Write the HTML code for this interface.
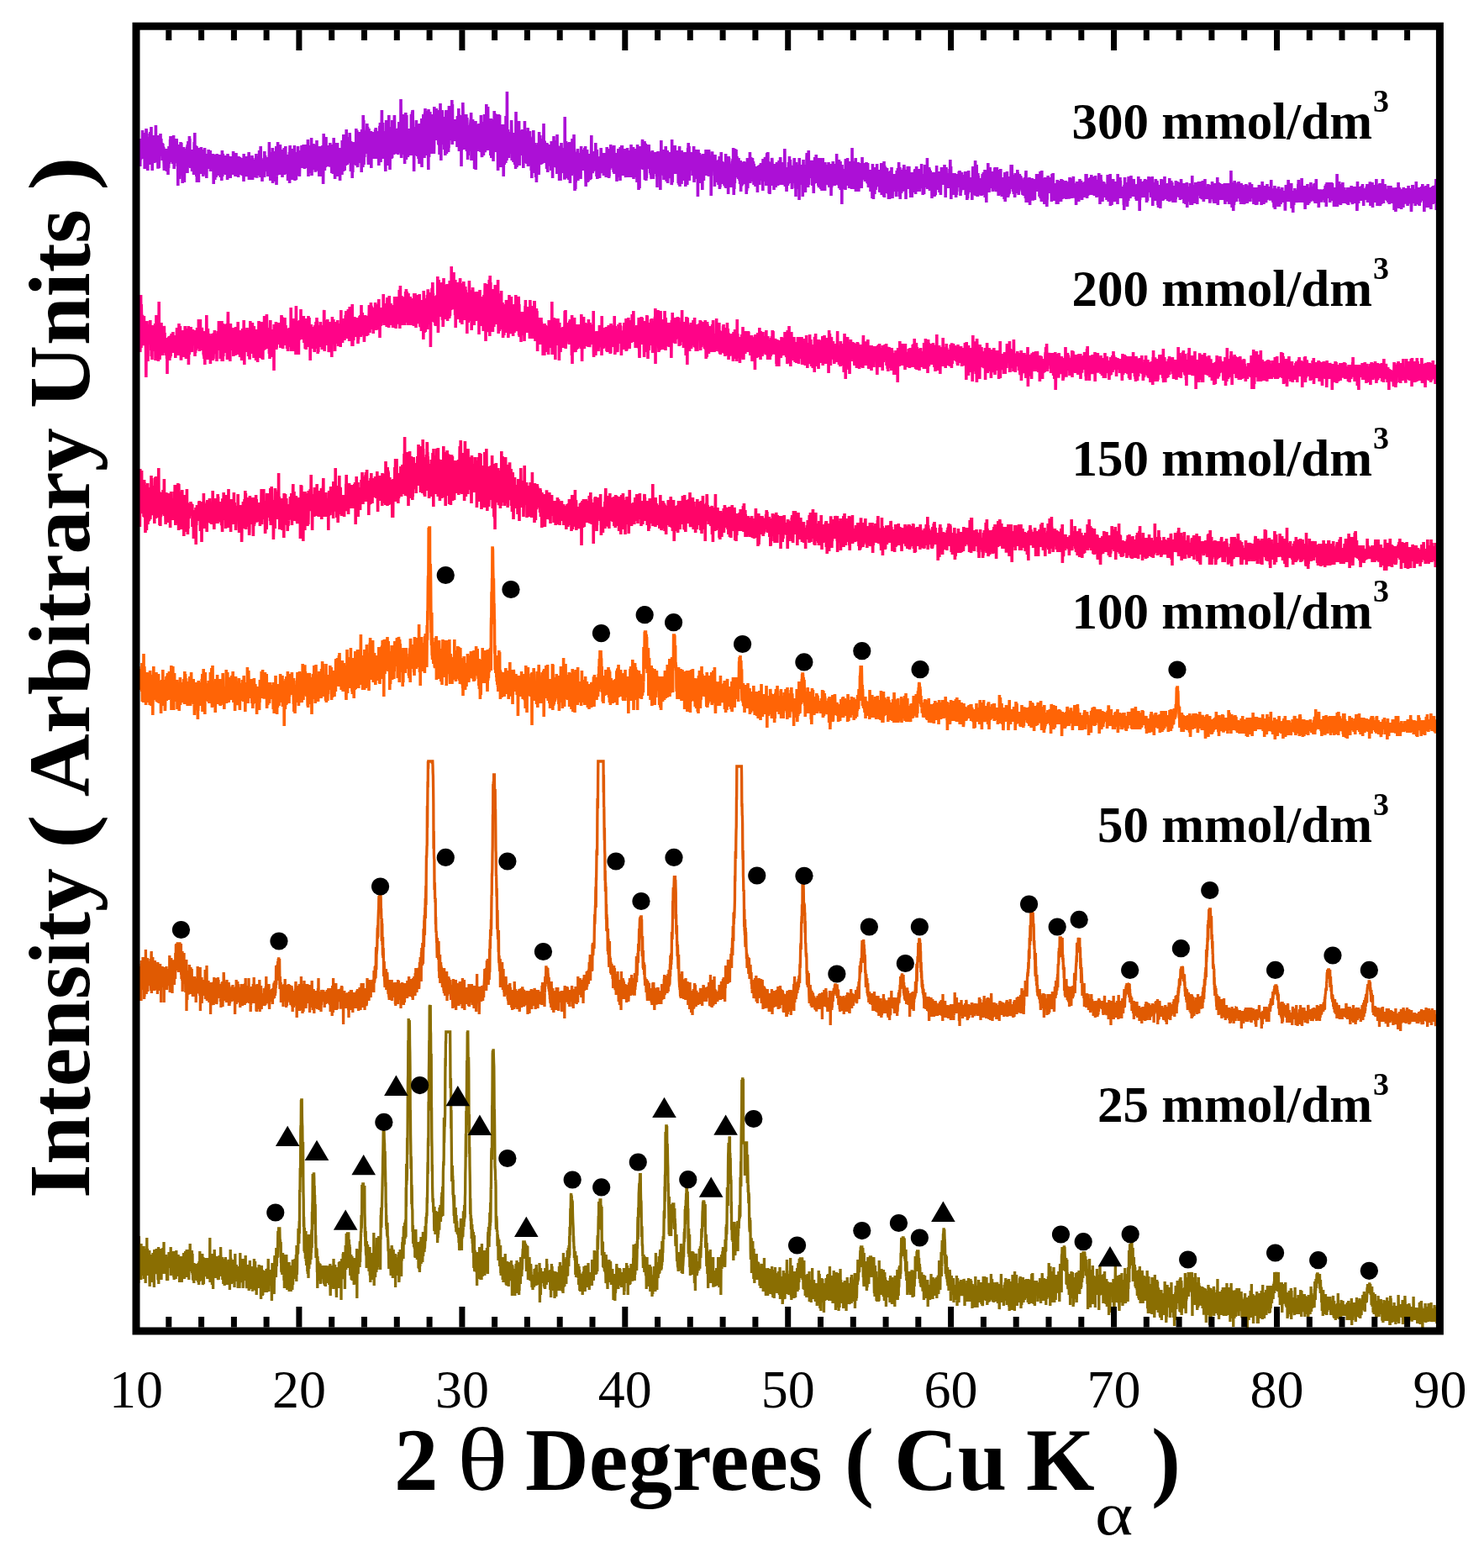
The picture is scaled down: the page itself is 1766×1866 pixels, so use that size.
<!DOCTYPE html>
<html><head><meta charset="utf-8"><title>XRD patterns</title>
<style>html,body{margin:0;padding:0;background:#fff;width:1766px;height:1866px;overflow:hidden}svg{display:block}</style>
</head><body>
<svg width="1766" height="1866" viewBox="0 0 1766 1866">
<rect width="100%" height="100%" fill="#fff"/>
<path fill="none" stroke="#AC10D6" stroke-width="3.6" stroke-linejoin="miter" d="M162.0,170l.2-1 .2 0 .2 16 .2 2 .2-29 .2 23 .2 0 .2-11 .2-14 .2 18 .2-12 .2 19 .2 0 .2 12 .2-23 .2 9 .2-6 .2 9 .2-12 .2 2 .2-7 .2 13 .2 1 .2 19 .2-16 .2-7 .2 15 .2-1 .2-16 .2 7 .2-6 .2 1 .2 3 .2-3 .2-5 .2 12 .2-11 .2-16 .2 14 .2 20 .2-9 .2 3 .2-4 .2-12 .2-9 .2 2 .2 15 .2-3 .2 5 .2-9 .2 33 .2-35 .2 25 .2-20 .2 19 .2 7 .2-1 .2-3 .2-11 .2-29 .2 3 .2 22 .2 8 .2-27 .2 30 .2-13 .2-13 .2 15 .2 25 .2-34 .2 11 .2 1 .2-9 .2 18 .2 4 .2-9 .2 11 .2-16 .2 7 .2-21 .2 30 .2-20 .2-19 .2 20 .2-16 .2 4 .2 22 .2 0 .2-21 .2-15 .2 34 .2-22 .2 23 .2 1 .2-4 .2 20 .2-16 .2-10 .2-4 .2 6 .2 4 .2-20 .2 13 .2 4 .2-19 .2 3 .2 19 .2-20 .2 31 .2-8 .2-2 .2-12 .2-4 .2 15 .2 2 .2 8 .2-44 .2 38 .2 3 .2-16 .2 12 .2-12 .2 1 .2-11 .2 26 .2-7 .2-6 .2 0 .2 9 .2 13 .2 0 .2-15 .2-12 .2 17 .2-28 .2 39 .2-9 .2-16 .2 4 .2-7 .2 14 .2-16 .2 11 .2-8 .2-14 .2 21 .2-5 .2-6 .2-4 .2 9 .2 0 .2-4 .2 3 .2 4 .2-7 .2 21 .2-6 .2 4 .2-18 .2 6 .2 7 .2-2 .2-7 .2 1 .2 15 .2 4 .2 8 .2-21 .2 12 .2 1 .2-6 .2-1 .2-1 .2 10 .2 0 .2-20 .2 6 .2-6 .2 12 .2-8 .2 10 .2 13 .2-23 .2 19 .2-10 .2-5 .2 0 .2 0 .2 9 .2 14 .2-21 .2-5 .2 18 .2-7 .2-19 .2 21 .2-14 .2 6 .2 6 .2-15 .2 4 .2 7 .2-23 .2 13 .2-17 .2 23 .2-5 .2-10 .2 3 .2-11 .2 18 .2-9 .2 10 .2 10 .2-16 .2-7 .2 27 .2-24 .2 22 .2-8 .2 9 .2-19 .2-14 .2 13 .2 8 .2 19 .2-30 .2 15 .2-20 .2 11 .2 17 .2-1 .2-6 .2-4 .2 5 .2 6 .2-12 .2 0 .2 4 .2 2 .2-23 .2 17 .2 0 .2 3 .2-6 .2 19 .2-3 .2-7 .2 33 .2-24 .2 6 .2-10 .2 3 .2 5 .2-19 .2-8 .2 39 .2-41 .2 4 .2 12 .2-4 .2 8 .2 17 .2-9 .2-31 .2 16 .2 9 .2-4 .2-20 .2 15 .2 18 .2-12 .2-6 .2-8 .2 25 .2 16 .2-36 .2 20 .2-11 .2-12 .2-4 .2 19 .2-5 .2-7 .2 10 .2 2 .2 23 .2-29 .2-7 .2-4 .2 17 .2 3 .2-11 .2 12 .2-9 .2-4 .2-3 .2 6 .2 2 .2-7 .2-7 .2-1 .2 24 .2-18 .2 25 .2-34 .2 14 .2-3 .2-10 .2-5 .2 9 .2 22 .2-22 .2 13 .2 1 .2 2 .2-31 .2 18 .2-15 .2 26 .2 3 .2 5 .2-4 .2 5 .2-2 .2-6 .2 6 .2-19 .2 12 .2-13 .2 4 .2 9 .2 13 .2-17 .2 9 .2-6 .2 14 .2-6 .2-13 .2 16 .2-7 .2-4 .2 18 .2-17 .2-6 .2-16 .2 7 .2 25 .2-43 .2 44 .2-26 .2 3 .2 22 .2-28 .2 12 .2-3 .2 7 .2 14 .2 7 .2-36 .2 7 .2 36 .2-18 .2 13 .2-1 .2-18 .2-9 .2 17 .2-4 .2 11 .2-11 .2 20 .2-40 .2-1 .2 12 .2-6 .2 12 .2-8 .2 21 .2-12 .2 3 .2-9 .2 5 .2-3 .2-6 .2 12 .2-22 .2 15 .2-1 .2 18 .2-15 .2-14 .2 16 .2 5 .2 1 .2 4 .2 0 .2-3 .2 9 .2-17 .2 9 .2-3 .2 2 .2 1 .2-7 .2 0 .2 3 .2-22 .2 25 .2 6 .2-11 .2-2 .2 2 .2 12 .2-15 .2 14 .2-23 .2 7 .2 21 .2-20 .2-9 .2 16 .2-7 .2 3 .2 6 .2-10 .2 9 .2-7 .2 2 .2-3 .2-14 .2 8 .2 2 .2 13 .2-15 .2-2 .2 11 .2 5 .2-5 .2-4 .2-12 .2 19 .2 6 .2-13 .2 5 .2-10 .2 2 .2 8 .2-3 .2 6 .2-2 .2-6 .2-1 .2 10 .2-15 .2 15 .2-7 .2-10 .2 4 .2 6 .2 26 .2-24 .2-10 .2 20 .2-18 .2-3 .2 15 .2 6 .2 9 .2-15 .2-10 .2 7 .2 12 .2 2 .2-22 .2 23 .2-18 .2-8 .2 17 .2-5 .2-14 .2 5 .2 9 .2 4 .2-14 .2 20 .2-17 .2-1 .2 15 .2 5 .2-14 .2 2 .2 5 .2 7 .2-14 .2 2 .2-3 .2-10 .2 21 .2-9 .2 15 .2-16 .2 16 .2-10 .2 7 .2-20 .2 5 .2 1 .2 21 .2-13 .2-8 .2-15 .2 11 .2 20 .2-16 .2 9 .2-20 .2 18 .2 6 .2-6 .2-12 .2-1 .2 14 .2-14 .2-3 .2 13 .2-11 .2 0 .2 8 .2 1 .2-11 .2 12 .2 11 .2-5 .2 3 .2-1 .2-7 .2 1 .2-10 .2 0 .2 1 .2-3 .2 27 .2-6 .2-25 .2 19 .2-5 .2 3 .2 0 .2 4 .2-18 .2 2 .2 4 .2 12 .2-8 .2 0 .2-2 .2 9 .2-4 .2 9 .2 4 .2-10 .2-13 .2-3 .2 9 .2 3 .2-1 .2 2 .2-2 .2 11 .2-11 .2 11 .2-9 .2-4 .2 3 .2-5 .2 6 .2-19 .2 19 .2 7 .2 1 .2-15 .2-2 .2 18 .2-21 .2 11 .2-2 .2 5 .2 5 .2 4 .2-27 .2 13 .2-14 .2 11 .2-11 .2 14 .2-2 .2 6 .2 3 .2-4 .2 5 .2 3 .2-10 .2 1 .2-6 .2-1 .2 13 .2 7 .2-12 .2-13 .2 6 .2 8 .2-1 .2-8 .2 8 .2 0 .2-12 .2 3 .2 13 .2-12 .2 5 .2 12 .2-3 .2-1 .2-16 .2 4 .2 6 .2 0 .2 6 .2 0 .2 2 .2 3 .2-12 .2-7 .2 15 .2-6 .2 1 .2-6 .2 3 .2 19 .2-33 .2 20 .2-3 .2 3 .2-9 .2 4 .2-4 .2 1 .2-1 .2 16 .2-2 .2-6 .2-1 .2-8 .2-7 .2 15 .2-10 .2 3 .2-3 .2 4 .2 0 .2 14 .2 1 .2-11 .2 5 .2-5 .2 3 .2-5 .2 6 .2-15 .2-7 .2 33 .2-12 .2-1 .2 4 .2-3 .2 5 .2-15 .2 4 .2 14 .2-7 .2-8 .2-5 .2 24 .2-6 .2-4 .2-15 .2 6 .2-4 .2-6 .2 10 .2 1 .2 18 .2-26 .2 18 .2-5 .2 2 .2-4 .2 6 .2-8 .2 9 .2-3 .2-13 .2 5 .2 16 .2-1 .2-20 .2 9 .2 10 .2-9 .2-9 .2 10 .2-4 .2-14 .2 17 .2-3 .2 4 .2 9 .2 0 .2-2 .2 1 .2-21 .2 0 .2 11 .2-3 .2 3 .2-7 .2 9 .2 8 .2-14 .2 0 .2-3 .2-13 .2 15 .2 0 .2 4 .2-10 .2 19 .2-3 .2 7 .2-37 .2 15 .2 12 .2-2 .2 0 .2-4 .2 9 .2-12 .2 2 .2 22 .2-23 .2 11 .2-7 .2 5 .2-6 .2 8 .2 2 .2-11 .2-3 .2-1 .2-3 .2 20 .2 3 .2-31 .2 9 .2 8 .2 6 .2-18 .2 6 .2 6 .2 5 .2-15 .2 17 .2-17 .2 16 .2-14 .2 2 .2 10 .2-3 .2 3 .2-8 .2-1 .2 13 .2 5 .2-12 .2 0 .2-11 .2 23 .2-20 .2 7 .2 9 .2-37 .2 22 .2-9 .2 8 .2 4 .2-13 .2 23 .2 11 .2-24 .2 3 .2 15 .2-11 .2-14 .2 16 .2-11 .2 17 .2-17 .2 19 .2-24 .2 9 .2-17 .2 42 .2-22 .2-3 .2 6 .2-2 .2 3 .2 16 .2-6 .2-19 .2 7 .2-4 .2 5 .2-14 .2 6 .2-11 .2 19 .2-12 .2 18 .2-10 .2-15 .2 29 .2-35 .2 46 .2-11 .2-1 .2 1 .2-5 .2-12 .2-8 .2 10 .2-25 .2 27 .2-5 .2 3 .2-7 .2-9 .2 15 .2-5 .2 0 .2 4 .2 8 .2 8 .2-28 .2 13 .2-21 .2 8 .2 0 .2 9 .2 1 .2 4 .2-3 .2-1 .2-12 .2 18 .2-15 .2 16 .2-9 .2 23 .2-30 .2 15 .2 6 .2-16 .2 2 .2 20 .2-7 .2-6 .2-9 .2 0 .2-10 .2 32 .2-15 .2 6 .2 7 .2-6 .2-9 .2 16 .2-33 .2 32 .2-8 .2-5 .2 7 .2 5 .2-18 .2 10 .2-7 .2 3 .2 10 .2-13 .2-6 .2 7 .2 24 .2-7 .2-6 .2 8 .2-18 .2-5 .2-2 .2 13 .2 0 .2-17 .2 37 .2-17 .2-25 .2-3 .2 21 .2-1 .2-14 .2 12 .2-1 .2-1 .2 14 .2-26 .2 12 .2-12 .2 14 .2 1 .2 22 .2-33 .2 12 .2-4 .2 3 .2-8 .2-6 .2 6 .2-1 .2 19 .2-12 .2 18 .2-25 .2-10 .2 13 .2 3 .2 26 .2-34 .2 21 .2-13 .2-3 .2 17 .2-16 .2 27 .2-13 .2 1 .2-10 .2 6 .2 7 .2-19 .2 7 .2-9 .2 7 .2 5 .2-22 .2 20 .2-7 .2 15 .2-21 .2 8 .2 2 .2 18 .2-16 .2 17 .2-8 .2-19 .2-4 .2 11 .2 9 .2-9 .2-9 .2 16 .2-9 .2-6 .2 11 .2-5 .2-15 .2 16 .2 5 .2-13 .2-8 .2 23 .2 4 .2-14 .2 4 .2-13 .2 11 .2-16 .2 12 .2 6 .2-10 .2 5 .2 3 .2 13 .2-20 .2-9 .2 7 .2 0 .2 12 .2 9 .2-27 .2 15 .2 4 .2-9 .2 2 .2-7 .2 21 .2-5 .2-19 .2 14 .2-16 .2 18 .2 6 .2-31 .2 17 .2 2 .2 25 .2-16 .2 1 .2-9 .2 4 .2 5 .2-5 .2 5 .2-8 .2-12 .2 16 .2-2 .2-16 .2 5 .2 4 .2 22 .2-9 .2 11 .2-42 .2 28 .2 17 .2-25 .2 9 .2-14 .2 14 .2-5 .2-15 .2 28 .2-12 .2 5 .2-23 .2 27 .2-15 .2 14 .2-20 .2 25 .2-16 .2 4 .2-6 .2-12 .2 16 .2 15 .2 0 .2-17 .2 18 .2-15 .2-11 .2 11 .2 2 .2 10 .2-34 .2 36 .2-3 .2-3 .2-21 .2-2 .2 28 .2-14 .2 14 .2-24 .2 20 .2-1 .2-20 .2 11 .2 22 .2-27 .2 20 .2-12 .2-10 .2 4 .2-6 .2 31 .2-36 .2 3 .2 14 .2 10 .2-25 .2 5 .2 7 .2-2 .2 5 .2-8 .2 7 .2 8 .2-20 .2-5 .2 9 .2 10 .2 27 .2-19 .2-4 .2-37 .2 11 .2 29 .2-15 .2-1 .2 16 .2 4 .2-7 .2-4 .2-22 .2 18 .2 11 .2-12 .2-14 .2-10 .2 23 .2 9 .2-14 .2 6 .2 7 .2-10 .2 4 .2-6 .2-1 .2 13 .2 1 .2-8 .2-14 .2 21 .2 4 .2-1 .2 0 .2-8 .2-2 .2 8 .2 1 .2 0 .2-16 .2-10 .2 24 .2 0 .2-1 .2 3 .2-23 .2 10 .2 14 .2-12 .2 3 .2 18 .2-7 .2-14 .2 9 .2-11 .2 12 .2-19 .2-4 .2 35 .2-6 .2-20 .2 15 .2-32 .2 27 .2 12 .2-4 .2-7 .2-2 .2 3 .2 20 .2-28 .2 8 .2 6 .2-18 .2 26 .2-37 .2 19 .2-3 .2 4 .2-13 .2 10 .2 8 .2-13 .2 19 .2-31 .2 20 .2 20 .2-29 .2 12 .2-5 .2-2 .2 13 .2-22 .2 20 .2-21 .2 12 .2 14 .2-18 .2 7 .2 24 .2-24 .2 1 .2 4 .2-1 .2-7 .2-3 .2 5 .2 1 .2 11 .2-15 .2 11 .2 10 .2-41 .2 16 .2-1 .2 1 .2 18 .2-20 .2 6 .2 17 .2-44 .2 10 .2 1 .2 13 .2 6 .2-16 .2 26 .2 3 .2-28 .2 3 .2-6 .2 20 .2-13 .2 16 .2 2 .2-13 .2-10 .2-20 .2 34 .2 2 .2-6 .2-11 .2 23 .2-14 .2 9 .2 1 .2 2 .2-4 .2-27 .2 23 .2-5 .2-6 .2-4 .2-1 .2 5 .2 3 .2 4 .2-24 .2 9 .2 22 .2 5 .2-16 .2-3 .2 29 .2-36 .2 26 .2-3 .2-5 .2 8 .2-5 .2-10 .2 11 .2 22 .2-28 .2 10 .2 11 .2-35 .2 11 .2-12 .2 14 .2-8 .2 21 .2-18 .2 12 .2-6 .2 3 .2-17 .2 24 .2-13 .2-2 .2-7 .2 16 .2-12 .2-3 .2 9 .2-29 .2 44 .2-21 .2 18 .2-28 .2-11 .2 14 .2 17 .2 11 .2 2 .2-4 .2-24 .2 2 .2 12 .2 4 .2-22 .2 0 .2-6 .2 33 .2-28 .2 16 .2-3 .2 5 .2-27 .2 20 .2 11 .2-4 .2-13 .2 15 .2-7 .2-8 .2 5 .2 29 .2-37 .2-14 .2 29 .2 1 .2-4 .2-8 .2 15 .2 12 .2-7 .2-55 .2 24 .2 15 .2-33 .2 53 .2-13 .2-22 .2-3 .2 29 .2-20 .2 9 .2-19 .2 0 .2 8 .2 7 .2 11 .2-18 .2 17 .2-16 .2-6 .2 6 .2 0 .2-11 .2-8 .2 32 .2-3 .2 7 .2-32 .2 17 .2-14 .2 37 .2 5 .2-15 .2 11 .2-39 .2 18 .2 5 .2 4 .2-6 .2 8 .2-6 .2-8 .2 21 .2-23 .2 16 .2-2 .2-24 .2 9 .2 35 .2-28 .2 9 .2-16 .2 21 .2-14 .2 13 .2-1 .2-24 .2 11 .2 9 .2-22 .2 14 .2-4 .2 13 .2-24 .2 21 .2 11 .2-24 .2 0 .2 17 .2-17 .2 14 .2 10 .2-35 .2 24 .2 11 .2-37 .2 22 .2 4 .2-12 .2 9 .2-19 .2 15 .2-11 .2 20 .2-10 .2 1 .2 17 .2-13 .2-14 .2 5 .2-7 .2 18 .2 11 .2 9 .2-16 .2-22 .2 21 .2-25 .2-5 .2 5 .2 20 .2-29 .2 31 .2-9 .2 25 .2-24 .2-5 .2-15 .2 8 .2 15 .2-23 .2-18 .2 30 .2 5 .2-1 .2-2 .2-7 .2-10 .2 43 .2-10 .2-5 .2-12 .2-5 .2 8 .2 13 .2-7 .2-2 .2 9 .2-18 .2-2 .2 7 .2 3 .2 28 .2 8 .2-48 .2 4 .2 11 .2-28 .2 20 .2 28 .2-30 .2 4 .2 22 .2 10 .2-29 .2 3 .2 5 .2 9 .2-39 .2 30 .2-11 .2 10 .2 5 .2-43 .2 49 .2-14 .2-6 .2 13 .2 0 .2 23 .2-19 .2 1 .2-8 .2 6 .2-23 .2 25 .2-9 .2 9 .2 5 .2-38 .2 28 .2 4 .2 5 .2-45 .2 35 .2-26 .2 9 .2 16 .2 3 .2-7 .2-7 .2-1 .2 18 .2 1 .2-11 .2-28 .2-8 .2 10 .2 16 .2 19 .2-18 .2-2 .2 6 .2-2 .2-3 .2-5 .2 1 .2 8 .2 3 .2-9 .2 22 .2-30 .2 24 .2-18 .2 20 .2-24 .2 15 .2 14 .2-2 .2-25 .2 4 .2-9 .2 12 .2-19 .2 18 .2-7 .2 11 .2-3 .2 2 .2 1 .2 14 .2-18 .2-5 .2 24 .2-64 .2 32 .2-1 .2 39 .2-15 .2-1 .2-9 .2 6 .2 15 .2-48 .2 12 .2 21 .2-20 .2 24 .2 1 .2 5 .2-43 .2 28 .2 13 .2-23 .2 22 .2-19 .2-14 .2 52 .2-56 .2 23 .2-3 .2-7 .2 0 .2-18 .2 31 .2-21 .2 46 .2-35 .2-18 .2 31 .2 8 .2 5 .2-23 .2 5 .2-1 .2 12 .2 13 .2-5 .2-21 .2 4 .2 2 .2-7 .2-7 .2 10 .2 15 .2 0 .2-23 .2 21 .2-8 .2 8 .2 6 .2-3 .2 6 .2-3 .2 1 .2-14 .2-32 .2-1 .2 31 .2-2 .2-21 .2 2 .2-13 .2 52 .2-54 .2 2 .2 41 .2 4 .2-22 .2 16 .2 1 .2-17 .2 48 .2-29 .2-4 .2-6 .2 6 .2-20 .2 12 .2 4 .2 3 .2-11 .2 9 .2-13 .2 30 .2-38 .2-4 .2 21 .2 11 .2-19 .2 9 .2-1 .2 5 .2 17 .2-38 .2 5 .2 11 .2-5 .2 11 .2 19 .2-15 .2-16 .2 18 .2-2 .2 21 .2-48 .2 23 .2 11 .2-3 .2-9 .2-13 .2-4 .2-1 .2 17 .2 4 .2-12 .2-5 .2 11 .2-25 .2 58 .2-47 .2 14 .2-4 .2-1 .2 4 .2-20 .2 43 .2-25 .2-27 .2 44 .2-12 .2-11 .2 4 .2-16 .2 43 .2-28 .2-11 .2-15 .2 8 .2-13 .2 25 .2-5 .2-6 .2 10 .2 8 .2-5 .2-7 .2 17 .2-11 .2 6 .2-6 .2-3 .2 33 .2-39 .2-14 .2 4 .2 6 .2 44 .2 16 .2-72 .2 42 .2-14 .2 29 .2-22 .2-14 .2 21 .2-11 .2-1 .2-27 .2 30 .2-2 .2-2 .2-5 .2 10 .2-9 .2-16 .2 23 .2-26 .2 25 .2-2 .2 24 .2-13 .2 4 .2-3 .2-20 .2 17 .2 2 .2-30 .2 10 .2 28 .2 2 .2 3 .2-8 .2-48 .2 18 .2-14 .2 3 .2 30 .2-18 .2-2 .2-1 .2 1 .2-6 .2-2 .2 31 .2-14 .2-24 .2 16 .2 8 .2-12 .2 19 .2-15 .2 12 .2 4 .2-7 .2-6 .2 13 .2 5 .2 6 .2-13 .2-27 .2 41 .2-42 .2 7 .2 46 .2-26 .2 25 .2-28 .2-2 .2-30 .2 31 .2 10 .2-4 .2 31 .2-23 .2-2 .2 6 .2-8 .2 2 .2-19 .2-16 .2 23 .2-2 .2 9 .2 8 .2-12 .2-18 .2 22 .2 9 .2-27 .2 27 .2-22 .2 3 .2 27 .2-22 .2 15 .2-2 .2-7 .2 23 .2-14 .2 3 .2-9 .2-31 .2-3 .2 23 .2 7 .2 22 .2-10 .2-20 .2 6 .2 2 .2 4 .2-1 .2-17 .2 19 .2-1 .2-12 .2 28 .2-11 .2 6 .2-20 .2-30 .2 41 .2-25 .2-2 .2-2 .2-4 .2 19 .2-21 .2-2 .2 3 .2 11 .2-13 .2 9 .2 20 .2-19 .2 6 .2 7 .2-35 .2 48 .2 5 .2-48 .2 25 .2 10 .2-10 .2 12 .2-11 .2 1 .2 12 .2-8 .2 8 .2-17 .2 4 .2 0 .2 8 .2 10 .2-18 .2-2 .2-6 .2 25 .2-15 .2-8 .2 15 .2-5 .2 13 .2-9 .2 2 .2-14 .2-2 .2 31 .2-22 .2-15 .2 28 .2-5 .2-3 .2-10 .2 10 .2 1 .2-30 .2 30 .2-23 .2 44 .2-13 .2-23 .2 3 .2 3 .2-6 .2 3 .2-10 .2 39 .2-17 .2-8 .2 19 .2-22 .2 50 .2-56 .2 37 .2-41 .2 7 .2 5 .2 27 .2-27 .2 14 .2-42 .2 11 .2 25 .2-8 .2 23 .2-15 .2 14 .2-14 .2-15 .2 35 .2-38 .2-3 .2 27 .2-14 .2 2 .2-2 .2 23 .2-33 .2-4 .2 18 .2-18 .2 24 .2 6 .2 14 .2-29 .2-11 .2 10 .2 28 .2-13 .2 25 .2-37 .2 7 .2 25 .2-34 .2 0 .2 12 .2 2 .2 1 .2-8 .2 9 .2-5 .2-13 .2 21 .2 5 .2 5 .2-32 .2-3 .2-3 .2 5 .2-13 .2 22 .2 35 .2-36 .2 6 .2-14 .2 11 .2-3 .2 9 .2-3 .2-19 .2 33 .2 8 .2-32 .2 5 .2-1 .2 12 .2 16 .2-31 .2-4 .2 53 .2-27 .2 3 .2-27 .2 24 .2 5 .2-19 .2-16 .2 58 .2-32 .2-20 .2 6 .2 11 .2-16 .2 0 .2 4 .2 18 .2 4 .2-6 .2-12 .2 21 .2-8 .2-24 .2 25 .2-3 .2-15 .2 7 .2-15 .2 9 .2 5 .2 8 .2 7 .2 2 .2-11 .2-7 .2-7 .2 15 .2 13 .2-3 .2-41 .2 33 .2-8 .2 10 .2-2 .2 16 .2 1 .2-11 .2-9 .2-22 .2 38 .2-19 .2 12 .2-21 .2 17 .2 13 .2-17 .2-13 .2 18 .2-14 .2-23 .2 36 .2-31 .2 9 .2 31 .2-2 .2-24 .2-8 .2 7 .2 15 .2-25 .2 19 .2-39 .2 44 .2-34 .2 4 .2 26 .2-1 .2-13 .2-7 .2 36 .2-52 .2 28 .2-4 .2 6 .2-12 .2 9 .2-1 .2-11 .2 12 .2 3 .2 0 .2 14 .2-25 .2 23 .2-12 .2-5 .2 33 .2-14 .2-30 .2 24 .2 4 .2 19 .2-29 .2-2 .2 3 .2 20 .2-35 .2 0 .2-3 .2 15 .2 14 .2-18 .2 39 .2-17 .2-20 .2-1 .2 1 .2 10 .2-33 .2 44 .2 5 .2-45 .2-1 .2 20 .2 3 .2-2 .2-17 .2 17 .2-13 .2 5 .2 21 .2-33 .2 34 .2-28 .2-1 .2 4 .2 13 .2 23 .2-12 .2 14 .2 20 .2-49 .2 2 .2 10 .2-30 .2 47 .2-22 .2 11 .2-11 .2 10 .2-34 .2 62 .2-42 .2-1 .2 34 .2-21 .2 9 .2-14 .2 35 .2-36 .2-15 .2 19 .2-17 .2 17 .2-3 .2 11 .2-2 .2-1 .2 11 .2-9 .2-26 .2 13 .2-4 .2 53 .2-26 .2-11 .2-23 .2 19 .2 27 .2-28 .2-12 .2 24 .2-24 .2 16 .2-6 .2-8 .2 36 .2-56 .2 43 .2-10 .2 1 .2-8 .2 27 .2-20 .2-62 .2 63 .2-10 .2 11 .2 2 .2-21 .2 5 .2 2 .2 6 .2 9 .2 12 .2-20 .2-9 .2-2 .2 9 .2 17 .2-21 .2 15 .2-14 .2 0 .2 11 .2 3 .2 6 .2-6 .2-16 .2 1 .2-19 .2 11 .2 7 .2 30 .2-24 .2 24 .2-27 .2 19 .2-5 .2-2 .2-13 .2 12 .2 18 .2-18 .2-16 .2-1 .2 14 .2-8 .2 2 .2 0 .2 30 .2-20 .2-13 .2-4 .2 7 .2 35 .2-35 .2-33 .2 31 .2 12 .2-18 .2 14 .2 27 .2-13 .2-3 .2-33 .2 15 .2 3 .2 1 .2 28 .2-5 .2-25 .2 11 .2-22 .2 28 .2-40 .2 42 .2-31 .2 42 .2-8 .2-22 .2 0 .2-12 .2 2 .2 0 .2 2 .2 20 .2-16 .2 19 .2-17 .2 8 .2 3 .2-4 .2-17 .2 30 .2-31 .2 24 .2-2 .2-9 .2 4 .2 5 .2 24 .2-25 .2-13 .2 25 .2 4 .2-17 .2 14 .2 6 .2-50 .2 41 .2-18 .2-4 .2 4 .2 6 .2-13 .2 7 .2-11 .2 21 .2 1 .2-12 .2 6 .2 23 .2-35 .2 31 .2-1 .2-9 .2 8 .2-37 .2 46 .2-35 .2 32 .2 0 .2-25 .2 18 .2-1 .2-4 .2-3 .2 6 .2-26 .2-4 .2 41 .2-34 .2 2 .2 22 .2-12 .2 1 .2 4 .2 23 .2-13 .2-7 .2 29 .2-23 .2-4 .2 11 .2-17 .2-12 .2 6 .2 6 .2 27 .2-5 .2-46 .2 10 .2 18 .2 3 .2-2 .2-6 .2 21 .2-11 .2-18 .2 14 .2 10 .2 2 .2-15 .2-9 .2 39 .2-31 .2 8 .2-12 .2 41 .2-12 .2-28 .2 17 .2-14 .2 13 .2-4 .2 2 .2 16 .2-37 .2 18 .2-18 .2 23 .2-23 .2 38 .2-18 .2-33 .2 27 .2-22 .2 23 .2-5 .2-19 .2 17 .2 5 .2 11 .2-27 .2 29 .2-13 .2-12 .2 14 .2-12 .2 6 .2 14 .2 2 .2-4 .2-26 .2 10 .2 9 .2-4 .2 1 .2-8 .2-12 .2 7 .2-21 .2 31 .2 11 .2-22 .2 27 .2-11 .2-15 .2 15 .2 4 .2-4 .2-7 .2 8 .2-5 .2 12 .2-18 .2 9 .2-6 .2 15 .2 10 .2-31 .2 7 .2-6 .2 13 .2 10 .2 11 .2-25 .2 14 .2-7 .2 1 .2-13 .2-3 .2 16 .2 4 .2-12 .2 14 .2-16 .2 18 .2-3 .2-8 .2-2 .2 13 .2 0 .2-8 .2-10 .2 25 .2-5 .2-30 .2 12 .2 13 .2 0 .2-22 .2 13 .2 0 .2 28 .2-29 .2 6 .2-9 .2 16 .2-12 .2 8 .2-30 .2 31 .2 2 .2 2 .2-30 .2 17 .2 15 .2-10 .2-3 .2-1 .2-1 .2 2 .2 2 .2 4 .2-13 .2-1 .2 11 .2 11 .2-9 .2 16 .2-47 .2 24 .2 2 .2-13 .2 8 .2 10 .2 11 .2-28 .2 28 .2-9 .2 7 .2-5 .2-12 .2 32 .2-38 .2 16 .2-16 .2 16 .2-11 .2 16 .2 17 .2-17 .2 1 .2-22 .2 0 .2-7 .2 10 .2-1 .2 19 .2 7 .2-21 .2 5 .2-13 .2 12 .2 11 .2 3 .2-18 .2 22 .2-7 .2-2 .2 7 .2-17 .2-5 .2 19 .2 11 .2 0 .2-73 .2 57 .2-8 .2-13 .2 18 .2-1 .2 10 .2-34 .2 10 .2 8 .2 25 .2 1 .2-9 .2 1 .2-17 .2 5 .2 2 .2-5 .2-9 .2 20 .2 5 .2-35 .2 18 .2 26 .2-34 .2 1 .2-1 .2-11 .2 39 .2-5 .2-12 .2 27 .2-47 .2 19 .2 3 .2-10 .2 9 .2 1 .2-9 .2 17 .2 8 .2-27 .2 5 .2-6 .2-16 .2 18 .2 6 .2 18 .2-24 .2 1 .2 22 .2-20 .2 13 .2-14 .2-25 .2 21 .2-2 .2 17 .2-4 .2 35 .2-46 .2 7 .2 6 .2 31 .2-44 .2 36 .2-35 .2 6 .2 25 .2-30 .2-1 .2 11 .2 11 .2-22 .2 17 .2-14 .2-8 .2 19 .2 19 .2-10 .2-21 .2-2 .2 17 .2 3 .2-20 .2 28 .2-17 .2 8 .2 5 .2 2 .2-9 .2-6 .2-8 .2 10 .2 18 .2-28 .2-3 .2-8 .2 25 .2-8 .2-10 .2 21 .2-5 .2-3 .2-11 .2 14 .2-19 .2 11 .2 14 .2-5 .2-12 .2 2 .2 1 .2-5 .2 5 .2-2 .2-3 .2 12 .2-20 .2 5 .2 2 .2 3 .2-12 .2 30 .2 9 .2 9 .2-43 .2 13 .2-5 .2 4 .2 12 .2-11 .2-14 .2 17 .2 22 .2-20 .2 17 .2-18 .2 5 .2 15 .2-33 .2 31 .2-2 .2-20 .2 17 .2-16 .2 8 .2-5 .2-11 .2 29 .2-1 .2-17 .2 9 .2-1 .2-12 .2 21 .2-10 .2-24 .2-18 .2 27 .2 10 .2-4 .2-2 .2-7 .2 5 .2 16 .2-2 .2-13 .2-3 .2 16 .2-17 .2 13 .2-1 .2-13 .2 7 .2 4 .2-10 .2-7 .2 14 .2-2 .2 11 .2-7 .2 4 .2-30 .2 12 .2 17 .2 3 .2-23 .2 14 .2 17 .2-27 .2-5 .2 16 .2 19 .2-14 .2 3 .2 6 .2-16 .2 5 .2-10 .2 12 .2-1 .2 1 .2-6 .2 11 .2-14 .2 13 .2 9 .2-20 .2 8 .2-14 .2 6 .2 12 .2-18 .2 3 .2-13 .2 10 .2 19 .2 1 .2-3 .2-19 .2 9 .2 11 .2-2 .2-4 .2 8 .2-22 .2 15 .2 1 .2-16 .2 5 .2 20 .2-9 .2-18 .2 11 .2 0 .2-1 .2 12 .2-1 .2 6 .2-27 .2 21 .2-20 .2 21 .2-3 .2 10 .2-9 .2-10 .2 5 .2 5 .2-27 .2 6 .2 14 .2 4 .2 0 .2-22 .2 28 .2-13 .2 6 .2-1 .2-12 .2-5 .2 32 .2-20 .2 18 .2-31 .2 5 .2-2 .2 20 .2-12 .2-9 .2 19 .2-20 .2-8 .2 9 .2-1 .2 0 .2 4 .2-10 .2 15 .2-8 .2 13 .2-1 .2-3 .2-7 .2 4 .2-4 .2 5 .2 11 .2 3 .2 3 .2-13 .2 10 .2-29 .2 34 .2-5 .2-20 .2 11 .2 2 .2-7 .2-2 .2 0 .2 6 .2-3 .2-7 .2 16 .2 2 .2-3 .2 3 .2 16 .2-14 .2-9 .2-6 .2 11 .2 8 .2-20 .2 15 .2-15 .2-9 .2 12 .2 22 .2-16 .2-14 .2 17 .2 2 .2-1 .2-18 .2 23 .2-18 .2 29 .2-40 .2 9 .2 5 .2-10 .2 12 .2-10 .2-1 .2 17 .2-24 .2 28 .2-10 .2-18 .2 27 .2 7 .2-19 .2 21 .2-14 .2-1 .2 9 .2-22 .2 17 .2-13 .2 8 .2 0 .2-16 .2 14 .2-8 .2 10 .2-1 .2-14 .2 4 .2 28 .2 1 .2-21 .2 6 .2 1 .2-17 .2 24 .2-10 .2-4 .2 16 .2-11 .2-19 .2 11 .2-1 .2-4 .2 2 .2 0 .2 1 .2 26 .2-17 .2 8 .2 1 .2 7 .2-16 .2-1 .2 3 .2-17 .2 6 .2 21 .2-6 .2-10 .2-5 .2 11 .2-24 .2 8 .2 31 .2-15 .2-3 .2-9 .2 5 .2-8 .2 15 .2-1 .2-5 .2 18 .2-9 .2-24 .2 24 .2 14 .2-21 .2 13 .2-9 .2-12 .2 1 .2 2 .2-10 .2 15 .2-8 .2 27 .2-17 .2-14 .2-2 .2 29 .2-14 .2-14 .2 8 .2 9 .2-1 .2 22 .2-18 .2-11 .2-16 .2 28 .2-1 .2-6 .2 11 .2-9 .2 2 .2 29 .2-46 .2 24 .2 0 .2-18 .2 38 .2-50 .2 23 .2-17 .2-2 .2 14 .2-5 .2 9 .2-6 .2-6 .2 1 .2-5 .2 12 .2 9 .2-15 .2 0 .2 3 .2-21 .2-2 .2 17 .2 15 .2 4 .2-3 .2-11 .2-6 .2 5 .2-7 .2 6 .2 5 .2-7 .2-16 .2 35 .2 11 .2-36 .2-3 .2 25 .2-29 .2 2 .2 21 .2 21 .2-15 .2-26 .2 38 .2-33 .2 17 .2-24 .2 23 .2 0 .2-20 .2 0 .2 26 .2-3 .2-17 .2 9 .2 6 .2-20 .2-4 .2 19 .2 0 .2 6 .2-15 .2 0 .2 1 .2 8 .2 15 .2-13 .2-9 .2 24 .2-19 .2 13 .2 9 .2 2 .2-28 .2-3 .2 0 .2 13 .2 10 .2-26 .2 9 .2 2 .2-4 .2 13 .2 14 .2-25 .2-1 .2-2 .2 5 .2 12 .2-15 .2 20 .2-15 .2-11 .2 9 .2 9 .2-7 .2-11 .2 17 .2-15 .2 5 .2 13 .2 1 .2-4 .2-13 .2 25 .2-21 .2 34 .2-38 .2-2 .2 8 .2 12 .2-23 .2 16 .2-14 .2 10 .2 12 .2 0 .2-20 .2 11 .2 5 .2-13 .2 1 .2 5 .2 3 .2-1 .2 31 .2-39 .2 4 .2 15 .2-8 .2-31 .2 24 .2 13 .2-11 .2-7 .2 9 .2 13 .2-11 .2-12 .2-3 .2-4 .2 19 .2 9 .2-7 .2 10 .2-20 .2 25 .2-35 .2 27 .2-14 .2-1 .2-8 .2 6 .2 13 .2-17 .2 12 .2-11 .2-12 .2 27 .2-14 .2 6 .2 18 .2 5 .2-31 .2 9 .2 15 .2-17 .2-13 .2 29 .2 10 .2-15 .2-13 .2-6 .2 4 .2 3 .2 1 .2-6 .2 3 .2 16 .2-11 .2 3 .2 1 .2 13 .2 1 .2-13 .2-18 .2 31 .2-7 .2-10 .2 16 .2-11 .2-7 .2 27 .2-2 .2-52 .2 46 .2-17 .2 22 .2-35 .2 19 .2-12 .2 5 .2 0 .2 7 .2-18 .2 4 .2 9 .2-13 .2 11 .2-14 .2 13 .2-16 .2-4 .2 15 .2 19 .2-7 .2 6 .2-10 .2-5 .2 7 .2-19 .2 11 .2-8 .2 23 .2-10 .2-10 .2 6 .2 11 .2-11 .2 3 .2 4 .2-7 .2 27 .2-21 .2-12 .2 1 .2 34 .2-25 .2-14 .2-7 .2 27 .2 21 .2-21 .2-10 .2 17 .2-17 .2 0 .2 1 .2-3 .2-10 .2 18 .2 22 .2-40 .2 4 .2 18 .2-9 .2 3 .2 4 .2 4 .2-5 .2 6 .2 1 .2-15 .2 17 .2-9 .2-13 .2 30 .2-25 .2 15 .2-14 .2 19 .2-29 .2 13 .2-1 .2-2 .2 31 .2-41 .2 8 .2 4 .2 20 .2-15 .2-10 .2 12 .2-10 .2 2 .2 28 .2-31 .2 7 .2 3 .2-23 .2 20 .2-15 .2-11 .2 31 .2-6 .2 7 .2-28 .2 41 .2-4 .2-26 .2 16 .2-10 .2 12 .2-5 .2-2 .2 0 .2-10 .2-3 .2 6 .2 11 .2-10 .2 4 .2-13 .2 12 .2 6 .2-7 .2-11 .2 28 .2-11 .2-16 .2 20 .2-13 .2 9 .2-9 .2-15 .2 13 .2 30 .2-11 .2-12 .2-8 .2-6 .2 7 .2 14 .2 5 .2 7 .2-35 .2 7 .2 14 .2-13 .2 17 .2-16 .2 15 .2-14 .2 24 .2-18 .2-7 .2 16 .2-13 .2 44 .2-32 .2-5 .2-19 .2 30 .2 1 .2-22 .2 2 .2 18 .2 8 .2-33 .2 4 .2 19 .2 13 .2-33 .2 15 .2 18 .2-21 .2 14 .2-2 .2-7 .2-15 .2 20 .2-4 .2 9 .2-26 .2 22 .2 18 .2-27 .2-15 .2 19 .2-20 .2 17 .2 6 .2-1 .2 10 .2-20 .2 8 .2 4 .2-10 .2-2 .2 9 .2-3 .2-4 .2-2 .2 3 .2 2 .2 4 .2-26 .2 12 .2 2 .2 17 .2-3 .2-16 .2-2 .2 5 .2 5 .2-13 .2-1 .2 7 .2 9 .2 9 .2-4 .2-20 .2-5 .2 30 .2-32 .2 14 .2-4 .2 17 .2-7 .2 0 .2 2 .2-15 .2 11 .2-3 .2 17 .2-22 .2 2 .2 43 .2-34 .2 10 .2-11 .2-2 .2 0 .2-14 .2 0 .2 7 .2 6 .2 5 .2-10 .2 5 .2-5 .2 14 .2-13 .2 8 .2 1 .2-16 .2 15 .2-15 .2 38 .2-28 .2 5 .2-15 .2 18 .2 12 .2-12 .2-5 .2 10 .2-2 .2 8 .2-22 .2 24 .2-12 .2 13 .2-10 .2-5 .2 16 .2-23 .2 6 .2-8 .2 21 .2 0 .2 7 .2-30 .2 15 .2-12 .2 17 .2-12 .2-12 .2 39 .2-11 .2 9 .2-3 .2-8 .2-7 .2 6 .2-6 .2-1 .2-23 .2 29 .2-1 .2-13 .2 14 .2-5 .2-13 .2 21 .2-18 .2 24 .2-3 .2-7 .2-12 .2 9 .2 3 .2-16 .2 10 .2-4 .2-4 .2 26 .2-15 .2-4 .2-5 .2 22 .2-26 .2 30 .2-4 .2-36 .2 15 .2 26 .2-19 .2-8 .2 14 .2-11 .2 8 .2-12 .2 17 .2 0 .2-2 .2-18 .2 3 .2-1 .2 36 .2-40 .2 12 .2-17 .2 31 .2-29 .2 11 .2 7 .2-9 .2 26 .2-17 .2 10 .2-10 .2 1 .2 10 .2-7 .2-12 .2-3 .2 28 .2-15 .2 1 .2 3 .2 9 .2-12 .2-15 .2-2 .2 13 .2-16 .2 27 .2 5 .2-45 .2 24 .2-6 .2 38 .2-35 .2 23 .2 5 .2-21 .2 3 .2 11 .2-41 .2 22 .2 1 .2-16 .2 5 .2 15 .2-2 .2-24 .2 29 .2 4 .2-2 .2-11 .2-12 .2 10 .2 3 .2 1 .2-7 .2 7 .2-8 .2-3 .2 24 .2-15 .2-10 .2 22 .2-6 .2-8 .2 6 .2 13 .2-21 .2 15 .2 10 .2-8 .2 6 .2-26 .2 13 .2 24 .2-18 .2 12 .2-17 .2 7 .2 3 .2 6 .2-14 .2 13 .2-22 .2-5 .2 3 .2 12 .2-4 .2-9 .2 9 .2 5 .2 7 .2-6 .2-18 .2 9 .2 17 .2 1 .2-23 .2 10 .2-8 .2 0 .2 3 .2 7 .2-2 .2-7 .2-6 .2 3 .2 35 .2-23 .2 19 .2-7 .2-7 .2-7 .2-18 .2 18 .2 18 .2-34 .2 9 .2 18 .2-14 .2 11 .2-12 .2 5 .2-7 .2-1 .2 2 .2 7 .2-6 .2-21 .2 22 .2 15 .2-18 .2-12 .2 11 .2-12 .2 28 .2-11 .2 1 .2-6 .2 9 .2-6 .2 14 .2-6 .2-22 .2 4 .2 9 .2 8 .2-8 .2-9 .2 3 .2 7 .2 18 .2-25 .2 4 .2 10 .2-2 .2 3 .2 0 .2 3 .2 5 .2-15 .2 19 .2-16 .2-4 .2 0 .2 13 .2 3 .2-19 .2 15 .2-2 .2-14 .2 8 .2 8 .2 15 .2-20 .2-7 .2-2 .2-1 .2 17 .2-19 .2 5 .2-4 .2 9 .2 4 .2 5 .2 4 .2-18 .2-6 .2 19 .2-6 .2-4 .2-2 .2 5 .2-14 .2 5 .2 4 .2 5 .2 2 .2-10 .2 6 .2 1 .2 7 .2-3 .2-14 .2 15 .2 15 .2-38 .2 22 .2-10 .2-11 .2 18 .2 8 .2-24 .2 13 .2 11 .2-18 .2 9 .2-3 .2-17 .2 25 .2-14 .2 14 .2-24 .2-1 .2 8 .2 26 .2-15 .2 1 .2-11 .2-11 .2-3 .2 9 .2 13 .2 16 .2-35 .2-4 .2 30 .2 4 .2-10 .2-13 .2 23 .2-21 .2 36 .2-28 .2-6 .2 1 .2 34 .2-20 .2-1 .2-17 .2 15 .2-4 .2 16 .2-23 .2 24 .2-25 .2 0 .2 11 .2 0 .2-19 .2 2 .2 5 .2 18 .2 4 .2-3 .2-4 .2 2 .2-13 .2 9 .2-5 .2-2 .2 25 .2-20 .2 12 .2-23 .2 8 .2-3 .2 2 .2 2 .2 6 .2-3 .2-6 .2 22 .2-24 .2 19 .2-17 .2-5 .2 24 .2-27 .2 4 .2 15 .2-9 .2-9 .2 14 .2 13 .2-8 .2-4 .2 3 .2-11 .2 15 .2-10 .2-15 .2 7 .2 9 .2 0 .2-2 .2-9 .2 14 .2-13 .2-10 .2 13 .2 20 .2-3 .2-11 .2 10 .2-4 .2-13 .2 15 .2-9 .2-1 .2 9 .2-16 .2 13 .2 10 .2-1 .2-13 .2 12 .2-25 .2 20 .2-12 .2 18 .2-12 .2 2 .2 1 .2-17 .2-16 .2 22 .2 8 .2 15 .2-15 .2 7 .2-7 .2 2 .2 6 .2-10 .2 13 .2 10 .2-6 .2-23 .2 19 .2-1 .2 3 .2-13 .2 14 .2-9 .2-7 .2 14 .2-12 .2-14 .2 16 .2-14 .2 6 .2 8 .2-23 .2 15 .2 2 .2-6 .2 0 .2-7 .2 8 .2 0 .2 14 .2-7 .2 13 .2-3 .2-4 .2 3 .2-13 .2 24 .2-7 .2-12 .2 0 .2 0 .2-9 .2 20 .2-19 .2 15 .2-2 .2-5 .2 8 .2 4 .2-23 .2-7 .2 15 .2 12 .2-3 .2 1 .2-1 .2 12 .2-25 .2 8 .2 27 .2-40 .2-1 .2 9 .2 6 .2 4 .2-5 .2 9 .2 9 .2-16 .2-13 .2 9 .2 2 .2 6 .2-14 .2 23 .2-11 .2 12 .2-20 .2 1 .2 34 .2-50 .2 18 .2 1 .2-4 .2-4 .2 21 .2-14 .2-2 .2 9 .2-5 .2-9 .2-3 .2 16 .2 7 .2-7 .2 6 .2 0 .2-16 .2 18 .2-6 .2 20 .2-16 .2-14 .2 8 .2-22 .2 15 .2 10 .2 1 .2 3 .2-13 .2-5 .2 3 .2-5 .2 27 .2-27 .2-3 .2 33 .2-24 .2 12 .2-5 .2-10 .2 6 .2 13 .2-18 .2-16 .2-5 .2 12 .2 9 .2 11 .2 2 .2 2 .2-1 .2 6 .2-20 .2 3 .2-27 .2 24 .2 17 .2-19 .2 9 .2-8 .2 4 .2-10 .2 10 .2-13 .2 12 .2-12 .2 3 .2 16 .2-20 .2 16 .2 3 .2-18 .2-2 .2 2 .2 17 .2-9 .2 5 .2 15 .2-22 .2 16 .2-12 .2-2 .2-10 .2 5 .2 34 .2-22 .2-11 .2 22 .2-6 .2 1 .2 1 .2-28 .2 2 .2 14 .2 6 .2-2 .2 8 .2-21 .2 24 .2-34 .2 25 .2 4 .2 0 .2 1 .2-5 .2-1 .2-14 .2 14 .2-3 .2 6 .2-10 .2-8 .2 28 .2-33 .2 16 .2 18 .2 1 .2-34 .2 27 .2-15 .2 11 .2 3 .2 2 .2-29 .2 10 .2 16 .2 0 .2 11 .2-9 .2 4 .2-1 .2-4 .2-23 .2 35 .2-16 .2-9 .2 2 .2-5 .2 7 .2-18 .2 28 .2-21 .2 21 .2-17 .2 13 .2 8 .2-10 .2-5 .2 2 .2-4 .2 0 .2 24 .2-34 .2 4 .2 4 .2 4 .2 8 .2-8 .2 12 .2-21 .2 15 .2-2 .2-12 .2 9 .2-2 .2-3 .2-1 .2 18 .2-18 .2 19 .2 1 .2-4 .2 0 .2-23 .2 18 .2 6 .2 1 .2 5 .2-6 .2-8 .2-5 .2-2 .2 8 .2-3 .2 16 .2-20 .2-5 .2 3 .2 32 .2-24 .2-14 .2 28 .2-18 .2 4 .2-9 .2 14 .2 1 .2-17 .2 9 .2-15 .2 29 .2-25 .2 1 .2-1 .2-1 .2 13 .2-8 .2 13 .2-1 .2 7 .2 2 .2-22 .2 9 .2-11 .2 8 .2 9 .2-2 .2-11 .2 12 .2-4 .2 6 .2-32 .2 16 .2 21 .2-28 .2 13 .2 2 .2-5 .2 4 .2 6 .2-4 .2-4 .2 12 .2 3 .2 0 .2-29 .2 34 .2-10 .2-6 .2 13 .2-2 .2 0 .2-17 .2-10 .2 34 .2-10 .2-11 .2 0 .2 3 .2 10 .2-21 .2 4 .2 42 .2-47 .2 19 .2-2 .2-1 .2 12 .2-18 .2 17 .2-12 .2-7 .2-1 .2 2 .2 15 .2 2 .2-11 .2-9 .2-1 .2 8 .2 16 .2-7 .2-11 .2 19 .2-33 .2-4 .2 5 .2 25 .2-21 .2 6 .2 6 .2-6 .2 14 .2-5 .2-7 .2 13 .2-31 .2 33 .2-18 .2-4 .2 9 .2 6 .2-6 .2 4 .2-6 .2-5 .2 23 .2-5 .2-27 .2 21 .2-14 .2 0 .2 13 .2 5 .2 7 .2-5 .2-17 .2 0 .2-2 .2 5 .2 20 .2-13 .2-1 .2-35 .2 36 .2-10 .2 4 .2 7 .2 3 .2-14 .2-1 .2 9 .2-7 .2 22 .2-20 .2-13 .2 18 .2-6 .2 4 .2 2 .2 11 .2 2 .2-17 .2-14 .2-4 .2 40 .2-19 .2 7 .2-10 .2 6 .2 5 .2-12 .2 4 .2 7 .2-19 .2 3 .2 15 .2-11 .2 2 .2-13 .2 20 .2-1 .2 16 .2-20 .2-3 .2 14 .2-11 .2 15 .2-15 .2-2 .2 9 .2 5 .2-8 .2 9 .2-27 .2 14 .2 4 .2 12 .2-30 .2 30 .2-17 .2 9 .2-5 .2-24 .2 15 .2 8 .2-8 .2 0 .2 8 .2-4 .2 0 .2 8 .2-11 .2-9 .2 4 .2 13 .2-16 .2 8 .2 10 .2-12 .2 1 .2-8 .2 22 .2-1 .2-10 .2 10 .2-14 .2-5 .2-3 .2 21 .2-14 .2 12 .2-7 .2 13 .2-8 .2-12 .2-4 .2 13 .2 12 .2-10 .2 14 .2-2 .2-14 .2-2 .2 2 .2 3 .2 5 .2-1 .2-12 .2 11 .2-2 .2 10 .2-19 .2 26 .2-13 .2-5 .2 2 .2-5 .2 11 .2 7 .2-7 .2-1 .2 7 .2 12 .2-10 .2-31 .2 22 .2 2 .2-2 .2 2 .2 18 .2-18 .2-3 .2-1 .2-14 .2 2 .2-4 .2 32 .2-15 .2-12 .2 7 .2 4 .2-6 .2 17 .2-8 .2 5 .2-16 .2-5 .2 9 .2 1 .2 9 .2-26 .2 27 .2-9 .2 3 .2 6 .2-15 .2 6 .2 5 .2-7 .2-9 .2 17 .2-7 .2-1 .2 8 .2-11 .2 20 .2-5 .2 6 .2-20 .2 6 .2-2 .2-3 .2-3 .2 6 .2 2 .2-8 .2-13 .2 13 .2 25 .2-20 .2 13 .2-17 .2-10 .2 21 .2 3 .2-2 .2-4 .2 0 .2 9 .2-14 .2 6 .2 17 .2-42 .2 27 .2 16 .2-36 .2 0 .2 10 .2 4 .2 17 .2-22 .2-9 .2 31 .2-17 .2 4 .2-2 .2-11 .2 5 .2 12 .2 1 .2-22 .2 16 .2-11 .2 18 .2-10 .2-2 .2 7 .2 13 .2-14 .2 20 .2-17 .2-3 .2 0 .2 0 .2-1 .2 21 .2-33 .2 12 .2-1 .2 2 .2-3 .2 10 .2-21 .2 23 .2 1 .2-17 .2 9 .2-20 .2 26 .2 0 .2 6 .2-16 .2 21 .2-12 .2 3 .2-3 .2-7 .2-8 .2 10 .2-7 .2 16 .2-20 .2-1 .2 14 .2-11 .2 13 .2-1 .2 4 .2-3 .2-7 .2-3 .2 1 .2 9 .2-8 .2 17 .2 2 .2-25 .2 14 .2-20 .2 8 .2 17 .2-24 .2 8 .2 1 .2-13 .2 5 .2 16 .2-4 .2 8 .2-13 .2-19 .2 22 .2-15 .2 22 .2-15 .2 27 .2-35 .2 12 .2 26 .2-14 .2-5 .2 6 .2 5 .2-21 .2 10 .2 12 .2-5 .2-15 .2 10 .2 3 .2-18 .2 22 .2 1 .2-26 .2 10 .2-4 .2-6 .2 7 .2-9 .2 23 .2-4 .2-23 .2 5 .2 21 .2-12 .2 17 .2-18 .2 2 .2 4 .2-10 .2 5 .2 7 .2 20 .2-26 .2 5 .2-12 .2 7 .2-7 .2 0 .2 1 .2-3 .2 19 .2-2 .2-21 .2 27 .2-8 .2-7 .2-8 .2 12 .2 3 .2-17 .2-2 .2 27 .2-20 .2 12 .2-9 .2 0 .2 17 .2-18 .2 23 .2-8 .2 13 .2-20 .2 0 .2 0 .2 4 .2 12 .2-26 .2 30 .2-16 .2-6 .2-1 .2 14 .2-3 .2 0 .2-4 .2 10 .2-9 .2-8 .2 8 .2-2 .2 0 .2 10 .2-10 .2-13 .2-3 .2 5 .2-6 .2 9 .2 1 .2 20 .2-10 .2 6 .2-12 .2-3 .2-14 .2 12 .2 11 .2-16 .2 20 .2-3 .2-7 .2-1 .2 14 .2-17 .2 0 .2 1 .2-10 .2 9 .2-6 .2 22 .2-11 .2-15 .2 27 .2-16 .2 1 .2 0 .2-7 .2 9 .2 8 .2-18 .2 10 .2-3 .2 11 .2-5 .2-23 .2 27 .2 2 .2-17 .2 5 .2 2 .2-1 .2-4 .2 23 .2-21 .2 2 .2 1 .2 0 .2 17 .2-10 .2 10 .2-24 .2 16 .2-8 .2 2 .2-21 .2 11 .2 4 .2-4 .2 8 .2 1 .2 2 .2-3 .2-14 .2 16 .2-15 .2 19 .2-19 .2 18 .2-32 .2 37 .2-12 .2 3 .2-9 .2 2 .2-3 .2 15 .2-10 .2-1 .2-3 .2-8 .2 5 .2 7 .2-10 .2 26 .2-20 .2 6 .2 4 .2-14 .2 16 .2-8 .2 4 .2-3 .2 3 .2 8 .2-6 .2-3 .2 22 .2-19 .2 1 .2-2 .2 4 .2-15 .2 23 .2 5 .2-25 .2 20 .2-4 .2-8 .2-10 .2-1 .2 14 .2 15 .2-5 .2 4 .2-24 .2 2 .2 2 .2 19 .2-23 .2 0 .2 14 .2-7 .2-11 .2 21 .2-29 .2 16 .2 2 .2-5 .2 4 .2 5 .2-14 .2 14 .2-9 .2 1 .2-4 .2 6 .2-1 .2 1 .2-9 .2 9 .2 1 .2 15 .2-11 .2-7 .2 10 .2 0 .2-9 .2-2 .2 22 .2-17 .2 3 .2-13 .2 8 .2-14 .2 16 .2 5 .2-18 .2 3 .2 9 .2 6 .2-5 .2-11 .2 3 .2 6 .2 3 .2-8 .2-1 .2 9 .2 3 .2-4 .2-5 .2-14 .2 20 .2 0 .2-5 .2-11 .2 13 .2 22 .2-35 .2 6 .2 12 .2-19 .2 11 .2 7 .2-5 .2 0 .2 3 .2-8 .2 17 .2-16 .2 0 .2 5 .2 0 .2 11 .2-5 .2-6 .2-2 .2-5 .2 18 .2-17 .2 17 .2-23 .2 18 .2-9 .2-8 .2-12 .2 26 .2 5 .2-7 .2-16 .2 39 .2-27 .2-4 .2 13 .2-13 .2 22 .2-13 .2-3 .2 3 .2-5 .2 6 .2 16 .2-5 .2 0 .2-3 .2-8 .2 15 .2-12 .2 9 .2-9 .2-7 .2-6 .2 17 .2-16 .2 11 .2 10 .2-6 .2-10 .2 6 .2 17 .2-20 .2 12 .2-4 .2 9 .2-16 .2 12 .2-9 .2 4 .2-16 .2 4 .2 2 .2 4 .2 0 .2-4 .2 9 .2-10 .2 10 .2-18 .2 12 .2-1 .2 7 .2-19 .2 15 .2-14 .2 19 .2-13 .2 23 .2-13 .2 9 .2-7 .2 3 .2-16 .2 6 .2-10 .2 16 .2-8 .2 13 .2-1 .2-3 .2-7 .2 7 .2-4 .2-2 .2 3 .2 7 .2-6 .2-1 .2-4 .2-7 .2 9 .2 2 .2 4 .2-12 .2-1 .2-6 .2 17 .2-14 .2 25 .2-23 .2 2 .2 2 .2 6 .2 12 .2-22 .2 0 .2 29 .2-5 .2 0 .2-22 .2 25 .2-21 .2 16 .2-27 .2 11 .2-12 .2 14 .2 12 .2-7 .2 1 .2 3 .2-2 .2-13 .2 1 .2 2 .2-2 .2 12 .2-4 .2-2 .2 4 .2-4 .2-6 .2 13 .2-5 .2 6 .2-13 .2 25 .2-14 .2-3 .2 7 .2-22 .2-8 .2 12 .2 18 .2-13 .2-17 .2 12 .2 2 .2 19 .2-14 .2 15 .2-18 .2 3 .2 1 .2-4 .2-23 .2 14 .2 28 .2-19 .2 13 .2-25 .2 19 .2-8 .2-17 .2 27 .2-9 .2 0 .2 20 .2-6 .2-14 .2 20 .2-28 .2 10 .2-7 .2 4 .2 15 .2-2 .2 6 .2-2 .2-7 .2-9 .2 6 .2-4 .2 2 .2 0 .2 9 .2-13 .2 16 .2-3 .2-5 .2 4 .2-14 .2 21 .2-9 .2 1 .2-2 .2-1 .2-10 .2-5 .2 9 .2 16 .2-18 .2 1 .2 7 .2-17 .2 17 .2 3 .2 7 .2-10 .2 4 .2-11 .2-2 .2-11 .2 33 .2-20 .2-3 .2 5 .2 6 .2-2 .2 3 .2 3 .2 14 .2-32 .2 19 .2-25 .2 23 .2-1 .2 2 .2-16 .2 5 .2 10 .2-32 .2 20 .2 2 .2-10 .2 18 .2-10 .2 15 .2-7 .2-2 .2 4 .2-5 .2-9 .2-11 .2 25 .2-4 .2-9 .2 5 .2-7 .2 7 .2 0 .2-2 .2-7 .2 10 .2-13 .2 4 .2 14 .2-5 .2 5 .2 6 .2-6 .2 4 .2-4 .2-4 .2-2 .2 8 .2 1 .2-18 .2 13 .2 4 .2-8 .2-16 .2 16 .2-17 .2 20 .2-11 .2 15 .2-15 .2 19 .2 1 .2-20 .2 13 .2 7 .2-19 .2-10 .2 21 .2-6 .2 3 .2 5 .2-20 .2 26 .2-15 .2 4 .2 16 .2-9 .2-4 .2-16 .2 28 .2-19 .2 12 .2-7 .2 12 .2-21 .2 9 .2 2 .2-5 .2-14 .2 28 .2-2 .2-13 .2 8 .2 6 .2-1 .2 7 .2-11 .2-3 .2-7 .2 10 .2-3 .2 13 .2-22 .2 9 .2 12 .2 1 .2-14 .2 11 .2-18 .2 25 .2-22 .2 13 .2-8 .2-15 .2 11 .2 24 .2-16 .2-14 .2 1 .2 14 .2-3 .2 1 .2-3 .2 5 .2-1 .2-4 .2-16 .2 15 .2 4 .2 7 .2 5 .2-12 .2 12 .2-13 .2 11 .2-9 .2 3 .2-17 .2 7 .2 12 .2 0 .2-2 .2-10 .2-4 .2 2 .2 3 .2 4 .2-10 .2 6 .2-3 .2-19 .2 12 .2 12 .2-4 .2 9 .2-29 .2 27 .2-10 .2 4 .2-9 .2 17 .2-8 .2 11 .2-19 .2 13 .2 4 .2 5 .2-2 .2-5 .2-1 .2-12 .2-3 .2 27 .2-3 .2-16 .2-10 .2 24 .2-3 .2-10 .2 4 .2-2 .2 9 .2-9 .2 11 .2-5 .2 4 .2-14 .2 9 .2-22 .2 26 .2-23 .2 17 .2-2 .2 9 .2-11 .2 14 .2-3 .2-12 .2 9 .2 0 .2-2 .2-17 .2 15 .2-2 .2-3 .2-8 .2 15 .2 0 .2-14 .2 1 .2 10 .2 3 .2-4 .2-8 .2 7 .2 3 .2-7 .2-1 .2 15 .2 3 .2-1 .2-3 .2-3 .2 3 .2-2 .2-6 .2 13 .2-5 .2-11 .2 2 .2 4 .2 4 .2-16 .2 8 .2 10 .2-5 .2 12 .2-8 .2-21 .2-4 .2 38 .2-21 .2-8 .2 14 .2-5 .2 6 .2 3 .2-8 .2 19 .2-19 .2-1 .2-8 .2 14 .2-4 .2 4 .2 2 .2-3 .2 7 .2-17 .2-5 .2 3 .2 10 .2 20 .2-19 .2 8 .2-3 .2-9 .2 5 .2 7 .2-18 .2 1 .2 19 .2-12 .2 2 .2-3 .2-10 .2 16 .2-9 .2-1 .2 19 .2 0 .2-18 .2-6 .2 12 .2-11 .2 11 .2-12 .2 13 .2-6 .2 12 .2 0 .2 6 .2-17 .2-8 .2 4 .2-1 .2-3 .2 9 .2 1 .2-7 .2-3 .2 10 .2-16 .2 10 .2-8 .2 7 .2 12 .2-13 .2 5 .2 2 .2 5 .2-14 .2 6 .2-12 .2 16 .2-3 .2-1 .2-2 .2-7 .2 24 .2-24 .2 6 .2 0 .2 6 .2-18 .2 32 .2-21 .2 4 .2 0 .2-1 .2 17 .2 5 .2-8 .2-29 .2 23 .2 4 .2-14 .2 19 .2-6 .2-15 .2 5 .2 1 .2-8 .2 2 .2 18 .2 8 .2-5 .2-3 .2 11 .2-3 .2-11 .2-5 .2 9 .2-22 .2 6 .2 3 .2 3 .2 20 .2-18 .2-9 .2 10 .2-13 .2 18 .2 15 .2-10 .2 0 .2-14 .2-1 .2 8 .2-11 .2-9 .2 20 .2-10 .2-7 .2 7 .2 11 .2-10 .2-1 .2-5 .2-3 .2 17 .2-7 .2 1 .2-2 .2-1 .2-7 .2 4 .2 9 .2-2 .2 0 .2 3 .2 14 .2-24 .2 12 .2-21 .2 17 .2-6 .2-4 .2 7 .2-3 .2-12 .2 15 .2-1 .2 8 .2-2 .2 6 .2-14 .2 21 .2-11 .2-1 .2-3 .2-3 .2 9 .2 2 .2 7 .2-7 .2-6 .2 2 .2-3 .2-1 .2 4 .2 15 .2-25 .2 6 .2 1 .2-11 .2 25 .2-19 .2 15 .2 8 .2-20 .2 6 .2-13 .2 11 .2-11 .2 14 .2-15 .2 8 .2-2 .2 5 .2 8 .2-1 .2-11 .2 14 .2-6 .2 2 .2 1 .2 7 .2-15 .2-12 .2 17 .2-9 .2-3 .2 0 .2 19 .2-6 .2-17 .2 3 .2 0 .2 8 .2 11 .2-13 .2 11 .2-4 .2-1 .2 5 .2-10 .2-4 .2 1 .2 7 .2 2 .2-13 .2 3 .2-3 .2 12 .2 4 .2-18 .2 22 .2-14 .2 3 .2-2 .2 6 .2-5 .2 1 .2 4 .2-1 .2-3 .2-5 .2 4 .2 8 .2-10 .2-6 .2 9 .2 9 .2 0 .2-19 .2 13 .2 7 .2-4 .2-21 .2 8 .2-2 .2 16 .2-9 .2-3 .2 13 .2-8 .2 0 .2 8 .2 2 .2-16 .2-8 .2 2 .2 10 .2 0 .2-1 .2 9 .2-9 .2-7 .2 17 .2-21 .2-2 .2 22 .2 2 .2 0 .2-16 .2 11 .2-3 .2 9 .2-1 .2-11 .2-2 .2-3 .2 6 .2-4 .2 10 .2 3 .2 11 .2-12 .2-6 .2 0 .2 7 .2-17 .2 6 .2 6 .2-2 .2-7 .2 19 .2-8 .2 0 .2 3 .2-3 .2 3 .2 7 .2-17 .2 7 .2-7 .2 11 .2 1 .2-22 .2 16 .2-1 .2 6 .2-9 .2 8 .2-10 .2 1 .2-9 .2 13 .2 0 .2-7 .2 13 .2 4 .2-5 .2-8 .2 5 .2 4 .2-7 .2 2 .2-6 .2 5 .2 7 .2-12 .2 4 .2-7 .2-3 .2 7 .2-2 .2 4 .2 3 .2-13 .2 8 .2 3 .2-3 .2 10 .2-27 .2 26 .2 0 .2-7 .2-19 .2 25 .2-12 .2 16 .2-6 .2-13 .2 0 .2 6 .2 10 .2-6 .2-7 .2-8 .2 6 .2 9 .2-4 .2-11 .2 13 .2 0 .2-2 .2 1 .2-1 .2 5 .2-2 .2-15 .2 6 .2 1 .2 14 .2-19 .2 19 .2-24 .2 24 .2-6 .2-12 .2 17 .2-15 .2 4 .2-6 .2 10 .2 3 .2 3 .2-9 .2-5 .2 6 .2-2 .2 12 .2-6 .2-16 .2 23 .2-14 .2-5 .2 5 .2-8 .2 15 .2-17 .2 7 .2-1 .2 18 .2-6 .2-9 .2 12 .2 5 .2-4 .2-1 .2-5 .2-7 .2 3 .2 0 .2 8 .2-4 .2 4 .2 5 .2-20 .2 10 .2-8 .2-10 .2 23 .2-5 .2-7 .2 10 .2-19 .2 35 .2-14 .2-10 .2 5 .2-4 .2-12 .2 13 .2 1 .2-8 .2 16 .2 3 .2-6 .2 11 .2-10 .2-9 .2 21 .2-12 .2 1 .2-8 .2-5 .2 10 .2-2 .2 6 .2-10 .2-3 .2 2 .2 5 .2-5 .2 15 .2-5 .2-10 .2 10 .2-7 .2 13 .2-5 .2-9 .2 3 .2 6 .2-11 .2 7 .2 12 .2-11 .2-1 .2 2 .2-1 .2 1 .2-20 .2 9 .2-1 .2 1 .2 0 .2 23 .2-13 .2 0 .2-5 .2-3 .2 6 .2 4 .2-5 .2 12 .2-5 .2-24 .2 38 .2-26 .2 9 .2 6 .2-15 .2-1 .2 20 .2-20 .2 26 .2-8 .2-9 .2 10 .2 1 .2-12 .2-12 .2 22 .2-3 .2-20 .2 25 .2-15 .2-5 .2 3 .2 15 .2 4 .2-2 .2-9 .2-4 .2 7 .2-6 .2 1 .2-1 .2 1 .2-11 .2 3 .2 6 .2 7 .2-11 .2 17 .2 0 .2-22 .2 10 .2 3 .2-9 .2 23 .2-36 .2 18 .2 0 .2-5 .2 1 .2-6 .2 10 .2 10 .2-20 .2 11 .2 7 .2 3 .2-14 .2 11 .2-22 .2 22 .2-18 .2 17 .2 2 .2-9 .2-3 .2 5 .2 0 .2-3 .2 0 .2-2 .2 14 .2-8 .2-4 .2 11 .2-11 .2 2 .2 2 .2-3 .2 9 .2-2 .2 12 .2-16 .2 22 .2-30 .2 8 .2 4 .2-21 .2 26 .2-9 .2-10 .2 20 .2-2 .2-14 .2 8 .2-1 .2-6 .2 12 .2-18 .2 17 .2-12 .2 14 .2 10 .2-9 .2-18 .2 13 .2-8 .2 9 .2 6 .2-23 .2-6 .2 13 .2 0 .2-6 .2 9 .2-2 .2 2 .2-1 .2-10 .2 21 .2-8 .2-9 .2 15 .2-17 .2-8 .2 16 .2-8 .2-2 .2 17 .2-10 .2 4 .2 8 .2-18 .2 14 .2-5 .2 9 .2-6 .2-1 .2 3 .2-6 .2-11 .2 6 .2 1 .2 3 .2 1 .2 1 .2 7 .2-11 .2 0 .2 4 .2-2 .2-3 .2 14 .2-8 .2 11 .2-7 .2-7 .2 16 .2-18 .2 8 .2 7 .2-3 .2-14 .2 8 .2 0 .2-3 .2-2 .2 4 .2-16 .2 27 .2-2 .2-1 .2 1 .2-17 .2 10 .2 23 .2-31 .2 18 .2-15 .2-10 .2 11 .2 10 .2-13 .2 10 .2-1 .2 4 .2-10 .2 6 .2-2 .2 1 .2 1 .2-14 .2 5 .2 12 .2 2 .2-3 .2 1 .2-5 .2-5 .2 12 .2-5 .2-2 .2-4 .2 4 .2-13 .2 2 .2 8 .2-12 .2 15 .2-8 .2 3 .2 8 .2-13 .2 12 .2-7 .2 9 .2 2 .2 7 .2-3 .2-11 .2-13 .2 17 .2 8 .2-16 .2-1 .2-3 .2 9 .2-2 .2-6 .2-10 .2 10 .2 2 .2 6 .2-6 .2 3 .2-4 .2 0 .2 5 .2 3 .2-12 .2-6 .2 18 .2-5 .2 11 .2-3 .2-2 .2-5 .2 9 .2-5 .2-7 .2-12 .2 5 .2 15 .2 15 .2-10 .2-10 .2 3 .2 1 .2-8 .2 10 .2-10 .2 3 .2 11 .2 4 .2-9 .2-11 .2 9 .2-10 .2 21 .2-22 .2 6 .2-10 .2 18 .2-9 .2-5 .2 0 .2-1 .2 2 .2 7 .2-10 .2 3 .2 8 .2 7 .2-6 .2 17 .2-8 .2-2 .2 13 .2-23 .2 16 .2-18 .2-1 .2 13 .2-11 .2-3 .2 11 .2-9 .2 17 .2 9 .2-6 .2-11 .2-6 .2 0 .2 8 .2-20 .2 24 .2-23 .2 9 .2 2 .2 6 .2 0 .2 5 .2-11 .2 14 .2-20 .2 14 .2-14 .2 19 .2-15 .2 4 .2 10 .2-9 .2 0 .2 4 .2-22 .2 17 .2-4 .2-1 .2 4 .2-7 .2 7 .2 10 .2-7 .2 8 .2-7 .2-7 .2 0 .2-4 .2 3 .2 14 .2-9 .2 7 .2 5 .2-21 .2 7 .2-7 .2 18 .2-3 .2 1 .2-6 .2 1 .2 0 .2 11 .2-28 .2 20 .2 7 .2-16 .2 7 .2 3 .2 0 .2-17 .2 14 .2 3 .2-18 .2 14 .2-5 .2 5 .2 3 .2-15 .2 20 .2-13 .2 6 .2-6 .2 13 .2 4 .2-15 .2-3 .2 13 .2 1 .2-5 .2-11 .2 6 .2-4 .2 14 .2-7 .2 9 .2-9 .2 6 .2 5 .2-11 .2 7 .2-22 .2 11 .2-4 .2-5 .2 4 .2 9 .2-3 .2 6 .2-17 .2 10 .2-1 .2 9 .2-11 .2 4 .2 3 .2-13 .2 11 .2-7 .2 6 .2 8 .2-1 .2-8 .2 2 .2-2 .2-5 .2 17 .2-12 .2-3 .2 9 .2-10 .2 14 .2-23 .2 6 .2 2 .2 5 .2-2 .2 2 .2 10 .2-11 .2 12 .2-6 .2-1 .2-7 .2 5 .2 2 .2-4 .2 1 .2 7 .2 8 .2-15 .2-9 .2 21 .2-18 .2 16 .2-2 .2-4 .2-1 .2-10 .2 23 .2-15 .2 12 .2-11 .2 3 .2-11 .2 12 .2-16 .2 11 .2 19 .2-14 .2-8 .2 11 .2-7 .2 3 .2-7 .2 9 .2-7 .2 9 .2-4 .2-7 .2 1 .2 6 .2-10 .2 10 .2 6 .2 2 .2-22 .2 14 .2 7 .2 5 .2-23 .2 3 .2 7 .2 12 .2-14 .2 0 .2 2 .2 13 .2-35 .2 23 .2-12 .2 8 .2 6 .2 3 .2-13 .2-4 .2 12 .2-7 .2 0 .2 7 .2 1 .2 9 .2-15 .2-4 .2 1 .2 8 .2 8 .2-16 .2-7 .2 14 .2-5 .2 1 .2-3 .2 12 .2-4 .2 2 .2-17 .2 16 .2 10 .2-15 .2-2 .2-2 .2 2 .2-3 .2 3 .2 3 .2-13 .2 11 .2 0 .2 2 .2-3 .2-4 .2 11 .2-9 .2-8 .2 3 .2 9 .2-11 .2 19 .2-3 .2-13 .2 0 .2 7 .2 2 .2 5 .2 2 .2 1 .2-16 .2 1 .2 3 .2 1 .2-11 .2 3 .2 11 .2 0 .2 1 .2 10 .2-5 .2-11 .2 3 .2-1 .2 6 .2-9 .2 6 .2-16 .2 20 .2 4 .2-12 .2 11 .2-8 .2-6 .2 2 .2 1 .2 6 .2-5 .2 8 .2-1 .2-8 .2 3 .2-6 .2 5 .2 1 .2 9 .2-18 .2 11 .2 5 .2-2 .2-2 .2 1 .2-12 .2 10 .2 7 .2-3 .2 6 .2 0 .2-15 .2 7 .2-9 .2 12 .2-13 .2 9 .2 0 .2 6 .2-13 .2 3 .2 0 .2-3 .2-8 .2 3 .2 16 .2-7 .2 5 .2-8 .2 1 .2 1 .2 10 .2 3 .2-16 .2 18 .2-10 .2 7 .2-9 .2-7 .2 0 .2-1 .2 20 .2-24 .2 16 .2-9 .2 13 .2-3 .2 0 .2-4 .2 2 .2 5 .2-14 .2 2 .2-2 .2-13 .2 19 .2-3 .2 17 .2-17 .2 0 .2-10 .2 15 .2-1 .2 3 .2-11 .2 0 .2 7 .2-1 .2-11 .2 5 .2 15 .2-10 .2-5 .2 4 .2 8 .2-16 .2 6 .2 10 .2-16 .2 17 .2-13 .2 7 .2-7 .2 15 .2-19 .2 3 .2-2 .2 9 .2-6 .2 15 .2-17 .2 16 .2-12 .2 10 .2-10 .2-4 .2 8 .2-11 .2 8 .2 12 .2 5 .2-20 .2 2 .2 2 .2-6 .2 18 .2-3 .2-10 .2 8 .2-16 .2 22 .2-8 .2 7 .2-2 .2-16 .2 10 .2 0 .2 5 .2-16 .2 6 .2-5 .2 13 .2-7 .2 16 .2-15 .2-10 .2 18 .2-8 .2-1 .2 2 .2 7 .2-8 .2-7 .2 12 .2 5 .2-35 .2 30 .2-9 .2 4 .2 15 .2-3 .2 7 .2-5 .2-25 .2 5 .2 11 .2 4 .2-4 .2 4 .2 14 .2-12 .2-2 .2-13 .2 20 .2-21 .2 18 .2-26 .2 3 .2 14 .2 6 .2-14 .2 1 .2 8 .2-10 .2 7 .2-11 .2 20 .2-10 .2 11 .2-13 .2 6 .2 1 .2 1 .2-3 .2 0 .2 2 .2-17 .2 18 .2-6 .2 6 .2-8 .2-11 .2 20 .2-1 .2 1 .2-13 .2 10 .2 2 .2-2 .2-7 .2 14 .2-2 .2-13 .2 10 .2 8 .2-19 .2-6 .2 15 .2-3 .2-5 .2 9 .2-4 .2 3 .2 4 .2-15 .2-2 .2 16 .2-1 .2-6 .2 0 .2 14 .2-1 .2-6 .2-7 .2 14 .2-18 .2 5 .2-6 .2 13 .2-2 .2 7 .2-13 .2 5 .2-8 .2-7 .2 5 .2 15 .2-17 .2 0 .2 12 .2 1 .2-2 .2 9 .2-14 .2 6 .2 4 .2-10 .2 4 .2-10 .2 4 .2 5 .2-10 .2 3 .2-2 .2-1 .2 12 .2-3 .2-13 .2 6 .2 12 .2 5 .2-20 .2 10 .2-1 .2-5 .2 5 .2-6 .2 11 .2-15 .2 9 .2 6 .2 2 .2-13 .2 9 .2-9 .2 3 .2 4 .2 3 .2 2 .2-8 .2 16 .2-15 .2 6 .2 2 .2 2 .2-4 .2 2 .2-5 .2 0 .2 5 .2-1 .2 3 .2-15 .2 21 .2-5 .2-1 .2 2 .2-8 .2 10 .2 0 .2 0 .2-10 .2-4 .2-5 .2 16 .2-13 .2 1 .2 12 .2-6 .2-1 .2-6 .2 8 .2-14 .2 7 .2 10 .2 3 .2-12 .2 4 .2 0 .2-9 .2 15 .2-3 .2 2 .2-2 .2-8 .2 7 .2 10 .2-12 .2-5 .2-5 .2 21 .2-27 .2 14 .2 6 .2-12 .2 19 .2-6 .2 4 .2-7 .2-9 .2 18 .2-11 .2-5 .2 3 .2-3 .2 5 .2-11 .2 12 .2-6 .2 4 .2-2 .2 5 .2-9 .2 16 .2-2 .2-10 .2-4 .2-4 .2 6 .2 11 .2-19 .2 16 .2-6 .2 2 .2-2 .2-4 .2 2 .2 3 .2 2 .2 3 .2 2 .2-11 .2 7 .2-5 .2-6 .2 9 .2 0 .2-9 .2 15 .2 0 .2-7 .2-3 .2 6 .2-8 .2-11 .2 16 .2-1 .2-4 .2 4 .2-3 .2 3 .2 8 .2-3 .2-8 .2 0 .2 15 .2-12 .2 2 .2 1 .2-2 .2 13 .2 4 .2-18 .2 12 .2-1 .2-19 .2 7 .2 21 .2-11 .2-8 .2-3 .2 2 .2 2 .2 10 .2-1 .2-2 .2-2 .2-10 .2 0 .2 18 .2-16 .2-2 .2 12 .2-2 .2-5 .2 10 .2 5 .2-9 .2-15 .2 8 .2-1 .2 11 .2-14 .2 20 .2-12 .2-9 .2 10 .2 8 .2-8 .2 1 .2-6 .2 13 .2-14 .2 12 .2-9 .2 7 .2 1 .2-1 .2-13 .2-3 .2 7 .2 0 .2 9 .2-4 .2 3 .2-7 .2-3 .2 8 .2 5 .2-6 .2-8 .2 12 .2-6 .2-6 .2 9 .2-3 .2 3 .2 13 .2 0 .2-15 .2 6 .2-12 .2-8 .2 15 .2 3 .2-12 .2 10 .2-4 .2-8 .2 5 .2 1 .2-1 .2 10 .2-3 .2 0 .2-8 .2-14 .2 10 .2 16 .2-2 .2-7 .2-12 .2 13 .2-1 .2-7 .2 5 .2 9 .2-6 .2-2 .2 1 .2 7 .2-17 .2 7 .2-2 .2-8 .2 21 .2 9 .2-16 .2 1 .2 9 .2-13 .2 3 .2-5 .2 6 .2 20 .2-17 .2-2 .2-1 .2-2 .2 13 .2-9 .2 2 .2-1 .2 2 .2-2 .2-12 .2 14 .2-5 .2 5 .2-7 .2-5 .2 9 .2-4 .2-1 .2 11 .2-4 .2-11 .2 13 .2-7 .2 8 .2-1 .2 2 .2-11 .2 3 .2 1 .2-15 .2 8 .2-13 .2 21 .2-4 .2 6 .2-7 .2-8 .2 19 .2-17 .2 17 .2-16 .2 8 .2 7 .2-3 .2-7 .2 7 .2-6 .2-5 .2 8 .2-4 .2-18 .2 24 .2-2 .2-7 .2 9 .2-2 .2 7 .2-16 .2 1 .2 8 .2 4 .2-9 .2 7 .2-3 .2 0 .2 3 .2-15 .2 4 .2 11 .2 1 .2 12 .2-16 .2 7 .2-5 .2 7 .2-7 .2-11 .2 5 .2 4 .2 2 .2-12 .2 16 .2-4 .2-3 .2-13 .2 10 .2-6 .2 21 .2-13 .2 5 .2 3 .2-15 .2 3 .2-4 .2 19 .2-15 .2-3 .2 9 .2 1 .2-1 .2-3 .2 4 .2 1 .2 5 .2-23 .2 5 .2 11 .2-8 .2 7 .2-10 .2 12 .2 2 .2-12 .2 11 .2 3 .2-1 .2-5 .2 3 .2-1 .2-6 .2 3 .2 4 .2 4 .2-14 .2-6 .2 16 .2 5 .2-22 .2 11 .2 8 .2 5 .2-14 .2 14 .2-6 .2 3 .2-16 .2-10 .2 17 .2-5 .2 13 .2-9 .2 6 .2-10 .2 15 .2-7 .2-7 .2 16 .2-3 .2-10 .2 2 .2 6 .2 10 .2-14 .2 1 .2-7 .2 3 .2 6 .2-7 .2 6 .2-3 .2 1 .2-6 .2 0 .2 13 .2-7 .2-4 .2 10 .2 0 .2-8 .2 4 .2-1 .2-8 .2 4 .2 6 .2-10 .2 1 .2 2 .2 7 .2-8 .2 5 .2 4 .2 1 .2-13 .2 8 .2-2 .2 2 .2 4 .2 4 .2-7 .2-6 .2-7 .2 4 .2 10 .2-2 .2-1 .2-13 .2 27 .2-20 .2-6 .2 13 .2-16 .2 19 .2-7 .2-8 .2-2 .2 10 .2-3 .2-1 .2 6 .2-10 .2 8 .2 5 .2-4 .2 0 .2-6 .2 8 .2-8 .2-7 .2 24 .2-21 .2 6 .2 3 .2-9 .2 10 .2-1 .2 2 .2 8 .2-22 .2 17 .2 0 .2-6 .2 1 .2-11 .2 15 .2-6 .2 3 .2-2 .2 2 .2-4 .2 10 .2-3 .2-4 .2 17 .2-4 .2-8 .2-11 .2 6 .2 0 .2-1 .2 7 .2-1 .2-1 .2-6 .2 19 .2-16 .2 8 .2 1 .2-8 .2-2 .2 2 .2-24 .2 26 .2 13 .2-16 .2 0 .2-7 .2 7 .2-6 .2 3 .2 3 .2-4 .2 8 .2-4 .2-14 .2 13 .2 12 .2-14 .2 8 .2 8 .2-18 .2-1 .2 12 .2 8 .2-25 .2 15 .2-7 .2 3 .2-8 .2-3 .2 12 .2 6 .2-3 .2-1 .2-10 .2-6 .2 18 .2-10 .2 8 .2 9 .2-8 .2-8 .2 2 .2 6 .2 1 .2-12 .2 6 .2 0 .2 5 .2 8 .2-6 .2 4 .2-7 .2-1 .2-1 .2-3 .2 12 .2-7 .2 5 .2-4 .2 8 .2-13 .2 14 .2-17 .2 3 .2-6 .2 4 .2 3 .2 14 .2-16 .2-1 .2 5 .2 3 .2-6 .2 5 .2-2 .2-9 .2 8 .2-5 .2 10 .2 0 .2-6 .2 10 .2-7 .2 1 .2-1 .2-12 .2 11 .2 9 .2-17 .2 10 .2-2 .2 9 .2 2 .2-14 .2-3 .2 16 .2-7 .2-8 .2 4 .2-8 .2 19 .2-16 .2 9 .2-13 .2 15 .2-6 .2-7 .2 10 .2-2 .2-3 .2 6 .2-5 .2 0 .2 5 .2-3 .2-4 .2 0 .2 0 .2 13 .2 10 .2-6 .2-21 .2-8 .2 14 .2 1 .2 5 .2-4 .2 5 .2 5 .2-10 .2 1 .2-4 .2-7 .2 4 .2 8 .2 5 .2-8 .2 4 .2-13 .2 15 .2 1 .2-15 .2 5 .2 7 .2-1 .2 3 .2-13 .2 14 .2-17 .2 18 .2-14 .2 9 .2-15 .2 16 .2-1 .2-2 .2-3 .2 3 .2 13 .2-20 .2 10 .2-1 .2-8 .2 6 .2-1 .2-2 .2 2 .2 5 .2-12 .2 4 .2-3 .2 2 .2 4 .2 2 .2 5 .2-13 .2-3 .2 6 .2 10 .2-19 .2 9 .2-6 .2 19 .2-5 .2-14 .2 13 .2-9 .2 8 .2-10 .2 4 .2 2 .2 11 .2-7 .2-8 .2-2 .2 3 .2-9 .2 0 .2 12 .2 15 .2-12 .2 12 .2-14 .2-5 .2 8 .2 4 .2 2 .2-8 .2 1 .2-8 .2-8 .2 19 .2 11 .2-9 .2-2 .2-5 .2 1 .2-12 .2 9 .2-2 .2 2 .2 8 .2-1 .2-4 .2 9 .2-19 .2 18 .2-6 .2 1 .2-4 .2 5 .2-10 .2 11 .2-6 .2-18 .2 23 .2 1 .2-11 .2-6 .2 12 .2 13 .2-12 .2 4 .2-12 .2 17 .2-14 .2 5 .2 6 .2 6 .2-12 .2 3 .2-14 .2 16 .2-19 .2 12 .2-13 .2 25 .2 2 .2-11 .2-3 .2-11 .2 11 .2-5 .2 17 .2-15 .2 4 .2 9 .2-4 .2-10 .2-5 .2 12 .2-6 .2-15 .2 22 .2-2 .2-6 .2 0 .2 15 .2-13 .2-1 .2 5 .2 5 .2-11 .2 7 .2 3 .2-18 .2 11 .2-3 .2 8 .2-10 .2 10 .2-10 .2 1 .2 5 .2 3 .2-5 .2 0 .2-2 .2 4 .2 8 .2-10 .2 8 .2-4 .2-8 .2 16 .2-20 .2 15 .2 2 .2-1 .2-7 .2 8 .2 5 .2-19 .2-2 .2 7 .2 2 .2 4 .2-4 .2-7 .2-3 .2 3 .2 1 .2 4 .2-3 .2 12 .2 4 .2-16 .2 0 .2 9 .2 1 .2 4 .2-8 .2-2 .2 6 .2-1 .2-6 .2-4 .2 0 .2 17 .2-11 .2 19 .2-24 .2 3 .2 9 .2 1 .2 3 .2-15 .2 9 .2-11 .2 27 .2-3 .2-15 .2 2 .2-6 .2 7 .2-14 .2 6 .2-5 .2 11 .2 12 .2-13 .2-8 .2 9 .2-1 .2 2 .2-19 .2 15 .2-1 .2 1 .2 16 .2-20 .2-5 .2 15 .2 0 .2-13 .2 2 .2 0 .2 21 .2-13 .2 1 .2-10 .2 5 .2 8 .2 10 .2-11 .2-3 .2 5 .2-9 .2-3 .2 5 .2 8 .2 3 .2-13 .2-6 .2 22 .2-10 .2-14 .2 2 .2 13 .2-3 .2-9 .2 1 .2 14 .2 0 .2-1 .2 1 .2-9 .2 0 .2-8 .2 15 .2 0 .2-11 .2 0 .2 14 .2-9 .2 5 .2 0 .2-5 .2-2 .2 7 .2 7 .2-18 .2 16 .2-19 .2 7 .2-10 .2 13 .2 7 .2-8 .2 5 .2-10 .2 9 .2 0 .2-4 .2 1 .2-10 .2 4 .2 1 .2 13 .2-8 .2 0 .2 6 .2 12 .2-7 .2-2 .2-14 .2 12 .2-14 .2 15 .2-22 .2 17 .2-17 .2 17 .2-6 .2 9 .2-3 .2-11 .2 0 .2-1 .2 16 .2-8 .2 3 .2-7 .2 2 .2 10 .2-13 .2 17 .2-4 .2-10 .2-3 .2 10 .2-22 .2 9 .2 13 .2 5 .2-16 .2-1 .2 9 .2-5 .2 8 .2-14 .2 10 .2-6 .2 7 .2 6 .2 1 .2-6 .2 0 .2 8 .2-21 .2 9 .2 13 .2-15 .2 3 .2-8 .2 13 .2-7 .2 10 .2-8 .2-3 .2-5 .2-1 .2 10 .2-12 .2 10 .2-3 .2 4 .2 6 .2-16 .2-4 .2 14 .2-6 .2 7 .2-4 .2 4 .2-7 .2 1 .2 3 .2 0 .2 21 .2-19 .2-11 .2 15 .2-6 .2 5 .2 4 .2-14 .2 13 .2-14 .2 15 .2-19 .2 14 .2-2 .2-3 .2-1 .2 5 .2-3 .2 16 .2-12 .2-5 .2-3 .2-8 .2 24 .2 0 .2-6 .2-3 .2 4 .2 9 .2-1 .2-15 .2 4 .2-12 .2 10 .2 13 .2-4 .2-6 .2 1 .2-7 .2-2 .2 21 .2-23 .2 7 .2 5 .2-1 .2-11 .2 9 .2-2 .2 8 .2-19 .2 1 .2 20 .2-19 .2 5 .2 2 .2-10 .2 14 .2-1 .2-9 .2 5 .2 3 .2-6 .2 15 .2-20 .2 13 .2-2 .2-11 .2 0 .2 11 .2 2 .2-22 .2 16 .2 21 .2-18 .2 0 .2-1 .2 4 .2 2 .2-2 .2 1 .2-11 .2 14 .2 1 .2 1 .2 0 .2-10 .2 11 .2-15 .2 3 .2 2 .2-12 .2 22 .2-3"/>
<path fill="none" stroke="#FF0388" stroke-width="3.6" stroke-linejoin="miter" d="M162.0,404l.2-4 .2 11 .2-2 .2-37 .2 10 .2 9 .2 13 .2 17 .2-36 .2 15 .2 11 .2-6 .2-24 .2 12 .2 12 .2-14 .2 1 .2-8 .2-11 .2 11 .2-9 .2 10 .2 2 .2 32 .2-11 .2-19 .2 11 .2-49 .2 42 .2 21 .2-52 .2 10 .2 8 .2 2 .2 17 .2 6 .2-30 .2 1 .2 28 .2 6 .2 1 .2-11 .2-13 .2 6 .2-16 .2 1 .2-2 .2 21 .2 3 .2-8 .2 8 .2 6 .2-2 .2-12 .2 5 .2 10 .2 1 .2 9 .2 32 .2-36 .2-22 .2 23 .2-15 .2-10 .2-7 .2 14 .2-7 .2 39 .2-30 .2 32 .2-41 .2 9 .2-4 .2-5 .2 18 .2 2 .2-14 .2 2 .2 1 .2 2 .2-11 .2-3 .2 20 .2-25 .2 28 .2-16 .2 7 .2-7 .2 24 .2-17 .2 24 .2-32 .2 0 .2 23 .2 13 .2-41 .2 1 .2 23 .2-12 .2 15 .2 1 .2-16 .2-1 .2 11 .2 9 .2-5 .2-22 .2 16 .2 7 .2 2 .2-12 .2 1 .2-20 .2 12 .2 32 .2-26 .2 1 .2 6 .2-9 .2-26 .2 5 .2 25 .2 9 .2-11 .2 13 .2-17 .2 22 .2-6 .2-22 .2 14 .2 9 .2 14 .2-38 .2 10 .2 9 .2-52 .2 45 .2 4 .2 2 .2 18 .2-5 .2-8 .2 6 .2-18 .2 9 .2 2 .2-19 .2 26 .2-16 .2-21 .2 36 .2-23 .2-7 .2 18 .2-2 .2 14 .2-25 .2 28 .2-6 .2-7 .2 1 .2 5 .2-20 .2 18 .2-2 .2-24 .2 1 .2 17 .2 2 .2-12 .2 24 .2-10 .2 7 .2-11 .2-2 .2 14 .2-10 .2 15 .2-12 .2 1 .2-10 .2 17 .2 8 .2-21 .2 39 .2-35 .2-2 .2 7 .2-10 .2 8 .2 6 .2-6 .2-3 .2-9 .2 14 .2-8 .2-7 .2 24 .2 5 .2-18 .2 8 .2 7 .2-8 .2-5 .2-2 .2 13 .2-25 .2 1 .2 16 .2-14 .2-5 .2 14 .2-2 .2-7 .2 15 .2-9 .2-6 .2 3 .2-10 .2 15 .2-3 .2 9 .2-12 .2 16 .2-7 .2-1 .2-10 .2 7 .2-10 .2 4 .2 14 .2-3 .2-13 .2 25 .2-8 .2-4 .2 0 .2 4 .2-13 .2 7 .2 2 .2-19 .2-5 .2 19 .2-9 .2 9 .2-16 .2 20 .2 10 .2-15 .2 14 .2-16 .2-4 .2 0 .2-17 .2 22 .2 2 .2 2 .2-5 .2 1 .2-3 .2-16 .2 11 .2 12 .2-16 .2 21 .2 11 .2 0 .2-21 .2-3 .2 18 .2-20 .2-1 .2 21 .2-28 .2 4 .2 18 .2-12 .2 0 .2 11 .2 1 .2-13 .2 5 .2 7 .2 11 .2-19 .2-8 .2 6 .2 7 .2-1 .2-22 .2 14 .2-6 .2 20 .2-8 .2-8 .2 27 .2-36 .2 10 .2 12 .2-2 .2-12 .2 10 .2 4 .2 1 .2-19 .2 0 .2 4 .2 2 .2 7 .2-20 .2 46 .2-15 .2-8 .2-6 .2 17 .2-16 .2 4 .2-16 .2 13 .2-16 .2 10 .2 12 .2-18 .2 8 .2-14 .2 8 .2 3 .2 9 .2 8 .2 2 .2-18 .2-5 .2 6 .2-3 .2 1 .2-8 .2 11 .2 3 .2-1 .2-7 .2 3 .2 7 .2-2 .2 1 .2-2 .2-4 .2 10 .2-18 .2 31 .2-29 .2 13 .2 12 .2-9 .2-2 .2-11 .2 19 .2-17 .2 7 .2-8 .2 2 .2-5 .2-6 .2 25 .2-21 .2 10 .2-3 .2-2 .2-1 .2 8 .2 0 .2-26 .2 15 .2 8 .2 11 .2-9 .2 13 .2-13 .2 2 .2-3 .2 7 .2-31 .2 29 .2 2 .2-7 .2-3 .2 15 .2-19 .2 15 .2 2 .2-24 .2 1 .2 14 .2 12 .2-12 .2-3 .2 11 .2-2 .2-8 .2 8 .2 11 .2-15 .2 17 .2-9 .2 12 .2-11 .2 1 .2-13 .2 30 .2-40 .2 23 .2-7 .2-15 .2 6 .2 2 .2 13 .2-8 .2-1 .2-32 .2 20 .2 6 .2 3 .2-12 .2 36 .2-23 .2 13 .2-27 .2 8 .2 15 .2-9 .2-2 .2 21 .2-15 .2-9 .2-3 .2 16 .2 2 .2 8 .2-11 .2-1 .2 3 .2 19 .2-21 .2 12 .2-19 .2-3 .2-3 .2 11 .2-5 .2 13 .2-1 .2-7 .2-3 .2-10 .2 12 .2 5 .2 15 .2-12 .2-19 .2 29 .2-10 .2-8 .2-13 .2 16 .2-13 .2 10 .2-16 .2 10 .2 8 .2 5 .2 3 .2 2 .2-15 .2 6 .2 9 .2-21 .2 10 .2 0 .2-3 .2 23 .2-33 .2 14 .2-6 .2-3 .2 12 .2-20 .2 5 .2 10 .2 6 .2-8 .2-2 .2-23 .2 12 .2 3 .2-12 .2 32 .2-20 .2 9 .2-10 .2 12 .2 19 .2-38 .2 16 .2 4 .2-18 .2-2 .2 24 .2 5 .2-1 .2-35 .2 48 .2-34 .2 5 .2 29 .2-36 .2 36 .2-26 .2-19 .2 39 .2-27 .2-8 .2 14 .2 14 .2-9 .2 2 .2-20 .2 7 .2 2 .2 21 .2-14 .2-6 .2-14 .2 1 .2 18 .2 10 .2-3 .2-2 .2-15 .2 16 .2 6 .2-32 .2 43 .2-22 .2-11 .2 28 .2-40 .2-12 .2 23 .2 13 .2-5 .2 7 .2-14 .2 18 .2 3 .2-10 .2-6 .2 0 .2-9 .2 39 .2-31 .2 13 .2-27 .2 13 .2 2 .2-1 .2 5 .2-7 .2 4 .2 0 .2-7 .2 23 .2-8 .2-13 .2 12 .2 3 .2-12 .2-7 .2-2 .2 34 .2-34 .2 8 .2 4 .2-8 .2 10 .2-1 .2 6 .2-10 .2 15 .2-6 .2 15 .2-6 .2-12 .2-16 .2 14 .2-11 .2 30 .2-18 .2-4 .2-7 .2 3 .2 23 .2-19 .2 22 .2-17 .2 0 .2-22 .2 24 .2-12 .2 20 .2-6 .2-13 .2 25 .2-23 .2 15 .2-9 .2 2 .2-10 .2 29 .2-11 .2-21 .2 5 .2 18 .2-10 .2 5 .2 3 .2-6 .2-10 .2 31 .2-7 .2-5 .2-12 .2 9 .2-23 .2 22 .2-15 .2 21 .2-21 .2-3 .2 3 .2 7 .2-24 .2 40 .2-10 .2 23 .2-30 .2-12 .2 27 .2-17 .2 4 .2 1 .2 6 .2-6 .2 5 .2-15 .2 10 .2-8 .2 11 .2 0 .2 9 .2-29 .2 19 .2-10 .2 9 .2-16 .2 20 .2-8 .2-1 .2 21 .2-12 .2-11 .2 12 .2-17 .2 8 .2 3 .2 19 .2 0 .2-20 .2 2 .2-26 .2 14 .2-9 .2 34 .2-20 .2-12 .2 15 .2 13 .2-15 .2-5 .2 17 .2-9 .2-7 .2-14 .2 15 .2 0 .2 12 .2-12 .2 0 .2 7 .2 6 .2 14 .2-38 .2 5 .2 31 .2-22 .2-9 .2 14 .2 15 .2-15 .2-2 .2 3 .2-9 .2-7 .2 37 .2-31 .2 7 .2 16 .2-29 .2 4 .2 20 .2-11 .2 4 .2-1 .2 23 .2-33 .2-2 .2 19 .2 4 .2-17 .2 0 .2-20 .2 13 .2 9 .2 2 .2-2 .2 3 .2 3 .2 16 .2-24 .2 19 .2-28 .2 10 .2-4 .2-2 .2 6 .2 11 .2-15 .2-16 .2 33 .2 11 .2-16 .2-7 .2-2 .2 8 .2 18 .2-17 .2-16 .2 17 .2-19 .2 24 .2-15 .2 9 .2-11 .2-24 .2 29 .2-10 .2 8 .2 13 .2-30 .2 6 .2-5 .2 13 .2 4 .2-3 .2 4 .2 5 .2 4 .2-40 .2 10 .2 17 .2-11 .2 19 .2 6 .2-24 .2 10 .2-2 .2 14 .2-17 .2 4 .2 11 .2-9 .2-7 .2 26 .2-28 .2 3 .2 31 .2-23 .2 12 .2-22 .2-13 .2 35 .2-11 .2-12 .2 16 .2-5 .2 2 .2 10 .2-18 .2 18 .2-14 .2 12 .2 5 .2 6 .2-5 .2-27 .2-1 .2 27 .2-21 .2 1 .2-1 .2 43 .2-55 .2 18 .2 0 .2 5 .2-11 .2 1 .2 6 .2-1 .2-6 .2 4 .2 4 .2-23 .2 6 .2 27 .2-15 .2 13 .2-24 .2 17 .2-20 .2 20 .2-7 .2 10 .2-23 .2 20 .2-16 .2-3 .2 15 .2-19 .2 18 .2-7 .2 7 .2-5 .2 0 .2-4 .2-4 .2-4 .2 18 .2-11 .2 22 .2-7 .2-17 .2 11 .2 7 .2-22 .2-11 .2 31 .2-19 .2-10 .2 20 .2-6 .2 12 .2 9 .2 3 .2-11 .2 0 .2-20 .2 27 .2-6 .2-16 .2 5 .2-8 .2 10 .2-3 .2 5 .2-20 .2 33 .2-14 .2-5 .2 5 .2-10 .2 17 .2-7 .2-7 .2 11 .2-9 .2 6 .2-5 .2 22 .2-10 .2-2 .2 2 .2 3 .2 10 .2-18 .2 6 .2-1 .2 3 .2-2 .2-14 .2 9 .2-10 .2 1 .2 4 .2-6 .2 23 .2-19 .2 15 .2-6 .2-9 .2 14 .2-42 .2 22 .2 30 .2-18 .2-6 .2 13 .2-21 .2-5 .2 11 .2-8 .2 10 .2 2 .2 1 .2-2 .2-12 .2 15 .2-19 .2 14 .2 25 .2-13 .2-16 .2 14 .2-3 .2-5 .2-9 .2 17 .2 1 .2 5 .2-3 .2 16 .2-20 .2-38 .2 24 .2 16 .2-15 .2 25 .2-32 .2 12 .2-2 .2 0 .2 23 .2-22 .2 12 .2-13 .2 22 .2-5 .2 13 .2-33 .2 10 .2 6 .2-8 .2-7 .2-9 .2 21 .2-1 .2-3 .2 0 .2-5 .2 0 .2-25 .2 36 .2-7 .2 3 .2-14 .2 2 .2 3 .2 5 .2-5 .2 12 .2-3 .2 1 .2 0 .2-4 .2-8 .2-1 .2-8 .2-4 .2 13 .2 19 .2-15 .2 1 .2 3 .2-4 .2-10 .2 3 .2 29 .2-20 .2 16 .2-4 .2-13 .2 22 .2-11 .2-26 .2 14 .2 11 .2-22 .2 19 .2 9 .2-12 .2 5 .2-4 .2 7 .2 0 .2-9 .2-21 .2 16 .2 3 .2 18 .2-13 .2-22 .2 26 .2-13 .2 5 .2 10 .2 1 .2 22 .2-17 .2-13 .2 9 .2-6 .2-16 .2 10 .2 13 .2-2 .2-3 .2 10 .2-11 .2 6 .2-16 .2-4 .2 12 .2 9 .2-6 .2 0 .2 11 .2-16 .2 7 .2-10 .2 1 .2 10 .2 12 .2-24 .2-8 .2 23 .2 5 .2-13 .2-6 .2 5 .2-4 .2-14 .2 18 .2 9 .2-17 .2 21 .2-36 .2 31 .2-27 .2 11 .2-5 .2-1 .2 34 .2-23 .2 17 .2 4 .2-16 .2-9 .2-1 .2-6 .2 13 .2 9 .2-21 .2-1 .2 8 .2 18 .2-20 .2 20 .2-30 .2 18 .2 11 .2-25 .2 3 .2 16 .2-12 .2 8 .2 1 .2 6 .2 7 .2-29 .2 11 .2 11 .2-3 .2 0 .2-15 .2 14 .2-16 .2 26 .2-19 .2-26 .2-1 .2 38 .2 11 .2-14 .2 2 .2-5 .2-2 .2-3 .2-14 .2 17 .2 6 .2-10 .2 9 .2 3 .2-26 .2 20 .2-5 .2 15 .2-6 .2-2 .2-23 .2 27 .2-18 .2 0 .2 4 .2 10 .2-10 .2 26 .2-2 .2-25 .2 7 .2-11 .2-5 .2 4 .2 19 .2-11 .2-6 .2 1 .2-6 .2 10 .2 7 .2 12 .2-12 .2-9 .2-4 .2 37 .2-33 .2 4 .2-19 .2 16 .2-2 .2 7 .2 12 .2-6 .2-17 .2-7 .2 15 .2 7 .2-12 .2 3 .2 8 .2-14 .2 17 .2-14 .2 28 .2-20 .2-6 .2 3 .2-8 .2 14 .2-16 .2 22 .2-10 .2-14 .2 21 .2-2 .2-18 .2 18 .2-7 .2 5 .2-19 .2 28 .2-19 .2 10 .2 12 .2-17 .2 8 .2 6 .2-24 .2 3 .2 10 .2 6 .2-15 .2 20 .2-4 .2-11 .2-6 .2 25 .2-26 .2 14 .2-32 .2 25 .2 1 .2-4 .2 12 .2-4 .2-20 .2 25 .2-12 .2 16 .2-19 .2 1 .2 9 .2-17 .2 14 .2-7 .2-8 .2 20 .2-3 .2-19 .2 21 .2 5 .2-7 .2-15 .2 5 .2-2 .2 13 .2-24 .2 19 .2 2 .2-26 .2 33 .2-8 .2-23 .2 14 .2 13 .2-18 .2-11 .2 11 .2 3 .2 9 .2 3 .2-15 .2-13 .2 16 .2-2 .2 7 .2 13 .2-25 .2 29 .2-13 .2 7 .2-35 .2 22 .2 8 .2-12 .2 4 .2-4 .2 1 .2-2 .2 15 .2-17 .2 2 .2 18 .2-14 .2-4 .2 30 .2-50 .2 31 .2-5 .2 24 .2-22 .2-12 .2 7 .2-8 .2 28 .2-17 .2 1 .2-5 .2 9 .2-16 .2 11 .2-5 .2 8 .2-5 .2 5 .2 10 .2-13 .2 6 .2-10 .2-3 .2 5 .2-2 .2 6 .2-5 .2-1 .2-6 .2 17 .2-13 .2 2 .2 16 .2 9 .2-6 .2-4 .2 5 .2-22 .2 19 .2-5 .2-7 .2 1 .2 3 .2-17 .2 21 .2-5 .2-4 .2-13 .2 18 .2-14 .2 22 .2-18 .2 5 .2-25 .2 30 .2-8 .2 11 .2 3 .2-23 .2-4 .2 7 .2 14 .2-7 .2 4 .2-9 .2 0 .2-4 .2 21 .2-2 .2-5 .2 16 .2-6 .2-23 .2 18 .2-5 .2 2 .2-18 .2 15 .2-6 .2 15 .2-13 .2 1 .2 8 .2-18 .2 19 .2 4 .2-15 .2-6 .2 0 .2-1 .2 7 .2-9 .2 23 .2-16 .2 4 .2-9 .2 5 .2 1 .2-8 .2-2 .2-11 .2 4 .2 11 .2 18 .2-18 .2-5 .2 11 .2-1 .2-4 .2 0 .2-19 .2 32 .2-28 .2 1 .2 2 .2 0 .2 4 .2 3 .2 15 .2-23 .2 10 .2-1 .2 1 .2 3 .2 18 .2-22 .2 5 .2 1 .2 11 .2-1 .2-10 .2 3 .2-1 .2-8 .2 4 .2 10 .2-29 .2 15 .2 15 .2-10 .2 1 .2 0 .2 12 .2-5 .2-17 .2 20 .2-15 .2-2 .2 2 .2-10 .2 14 .2-4 .2-14 .2 20 .2 10 .2-25 .2-1 .2-10 .2 33 .2-12 .2-8 .2 18 .2-8 .2 23 .2-28 .2 9 .2-9 .2 12 .2-20 .2 22 .2-16 .2 3 .2 1 .2-2 .2-4 .2-2 .2 2 .2 9 .2-7 .2 9 .2-8 .2 11 .2-16 .2 16 .2-34 .2 8 .2 15 .2 8 .2 6 .2-16 .2 14 .2-13 .2-11 .2 23 .2-6 .2-7 .2 6 .2 0 .2-4 .2 0 .2-6 .2 12 .2-17 .2 5 .2 22 .2-18 .2 14 .2-24 .2-7 .2 26 .2-7 .2-1 .2-10 .2 18 .2-25 .2 20 .2 15 .2-19 .2 10 .2-29 .2 12 .2 7 .2 10 .2-13 .2 9 .2-2 .2-8 .2 11 .2-17 .2 18 .2 8 .2-20 .2-1 .2 3 .2 5 .2 0 .2-1 .2-10 .2 13 .2 9 .2-15 .2 20 .2-7 .2 1 .2-6 .2-7 .2 15 .2-15 .2-3 .2 19 .2-7 .2-27 .2 31 .2-8 .2-6 .2 3 .2 0 .2-11 .2 20 .2 9 .2-4 .2-10 .2-18 .2 6 .2-12 .2 15 .2 3 .2 2 .2-18 .2 12 .2-14 .2 2 .2 13 .2-5 .2 21 .2 0 .2-8 .2 6 .2-11 .2-26 .2 15 .2 10 .2 21 .2-29 .2-6 .2-16 .2 26 .2 1 .2-5 .2 9 .2 13 .2-23 .2-9 .2 30 .2-26 .2 15 .2 16 .2-18 .2 14 .2-18 .2 11 .2 0 .2 3 .2-22 .2 20 .2-19 .2 6 .2-6 .2-3 .2 0 .2 9 .2 23 .2-30 .2 27 .2-25 .2 20 .2-32 .2 28 .2-5 .2 13 .2-39 .2 22 .2-17 .2 28 .2-30 .2 6 .2 21 .2 1 .2-4 .2 3 .2-12 .2 25 .2-17 .2-21 .2 14 .2 1 .2 20 .2-3 .2-1 .2-23 .2 23 .2-18 .2 7 .2 7 .2-23 .2 24 .2-9 .2-11 .2 30 .2-11 .2 1 .2-22 .2 27 .2-11 .2-15 .2 25 .2-5 .2 1 .2 4 .2-17 .2 9 .2 3 .2 6 .2-24 .2-2 .2 32 .2-20 .2-19 .2 32 .2-19 .2 5 .2 6 .2-11 .2-13 .2 12 .2 9 .2-15 .2 1 .2 34 .2-16 .2-6 .2-6 .2 14 .2-1 .2-24 .2 7 .2 12 .2 7 .2 6 .2 2 .2-18 .2-2 .2 11 .2-24 .2 5 .2 25 .2-30 .2 21 .2 2 .2-25 .2 20 .2 7 .2 10 .2 2 .2-19 .2-3 .2 2 .2-11 .2 0 .2-1 .2 37 .2-25 .2 0 .2 20 .2-31 .2 19 .2 3 .2-10 .2-2 .2 11 .2 11 .2-27 .2 41 .2-16 .2-42 .2 21 .2-7 .2 24 .2 12 .2-20 .2-11 .2-7 .2 22 .2-25 .2 40 .2-15 .2 12 .2-24 .2 22 .2-28 .2 8 .2 5 .2-14 .2 1 .2 25 .2-36 .2 41 .2-32 .2-3 .2-11 .2 0 .2 5 .2 15 .2 5 .2 2 .2-6 .2-1 .2 20 .2-18 .2 0 .2-3 .2-8 .2 5 .2-1 .2 4 .2 48 .2-28 .2-32 .2-5 .2 12 .2 8 .2 4 .2-4 .2-24 .2-1 .2 16 .2-6 .2-17 .2 11 .2 21 .2-19 .2 10 .2 11 .2 13 .2-30 .2 13 .2-2 .2-9 .2 0 .2 29 .2-28 .2 8 .2 2 .2 21 .2-22 .2 23 .2-9 .2-24 .2 19 .2-22 .2 10 .2-4 .2 25 .2-32 .2 25 .2-11 .2 8 .2-44 .2 30 .2 0 .2 37 .2-9 .2-28 .2 2 .2-28 .2 30 .2-16 .2 30 .2-35 .2 20 .2-4 .2-4 .2-1 .2 2 .2-17 .2 30 .2 9 .2-32 .2 4 .2-12 .2 27 .2-2 .2-20 .2-6 .2 23 .2 18 .2 4 .2-25 .2 1 .2 32 .2-6 .2-33 .2-1 .2-18 .2 39 .2-12 .2-8 .2 8 .2-14 .2 36 .2-18 .2 11 .2-34 .2 11 .2 22 .2-2 .2-10 .2-13 .2 4 .2 18 .2-8 .2-5 .2 14 .2-32 .2 10 .2 12 .2 22 .2-32 .2 27 .2-24 .2 19 .2-1 .2 8 .2-10 .2-1 .2-12 .2 21 .2 0 .2-23 .2-20 .2 42 .2-9 .2-15 .2-3 .2 13 .2-11 .2 18 .2-13 .2 9 .2-48 .2 31 .2-13 .2 11 .2 21 .2-9 .2 7 .2-17 .2-12 .2 26 .2-16 .2 20 .2 2 .2-4 .2-40 .2 36 .2-23 .2 31 .2-20 .2 9 .2 10 .2-14 .2 22 .2-42 .2 6 .2 51 .2-25 .2 14 .2-20 .2-15 .2 31 .2-2 .2-16 .2-14 .2 18 .2 12 .2-37 .2 9 .2-1 .2 18 .2 14 .2-35 .2 19 .2 20 .2-38 .2 29 .2-33 .2-2 .2 13 .2 19 .2-15 .2-14 .2-8 .2 33 .2 20 .2-5 .2-25 .2-11 .2 18 .2-24 .2 4 .2 2 .2 21 .2 22 .2-42 .2-3 .2 34 .2-31 .2 33 .2-28 .2-9 .2 19 .2-13 .2-11 .2 5 .2 11 .2 17 .2 12 .2-32 .2 9 .2 9 .2 15 .2-21 .2-19 .2 36 .2-32 .2 18 .2 7 .2 9 .2-25 .2-4 .2 2 .2-4 .2 49 .2-34 .2 3 .2-18 .2 18 .2 3 .2-6 .2 21 .2-25 .2 23 .2-25 .2-8 .2 18 .2-33 .2 9 .2 18 .2-11 .2 10 .2 14 .2 4 .2-3 .2-1 .2-24 .2 9 .2-8 .2-4 .2 0 .2 46 .2-41 .2 16 .2 8 .2-5 .2-16 .2 13 .2-26 .2 5 .2 15 .2 15 .2 4 .2-4 .2-8 .2 3 .2 15 .2-35 .2 6 .2-9 .2 0 .2 6 .2 15 .2-19 .2 22 .2-19 .2 28 .2-3 .2-24 .2 1 .2 6 .2 9 .2-10 .2 14 .2-28 .2 1 .2 28 .2-2 .2-7 .2-13 .2 2 .2 9 .2-13 .2 11 .2 1 .2 34 .2-38 .2-4 .2 3 .2 26 .2-40 .2 33 .2-3 .2 1 .2 11 .2-30 .2 24 .2-25 .2 27 .2-10 .2 15 .2-22 .2-13 .2 21 .2-5 .2-2 .2 17 .2-4 .2-14 .2 14 .2 2 .2 12 .2-14 .2-12 .2-17 .2 38 .2-34 .2 2 .2 13 .2-4 .2-17 .2-12 .2 39 .2-7 .2 2 .2 35 .2-42 .2 8 .2 10 .2 1 .2-13 .2-25 .2 23 .2-1 .2 2 .2-31 .2 49 .2-30 .2 1 .2 36 .2 1 .2-35 .2 11 .2-31 .2 19 .2-2 .2-24 .2 48 .2-46 .2 65 .2-58 .2-14 .2 36 .2 17 .2-45 .2 30 .2 0 .2-13 .2 13 .2-2 .2 0 .2-3 .2-4 .2 15 .2 5 .2-25 .2-2 .2 45 .2-33 .2-6 .2-12 .2 40 .2-10 .2-18 .2 33 .2-5 .2-38 .2 15 .2 12 .2 3 .2 6 .2-43 .2 15 .2 22 .2 1 .2 3 .2-16 .2 22 .2-16 .2 8 .2 7 .2-14 .2 11 .2-31 .2 33 .2-12 .2 4 .2-10 .2-33 .2 53 .2-3 .2 14 .2-46 .2 0 .2 26 .2-10 .2 3 .2 24 .2-9 .2-2 .2 7 .2-33 .2 13 .2 13 .2-19 .2 25 .2-25 .2 28 .2-46 .2 38 .2-13 .2-3 .2 19 .2 0 .2-21 .2-6 .2 29 .2-10 .2 23 .2-19 .2-1 .2-5 .2-15 .2 11 .2 26 .2-21 .2-15 .2 13 .2 10 .2-14 .2-4 .2 0 .2 16 .2-1 .2 13 .2-3 .2 2 .2-38 .2 22 .2 6 .2-3 .2 5 .2-15 .2 4 .2 8 .2 11 .2-2 .2-2 .2-18 .2 29 .2-9 .2-8 .2 5 .2-17 .2-8 .2-14 .2 39 .2-6 .2-9 .2 6 .2-21 .2 36 .2 1 .2-28 .2 0 .2-7 .2 16 .2-25 .2 13 .2 5 .2 14 .2-13 .2 24 .2-3 .2-10 .2-10 .2 12 .2 1 .2 14 .2-37 .2 20 .2-8 .2 8 .2-11 .2-3 .2 27 .2-34 .2 19 .2-13 .2 24 .2-19 .2 5 .2-11 .2 0 .2-16 .2 42 .2-7 .2-25 .2 21 .2-16 .2 9 .2 15 .2 2 .2 2 .2-6 .2-17 .2-4 .2 21 .2-13 .2 3 .2-25 .2 1 .2 16 .2 29 .2-37 .2 23 .2 16 .2-28 .2-2 .2 6 .2 18 .2-18 .2-4 .2 1 .2 9 .2 24 .2-34 .2-1 .2 24 .2-23 .2 1 .2 6 .2-1 .2-8 .2 4 .2-4 .2 28 .2-23 .2 12 .2-16 .2 1 .2 1 .2 16 .2-8 .2 13 .2 11 .2-12 .2-15 .2 3 .2-2 .2-16 .2 21 .2-28 .2 35 .2-2 .2-7 .2 7 .2-20 .2 5 .2 9 .2-3 .2-16 .2 31 .2-19 .2 1 .2-1 .2 5 .2-13 .2 21 .2 2 .2-3 .2-5 .2 4 .2 1 .2 1 .2 4 .2 1 .2 8 .2-16 .2-30 .2 6 .2 25 .2-17 .2 18 .2 1 .2 0 .2-26 .2 13 .2 11 .2-12 .2 4 .2-8 .2 12 .2 4 .2-17 .2 32 .2-25 .2 3 .2-3 .2 16 .2-8 .2-9 .2-12 .2 15 .2-22 .2 26 .2-26 .2 35 .2-9 .2-5 .2 27 .2-10 .2-21 .2 6 .2 17 .2-9 .2-5 .2-17 .2 28 .2 9 .2-34 .2 21 .2 0 .2 27 .2-31 .2 19 .2 0 .2-8 .2-13 .2 14 .2 8 .2 0 .2-26 .2-3 .2 32 .2-12 .2-19 .2 11 .2 1 .2-1 .2-11 .2 8 .2 8 .2 5 .2 10 .2-32 .2 14 .2-9 .2 26 .2-11 .2-3 .2 0 .2 14 .2-6 .2-9 .2 7 .2 22 .2-37 .2 13 .2-9 .2 5 .2-3 .2 16 .2-10 .2 25 .2-26 .2-12 .2 13 .2 16 .2-23 .2 20 .2-24 .2 9 .2 14 .2-19 .2 11 .2 5 .2-4 .2 16 .2-29 .2 21 .2-17 .2 8 .2-1 .2-1 .2 12 .2-17 .2-7 .2 34 .2-22 .2 6 .2-25 .2 21 .2 2 .2-10 .2 0 .2-3 .2-3 .2 22 .2-24 .2 24 .2-22 .2 26 .2-31 .2 5 .2 4 .2 7 .2 1 .2 1 .2-42 .2 41 .2 22 .2-42 .2 17 .2-9 .2-1 .2 14 .2 2 .2-23 .2 7 .2 5 .2-14 .2 19 .2 19 .2-23 .2 9 .2-9 .2 4 .2 3 .2 28 .2-37 .2-12 .2 24 .2 6 .2-21 .2-9 .2 10 .2 3 .2-3 .2 22 .2-31 .2 17 .2-4 .2 5 .2-5 .2-14 .2 22 .2-5 .2 7 .2-9 .2 15 .2-20 .2 40 .2-44 .2-1 .2 28 .2-5 .2-10 .2 6 .2-10 .2 26 .2-17 .2-7 .2 16 .2-12 .2 8 .2-10 .2 10 .2-3 .2-2 .2-12 .2 6 .2 0 .2-1 .2 19 .2-25 .2 14 .2-4 .2 9 .2-9 .2 6 .2-16 .2 20 .2-3 .2-16 .2-3 .2-17 .2 19 .2 7 .2-5 .2-22 .2 46 .2-19 .2 13 .2-8 .2-3 .2-7 .2-4 .2 5 .2-1 .2 0 .2 14 .2-8 .2 7 .2-19 .2 4 .2-3 .2-2 .2 22 .2-10 .2-9 .2 12 .2 11 .2-23 .2-5 .2 13 .2 2 .2-17 .2 13 .2 13 .2-6 .2 3 .2-10 .2 8 .2-1 .2-6 .2 8 .2 21 .2-48 .2 15 .2 43 .2-48 .2 2 .2 12 .2-12 .2 18 .2-27 .2 9 .2 19 .2-12 .2 17 .2-14 .2 3 .2-22 .2 39 .2 2 .2-15 .2 4 .2-12 .2 21 .2 2 .2-23 .2 4 .2 15 .2-29 .2 6 .2 24 .2-3 .2-2 .2 4 .2-18 .2 18 .2-5 .2 1 .2-22 .2 9 .2-4 .2 2 .2 17 .2-3 .2-6 .2-18 .2 21 .2-5 .2-6 .2 1 .2-4 .2 13 .2-11 .2 4 .2-2 .2 18 .2-8 .2-2 .2-31 .2 22 .2-2 .2 9 .2 27 .2-29 .2 6 .2-6 .2 11 .2-6 .2 9 .2-1 .2-13 .2 13 .2-37 .2 32 .2-22 .2 22 .2 6 .2-21 .2 1 .2 1 .2 13 .2-25 .2 14 .2 14 .2-26 .2 18 .2-15 .2 17 .2-20 .2 2 .2 13 .2 4 .2-1 .2-2 .2-2 .2-1 .2 11 .2-7 .2 5 .2-23 .2 28 .2-33 .2 15 .2 15 .2-18 .2-2 .2 10 .2 13 .2-2 .2-27 .2 19 .2-9 .2-8 .2 5 .2-4 .2 3 .2-4 .2 24 .2-12 .2 10 .2-1 .2-21 .2 22 .2-20 .2 3 .2 13 .2-7 .2 0 .2 12 .2-6 .2-33 .2 49 .2 6 .2-16 .2 3 .2-4 .2-13 .2 9 .2 2 .2 3 .2-1 .2-8 .2 11 .2 12 .2-5 .2-8 .2-12 .2-1 .2 8 .2-11 .2 11 .2 0 .2 7 .2 4 .2-7 .2-2 .2 1 .2-10 .2 10 .2 10 .2-7 .2-9 .2 4 .2 6 .2-1 .2 2 .2-26 .2 23 .2-2 .2-5 .2 1 .2-9 .2 3 .2 2 .2-7 .2 4 .2 8 .2-4 .2-12 .2 34 .2-47 .2 31 .2-11 .2 8 .2 3 .2-2 .2-2 .2-3 .2 15 .2-22 .2 21 .2-17 .2 7 .2 3 .2-6 .2-9 .2 6 .2 4 .2-12 .2 12 .2-12 .2 4 .2 10 .2-13 .2 19 .2-7 .2-14 .2 4 .2 17 .2 8 .2-5 .2-23 .2 22 .2 7 .2-3 .2-9 .2 6 .2-5 .2-8 .2-3 .2-10 .2 23 .2-18 .2 18 .2 9 .2-11 .2-7 .2 1 .2 14 .2-23 .2 28 .2-23 .2 2 .2 20 .2-35 .2 14 .2 13 .2-1 .2-2 .2-4 .2-8 .2 7 .2-11 .2 11 .2-4 .2 4 .2 7 .2-24 .2 20 .2-4 .2-9 .2 19 .2-16 .2 5 .2-7 .2-19 .2 30 .2-7 .2 23 .2-23 .2-11 .2 26 .2-18 .2-2 .2 2 .2 23 .2-1 .2-23 .2 5 .2 13 .2-18 .2 8 .2-3 .2 19 .2-4 .2-17 .2-7 .2 10 .2-2 .2-13 .2 13 .2 10 .2-13 .2 4 .2-8 .2 8 .2 2 .2 1 .2-19 .2 10 .2-7 .2 10 .2-9 .2 21 .2-16 .2 8 .2 22 .2-28 .2 7 .2 2 .2 2 .2-5 .2 7 .2-10 .2 10 .2-5 .2 11 .2-3 .2-9 .2 0 .2-8 .2 14 .2-5 .2-19 .2 32 .2-29 .2 2 .2 16 .2-19 .2 18 .2-2 .2-2 .2-15 .2 16 .2-22 .2 39 .2-28 .2 4 .2 23 .2-6 .2-17 .2-9 .2 28 .2-15 .2-5 .2 21 .2-18 .2 16 .2-34 .2 15 .2 22 .2-6 .2-10 .2-5 .2 16 .2 5 .2-28 .2-6 .2 16 .2 4 .2-5 .2-15 .2 9 .2 12 .2-18 .2 24 .2-12 .2 5 .2-4 .2 2 .2-25 .2 14 .2 6 .2 2 .2 1 .2 10 .2-21 .2-5 .2-11 .2 13 .2 12 .2 5 .2-3 .2-8 .2 17 .2-10 .2 5 .2-11 .2 17 .2-11 .2 18 .2-10 .2-3 .2-3 .2 1 .2-5 .2 20 .2-17 .2-10 .2 8 .2 17 .2-8 .2-2 .2-14 .2 21 .2-10 .2-1 .2 6 .2-9 .2-4 .2-13 .2 37 .2-7 .2 14 .2 4 .2-21 .2-12 .2 3 .2-11 .2 6 .2 6 .2-8 .2 8 .2-4 .2 3 .2-19 .2 27 .2-15 .2 5 .2 16 .2-32 .2 26 .2-4 .2-4 .2-4 .2 2 .2-3 .2 13 .2-12 .2 1 .2-1 .2 23 .2 10 .2-17 .2-3 .2-17 .2 17 .2-1 .2-22 .2 20 .2-7 .2-5 .2 8 .2 21 .2-7 .2-22 .2-2 .2 17 .2-30 .2 32 .2-31 .2 24 .2 9 .2-14 .2 32 .2-22 .2-11 .2-6 .2-1 .2 12 .2 18 .2-30 .2 2 .2 16 .2-11 .2-8 .2-2 .2 5 .2 4 .2 14 .2 4 .2-18 .2-13 .2 17 .2 7 .2-11 .2-6 .2-8 .2 26 .2-6 .2 6 .2 4 .2 6 .2 5 .2-23 .2-11 .2 21 .2-5 .2 4 .2-17 .2 8 .2-1 .2-1 .2 6 .2-8 .2-9 .2-7 .2 24 .2-34 .2 66 .2-30 .2-15 .2 0 .2 20 .2-24 .2 5 .2-9 .2 23 .2 2 .2-6 .2-8 .2-3 .2-9 .2 6 .2-16 .2 12 .2 9 .2 17 .2 7 .2 5 .2-26 .2-5 .2 1 .2 24 .2 4 .2-24 .2 0 .2 13 .2-22 .2-14 .2 11 .2 14 .2-9 .2-2 .2 13 .2-16 .2 32 .2-28 .2 8 .2-13 .2 29 .2 7 .2-27 .2 4 .2 18 .2 2 .2-6 .2-21 .2 2 .2-2 .2 18 .2-7 .2-12 .2 27 .2-42 .2 33 .2-18 .2 7 .2-2 .2 27 .2-39 .2 9 .2 25 .2-19 .2 12 .2 6 .2-17 .2 5 .2 11 .2-15 .2 3 .2-8 .2 14 .2 6 .2-13 .2 10 .2-22 .2 3 .2-4 .2 21 .2 8 .2-11 .2-4 .2-4 .2 3 .2-12 .2 7 .2-2 .2 0 .2-6 .2 17 .2 7 .2-10 .2 28 .2-18 .2-23 .2-4 .2 14 .2 6 .2 0 .2-29 .2 32 .2-4 .2-2 .2 10 .2-7 .2-17 .2 14 .2-20 .2 22 .2-6 .2 5 .2 4 .2-25 .2 26 .2-14 .2 19 .2-25 .2 25 .2-21 .2 16 .2-8 .2-3 .2-12 .2 7 .2 0 .2 0 .2 0 .2 15 .2-17 .2 8 .2-17 .2 14 .2 12 .2-2 .2-22 .2 9 .2-10 .2 7 .2 17 .2 10 .2-28 .2 23 .2-18 .2 21 .2-27 .2 28 .2-10 .2-3 .2 1 .2-3 .2-13 .2 22 .2-17 .2 1 .2 1 .2-7 .2-14 .2 38 .2-10 .2 1 .2 8 .2-3 .2-12 .2-6 .2 4 .2 25 .2-3 .2-15 .2-1 .2 4 .2 0 .2-5 .2 1 .2-12 .2 15 .2 2 .2-11 .2-6 .2 11 .2 29 .2-37 .2 8 .2-17 .2 22 .2 1 .2-7 .2 4 .2 37 .2-22 .2-34 .2 25 .2-12 .2 20 .2-20 .2 6 .2 12 .2-23 .2 10 .2 0 .2 15 .2-15 .2 22 .2-30 .2 14 .2-12 .2 12 .2-15 .2 23 .2-5 .2-21 .2 27 .2 4 .2-21 .2 11 .2-6 .2-10 .2 17 .2-18 .2 3 .2-7 .2 27 .2-6 .2-19 .2-5 .2 28 .2-19 .2 19 .2-4 .2 5 .2-9 .2 12 .2-35 .2 24 .2-3 .2 5 .2 8 .2 0 .2 0 .2-2 .2 8 .2-12 .2 8 .2-4 .2-3 .2-12 .2 6 .2-5 .2 22 .2-32 .2 18 .2-6 .2 6 .2-8 .2-4 .2 7 .2 1 .2-6 .2-6 .2-3 .2 6 .2 4 .2 8 .2-12 .2-1 .2-9 .2 11 .2 25 .2-7 .2-28 .2 14 .2 4 .2 13 .2-12 .2 1 .2-7 .2 16 .2-26 .2 9 .2 9 .2-18 .2 7 .2-9 .2 21 .2-5 .2 9 .2-11 .2-11 .2 23 .2-1 .2-5 .2 12 .2-31 .2 3 .2 15 .2-21 .2 16 .2 19 .2-33 .2 26 .2 18 .2-27 .2-9 .2 27 .2-21 .2 28 .2-14 .2-28 .2 26 .2-23 .2 27 .2-15 .2 6 .2-1 .2 7 .2-7 .2 18 .2-19 .2 3 .2-17 .2 21 .2-17 .2 13 .2-2 .2 16 .2-17 .2-5 .2 20 .2-29 .2 18 .2 1 .2 12 .2-30 .2 14 .2 4 .2-10 .2 6 .2-17 .2 19 .2 14 .2-21 .2-8 .2-9 .2 17 .2 4 .2 6 .2-11 .2 10 .2-8 .2 20 .2-9 .2-5 .2 5 .2 6 .2 1 .2-14 .2-1 .2-2 .2 17 .2-13 .2 10 .2-4 .2-31 .2 20 .2-11 .2 4 .2 26 .2-9 .2-2 .2-4 .2 6 .2-1 .2-12 .2-2 .2 12 .2-3 .2 0 .2 9 .2-28 .2 25 .2 10 .2-26 .2 28 .2-12 .2-3 .2-5 .2 21 .2-17 .2-5 .2 12 .2 7 .2-25 .2 18 .2-15 .2-2 .2 15 .2 2 .2-10 .2 18 .2-16 .2 4 .2-6 .2-14 .2 30 .2-32 .2 13 .2 4 .2-3 .2 13 .2-8 .2 16 .2-16 .2-6 .2 25 .2-18 .2-16 .2 20 .2 10 .2-23 .2 9 .2 15 .2-7 .2 9 .2-7 .2-20 .2 15 .2-27 .2 17 .2 6 .2 14 .2-30 .2 13 .2 1 .2-9 .2 32 .2-27 .2-4 .2 4 .2 12 .2 4 .2-19 .2 24 .2 0 .2-4 .2-7 .2-5 .2 5 .2 2 .2-5 .2 7 .2-3 .2-12 .2 7 .2 14 .2-13 .2-11 .2 21 .2-12 .2-8 .2 8 .2 16 .2 8 .2-21 .2 0 .2-14 .2 21 .2-9 .2 7 .2-8 .2 5 .2-2 .2 18 .2-35 .2 4 .2 6 .2 8 .2-4 .2-2 .2 13 .2-10 .2-1 .2 13 .2 11 .2-36 .2 21 .2-35 .2 42 .2 4 .2-29 .2 10 .2 8 .2-4 .2 0 .2 6 .2-16 .2 16 .2 0 .2-4 .2-2 .2-6 .2 16 .2 11 .2-20 .2 4 .2 12 .2-20 .2-3 .2 9 .2-7 .2 4 .2 12 .2-9 .2-16 .2 19 .2 3 .2-2 .2-18 .2 7 .2 2 .2-20 .2 9 .2 28 .2-13 .2 15 .2-8 .2-17 .2 17 .2-10 .2 5 .2 4 .2-17 .2-3 .2 1 .2 21 .2-16 .2 5 .2-16 .2 22 .2-15 .2 14 .2-11 .2 14 .2 1 .2-13 .2 12 .2-8 .2-14 .2 2 .2 19 .2-21 .2 8 .2-10 .2 17 .2-16 .2 18 .2-4 .2 5 .2 3 .2-14 .2 16 .2-15 .2 13 .2-9 .2 15 .2-13 .2-3 .2 4 .2 5 .2 0 .2-7 .2 3 .2-13 .2 15 .2-13 .2 29 .2-15 .2-3 .2-5 .2 7 .2 11 .2-9 .2-2 .2 3 .2 0 .2 6 .2-20 .2 0 .2 18 .2-2 .2-11 .2 13 .2 19 .2-41 .2 2 .2-3 .2 27 .2-7 .2 5 .2-20 .2 4 .2 5 .2 14 .2-10 .2-15 .2 19 .2 0 .2-7 .2-5 .2-12 .2 3 .2 9 .2-3 .2 9 .2 11 .2-15 .2 2 .2 3 .2-5 .2-20 .2 14 .2 9 .2-2 .2 13 .2-17 .2 21 .2-34 .2 11 .2 10 .2-5 .2 7 .2-8 .2-3 .2-3 .2 3 .2 18 .2-4 .2-8 .2-8 .2 4 .2-13 .2 25 .2-10 .2 7 .2-16 .2 3 .2-2 .2 13 .2-4 .2-4 .2-2 .2 4 .2 7 .2-16 .2 12 .2 10 .2-9 .2-10 .2 19 .2-29 .2 22 .2-7 .2 2 .2 9 .2-19 .2 13 .2 10 .2-11 .2 16 .2-28 .2 14 .2-10 .2 17 .2-5 .2-5 .2 6 .2 7 .2-12 .2 5 .2-10 .2 6 .2 15 .2-16 .2 3 .2 3 .2-3 .2 9 .2-10 .2-12 .2 1 .2 13 .2-10 .2-6 .2 11 .2 11 .2-6 .2-23 .2 16 .2 7 .2-2 .2-20 .2 23 .2 1 .2 2 .2 1 .2-15 .2 2 .2-3 .2 6 .2 0 .2 3 .2 1 .2-12 .2 1 .2 13 .2 5 .2-7 .2 2 .2-4 .2-5 .2 25 .2-9 .2 12 .2-16 .2-16 .2 18 .2-13 .2 11 .2 1 .2-11 .2 12 .2-4 .2 2 .2-3 .2 19 .2-21 .2-8 .2 7 .2 5 .2 4 .2-8 .2-10 .2 13 .2-2 .2 3 .2-1 .2 8 .2-4 .2 0 .2-6 .2-15 .2 14 .2 2 .2-15 .2 4 .2 4 .2-3 .2 10 .2-1 .2 0 .2-12 .2 19 .2-14 .2 1 .2-2 .2 5 .2-4 .2 5 .2-5 .2 14 .2-28 .2 23 .2 5 .2-9 .2-5 .2-9 .2 18 .2-8 .2 15 .2-6 .2-12 .2 14 .2-1 .2-9 .2 22 .2-2 .2-38 .2 24 .2-9 .2 9 .2 7 .2 3 .2-21 .2 25 .2-8 .2-35 .2 36 .2 0 .2 8 .2-7 .2-20 .2 16 .2 11 .2-23 .2 27 .2-17 .2 5 .2 2 .2-12 .2-19 .2 18 .2 2 .2 0 .2 6 .2-8 .2 0 .2 15 .2-14 .2-2 .2 11 .2-4 .2-4 .2 6 .2 8 .2-28 .2 12 .2 4 .2 4 .2-2 .2 7 .2 5 .2-7 .2-12 .2 5 .2 12 .2-10 .2-12 .2 6 .2 16 .2 3 .2-9 .2-3 .2-2 .2 6 .2-11 .2 4 .2 8 .2-24 .2 17 .2-1 .2 3 .2-2 .2 15 .2-30 .2 20 .2-3 .2-5 .2-4 .2-10 .2 12 .2 8 .2-10 .2-1 .2 17 .2-6 .2-2 .2 2 .2-10 .2 11 .2-8 .2-13 .2 13 .2 13 .2 7 .2-23 .2 0 .2 21 .2-17 .2 14 .2-11 .2-2 .2 2 .2-6 .2-9 .2 20 .2 0 .2-8 .2 6 .2 11 .2-15 .2 3 .2 15 .2-17 .2 16 .2-9 .2-14 .2 1 .2 15 .2-28 .2 34 .2-21 .2 2 .2 14 .2-3 .2 13 .2-23 .2 5 .2 5 .2-4 .2-13 .2 6 .2 13 .2-15 .2 8 .2-2 .2-10 .2 13 .2 2 .2-25 .2 17 .2 15 .2-18 .2 21 .2-2 .2-27 .2 12 .2 3 .2-9 .2 26 .2-14 .2-8 .2-4 .2 6 .2 0 .2-4 .2 1 .2 25 .2-17 .2-8 .2 14 .2 1 .2-9 .2-3 .2-2 .2-3 .2 16 .2 16 .2-42 .2 14 .2 10 .2-15 .2-1 .2-8 .2-4 .2 31 .2-2 .2-10 .2 15 .2-13 .2 18 .2-10 .2-17 .2 5 .2 4 .2 16 .2-30 .2 10 .2-8 .2 3 .2 23 .2 7 .2-22 .2-10 .2-3 .2 27 .2-3 .2-15 .2 4 .2-3 .2 18 .2-15 .2 3 .2-5 .2-8 .2 5 .2 3 .2-2 .2 4 .2-12 .2 21 .2-21 .2 13 .2 4 .2 8 .2-30 .2 12 .2 23 .2-12 .2-6 .2-6 .2 13 .2 8 .2-15 .2-7 .2 6 .2-17 .2 10 .2 6 .2 0 .2 9 .2 0 .2-12 .2 21 .2-15 .2-6 .2 8 .2-8 .2-7 .2 4 .2 10 .2 11 .2-28 .2 13 .2 12 .2-12 .2 6 .2 2 .2 8 .2-7 .2-3 .2 23 .2-27 .2 9 .2-33 .2 31 .2-22 .2 18 .2-23 .2 26 .2 10 .2-13 .2 2 .2 13 .2-16 .2 8 .2-17 .2 5 .2-14 .2 26 .2-14 .2 10 .2 3 .2 0 .2-11 .2 9 .2-5 .2-7 .2-6 .2 14 .2-2 .2 2 .2-1 .2 1 .2 7 .2 6 .2-18 .2-3 .2 12 .2-5 .2-4 .2 3 .2-7 .2 14 .2-12 .2 17 .2-21 .2 7 .2 10 .2 0 .2-7 .2-1 .2 13 .2-22 .2-15 .2 37 .2-18 .2-2 .2 7 .2 8 .2-7 .2-1 .2 2 .2 14 .2-15 .2 8 .2 0 .2 1 .2-12 .2-5 .2 24 .2 1 .2-13 .2-17 .2 19 .2 1 .2-5 .2-12 .2 13 .2-10 .2 3 .2 9 .2-6 .2 7 .2-9 .2 7 .2-1 .2 0 .2 13 .2-5 .2-6 .2 6 .2 13 .2-29 .2 21 .2-23 .2-15 .2 18 .2 26 .2-10 .2 0 .2-24 .2 44 .2-33 .2 1 .2 19 .2-14 .2-17 .2 17 .2-6 .2 10 .2-4 .2 3 .2-11 .2-15 .2 15 .2-7 .2 12 .2 3 .2-17 .2 12 .2 21 .2-8 .2 0 .2-3 .2-12 .2 28 .2-30 .2 9 .2-2 .2 6 .2-16 .2-1 .2-7 .2 14 .2-9 .2 7 .2 14 .2-14 .2 7 .2 2 .2 3 .2-12 .2 5 .2 2 .2-16 .2 5 .2 17 .2-13 .2 3 .2 1 .2-12 .2 12 .2-7 .2 17 .2 5 .2-2 .2-2 .2-3 .2-7 .2 0 .2 10 .2-13 .2 16 .2-14 .2-9 .2 3 .2-5 .2 29 .2-12 .2 1 .2-8 .2-12 .2 5 .2 14 .2-18 .2 2 .2 21 .2-17 .2 18 .2-21 .2 4 .2 1 .2 19 .2 4 .2-15 .2 5 .2-19 .2 6 .2 3 .2-9 .2 9 .2 12 .2-3 .2-9 .2-9 .2 13 .2 4 .2 10 .2-16 .2-3 .2 6 .2 12 .2-26 .2 12 .2 16 .2-9 .2-23 .2-7 .2 32 .2-11 .2 5 .2 5 .2 3 .2-7 .2-11 .2 7 .2 11 .2-25 .2 0 .2 16 .2 2 .2-10 .2 19 .2-10 .2 6 .2-10 .2 6 .2-10 .2-1 .2-5 .2 10 .2 6 .2 2 .2-9 .2-16 .2 26 .2 3 .2-7 .2 11 .2 0 .2-26 .2 28 .2-19 .2-1 .2-2 .2 4 .2 7 .2-4 .2 15 .2-14 .2 12 .2-26 .2 6 .2 9 .2-5 .2 20 .2-30 .2 7 .2 13 .2-3 .2-10 .2-5 .2 12 .2-3 .2 11 .2-20 .2 1 .2 20 .2-17 .2 20 .2-24 .2 12 .2 3 .2-16 .2 13 .2-1 .2 1 .2-9 .2 1 .2 7 .2-12 .2 7 .2-6 .2 12 .2 1 .2 2 .2-3 .2-1 .2 16 .2 6 .2-15 .2-6 .2 5 .2-9 .2-10 .2 4 .2 11 .2-15 .2 18 .2-19 .2 3 .2 0 .2 7 .2-11 .2 28 .2-23 .2 17 .2-7 .2-3 .2 4 .2 5 .2-14 .2 0 .2 14 .2-12 .2-2 .2-1 .2 17 .2 4 .2-5 .2-13 .2 23 .2-30 .2 20 .2-15 .2 0 .2 15 .2-19 .2 12 .2 4 .2-1 .2 2 .2-1 .2-8 .2 2 .2-12 .2 8 .2 6 .2-13 .2 14 .2-5 .2 6 .2 1 .2-18 .2 13 .2 13 .2-15 .2 0 .2 3 .2 0 .2 12 .2 4 .2-26 .2 2 .2 27 .2-20 .2 8 .2-4 .2 1 .2 5 .2-19 .2 12 .2 12 .2-13 .2 2 .2 4 .2-8 .2 16 .2-9 .2 6 .2-18 .2 8 .2-9 .2-1 .2 26 .2-15 .2-12 .2 7 .2 0 .2-4 .2 11 .2 7 .2 4 .2-19 .2 12 .2 8 .2-5 .2-7 .2-8 .2 26 .2-20 .2 5 .2-10 .2 11 .2-8 .2-4 .2 7 .2 1 .2 18 .2-19 .2-10 .2 20 .2-6 .2-4 .2-6 .2 12 .2-9 .2 9 .2-2 .2 2 .2-8 .2 30 .2-28 .2-13 .2 16 .2 1 .2-7 .2 8 .2-8 .2 6 .2 6 .2-11 .2 10 .2-1 .2-28 .2 12 .2 3 .2 4 .2-1 .2-1 .2-9 .2 21 .2-15 .2 3 .2 9 .2-18 .2-3 .2 19 .2-9 .2-12 .2 17 .2-7 .2 1 .2 15 .2-10 .2-2 .2 5 .2-13 .2 11 .2-4 .2-1 .2 1 .2-7 .2 1 .2 18 .2 6 .2-26 .2-5 .2 22 .2-12 .2 6 .2 4 .2 0 .2-2 .2 9 .2-4 .2 3 .2-13 .2 6 .2-1 .2 10 .2-9 .2 5 .2-8 .2 5 .2 2 .2-7 .2-10 .2 18 .2-16 .2 8 .2-10 .2 23 .2-7 .2-2 .2-15 .2 5 .2 8 .2 1 .2 5 .2-5 .2-3 .2-10 .2 7 .2-6 .2 18 .2-14 .2 15 .2-13 .2 2 .2 13 .2-27 .2 22 .2-6 .2-14 .2 17 .2-6 .2-14 .2 18 .2 9 .2-5 .2-28 .2 15 .2 8 .2-2 .2-2 .2 5 .2-10 .2 22 .2-17 .2-5 .2-1 .2-8 .2 14 .2 7 .2 11 .2-21 .2-6 .2 20 .2 0 .2-14 .2 2 .2 19 .2-10 .2 5 .2-8 .2 5 .2-5 .2-12 .2 22 .2 4 .2-19 .2 12 .2-5 .2-1 .2-5 .2 11 .2-5 .2-15 .2 18 .2-4 .2 9 .2-6 .2-3 .2-4 .2 8 .2-8 .2 10 .2-11 .2 3 .2 7 .2 2 .2-13 .2 9 .2 0 .2-13 .2 11 .2 10 .2-31 .2 16 .2 5 .2 10 .2-19 .2 6 .2-10 .2 3 .2 16 .2-32 .2 18 .2 10 .2-13 .2 3 .2 2 .2-2 .2 10 .2 8 .2-24 .2 15 .2-14 .2 2 .2 26 .2-12 .2 2 .2-30 .2 13 .2 16 .2-25 .2 28 .2-20 .2 2 .2-1 .2 0 .2-1 .2 13 .2-9 .2-11 .2 25 .2-9 .2-11 .2 15 .2-1 .2-13 .2 7 .2 6 .2 6 .2-21 .2 19 .2-11 .2 10 .2-17 .2 6 .2 4 .2-16 .2 9 .2-7 .2 5 .2 13 .2-12 .2 0 .2 21 .2-5 .2 4 .2-13 .2-1 .2-4 .2 24 .2-31 .2 22 .2 2 .2-17 .2-3 .2 6 .2 0 .2 14 .2-37 .2 35 .2-14 .2 10 .2-10 .2 21 .2-6 .2-14 .2 21 .2-18 .2 7 .2-9 .2-8 .2 16 .2-18 .2 6 .2 5 .2-8 .2 10 .2-1 .2 22 .2-14 .2-3 .2-4 .2-4 .2 14 .2-21 .2 15 .2-14 .2 12 .2 5 .2 2 .2-20 .2 14 .2-3 .2 12 .2-9 .2-25 .2 33 .2-5 .2-4 .2-2 .2 2 .2-6 .2-7 .2 15 .2-5 .2-3 .2 11 .2-13 .2 6 .2 0 .2 14 .2-10 .2-2 .2 7 .2-11 .2-13 .2 14 .2 2 .2-11 .2 18 .2 1 .2-10 .2-5 .2 14 .2 1 .2-16 .2 14 .2 0 .2 4 .2-3 .2-11 .2-2 .2 5 .2 3 .2 0 .2-11 .2 20 .2-18 .2 12 .2-6 .2-14 .2 7 .2 8 .2 0 .2-4 .2-5 .2 22 .2-28 .2 0 .2 15 .2 8 .2-5 .2-14 .2 3 .2 11 .2-13 .2 5 .2-11 .2 9 .2-1 .2-3 .2 7 .2-3 .2 3 .2-10 .2 8 .2-7 .2 12 .2-1 .2 6 .2-12 .2 9 .2 0 .2-13 .2 17 .2-1 .2-7 .2 0 .2 9 .2-2 .2 4 .2-17 .2 19 .2-1 .2-24 .2 13 .2 9 .2-7 .2 4 .2-15 .2 10 .2 4 .2-12 .2 3 .2 9 .2-11 .2-3 .2 13 .2-5 .2 10 .2-11 .2 6 .2-15 .2 18 .2-7 .2 2 .2-11 .2 22 .2-16 .2-1 .2 16 .2-21 .2 3 .2 7 .2 8 .2-1 .2-17 .2 12 .2 8 .2 1 .2-20 .2 9 .2-1 .2-3 .2 2 .2 1 .2-15 .2 26 .2-3 .2-11 .2-6 .2 21 .2-7 .2 24 .2-22 .2-23 .2 19 .2-12 .2-1 .2 15 .2-4 .2 4 .2 3 .2 4 .2-10 .2 1 .2 21 .2-36 .2 31 .2-13 .2-1 .2 9 .2 1 .2-11 .2-7 .2 15 .2-10 .2-6 .2 2 .2-7 .2 3 .2 16 .2-15 .2 25 .2-15 .2-5 .2 4 .2-9 .2 24 .2-11 .2 23 .2-21 .2-6 .2-28 .2 38 .2-8 .2-7 .2 2 .2-4 .2 17 .2-5 .2-7 .2 17 .2-22 .2 5 .2-7 .2 1 .2 6 .2-17 .2 0 .2 37 .2-31 .2 21 .2-22 .2 22 .2 5 .2 15 .2-52 .2 10 .2 23 .2-3 .2-22 .2 21 .2-13 .2-1 .2 2 .2-1 .2 21 .2-13 .2-12 .2 10 .2-4 .2 10 .2 20 .2-26 .2-15 .2 16 .2-1 .2 6 .2-17 .2 6 .2 6 .2-12 .2 2 .2-3 .2 20 .2 1 .2 0 .2-13 .2 1 .2 15 .2-11 .2 4 .2-1 .2-5 .2-3 .2 15 .2 2 .2-7 .2-3 .2-6 .2 2 .2-6 .2 13 .2-3 .2 4 .2-18 .2 38 .2-25 .2-4 .2-9 .2 4 .2 14 .2 2 .2 9 .2-27 .2 4 .2-12 .2 17 .2 7 .2 12 .2-4 .2-8 .2-7 .2 7 .2 2 .2-16 .2 24 .2-22 .2 16 .2-22 .2 15 .2-3 .2 5 .2 6 .2-16 .2 8 .2 8 .2-12 .2 9 .2-4 .2 20 .2-13 .2 3 .2-24 .2 17 .2 6 .2 2 .2 2 .2-22 .2 7 .2-11 .2 10 .2 9 .2-10 .2 3 .2 4 .2-10 .2-9 .2 11 .2 11 .2 2 .2-21 .2 9 .2 20 .2-9 .2-14 .2 17 .2-9 .2-5 .2 1 .2 0 .2 12 .2-13 .2-5 .2 9 .2 0 .2 11 .2-5 .2-10 .2-9 .2 24 .2-9 .2 2 .2-3 .2-3 .2 1 .2 22 .2-6 .2-15 .2 2 .2-12 .2 21 .2 1 .2-13 .2-23 .2 44 .2-21 .2-4 .2-2 .2 11 .2-13 .2 12 .2 5 .2 2 .2-18 .2 10 .2 3 .2-3 .2-4 .2-6 .2 3 .2 13 .2 0 .2-16 .2 7 .2-4 .2 20 .2-24 .2 22 .2-9 .2-15 .2 4 .2 4 .2 1 .2 17 .2-14 .2-5 .2 2 .2-9 .2 8 .2 9 .2-9 .2 11 .2-11 .2-2 .2-16 .2 6 .2 11 .2-10 .2 9 .2 5 .2-12 .2 11 .2-2 .2 2 .2-14 .2 3 .2 5 .2-1 .2-1 .2-15 .2 37 .2-12 .2 12 .2-9 .2-19 .2 12 .2-9 .2 13 .2-14 .2 5 .2 11 .2-8 .2 5 .2 8 .2-20 .2 13 .2-2 .2 5 .2-18 .2 12 .2-1 .2 5 .2 10 .2-18 .2-20 .2 17 .2 1 .2 14 .2 0 .2-13 .2 8 .2-2 .2-2 .2 16 .2-21 .2 14 .2-2 .2 2 .2-15 .2 1 .2 11 .2 0 .2-6 .2-5 .2 0 .2 1 .2-5 .2 17 .2-2 .2 2 .2-8 .2 7 .2-11 .2-3 .2 21 .2-19 .2 13 .2 3 .2-3 .2-6 .2 8 .2 7 .2 2 .2-13 .2 0 .2 9 .2-17 .2 5 .2-13 .2 36 .2-6 .2-2 .2-16 .2 4 .2-10 .2-2 .2 7 .2 14 .2 2 .2-20 .2 9 .2 3 .2-3 .2-3 .2 3 .2-13 .2 8 .2-8 .2 23 .2-20 .2 12 .2-4 .2 5 .2-7 .2 11 .2-18 .2 28 .2-23 .2-2 .2 23 .2-13 .2-11 .2-2 .2 19 .2-7 .2 4 .2-5 .2-20 .2 16 .2 31 .2-18 .2-8 .2 11 .2-17 .2 15 .2-9 .2-12 .2 24 .2 0 .2-4 .2-5 .2-2 .2-10 .2 8 .2-1 .2-4 .2 2 .2 0 .2 15 .2-18 .2 24 .2-23 .2-6 .2 0 .2 3 .2 17 .2-6 .2-15 .2 14 .2-9 .2 16 .2-21 .2-2 .2 18 .2-8 .2-2 .2 15 .2-17 .2 9 .2 5 .2-14 .2 13 .2-6 .2 5 .2-12 .2-7 .2 4 .2 6 .2-2 .2 12 .2-5 .2-15 .2 24 .2-11 .2-13 .2 2 .2 16 .2-3 .2 1 .2 1 .2-3 .2 11 .2-13 .2 0 .2 6 .2-3 .2-2 .2 9 .2-8 .2 22 .2-21 .2-10 .2 11 .2 12 .2-11 .2 1 .2 2 .2 3 .2-17 .2 10 .2-4 .2 1 .2 2 .2-4 .2 4 .2 18 .2-16 .2-6 .2 1 .2 4 .2 10 .2-6 .2 5 .2-16 .2 10 .2 3 .2-5 .2 8 .2-5 .2 0 .2 0 .2-5 .2-11 .2-3 .2 10 .2-16 .2 23 .2-3 .2-3 .2 3 .2-24 .2 18 .2 8 .2 7 .2-13 .2 10 .2-12 .2 6 .2-2 .2-9 .2-2 .2 2 .2-2 .2 1 .2 8 .2-1 .2-1 .2 0 .2-4 .2 6 .2 6 .2-6 .2-6 .2-3 .2 18 .2 6 .2-10 .2 3 .2-7 .2-8 .2 13 .2 6 .2-17 .2 3 .2 4 .2 2 .2-13 .2 12 .2 3 .2-2 .2 14 .2-17 .2-2 .2 8 .2-9 .2 0 .2 24 .2-19 .2-5 .2 23 .2-17 .2-14 .2 11 .2 34 .2-13 .2-30 .2 7 .2 16 .2-20 .2 15 .2 2 .2 0 .2-6 .2 2 .2-8 .2 6 .2-4 .2-3 .2 21 .2-8 .2 7 .2 0 .2-12 .2-16 .2 4 .2 20 .2-9 .2 2 .2 6 .2-19 .2 9 .2 3 .2-4 .2 2 .2 10 .2 1 .2-12 .2 9 .2 3 .2-21 .2 6 .2 11 .2 4 .2-5 .2-1 .2 6 .2-6 .2 14 .2-27 .2 25 .2-16 .2 10 .2-8 .2 6 .2-7 .2 1 .2-11 .2 8 .2 10 .2-4 .2-10 .2 6 .2-23 .2 20 .2-12 .2 25 .2 1 .2 0 .2-14 .2 0 .2-2 .2-1 .2 11 .2-5 .2-15 .2-1 .2 21 .2-14 .2-3 .2 0 .2 1 .2 4 .2 5 .2-8 .2 4 .2 7 .2 0 .2 10 .2-20 .2 5 .2-6 .2 4 .2-3 .2 17 .2-17 .2 1 .2-1 .2 1 .2 3 .2 3 .2-5 .2-12 .2 32 .2-17 .2-6 .2 1 .2-1 .2-8 .2 4 .2 17 .2 0 .2-8 .2 2 .2 6 .2-9 .2 8 .2-4 .2-9 .2 6 .2 12 .2-10 .2 11 .2-8 .2-3 .2-11 .2 9 .2 8 .2-9 .2 9 .2-12 .2 11 .2 3 .2-8 .2 3 .2-8 .2 4 .2 14 .2-16 .2-4 .2 5 .2 10 .2-11 .2-9 .2 11 .2-4 .2 5 .2-4 .2-1 .2 4 .2-9 .2 11 .2-13 .2 30 .2-14 .2-10 .2 3 .2-6 .2 11 .2 2 .2 5 .2 0 .2-11 .2 2 .2-2 .2 3 .2 6 .2-7 .2-4 .2 5 .2-4 .2-7 .2 6 .2-3 .2 7 .2 0 .2-14 .2 15 .2 5 .2-3 .2-15 .2 7 .2-4 .2 14 .2 10 .2-11 .2 16 .2-19 .2 2 .2-7 .2 4 .2-18 .2 23 .2 5 .2-31 .2 24 .2-3 .2 0 .2-5 .2 7 .2-4 .2-1 .2 5 .2-8 .2 10 .2 16 .2-29 .2 7 .2-8 .2 1 .2 11 .2 1 .2 0 .2-1 .2-4 .2 11 .2-4 .2 0 .2-8 .2 2 .2-1 .2 9 .2 3 .2 2 .2-23 .2 4 .2 12 .2-3 .2 9 .2-4 .2-9 .2 7 .2-10 .2 8 .2-9 .2-1 .2 16 .2 0 .2-23 .2 35 .2-19 .2 6 .2-8 .2-3 .2 13 .2-8 .2-1 .2 9 .2-17 .2 6 .2 4 .2-6 .2-3 .2 15 .2 0 .2-22 .2 14 .2-4 .2 9 .2-1 .2-10 .2-1 .2 1 .2 2 .2 8 .2-7 .2-6 .2 13 .2 3 .2 1 .2-9 .2 6 .2-9 .2 15 .2-22 .2 18 .2-11 .2 1 .2 0 .2 8 .2-2 .2 10 .2-18 .2 12 .2-10 .2 11 .2-5 .2 9 .2-13 .2-7 .2 24 .2-9 .2-1 .2-7 .2-1 .2-2 .2 8 .2-8 .2-10 .2 21 .2 9 .2-11 .2-15 .2 5 .2 7 .2 8 .2-11 .2-8 .2 10 .2-11 .2 9 .2 7 .2-2 .2-7 .2 2 .2-1 .2 2 .2-1 .2 7 .2-5 .2 6 .2 2 .2 4 .2 5 .2-16 .2 11 .2-18 .2 18 .2-3 .2-10 .2 2 .2-11 .2 10 .2-9 .2 20 .2-7 .2-6 .2 5 .2-5 .2 0 .2 5 .2-9 .2-6 .2 20 .2-9 .2 7 .2-13 .2 12 .2-22 .2 6 .2 5 .2-6 .2 7 .2 6 .2 0 .2-10 .2 11 .2 3 .2-6 .2-7 .2-2 .2 13 .2-8 .2-4 .2 2 .2-1 .2 21 .2-19 .2 8 .2 2 .2-4 .2-5 .2 6 .2-10 .2 5 .2 4 .2 5 .2-3 .2-5 .2 3 .2 1 .2-5 .2 5 .2-9 .2 4 .2 3 .2 10 .2-17 .2 15 .2-9 .2 0 .2 8 .2-5 .2 7 .2-15 .2 1 .2 4 .2 1 .2 9 .2 2 .2 8 .2-18 .2-3 .2-11 .2 12 .2 1 .2 12 .2-8 .2 2 .2-3 .2-11 .2-3 .2 12 .2-6 .2-7 .2 10 .2 5 .2 1 .2-15 .2 21 .2-14 .2 14 .2-16 .2 7 .2-7 .2 9 .2-13 .2 9 .2 7 .2-8 .2 8 .2-5 .2 8 .2 2 .2-18 .2 7 .2-10 .2 9 .2-2 .2 1 .2-6 .2 24 .2-15 .2-11 .2 12 .2-2 .2 6 .2 12 .2-3 .2-21 .2 10 .2-2 .2 3 .2-10 .2-3 .2 15 .2 2 .2-9 .2 10 .2-20 .2 8 .2 10 .2-6 .2-4 .2 1 .2 8 .2-22 .2 24 .2-16 .2 8 .2 4 .2-3 .2 2 .2-10 .2-4 .2 24 .2-12 .2 5 .2 1 .2 9 .2-26 .2 29 .2-15 .2-15 .2 2 .2 4 .2-2 .2 9 .2 0 .2-8 .2 8 .2 16 .2-24 .2 10 .2-9 .2 12 .2-6 .2 12 .2-20 .2-1 .2 7 .2 3 .2 4 .2-2 .2-13 .2 3 .2 0 .2 14 .2-13 .2 6 .2 8 .2-5 .2-5 .2 7 .2 2 .2-9 .2-1 .2-10 .2 19 .2 3 .2-5 .2 2 .2-3 .2-8 .2 6 .2 16 .2-10 .2-11 .2 4 .2 3 .2 2 .2 8 .2-17 .2 10 .2-6 .2-1 .2-7 .2 5 .2-2 .2 7 .2 6 .2-21 .2 20 .2 1 .2-3 .2 3 .2 1 .2-12 .2 4 .2-7 .2 17 .2-7 .2-9 .2-3 .2 13 .2 8 .2-8 .2-6 .2 6 .2 9 .2-8 .2 1 .2-8 .2 1 .2 4 .2-8 .2 9 .2-10 .2 24 .2-10 .2-7 .2 6 .2-3 .2 6 .2-13 .2 2 .2-6 .2 13 .2-9 .2 4 .2 6 .2-13 .2 27 .2-19 .2-14 .2 23 .2-31 .2 14 .2-5 .2 24 .2-18 .2 0 .2 9 .2-2 .2-5 .2-7 .2 0 .2 27 .2-11 .2 7 .2-16 .2 10 .2-2 .2 8 .2-9 .2-1 .2 2 .2-15 .2 11 .2-2 .2 18 .2-19 .2 13 .2 4 .2-17 .2-5 .2 0 .2 12 .2-10 .2 5 .2 3 .2-2 .2-13 .2-3 .2 13 .2 1 .2-5 .2 15 .2-2 .2-8 .2-2 .2 7 .2-5 .2-9 .2 17 .2-12 .2-5 .2 3 .2-6 .2 15 .2 0 .2-17 .2 28 .2-10 .2 0 .2-25 .2 38 .2 2 .2-12 .2-6 .2-7 .2 0 .2-5 .2 5 .2 13 .2-1 .2 1 .2 12 .2-15 .2-10 .2 16 .2-3 .2-2 .2-5 .2 11 .2-6 .2 9 .2-9 .2-11 .2 5 .2 14 .2-14 .2 0 .2 14 .2-11 .2-9 .2 0 .2 9 .2 4 .2-1 .2-6 .2-11 .2 22 .2-7 .2-3 .2 4 .2-14 .2 2 .2 8 .2-4 .2 10 .2-7 .2 1 .2 3 .2 0 .2-2 .2-2 .2 0 .2 6 .2-9 .2-7 .2 5 .2 15 .2-11 .2 5 .2-1 .2 13 .2-20 .2 15 .2-16 .2 12 .2 8 .2-4 .2-8 .2 13 .2-23 .2 9 .2-4 .2 14 .2-10 .2-1 .2 6 .2-14 .2 24 .2-23 .2 6 .2 0 .2 6 .2 2 .2-10 .2-4 .2 15 .2 1 .2-9 .2-23 .2 32 .2 4 .2-27 .2 8 .2 12 .2-2 .2-6 .2-14 .2 17 .2 2 .2-12 .2 8 .2-1 .2 3 .2-8 .2 21 .2-26 .2 9 .2 9 .2-4 .2-7 .2-4 .2 1 .2 12 .2-3 .2-9 .2-9 .2 21 .2-4 .2 7 .2-26 .2 24 .2-10 .2 8 .2-8 .2 6 .2-15 .2 22 .2 0 .2-10 .2-13 .2 26 .2-2 .2-7 .2 6 .2-15 .2 23 .2-16 .2 23 .2-26 .2 8 .2-7 .2 4 .2-8 .2 6 .2 5 .2-1 .2 4 .2-16 .2 18 .2-26 .2 14 .2 5 .2-11 .2-14 .2 22 .2-2 .2 9 .2 0 .2-18 .2 15 .2-5 .2-4 .2 15 .2-12 .2 11 .2-8 .2-12 .2 12 .2-8 .2 2 .2-8 .2 11 .2 13 .2-4 .2-3 .2-6 .2-7 .2 10 .2 4 .2-5 .2-5 .2 15 .2 1 .2-1 .2-3 .2-2 .2 4 .2-27 .2 23 .2 5 .2-6 .2-11 .2 9 .2 25 .2-14 .2-17 .2 14 .2 7 .2-21 .2 9 .2-13 .2 10 .2 4 .2 4 .2-17 .2 4 .2 10 .2 7 .2-5 .2 4 .2-13 .2 19 .2-25 .2 7 .2 4 .2-19 .2 0 .2 30 .2-12 .2 5 .2-17 .2-3 .2-2 .2 12 .2-6 .2 10 .2 8 .2-7 .2 1 .2-19 .2 4 .2 29 .2-16 .2-6 .2-10 .2 32 .2-29 .2 6 .2 1 .2-5 .2 12 .2 4 .2 1 .2-8 .2 0 .2-17 .2 7 .2 0 .2 12 .2-12 .2 15 .2-9 .2-9 .2 13 .2 9 .2-3 .2-17 .2 20 .2-14 .2 9 .2-7 .2 8 .2-16 .2 9 .2-2 .2 14 .2-18 .2 5 .2-7 .2 10 .2 3 .2-17 .2 5 .2 15 .2-1 .2 3 .2 4 .2-11 .2-9 .2 18 .2-3 .2-15 .2 0 .2 12 .2-3 .2 9 .2-7 .2-1 .2-7 .2 21 .2-16 .2-1 .2 3 .2-3 .2 0 .2 3 .2 1 .2-4 .2 2 .2-6 .2 5 .2 21 .2-13 .2-5 .2 6 .2-2 .2-12 .2 12 .2-13 .2 26 .2-18 .2 3 .2-8 .2-1 .2 9 .2 2 .2-14 .2 10 .2-17 .2 18 .2-7 .2 4 .2 11 .2 0 .2-3 .2-7 .2-4 .2 13 .2-8 .2 8 .2-1 .2-5 .2-12 .2-1 .2 15 .2-16 .2 15 .2-19 .2 13 .2-9 .2 12 .2-10 .2 9 .2-6 .2-1 .2 4 .2 4 .2-7 .2 1 .2 6 .2-10 .2 2 .2 11 .2-6 .2 7 .2-7 .2 11 .2 5 .2-8 .2-4 .2-5 .2 13 .2-11 .2 10 .2-9 .2 7 .2-10 .2-11 .2 20 .2-8 .2 22 .2-27 .2 14 .2 7 .2-10 .2-6 .2 17 .2-17 .2 13 .2-36 .2 27 .2-4 .2-4 .2-4 .2 1 .2 21 .2-13 .2 1 .2 5 .2-1 .2-16 .2 21 .2-13 .2 12 .2-16 .2 1 .2 5 .2 12 .2-13 .2 8 .2-3 .2-18 .2 11 .2-16 .2 19 .2 1 .2 1 .2-7 .2 26 .2-12 .2-5 .2-9 .2-8 .2 12 .2 2 .2 1 .2-8 .2 0 .2 2 .2 7 .2-5 .2 4 .2-3 .2-14 .2 23 .2-21 .2 4 .2 10 .2-14 .2 9 .2-4 .2 15 .2-1 .2 7 .2-11 .2 0 .2-5 .2-7 .2 18 .2-5 .2-5 .2 5 .2-8 .2 15 .2-22 .2 4 .2 1 .2 8 .2-9 .2 23 .2-18 .2 4 .2-9 .2 6 .2-2 .2 5 .2-14 .2 3 .2 25 .2-21 .2 7 .2 12 .2-14 .2 10 .2-3 .2-8 .2 8 .2 8 .2-8 .2-1 .2-8 .2 8 .2-4 .2-8 .2 0 .2 1 .2 11 .2-7 .2 2 .2-10 .2 21 .2-20 .2 22 .2-9 .2-8 .2 14 .2-3 .2-8 .2 7 .2 11 .2-15 .2 3 .2-1 .2-4 .2 2 .2 8 .2-5 .2 0 .2 6 .2-10 .2 13 .2-4 .2-3 .2-1 .2-5 .2-6 .2 7 .2 4 .2-7 .2-2 .2 11 .2-7 .2 9 .2-2 .2-8 .2 3 .2 8 .2-14 .2 12 .2-4 .2 1 .2 6 .2-12 .2-14 .2 16 .2 5 .2-11 .2 30 .2-23 .2-3 .2 3 .2 16 .2-20 .2 14 .2-6 .2-20 .2-8 .2 47 .2-30 .2 19 .2-7 .2 12 .2-23 .2-8 .2 2 .2 1 .2 6 .2 14 .2-29 .2 9 .2 19 .2-11 .2 5 .2-9 .2-15 .2 22 .2-3 .2 2 .2 0 .2 2 .2-2 .2 2 .2-11 .2 24 .2-7 .2-12 .2-5 .2 17 .2 0 .2-14 .2-2 .2 11 .2-20 .2 15 .2-2 .2 18 .2-22 .2 11 .2-9 .2-16 .2 37 .2-26 .2 2 .2 17 .2-5 .2-9 .2 2 .2 3 .2-10 .2 9 .2 0 .2 9 .2 1 .2 6 .2-5 .2-2 .2-5 .2-6 .2-2 .2 8 .2-1 .2-3 .2-7 .2 14 .2-9 .2 12 .2-9 .2 15 .2-12 .2 3 .2-12 .2 12 .2 1 .2-5 .2-4 .2-1 .2 19 .2-25 .2 9 .2-3 .2 15 .2-8 .2-7 .2-7 .2 19 .2 4 .2-13 .2 7 .2-1 .2 3 .2-5 .2-13 .2 13 .2-1 .2-2 .2 7 .2 3 .2 0 .2 0 .2-7 .2 3 .2-8 .2-1 .2 11 .2 4 .2-11 .2-7 .2 14 .2-10 .2 5 .2-13 .2 13 .2-6 .2 1 .2 12 .2-8 .2 0 .2 4 .2-1 .2-10 .2 3 .2 2 .2 2 .2 0 .2-16 .2 21 .2 5 .2-26 .2 10 .2 2 .2-3 .2 6 .2-13 .2 14 .2-1 .2-11 .2-5 .2 19 .2-10 .2 18 .2-10 .2-7 .2 16 .2-10 .2-5 .2 1 .2-2 .2 4 .2-4 .2 7 .2 4 .2-6 .2 7 .2-14 .2 1 .2 2 .2 2 .2 12 .2-12 .2-4 .2 11 .2-25 .2 27 .2-21 .2 10 .2 1 .2-3 .2-2 .2 19 .2-30 .2 17 .2-4 .2 11 .2-20 .2 21 .2 12 .2-9 .2 0 .2-4 .2 1 .2 0 .2 1 .2 0 .2-8 .2-9 .2 26 .2-2 .2-11 .2 14 .2-29 .2 16 .2 10 .2-13 .2 11 .2-12 .2 21 .2-7 .2-6 .2-12 .2 5 .2-3 .2 0 .2 5 .2 9 .2-21 .2 20 .2-17 .2-9 .2 24 .2-2 .2-8 .2 1 .2-3 .2 4 .2-5 .2 2 .2-1 .2 18 .2-11 .2-13 .2 10 .2-8 .2 11 .2 0 .2 3 .2-16 .2 20 .2-3 .2-6 .2 14 .2-20 .2 14 .2-2 .2-8 .2 2 .2-3 .2 2 .2 4 .2 0 .2 8 .2-15 .2 9 .2-5 .2 7 .2-12 .2 5 .2 4 .2-13 .2 15 .2-5 .2-9 .2 6 .2-9 .2 15 .2-5 .2-10 .2 25 .2-9 .2-1 .2-13 .2-2 .2 17 .2-4 .2-1 .2-14 .2 15 .2 2 .2 3 .2-23 .2 8 .2 11 .2-14 .2 1 .2 17 .2-12 .2 3 .2-6 .2 9 .2-11 .2-2 .2 12 .2-1 .2 0 .2 4 .2-7 .2 3 .2 21 .2-18 .2-7 .2 0 .2 3 .2 3 .2-6 .2 9 .2-5 .2-2 .2 7 .2-15 .2 2 .2 11 .2-18 .2 8 .2 0 .2 5 .2-14 .2 31 .2-24 .2 7 .2 10 .2 0 .2-8 .2 4 .2-13 .2-1 .2 0 .2 3 .2 4 .2 9 .2-2 .2-3 .2 7 .2-9 .2-2 .2 1 .2 5 .2-7 .2 3 .2 0 .2-7 .2 3 .2 5 .2-1 .2-6 .2 12 .2 8 .2-14 .2-4 .2 0 .2 8 .2 9 .2-13 .2 1 .2-2 .2 3 .2 4 .2-7 .2 6 .2-10 .2-5 .2 16 .2-5 .2 3 .2 4 .2-2 .2-19 .2 31 .2-16 .2 3 .2-8 .2 6 .2-2 .2 9 .2-16 .2 7 .2 6 .2-2 .2-9 .2 7 .2-11 .2 7 .2 8 .2 0 .2-9 .2 13 .2-7 .2 2 .2-6 .2 0 .2 3 .2-1 .2-5 .2 7 .2-10 .2-4 .2 19 .2-17 .2 5 .2-6 .2 24 .2-20 .2 5 .2 4 .2-2 .2-4 .2 6 .2-3 .2-9 .2 13 .2-2 .2 6 .2-4 .2-10 .2 9 .2-5 .2 16 .2 5 .2-26 .2 6 .2-7 .2 18 .2-3 .2-14 .2 12 .2 0 .2-15 .2 11 .2-6 .2 2 .2 5 .2-6 .2 1 .2 11 .2-2 .2-6 .2 11 .2-20 .2 20 .2-11 .2 5 .2-4 .2-1 .2 21 .2-9 .2-23 .2 18 .2-3 .2-1 .2-8 .2 4 .2-7 .2 17 .2-16 .2 14 .2-1 .2-13 .2 13 .2 5 .2-9 .2-8 .2 6 .2 4 .2-12 .2 2 .2 14 .2-10 .2 2 .2-7 .2 4 .2-1 .2 8 .2-4 .2-4 .2 11 .2-1 .2 18 .2-21 .2-3 .2-7 .2 20 .2-20 .2 7 .2 7 .2-8 .2 9 .2-5 .2 8 .2-8 .2 12 .2-12 .2 1 .2 8 .2-1 .2-14 .2-7 .2 15 .2 6 .2-6 .2-4 .2-10 .2 12 .2-4 .2 3 .2 14 .2-19 .2 7 .2-6 .2 4 .2-7 .2 5 .2 1 .2 13 .2-18 .2-2 .2 5 .2-4 .2 1 .2 0 .2 5 .2-5 .2 6 .2 2 .2-3 .2-9 .2 21 .2-12 .2 4 .2-4 .2 8 .2-12 .2 4 .2-9 .2 10 .2 6 .2-8 .2 3 .2 5 .2 0 .2-5 .2-7 .2 2 .2 8 .2-2 .2 4 .2-1 .2-2 .2-10 .2-4 .2 16 .2-15 .2 12 .2-2 .2 9 .2-19 .2 7 .2 5 .2-5 .2 0 .2 6 .2-1 .2-6 .2 10 .2 0 .2-3 .2-8 .2 13 .2-14 .2 7 .2 6 .2-8 .2 7 .2 6 .2-2 .2-12 .2-6 .2 18 .2-8 .2 0 .2-8 .2 19 .2-10 .2-2 .2 6 .2-11 .2 1 .2-4 .2 14 .2 2 .2-6 .2-4 .2-1 .2 1 .2-7 .2 8 .2-1 .2 1 .2 5 .2-16 .2 17 .2-23 .2 16 .2 2 .2 1 .2 3 .2 0 .2-7 .2 1 .2 6 .2-12 .2 19 .2-14 .2 0 .2 10 .2-4 .2-7 .2-4 .2 7 .2-8 .2 14 .2-14 .2 20 .2-8 .2 0 .2-8 .2 4 .2 17 .2-20 .2 0 .2-1 .2 8 .2 7 .2-9 .2 8 .2 12 .2-19 .2-11 .2 11 .2 3 .2-5 .2 6 .2-6 .2 6 .2-14 .2 7 .2 4 .2 1 .2 1 .2-3 .2 1 .2-7 .2 8 .2 0 .2 0 .2-7 .2-8 .2 13 .2 2 .2 5 .2-11 .2 1 .2-1 .2 7 .2-16 .2 7 .2-7 .2 20 .2-5 .2-12 .2 0 .2 5 .2-9 .2 7 .2 11 .2-4 .2 4 .2-6 .2 3 .2-11 .2 21 .2-15 .2-4 .2-4 .2 1 .2 21 .2-6 .2-1 .2-2 .2-3 .2 6 .2-7 .2 1 .2-2 .2 8 .2-8 .2-5 .2 19 .2-7 .2-3 .2-5 .2 11 .2 2 .2-20 .2 19 .2 6 .2-16 .2-3 .2 3 .2 4 .2 6 .2-21 .2 8 .2 4 .2-2 .2-2 .2 8 .2-8 .2 0 .2-5 .2 18 .2-20 .2 16 .2-7 .2 2 .2 1 .2-7 .2 2 .2 9 .2-4 .2 0 .2 2 .2 0 .2-16 .2 9 .2 10 .2 1 .2-12 .2 5 .2-10 .2 23 .2-8 .2-9 .2 14 .2-21 .2 16 .2-4 .2-3 .2-9 .2 20 .2-8 .2 3 .2-9 .2-5 .2 7 .2 3 .2 4 .2-14 .2 9 .2-9 .2 1 .2 2 .2-2 .2 9 .2-1 .2 6 .2-4 .2 6 .2-12 .2 8 .2-2 .2-9 .2-3 .2 8 .2 14 .2-16 .2-4 .2 17 .2-8 .2-4 .2-4 .2 2 .2 10 .2 8 .2-19 .2-9 .2 24 .2-6 .2-10 .2 1 .2 5 .2-8 .2 8 .2 10 .2-4 .2-8 .2 5 .2-11 .2 1 .2 17 .2-1 .2-2 .2-9 .2 8 .2-7 .2 1 .2 14 .2-9 .2 5 .2-14 .2 8 .2 3 .2 1 .2-6 .2 4 .2 17 .2-25 .2 5 .2 6 .2 4 .2-14 .2 9 .2-9 .2 13 .2-5 .2-8 .2 10 .2-4 .2 6 .2 0 .2-6 .2-3 .2 5 .2-5 .2 4 .2 0 .2 7 .2-2 .2 3 .2-8 .2 0 .2-6 .2 16 .2 3 .2-18 .2 2 .2-13 .2 6 .2 17 .2-1 .2 7 .2-19 .2 17 .2-20 .2 5 .2 18 .2-6 .2-7 .2-6 .2 14 .2-22 .2 13 .2-7 .2 3 .2 3 .2-10 .2-4 .2 7 .2 3 .2 2 .2 5 .2-19 .2 12 .2 1 .2-5 .2 8 .2-8 .2 7 .2 10 .2-23 .2 9 .2 7 .2-5 .2 0 .2 13 .2-24 .2 3 .2 1 .2 5 .2 11 .2-17 .2 6 .2 2 .2 5 .2-3 .2 8 .2-18 .2-3 .2 11 .2-7 .2-9 .2 22 .2-8 .2 3 .2 3 .2-3 .2-3 .2 8 .2 1 .2-2 .2-8 .2 1 .2-1 .2 10 .2 4 .2 0 .2-15 .2 10 .2 0 .2-22 .2 17 .2-4 .2 7 .2-1 .2-8 .2-3 .2 14 .2-1 .2-18 .2 4 .2 13 .2-1 .2-11 .2 1 .2 16 .2-5 .2-10 .2 4 .2 0 .2 12 .2-10 .2 0 .2-2 .2 5 .2-4 .2-8 .2-4 .2-3 .2 24 .2-9 .2-12 .2 30 .2-31 .2-3 .2 18 .2 5 .2-8 .2-11 .2 20 .2-9 .2 5 .2 4 .2 2 .2-9 .2-6 .2 12 .2-13 .2 1 .2 18 .2-25 .2 12 .2 13 .2-13 .2-3 .2 6 .2 7 .2 2 .2-6 .2-14 .2 14 .2-2 .2 8 .2-28 .2 17 .2 7 .2 0 .2-20 .2 16 .2 0 .2-13 .2 15 .2-10 .2 5 .2 8 .2-8 .2 10 .2-15 .2 8 .2-3 .2-5 .2-1 .2 9 .2 6 .2-6 .2-1 .2 8 .2-15 .2-5 .2 13 .2-3 .2-17 .2 6 .2 17 .2 7 .2-8 .2 3 .2-12 .2 5 .2-3 .2-4 .2 4 .2 6 .2 4 .2-9 .2 7 .2-6 .2-10 .2 13 .2 0 .2-10 .2 18 .2 7 .2-13 .2-15 .2-1 .2 6 .2 10 .2-2 .2-12 .2 7 .2 7 .2-13 .2 9 .2-6 .2 4 .2 10 .2-10 .2 9 .2-20 .2 18 .2-9 .2 8 .2-4 .2 9 .2-16 .2-6 .2 9 .2 6 .2-2 .2-3 .2-3 .2 1 .2 5 .2-6 .2 17 .2-15 .2 9 .2-3 .2 7 .2-5 .2-3 .2 5 .2-18 .2 4 .2 14 .2-2 .2-12 .2-7 .2 17 .2 5 .2-1 .2-3 .2-10 .2 8 .2-4 .2 3 .2-2 .2 3 .2-5 .2-6 .2 14 .2 9 .2-12 .2-5 .2 1 .2 11 .2-14 .2 5 .2 6 .2 1 .2-10 .2-5 .2 12 .2-14 .2 10 .2 2 .2-1 .2-8 .2 13 .2-1 .2-15 .2 16 .2-12 .2 7 .2 4 .2-4 .2-1 .2 1"/>
<path fill="none" stroke="#FF0468" stroke-width="3.6" stroke-linejoin="miter" d="M162.0,600l.2-15 .2 13 .2-4 .2 15 .2-26 .2 22 .2-4 .2-20 .2 26 .2-2 .2-29 .2 42 .2-40 .2 2 .2 8 .2 13 .2-2 .2-9 .2 19 .2-13 .2 18 .2 13 .2-34 .2-35 .2 27 .2-7 .2 15 .2 0 .2-17 .2 2 .2 11 .2 2 .2-31 .2 46 .2-11 .2 0 .2 4 .2-17 .2 13 .2 15 .2 1 .2-8 .2-9 .2-7 .2 28 .2-10 .2-12 .2-22 .2 17 .2-14 .2 42 .2-14 .2-12 .2 6 .2 38 .2-18 .2-34 .2 16 .2-14 .2-7 .2 25 .2 29 .2-11 .2-20 .2-6 .2 8 .2 11 .2-33 .2-5 .2 49 .2-21 .2 18 .2-19 .2 17 .2-28 .2 17 .2 12 .2-3 .2-24 .2 18 .2-20 .2-11 .2 26 .2 12 .2-7 .2-28 .2 28 .2-2 .2-16 .2-27 .2 47 .2-2 .2-5 .2-37 .2 10 .2 34 .2-3 .2-5 .2-10 .2 9 .2-13 .2 3 .2-7 .2 15 .2-9 .2 18 .2-3 .2-21 .2 36 .2-45 .2 26 .2 8 .2 3 .2-47 .2 43 .2 3 .2 3 .2-50 .2 21 .2 8 .2-5 .2 25 .2-28 .2 26 .2-9 .2-27 .2 6 .2 7 .2 8 .2 17 .2-21 .2 19 .2-37 .2-20 .2 37 .2 11 .2-11 .2-9 .2 19 .2 21 .2-28 .2-8 .2-2 .2 39 .2-28 .2 9 .2 8 .2-2 .2-27 .2 26 .2-2 .2-5 .2 7 .2-21 .2 6 .2-6 .2 18 .2-20 .2 15 .2-21 .2 14 .2-4 .2 4 .2 3 .2-4 .2 0 .2-26 .2 44 .2-23 .2 5 .2-8 .2 26 .2-26 .2 19 .2 10 .2 7 .2-6 .2-8 .2-24 .2 34 .2-1 .2-4 .2 0 .2-10 .2-8 .2 22 .2 3 .2-31 .2 27 .2-9 .2 9 .2-8 .2 11 .2-1 .2-2 .2-31 .2 30 .2-10 .2-17 .2 25 .2-28 .2 30 .2 11 .2-30 .2 18 .2-6 .2 2 .2-27 .2 26 .2-7 .2 8 .2-10 .2 14 .2-12 .2 6 .2 9 .2-16 .2 10 .2-10 .2 4 .2-14 .2 17 .2 6 .2-17 .2 11 .2-5 .2-20 .2 20 .2 12 .2-23 .2-17 .2 26 .2-11 .2 33 .2-25 .2 1 .2-8 .2 11 .2-10 .2-5 .2 11 .2-9 .2 27 .2-32 .2 14 .2-7 .2-9 .2 39 .2-48 .2 45 .2-36 .2 19 .2 28 .2-55 .2 10 .2 34 .2-15 .2-8 .2 6 .2-11 .2 14 .2 17 .2-23 .2 7 .2 13 .2 10 .2-32 .2 12 .2-11 .2-1 .2 4 .2-3 .2-13 .2-3 .2 15 .2 11 .2 13 .2-21 .2 5 .2 10 .2 1 .2-10 .2 1 .2 30 .2-33 .2-2 .2-14 .2 26 .2-9 .2 27 .2-27 .2 14 .2 1 .2 9 .2-36 .2 35 .2-19 .2-1 .2-3 .2-1 .2 1 .2-24 .2 34 .2-6 .2-12 .2 11 .2 27 .2-22 .2-10 .2 25 .2-30 .2 8 .2-5 .2 4 .2 11 .2-2 .2-15 .2 7 .2 3 .2-6 .2 4 .2-7 .2 0 .2 9 .2-13 .2 17 .2-7 .2-8 .2 4 .2 1 .2 4 .2 3 .2-3 .2-8 .2 27 .2-6 .2-9 .2 9 .2-7 .2-6 .2 4 .2 29 .2-19 .2 1 .2-16 .2 11 .2 18 .2-20 .2 7 .2 2 .2-7 .2 10 .2-15 .2 3 .2-12 .2 44 .2-34 .2-3 .2 14 .2-20 .2 5 .2-9 .2 9 .2-4 .2 10 .2-8 .2-5 .2 3 .2 2 .2-4 .2 16 .2-3 .2-6 .2-14 .2 18 .2-19 .2 16 .2-2 .2-6 .2-3 .2 1 .2 30 .2-25 .2 1 .2 12 .2-6 .2 7 .2-24 .2 2 .2 46 .2-35 .2-3 .2 5 .2 9 .2-23 .2 16 .2-3 .2 7 .2-5 .2-7 .2-3 .2-16 .2 35 .2-25 .2 11 .2 21 .2-21 .2 10 .2-8 .2 9 .2-6 .2-6 .2 19 .2-16 .2-11 .2 10 .2 8 .2-16 .2 19 .2-1 .2 14 .2-28 .2 13 .2-23 .2 12 .2 5 .2 3 .2-5 .2 0 .2-5 .2 1 .2 8 .2 2 .2 1 .2 3 .2 2 .2-29 .2 13 .2 3 .2-4 .2 16 .2-3 .2-8 .2 2 .2 11 .2-16 .2 1 .2 11 .2-4 .2 9 .2-10 .2 3 .2-12 .2-4 .2 9 .2-26 .2 30 .2 5 .2-9 .2-3 .2 13 .2-11 .2 10 .2 11 .2-14 .2 2 .2-4 .2-3 .2 0 .2-2 .2 10 .2-26 .2 13 .2 9 .2-14 .2 7 .2-6 .2 11 .2 5 .2 5 .2-9 .2-12 .2 10 .2 3 .2 8 .2-35 .2 25 .2-22 .2 25 .2-3 .2 1 .2 4 .2-5 .2-11 .2 10 .2 9 .2-13 .2 1 .2-12 .2 24 .2-17 .2-2 .2 3 .2-4 .2 6 .2 15 .2-4 .2 6 .2 1 .2-24 .2 14 .2 10 .2 8 .2-38 .2 0 .2 20 .2-9 .2-6 .2 14 .2-13 .2-15 .2 23 .2 2 .2 5 .2 3 .2-8 .2-5 .2-4 .2-11 .2 13 .2 15 .2-4 .2 14 .2-23 .2-17 .2 27 .2 3 .2-23 .2-5 .2 18 .2 6 .2-19 .2 9 .2-5 .2-4 .2-1 .2 15 .2-5 .2-3 .2-20 .2 46 .2-28 .2 8 .2-10 .2 16 .2-20 .2 17 .2-3 .2 12 .2-21 .2 5 .2 4 .2 25 .2-38 .2 19 .2-10 .2 11 .2 3 .2-5 .2 1 .2 0 .2-9 .2 4 .2-15 .2 14 .2-5 .2 6 .2 11 .2-4 .2 1 .2 7 .2-38 .2 31 .2-5 .2-1 .2-13 .2 20 .2 6 .2-1 .2-12 .2 7 .2 3 .2 10 .2-6 .2-12 .2-1 .2 1 .2 0 .2-8 .2 14 .2-16 .2-1 .2 12 .2-10 .2 4 .2-20 .2 31 .2-8 .2-2 .2 7 .2-3 .2-9 .2 30 .2-27 .2 16 .2 10 .2-27 .2 8 .2-13 .2 24 .2-15 .2-8 .2 27 .2-5 .2-20 .2 24 .2-11 .2 28 .2-11 .2-26 .2 3 .2-7 .2 12 .2-2 .2 8 .2-7 .2-18 .2 7 .2 25 .2-3 .2-15 .2 0 .2 0 .2 2 .2-19 .2 29 .2-18 .2 9 .2-30 .2 31 .2 13 .2-41 .2 43 .2-12 .2-14 .2-9 .2 31 .2-10 .2 4 .2-10 .2-6 .2 19 .2-21 .2 21 .2-30 .2 9 .2-7 .2 32 .2-35 .2 7 .2 20 .2-5 .2 23 .2-4 .2-15 .2 1 .2-29 .2 11 .2 6 .2 2 .2-14 .2 5 .2 1 .2 23 .2-8 .2-9 .2 1 .2 7 .2-14 .2 8 .2-17 .2 29 .2 3 .2-7 .2 2 .2-1 .2 20 .2-22 .2-18 .2 4 .2 20 .2 4 .2-3 .2 1 .2-8 .2-20 .2 9 .2-13 .2 16 .2-12 .2 17 .2-3 .2-21 .2 31 .2 0 .2-26 .2 18 .2 6 .2-12 .2 13 .2-8 .2 10 .2-11 .2-4 .2 8 .2 3 .2-6 .2-9 .2-4 .2 5 .2-2 .2 9 .2 0 .2-3 .2 1 .2 2 .2 16 .2-4 .2-20 .2 12 .2-9 .2 3 .2-1 .2-4 .2-9 .2-12 .2 31 .2 11 .2-24 .2 17 .2-11 .2 8 .2-12 .2 6 .2 2 .2-26 .2 30 .2-5 .2-27 .2 36 .2-8 .2 3 .2 2 .2-9 .2-8 .2 7 .2 0 .2 30 .2-5 .2-27 .2 1 .2 8 .2 3 .2-15 .2-4 .2 34 .2-11 .2-30 .2-2 .2 10 .2 12 .2 3 .2-10 .2-15 .2 21 .2 4 .2-7 .2-5 .2 12 .2-7 .2-13 .2 14 .2-16 .2 26 .2-5 .2-17 .2 14 .2 12 .2-39 .2 23 .2 21 .2-37 .2 16 .2-14 .2 15 .2-26 .2 9 .2 12 .2 8 .2 3 .2 0 .2 8 .2-5 .2 0 .2-19 .2 9 .2 38 .2-10 .2-17 .2-1 .2 3 .2-16 .2 26 .2-26 .2 3 .2 25 .2-48 .2 27 .2-23 .2 12 .2 6 .2-3 .2 6 .2-11 .2 7 .2-12 .2 9 .2-11 .2 23 .2-22 .2 23 .2-13 .2 2 .2 17 .2-12 .2-23 .2 28 .2-48 .2 46 .2-7 .2-11 .2 17 .2-4 .2 26 .2-27 .2 27 .2-6 .2-22 .2-2 .2 24 .2-16 .2 3 .2-4 .2-11 .2 10 .2-7 .2-6 .2 14 .2 24 .2-2 .2-19 .2 2 .2 5 .2 9 .2-12 .2-9 .2 1 .2 17 .2 17 .2-37 .2-16 .2 33 .2-11 .2 3 .2 12 .2-13 .2-16 .2-7 .2 21 .2-12 .2 16 .2-17 .2 10 .2-13 .2 13 .2-1 .2 12 .2 8 .2-17 .2-8 .2 32 .2-18 .2 3 .2 0 .2 9 .2-5 .2-3 .2 1 .2-19 .2 3 .2 5 .2 3 .2-1 .2 3 .2-4 .2-5 .2-13 .2 27 .2-3 .2-16 .2 15 .2-2 .2-3 .2-22 .2 7 .2 7 .2 24 .2-27 .2 5 .2-8 .2 7 .2 9 .2-27 .2-8 .2 39 .2-7 .2-7 .2 17 .2 0 .2-33 .2 21 .2 14 .2-19 .2 4 .2 14 .2-14 .2-10 .2 6 .2-7 .2 21 .2-25 .2 30 .2-29 .2 18 .2-16 .2 12 .2 15 .2 1 .2 2 .2-15 .2 2 .2 1 .2 4 .2-12 .2 17 .2-9 .2 9 .2-8 .2 2 .2-15 .2 3 .2-10 .2 10 .2 2 .2 11 .2-23 .2 49 .2-37 .2 15 .2-2 .2-40 .2 25 .2 19 .2-43 .2 36 .2-19 .2 5 .2 8 .2-23 .2 22 .2-9 .2-1 .2 16 .2 31 .2-35 .2 2 .2-7 .2-7 .2 11 .2 13 .2-15 .2 8 .2-13 .2 30 .2-46 .2 24 .2 0 .2-4 .2-15 .2-1 .2 10 .2 3 .2-15 .2 2 .2 19 .2 3 .2-18 .2-4 .2 2 .2 35 .2-21 .2-7 .2 12 .2 14 .2-12 .2-28 .2 15 .2-4 .2 1 .2-9 .2 9 .2-8 .2 16 .2-3 .2-16 .2-3 .2 14 .2 12 .2-1 .2-6 .2-36 .2 31 .2-3 .2 5 .2-10 .2 9 .2-3 .2 37 .2-22 .2-10 .2 1 .2 0 .2 3 .2-7 .2 4 .2 12 .2-3 .2-5 .2 11 .2-13 .2-13 .2-9 .2 12 .2 7 .2 5 .2 7 .2-18 .2-3 .2 18 .2 4 .2-18 .2 9 .2 11 .2-12 .2-4 .2-22 .2 37 .2-7 .2-6 .2-6 .2-9 .2 13 .2 0 .2 13 .2-25 .2 29 .2-15 .2 13 .2-24 .2 15 .2 10 .2-12 .2-18 .2 13 .2 10 .2-21 .2-1 .2 19 .2-13 .2 18 .2-21 .2-7 .2 12 .2 25 .2-27 .2 10 .2 3 .2-14 .2 23 .2-11 .2 3 .2-24 .2 0 .2-12 .2 28 .2 0 .2 10 .2 8 .2-19 .2 0 .2 8 .2 11 .2-26 .2 16 .2-10 .2-1 .2 13 .2-18 .2-3 .2 19 .2-7 .2-3 .2 2 .2 7 .2-10 .2 13 .2-4 .2 12 .2-2 .2-4 .2-12 .2 4 .2-8 .2 38 .2-34 .2 9 .2 8 .2-30 .2 6 .2 3 .2-5 .2-3 .2 8 .2 20 .2-7 .2-8 .2 0 .2-19 .2 26 .2-4 .2-16 .2 13 .2-4 .2-4 .2-6 .2 4 .2-4 .2 16 .2-1 .2-1 .2-6 .2-2 .2 27 .2-44 .2 34 .2-9 .2-3 .2-7 .2 4 .2-11 .2-2 .2 14 .2-17 .2 31 .2 0 .2-50 .2 21 .2 21 .2-1 .2-1 .2 4 .2 3 .2 2 .2 10 .2-19 .2 9 .2-28 .2 17 .2-12 .2 29 .2 10 .2-20 .2-20 .2 13 .2 1 .2 2 .2 10 .2-2 .2-40 .2 44 .2-20 .2-1 .2 22 .2-19 .2-12 .2 1 .2 15 .2 9 .2 7 .2-18 .2-4 .2 24 .2-23 .2 21 .2-13 .2 0 .2-6 .2 6 .2-8 .2-2 .2 6 .2-6 .2 11 .2-3 .2-4 .2 1 .2 0 .2 21 .2-19 .2-7 .2 3 .2 11 .2-10 .2 0 .2-1 .2 4 .2 3 .2 0 .2-23 .2 6 .2-17 .2 38 .2 3 .2 2 .2-13 .2 11 .2-13 .2-1 .2-16 .2 9 .2 2 .2 17 .2 8 .2-23 .2 9 .2-1 .2-11 .2-11 .2 11 .2-7 .2 12 .2 2 .2 0 .2 0 .2 8 .2-16 .2 20 .2-28 .2 19 .2 4 .2-14 .2-9 .2 25 .2-15 .2 17 .2-1 .2-9 .2 0 .2 11 .2-7 .2-15 .2 12 .2 6 .2-6 .2 0 .2-4 .2 0 .2-9 .2-6 .2 28 .2-20 .2 10 .2-20 .2 19 .2-11 .2 42 .2-45 .2 1 .2 21 .2 2 .2-36 .2 26 .2 7 .2-24 .2 22 .2-14 .2-5 .2 7 .2-1 .2-11 .2 41 .2-30 .2-3 .2 17 .2-10 .2 16 .2-18 .2 7 .2-4 .2 1 .2-5 .2 1 .2 20 .2-27 .2 1 .2 2 .2 10 .2-2 .2 6 .2-26 .2 17 .2-5 .2-2 .2 5 .2-24 .2 25 .2-2 .2-18 .2 15 .2 18 .2-22 .2 11 .2-9 .2-7 .2-1 .2 5 .2 20 .2-6 .2-17 .2 19 .2-12 .2-7 .2 13 .2-15 .2-7 .2 32 .2-35 .2 27 .2-23 .2 17 .2-2 .2-3 .2-19 .2 23 .2 1 .2-9 .2 9 .2 12 .2-19 .2 11 .2-15 .2 17 .2 3 .2 21 .2-18 .2-5 .2 11 .2-27 .2 23 .2-18 .2-1 .2 20 .2-10 .2 12 .2-31 .2 19 .2-9 .2 3 .2-19 .2 32 .2-8 .2-14 .2-4 .2 5 .2 25 .2-17 .2-3 .2 9 .2-5 .2 2 .2 6 .2-5 .2 6 .2-23 .2 14 .2-5 .2 5 .2-2 .2-7 .2 4 .2 14 .2-17 .2-8 .2 21 .2 4 .2-14 .2 4 .2-11 .2 7 .2 15 .2-4 .2-7 .2-5 .2-16 .2 22 .2 2 .2 6 .2 18 .2-26 .2 7 .2-24 .2 27 .2-4 .2 6 .2-8 .2-3 .2 12 .2-24 .2 17 .2 3 .2-22 .2-4 .2 18 .2-3 .2 5 .2 1 .2-16 .2 12 .2 9 .2-17 .2 1 .2-10 .2 23 .2 13 .2-39 .2 25 .2 1 .2-17 .2 2 .2-8 .2 3 .2 11 .2 6 .2-6 .2 8 .2-7 .2-17 .2 31 .2-3 .2-22 .2 29 .2-15 .2-4 .2 21 .2-52 .2 11 .2 27 .2-11 .2-8 .2 29 .2-12 .2-21 .2 8 .2 18 .2 12 .2-46 .2 28 .2-8 .2-16 .2 19 .2-17 .2 13 .2 26 .2-13 .2 3 .2-2 .2-3 .2 8 .2-26 .2 10 .2 14 .2-19 .2 3 .2 20 .2 4 .2-26 .2-3 .2 17 .2-4 .2-12 .2 16 .2-1 .2-6 .2 35 .2-20 .2-6 .2 2 .2 24 .2-23 .2-23 .2 12 .2-3 .2-8 .2 10 .2 1 .2-5 .2-6 .2 16 .2-31 .2 31 .2-11 .2 3 .2-33 .2 51 .2-44 .2 11 .2 19 .2-16 .2 2 .2-23 .2 23 .2 8 .2 6 .2-13 .2 7 .2 3 .2-15 .2-1 .2 35 .2-36 .2 27 .2-15 .2 18 .2-27 .2 15 .2-3 .2-7 .2 7 .2-14 .2 9 .2-4 .2 15 .2-12 .2-17 .2 14 .2 3 .2-11 .2 30 .2-13 .2 6 .2-22 .2 5 .2 19 .2-33 .2 24 .2-4 .2-8 .2 7 .2-16 .2 18 .2-20 .2-1 .2 35 .2-28 .2-20 .2 42 .2-24 .2-38 .2 47 .2 13 .2-8 .2 18 .2-25 .2 10 .2-23 .2 16 .2 19 .2-14 .2-5 .2-30 .2 22 .2-12 .2 28 .2-21 .2 17 .2-21 .2 40 .2-42 .2 18 .2 35 .2-34 .2-15 .2 21 .2 6 .2-2 .2-39 .2 30 .2-32 .2 56 .2-25 .2-8 .2 17 .2-1 .2-25 .2 40 .2-27 .2-21 .2 45 .2 2 .2-4 .2-10 .2-21 .2 27 .2 13 .2-15 .2 11 .2-34 .2 25 .2-1 .2-35 .2-2 .2 13 .2 11 .2 5 .2-10 .2 2 .2-1 .2 3 .2 7 .2-2 .2-8 .2 4 .2-11 .2 18 .2-19 .2 31 .2-25 .2 5 .2-16 .2 6 .2 7 .2-2 .2-10 .2-9 .2 18 .2 1 .2 6 .2 10 .2-23 .2-26 .2 28 .2-26 .2 8 .2 34 .2-7 .2-18 .2 0 .2 8 .2-25 .2 34 .2-12 .2 33 .2-43 .2 31 .2-25 .2 26 .2-30 .2 26 .2-17 .2-5 .2 10 .2 10 .2-1 .2 19 .2-11 .2-53 .2 35 .2-24 .2 24 .2 16 .2-30 .2 3 .2 20 .2-7 .2 29 .2-20 .2 4 .2 18 .2-35 .2 8 .2-16 .2 20 .2 11 .2 5 .2-22 .2-10 .2-1 .2-10 .2 23 .2 20 .2-58 .2 3 .2 55 .2-46 .2 30 .2-25 .2 32 .2 0 .2-9 .2 10 .2-12 .2 9 .2 20 .2-12 .2-27 .2-2 .2 9 .2 0 .2 5 .2-10 .2 20 .2-10 .2 5 .2-5 .2 9 .2-28 .2 44 .2-20 .2 2 .2 2 .2 8 .2-6 .2-8 .2-7 .2-23 .2 29 .2-8 .2 0 .2 43 .2-69 .2 31 .2 18 .2-4 .2 4 .2-41 .2 5 .2 25 .2-15 .2 31 .2-24 .2-1 .2 4 .2-12 .2 6 .2-13 .2 10 .2-7 .2 11 .2-27 .2-1 .2 31 .2-3 .2-20 .2 12 .2-13 .2 50 .2-58 .2 54 .2-41 .2 20 .2-10 .2-2 .2 22 .2-2 .2-17 .2-10 .2 49 .2-10 .2-21 .2-7 .2 10 .2-3 .2 18 .2-35 .2 16 .2-13 .2 34 .2 8 .2-31 .2 10 .2 14 .2-29 .2-10 .2 32 .2-9 .2-12 .2 27 .2-20 .2-34 .2 35 .2-6 .2 32 .2-32 .2-3 .2 11 .2-3 .2-27 .2 25 .2-8 .2 30 .2 17 .2-58 .2 3 .2 3 .2 3 .2 0 .2 13 .2 24 .2-46 .2-3 .2-5 .2 50 .2 4 .2-48 .2-2 .2 30 .2 16 .2-1 .2-12 .2 7 .2-6 .2-15 .2 41 .2-32 .2-19 .2 10 .2-18 .2 26 .2 18 .2-40 .2 40 .2 16 .2-29 .2-26 .2 5 .2 8 .2-16 .2 0 .2 17 .2 1 .2 13 .2-31 .2 53 .2-14 .2-4 .2-26 .2 41 .2-36 .2 37 .2-13 .2-33 .2 7 .2 40 .2-15 .2-20 .2 7 .2 0 .2-17 .2 10 .2-8 .2 4 .2 16 .2-24 .2 29 .2-11 .2 12 .2 2 .2 7 .2-11 .2 2 .2-16 .2 13 .2-25 .2 11 .2 18 .2-14 .2 8 .2-26 .2 42 .2-34 .2 17 .2-7 .2 16 .2-23 .2-11 .2-16 .2 28 .2-16 .2 29 .2 15 .2-63 .2 16 .2 27 .2 15 .2-16 .2 0 .2 3 .2 1 .2 18 .2-17 .2-32 .2 13 .2 11 .2-17 .2 10 .2-5 .2-3 .2 24 .2-18 .2-12 .2 6 .2 13 .2 35 .2-31 .2 21 .2-17 .2-44 .2 42 .2-20 .2-8 .2 5 .2 47 .2-55 .2 16 .2 29 .2-8 .2-39 .2 27 .2-7 .2 6 .2 16 .2-22 .2 5 .2 29 .2-54 .2 25 .2 14 .2-28 .2 10 .2-11 .2 24 .2-12 .2 23 .2 4 .2-16 .2-7 .2 10 .2-3 .2-20 .2 36 .2-14 .2 9 .2-34 .2 35 .2 20 .2-24 .2-33 .2 23 .2-1 .2 4 .2-7 .2 11 .2-15 .2 11 .2-14 .2 12 .2 14 .2-23 .2 19 .2-24 .2 8 .2 2 .2 24 .2-32 .2 32 .2-42 .2 21 .2 17 .2-4 .2-26 .2-3 .2 33 .2-33 .2 28 .2-16 .2 8 .2 35 .2-11 .2-11 .2-34 .2 26 .2-4 .2-2 .2 22 .2-46 .2 31 .2-3 .2-13 .2 38 .2-45 .2 20 .2 1 .2-34 .2 11 .2 7 .2 27 .2 2 .2-5 .2-5 .2-36 .2 36 .2-11 .2 25 .2 3 .2 13 .2-23 .2 2 .2-28 .2 17 .2-20 .2 31 .2-30 .2 14 .2-9 .2 5 .2 14 .2-15 .2 11 .2-17 .2 35 .2-30 .2 24 .2 17 .2-66 .2 21 .2 12 .2 20 .2-24 .2 13 .2-16 .2 19 .2-25 .2 30 .2-54 .2 16 .2 52 .2-23 .2-14 .2 43 .2-16 .2 2 .2-22 .2 15 .2-2 .2-30 .2 32 .2-11 .2 27 .2-6 .2-27 .2 0 .2 12 .2 6 .2-15 .2 4 .2 11 .2-3 .2 10 .2-13 .2-15 .2-13 .2 36 .2-16 .2 0 .2 1 .2-18 .2 16 .2-31 .2 31 .2-7 .2 39 .2-20 .2-9 .2 6 .2 8 .2-21 .2 7 .2-1 .2 40 .2-34 .2-29 .2 40 .2 25 .2-50 .2 63 .2-50 .2 15 .2-22 .2 4 .2-18 .2 8 .2-16 .2 47 .2-33 .2 22 .2-1 .2-13 .2 9 .2-2 .2-5 .2 7 .2 0 .2-15 .2-10 .2 12 .2 13 .2 18 .2 1 .2-17 .2 9 .2-12 .2 14 .2-14 .2 3 .2-11 .2 5 .2 27 .2-45 .2 17 .2-8 .2 21 .2 12 .2-30 .2-35 .2 48 .2 0 .2-33 .2 21 .2 2 .2-32 .2 43 .2-4 .2-2 .2-19 .2 5 .2 2 .2 16 .2-21 .2 35 .2-15 .2-36 .2 55 .2-22 .2-10 .2 10 .2-27 .2 29 .2-38 .2 17 .2 38 .2-1 .2-23 .2-8 .2 27 .2-13 .2 4 .2 6 .2-24 .2 27 .2-41 .2 51 .2-43 .2 14 .2-1 .2 20 .2 1 .2-6 .2 3 .2-1 .2-8 .2-26 .2-5 .2 0 .2 32 .2-2 .2 1 .2 5 .2-6 .2-11 .2-7 .2-6 .2 44 .2-4 .2-32 .2 16 .2 10 .2 17 .2-32 .2 12 .2 14 .2-41 .2 14 .2 11 .2-10 .2 41 .2-18 .2-9 .2-17 .2 27 .2-4 .2-16 .2 1 .2-14 .2 19 .2 14 .2 2 .2-6 .2 3 .2-20 .2 2 .2 23 .2-10 .2-18 .2 18 .2 5 .2-2 .2-9 .2-9 .2 13 .2 19 .2-22 .2-12 .2 14 .2-22 .2 21 .2-8 .2 18 .2-12 .2 13 .2 18 .2-36 .2-8 .2 18 .2-8 .2 4 .2-11 .2 17 .2-7 .2-32 .2 27 .2 8 .2 12 .2-24 .2-3 .2 27 .2-25 .2 10 .2 5 .2 4 .2-10 .2-16 .2 30 .2-20 .2-2 .2 35 .2-15 .2-27 .2 8 .2 4 .2-7 .2-24 .2 45 .2 0 .2-7 .2-8 .2 8 .2 6 .2-22 .2 10 .2-3 .2 17 .2-5 .2-21 .2 10 .2 32 .2-36 .2 15 .2-10 .2 25 .2-17 .2-4 .2-10 .2 13 .2 14 .2-2 .2-26 .2 37 .2-23 .2-10 .2 15 .2-10 .2 1 .2-1 .2 7 .2-5 .2-15 .2 28 .2-13 .2 21 .2-8 .2 1 .2-6 .2 19 .2-25 .2-8 .2 17 .2-38 .2 29 .2 7 .2-7 .2 21 .2-7 .2-7 .2-6 .2 18 .2-21 .2 3 .2 14 .2-2 .2 18 .2-27 .2-20 .2 31 .2 7 .2-17 .2 20 .2 3 .2-29 .2 2 .2-9 .2 21 .2 2 .2-1 .2-22 .2 6 .2-13 .2 3 .2 3 .2-3 .2 16 .2 7 .2 2 .2-7 .2-8 .2 8 .2 7 .2-10 .2 4 .2-4 .2-2 .2 6 .2-13 .2 25 .2-29 .2 22 .2-20 .2 32 .2-6 .2-19 .2 4 .2-7 .2 12 .2 6 .2 23 .2-42 .2 28 .2-19 .2 9 .2 7 .2-3 .2-1 .2-7 .2 2 .2 2 .2 12 .2-28 .2 10 .2-7 .2 3 .2 2 .2 20 .2 11 .2-8 .2-27 .2 14 .2-13 .2 17 .2 8 .2-7 .2 3 .2-10 .2-19 .2 0 .2 19 .2 7 .2 7 .2-16 .2 4 .2 2 .2 8 .2-11 .2-11 .2 22 .2-7 .2 0 .2-16 .2 12 .2-17 .2-2 .2 17 .2-2 .2 10 .2 8 .2-14 .2 18 .2-23 .2 13 .2-19 .2 13 .2-4 .2 1 .2 8 .2-23 .2 19 .2-9 .2 9 .2 3 .2-7 .2 1 .2-7 .2 16 .2-11 .2 10 .2-17 .2 26 .2-22 .2 20 .2-14 .2 9 .2-6 .2 7 .2-6 .2 12 .2-6 .2 0 .2 9 .2-21 .2 18 .2-12 .2-14 .2 18 .2-6 .2 16 .2-19 .2 5 .2 1 .2-19 .2 21 .2-13 .2 22 .2 2 .2-15 .2-15 .2 16 .2 0 .2 5 .2-9 .2-8 .2 9 .2-7 .2 25 .2-23 .2 1 .2 5 .2-11 .2 6 .2 4 .2-3 .2 2 .2 14 .2-8 .2-16 .2 8 .2 11 .2-13 .2 7 .2-1 .2 5 .2-6 .2 0 .2-6 .2 11 .2-12 .2 25 .2-16 .2-2 .2 10 .2-8 .2 1 .2-1 .2-6 .2-1 .2 2 .2 17 .2-16 .2 2 .2 0 .2 11 .2 12 .2-27 .2 14 .2-4 .2-4 .2 8 .2-17 .2 20 .2-6 .2-11 .2 24 .2-7 .2 3 .2-24 .2 11 .2-3 .2 11 .2 7 .2-31 .2 18 .2-2 .2 11 .2-10 .2-12 .2 10 .2-8 .2 2 .2 8 .2-5 .2 7 .2-17 .2 36 .2-11 .2-5 .2-19 .2-8 .2 12 .2 6 .2 23 .2-9 .2-17 .2 16 .2 0 .2-11 .2 11 .2-8 .2-9 .2-5 .2 10 .2 10 .2-26 .2 1 .2 21 .2-31 .2 43 .2-21 .2 11 .2 11 .2-32 .2 4 .2 32 .2-24 .2 1 .2 4 .2 8 .2 3 .2-12 .2-5 .2 4 .2 4 .2 10 .2-11 .2 16 .2-26 .2 14 .2 12 .2-1 .2-12 .2-12 .2 2 .2 6 .2 4 .2-5 .2-12 .2 8 .2 12 .2 3 .2-22 .2 11 .2-13 .2 11 .2 40 .2-34 .2-4 .2-3 .2-6 .2-6 .2 17 .2-2 .2 17 .2-31 .2 21 .2 8 .2-32 .2 25 .2-22 .2 21 .2 9 .2-15 .2 3 .2-10 .2 9 .2 8 .2-13 .2 0 .2 5 .2 4 .2-24 .2 16 .2-7 .2 11 .2 5 .2-7 .2 10 .2-23 .2 6 .2-6 .2 10 .2 1 .2-3 .2-11 .2 12 .2-4 .2 11 .2-9 .2 14 .2-8 .2-22 .2 17 .2-13 .2 24 .2 5 .2-15 .2 5 .2-19 .2-8 .2 17 .2 2 .2-11 .2 16 .2 2 .2 3 .2 9 .2-7 .2-12 .2 5 .2 5 .2-17 .2 24 .2-5 .2-11 .2-4 .2 45 .2-30 .2 1 .2 8 .2-8 .2-8 .2 5 .2-17 .2 17 .2-23 .2 20 .2 1 .2-22 .2 36 .2-32 .2 23 .2-17 .2 9 .2-10 .2 32 .2-15 .2 8 .2-11 .2 0 .2-6 .2-4 .2 9 .2-5 .2-3 .2-13 .2 11 .2 10 .2-11 .2 8 .2-5 .2-9 .2 2 .2 2 .2 5 .2 0 .2 15 .2-23 .2-9 .2 28 .2-11 .2 4 .2 28 .2-11 .2-9 .2 4 .2-8 .2 9 .2-17 .2 0 .2 2 .2 22 .2 5 .2-28 .2 19 .2-14 .2 13 .2-15 .2 13 .2-11 .2-2 .2 3 .2 2 .2-8 .2-9 .2 32 .2-22 .2-15 .2-5 .2-6 .2 23 .2 21 .2-32 .2 13 .2-15 .2 30 .2-8 .2 0 .2 10 .2 3 .2-6 .2-18 .2-8 .2 3 .2-7 .2 37 .2-21 .2 3 .2 1 .2 19 .2-28 .2 19 .2-10 .2-5 .2-18 .2 30 .2-18 .2 3 .2 7 .2-1 .2 11 .2-19 .2 9 .2 1 .2-3 .2 7 .2-9 .2 15 .2-20 .2-8 .2 16 .2 13 .2-18 .2-1 .2 3 .2 6 .2-4 .2 6 .2-22 .2 35 .2-10 .2-15 .2 24 .2-10 .2 11 .2-28 .2 30 .2-17 .2-22 .2 30 .2-11 .2-8 .2 8 .2-18 .2 27 .2-9 .2 0 .2 18 .2-15 .2-8 .2-3 .2 10 .2 12 .2-18 .2-5 .2 21 .2-9 .2-1 .2 22 .2-35 .2 16 .2-22 .2 15 .2 10 .2 6 .2-26 .2 22 .2 0 .2-10 .2 28 .2-27 .2-9 .2 14 .2-25 .2 37 .2-6 .2-15 .2 11 .2-1 .2 15 .2-28 .2-7 .2-8 .2 19 .2-14 .2 15 .2 6 .2-9 .2-5 .2 23 .2-15 .2 4 .2 8 .2-24 .2 4 .2 37 .2-29 .2-9 .2 8 .2-3 .2-7 .2 9 .2 4 .2 1 .2 6 .2-25 .2 3 .2 25 .2-13 .2 18 .2-10 .2-18 .2 21 .2-17 .2 14 .2 11 .2 10 .2-24 .2 8 .2-4 .2 5 .2-37 .2 24 .2 7 .2 2 .2-13 .2 17 .2 3 .2-12 .2-3 .2-2 .2 5 .2 12 .2 3 .2-22 .2-5 .2 2 .2 19 .2-8 .2 1 .2 2 .2-1 .2-6 .2-10 .2 5 .2 8 .2 4 .2-10 .2 0 .2 19 .2-20 .2 8 .2-6 .2-7 .2-7 .2 11 .2-4 .2 18 .2-22 .2 8 .2 11 .2-8 .2 6 .2 3 .2-27 .2 13 .2-6 .2 25 .2-16 .2 6 .2 13 .2-22 .2 4 .2 4 .2-7 .2 16 .2-4 .2 2 .2-11 .2-4 .2 0 .2 0 .2-14 .2 22 .2 5 .2-8 .2-6 .2 6 .2 4 .2 0 .2 16 .2-29 .2 14 .2 4 .2-7 .2-3 .2-9 .2 5 .2 15 .2 8 .2-23 .2 12 .2 1 .2 6 .2-9 .2 3 .2 5 .2-23 .2 14 .2-20 .2-2 .2 12 .2-8 .2 23 .2 5 .2-15 .2 3 .2-1 .2 0 .2 4 .2 2 .2-9 .2-3 .2 3 .2 14 .2-13 .2 20 .2-18 .2 18 .2-29 .2 6 .2 13 .2 0 .2-7 .2 24 .2-21 .2 2 .2-9 .2 25 .2-9 .2-5 .2-22 .2 22 .2-9 .2 10 .2 5 .2-18 .2 11 .2 7 .2-7 .2-6 .2-8 .2 5 .2-7 .2 25 .2-10 .2-14 .2 13 .2-14 .2-22 .2 50 .2-1 .2-29 .2 8 .2 11 .2-7 .2-5 .2 3 .2 3 .2-3 .2 8 .2-5 .2-6 .2 9 .2-19 .2 34 .2-35 .2 18 .2 5 .2 1 .2-2 .2 11 .2-26 .2 11 .2 2 .2-7 .2-1 .2 21 .2-22 .2 2 .2 3 .2 0 .2 4 .2-4 .2 7 .2-3 .2 4 .2 9 .2-24 .2 28 .2-23 .2 12 .2-6 .2-5 .2-18 .2 39 .2-26 .2 0 .2 20 .2-11 .2 20 .2-2 .2-11 .2-4 .2 5 .2-22 .2 16 .2 0 .2-7 .2 8 .2-18 .2 25 .2 4 .2-27 .2 15 .2 16 .2-13 .2-15 .2 0 .2 20 .2 11 .2-31 .2 12 .2-9 .2 6 .2 6 .2-4 .2-6 .2 30 .2-25 .2 0 .2 14 .2-12 .2-2 .2 13 .2-22 .2 19 .2 4 .2-4 .2-9 .2 2 .2-19 .2 17 .2 5 .2 6 .2-8 .2-5 .2-5 .2 9 .2 1 .2 12 .2-13 .2-5 .2 4 .2-4 .2 3 .2-21 .2 7 .2 4 .2 18 .2-5 .2 2 .2 11 .2-23 .2 23 .2-8 .2-11 .2 23 .2-31 .2 4 .2 10 .2 6 .2-6 .2-20 .2 19 .2 2 .2 28 .2-12 .2-13 .2-17 .2 19 .2-16 .2 14 .2 2 .2-8 .2 6 .2-6 .2-3 .2 22 .2-10 .2-10 .2-5 .2 10 .2 3 .2 3 .2 6 .2-11 .2-17 .2 33 .2-9 .2-4 .2 5 .2-30 .2 11 .2-1 .2 17 .2-25 .2 9 .2 19 .2-9 .2-11 .2 24 .2-34 .2 19 .2-7 .2 8 .2-8 .2-6 .2 11 .2-16 .2 19 .2-8 .2 13 .2-14 .2-3 .2 12 .2 8 .2-34 .2 23 .2 5 .2-21 .2 6 .2 16 .2-15 .2 2 .2 24 .2-27 .2 1 .2-15 .2 9 .2 2 .2 31 .2-6 .2-25 .2 33 .2-12 .2-10 .2 10 .2-4 .2-14 .2-8 .2 8 .2 10 .2-4 .2-4 .2 18 .2-21 .2 20 .2-15 .2 6 .2-12 .2 11 .2-8 .2-10 .2 18 .2-1 .2 9 .2-5 .2-14 .2 4 .2-19 .2 14 .2 25 .2 2 .2-8 .2-5 .2 3 .2-1 .2-22 .2 9 .2 20 .2 0 .2-9 .2-6 .2 0 .2-2 .2-4 .2-10 .2 21 .2-6 .2 3 .2 20 .2-12 .2-13 .2 13 .2-21 .2 26 .2-8 .2-4 .2 8 .2 9 .2-20 .2-5 .2 31 .2-21 .2 15 .2-21 .2 10 .2-10 .2 13 .2-9 .2-4 .2 23 .2-12 .2-24 .2 18 .2-6 .2-3 .2 6 .2 2 .2 5 .2-8 .2-11 .2 14 .2 14 .2-22 .2 20 .2-2 .2-9 .2 8 .2-11 .2 4 .2-6 .2 15 .2 9 .2-22 .2 20 .2-33 .2 13 .2-2 .2 28 .2-23 .2 13 .2-28 .2 22 .2 4 .2-6 .2-27 .2 29 .2 6 .2 5 .2-9 .2-21 .2 15 .2 11 .2-18 .2 14 .2-10 .2 5 .2 6 .2-14 .2 35 .2-27 .2 2 .2-11 .2 7 .2-3 .2-12 .2-1 .2 18 .2-4 .2-25 .2 5 .2 18 .2 2 .2 7 .2-19 .2 19 .2-9 .2-2 .2 4 .2 11 .2-4 .2 3 .2-15 .2 4 .2-9 .2 6 .2 2 .2 0 .2 11 .2-2 .2 3 .2-6 .2 9 .2-9 .2 8 .2-4 .2 2 .2-8 .2-11 .2-2 .2 34 .2-16 .2 1 .2-6 .2-3 .2 33 .2-39 .2 10 .2 0 .2-10 .2-2 .2 6 .2 4 .2-2 .2 13 .2-19 .2 15 .2 11 .2-6 .2-20 .2-18 .2 38 .2-3 .2-11 .2 19 .2-17 .2 5 .2-11 .2 14 .2-8 .2 0 .2 15 .2-8 .2-17 .2 22 .2 1 .2-16 .2 5 .2 4 .2-4 .2 5 .2 5 .2-11 .2 25 .2-28 .2 2 .2 24 .2 4 .2-23 .2-2 .2-9 .2 21 .2-9 .2-10 .2 12 .2 9 .2-7 .2 15 .2-10 .2-7 .2-5 .2 6 .2 6 .2-4 .2 2 .2-8 .2 6 .2 4 .2-13 .2-11 .2 29 .2-11 .2-10 .2 6 .2-4 .2-14 .2 14 .2-12 .2 16 .2-3 .2 12 .2-12 .2 5 .2-6 .2-1 .2-10 .2 23 .2-8 .2-7 .2 8 .2-6 .2-3 .2 9 .2 10 .2-15 .2-11 .2 8 .2 24 .2-26 .2 20 .2-14 .2 9 .2-8 .2-14 .2 11 .2 25 .2-22 .2 7 .2-9 .2 2 .2 4 .2 2 .2 17 .2-22 .2-2 .2-4 .2-6 .2-3 .2 22 .2-24 .2 31 .2-5 .2-11 .2-8 .2 11 .2 0 .2 11 .2-18 .2 4 .2 3 .2-2 .2-3 .2-10 .2 1 .2 9 .2 5 .2 12 .2 12 .2-5 .2-12 .2 14 .2-19 .2-4 .2 27 .2-32 .2 7 .2 1 .2 17 .2-20 .2 13 .2-11 .2-8 .2 14 .2 0 .2-13 .2 3 .2 1 .2 16 .2-4 .2-2 .2 2 .2-9 .2 9 .2-11 .2-7 .2 6 .2 9 .2-2 .2 9 .2-26 .2 14 .2 6 .2-13 .2 11 .2-7 .2-7 .2 21 .2-23 .2 22 .2-13 .2-6 .2 1 .2 1 .2-1 .2 11 .2-21 .2 30 .2-4 .2 5 .2-22 .2-12 .2 16 .2 4 .2 5 .2-8 .2 5 .2 2 .2-16 .2 32 .2-27 .2 13 .2 8 .2-17 .2 7 .2 16 .2-18 .2 13 .2-7 .2-1 .2 5 .2-9 .2 1 .2 11 .2-7 .2 3 .2-16 .2 11 .2 12 .2-3 .2-5 .2-8 .2-1 .2 10 .2 9 .2-12 .2 12 .2-15 .2 14 .2-21 .2 12 .2-12 .2 16 .2 0 .2-17 .2 4 .2 3 .2-9 .2 5 .2 1 .2 15 .2 5 .2-17 .2 2 .2 4 .2-6 .2 2 .2 10 .2-6 .2-3 .2-4 .2 19 .2-20 .2 7 .2-11 .2 4 .2 6 .2-4 .2 8 .2-4 .2-13 .2-9 .2 31 .2-15 .2 19 .2-13 .2-7 .2 12 .2-7 .2 3 .2-9 .2 15 .2 4 .2-15 .2 27 .2-27 .2 8 .2-17 .2-3 .2 37 .2-6 .2-2 .2-26 .2 18 .2 1 .2-3 .2 2 .2-11 .2 7 .2-9 .2 7 .2 6 .2-11 .2 5 .2-2 .2 4 .2 8 .2-6 .2 1 .2-17 .2 9 .2 11 .2-18 .2 6 .2-5 .2 21 .2-17 .2-3 .2 13 .2 4 .2-6 .2 4 .2-7 .2-3 .2-3 .2 0 .2-1 .2 9 .2-5 .2 2 .2 5 .2-6 .2-12 .2 5 .2-3 .2-7 .2 18 .2-11 .2-5 .2 6 .2 18 .2-11 .2 12 .2-10 .2-3 .2 9 .2 0 .2-4 .2-10 .2 5 .2-6 .2 8 .2 3 .2 13 .2-1 .2-6 .2 2 .2-6 .2 22 .2-11 .2 10 .2-20 .2 1 .2 5 .2-7 .2 1 .2-12 .2 18 .2-7 .2 6 .2-9 .2-14 .2 20 .2 7 .2-22 .2 3 .2 6 .2 0 .2-12 .2 31 .2-7 .2-14 .2-11 .2 20 .2 14 .2-10 .2 3 .2-19 .2 11 .2-16 .2 31 .2-12 .2-24 .2 2 .2 21 .2-3 .2-4 .2 8 .2 12 .2-14 .2-19 .2 14 .2-10 .2 5 .2 10 .2-5 .2-8 .2 10 .2-7 .2 12 .2-7 .2 6 .2-6 .2 9 .2-8 .2 1 .2-5 .2 7 .2-17 .2 39 .2-29 .2 6 .2-5 .2 0 .2 8 .2-8 .2 1 .2-9 .2 4 .2-2 .2 26 .2-28 .2 3 .2 11 .2 10 .2-27 .2 1 .2 15 .2 2 .2-15 .2-4 .2 8 .2 15 .2-7 .2 7 .2-7 .2 1 .2 5 .2-6 .2 3 .2-10 .2 3 .2 11 .2-7 .2-5 .2 13 .2-1 .2-5 .2-7 .2 15 .2 14 .2-29 .2-6 .2 6 .2-1 .2-3 .2 1 .2 17 .2 0 .2 6 .2-7 .2-10 .2 13 .2-15 .2 2 .2-7 .2 21 .2-2 .2-13 .2 1 .2 3 .2 1 .2 6 .2-7 .2 3 .2-17 .2 10 .2-13 .2 31 .2-3 .2-6 .2 3 .2 8 .2-9 .2-22 .2 12 .2-19 .2 13 .2-3 .2 10 .2 4 .2-11 .2 5 .2 5 .2-4 .2 0 .2-19 .2 17 .2 11 .2-5 .2-15 .2 11 .2 5 .2-11 .2 14 .2-13 .2 5 .2 2 .2 20 .2-22 .2-2 .2 11 .2-10 .2 6 .2-22 .2 23 .2-3 .2-11 .2 23 .2-14 .2 0 .2-9 .2-3 .2 9 .2-8 .2 17 .2 4 .2-14 .2-8 .2 10 .2-5 .2 10 .2 0 .2-5 .2 5 .2 8 .2 6 .2-20 .2 11 .2-8 .2-7 .2 20 .2-7 .2-2 .2 2 .2-5 .2-8 .2 25 .2-7 .2-6 .2 6 .2 3 .2-13 .2 9 .2-10 .2 9 .2-8 .2 24 .2-25 .2 8 .2-1 .2-7 .2 12 .2-9 .2-3 .2 3 .2-6 .2 17 .2-5 .2 3 .2-21 .2 14 .2-9 .2 7 .2 11 .2-9 .2-4 .2 11 .2-1 .2 7 .2-33 .2 19 .2-6 .2-4 .2 8 .2-11 .2-9 .2 11 .2 6 .2 18 .2-22 .2-4 .2-7 .2 14 .2 1 .2 4 .2-14 .2 6 .2-13 .2 21 .2-15 .2-10 .2 34 .2-4 .2-2 .2 0 .2-12 .2 19 .2-19 .2 26 .2-14 .2-18 .2 24 .2 9 .2-19 .2 12 .2-11 .2-4 .2-17 .2 34 .2-15 .2 8 .2-13 .2 2 .2 17 .2-13 .2 0 .2-7 .2 13 .2 5 .2-11 .2 3 .2-9 .2 22 .2-17 .2 4 .2 16 .2-17 .2-12 .2 6 .2 5 .2 18 .2-13 .2-4 .2 9 .2 4 .2-18 .2 19 .2-5 .2-3 .2-25 .2 22 .2 11 .2-15 .2 23 .2-19 .2-10 .2 14 .2-2 .2 5 .2-9 .2 13 .2-16 .2 6 .2-12 .2 4 .2 9 .2-7 .2 1 .2 3 .2 4 .2 4 .2 0 .2 3 .2-7 .2-7 .2-9 .2 11 .2-4 .2-9 .2 31 .2-31 .2 19 .2 2 .2-7 .2 25 .2-23 .2-7 .2 23 .2-23 .2-5 .2 3 .2 4 .2 6 .2 2 .2-16 .2 16 .2 17 .2-26 .2 5 .2 7 .2 5 .2-17 .2-3 .2 0 .2 18 .2-2 .2-27 .2 0 .2 8 .2-2 .2 16 .2-1 .2 15 .2-11 .2-6 .2 9 .2-18 .2-5 .2 12 .2 8 .2-23 .2 23 .2-1 .2-13 .2 7 .2-4 .2 3 .2 6 .2-14 .2 16 .2-2 .2 1 .2-26 .2 1 .2 23 .2-11 .2-1 .2 0 .2-5 .2 9 .2-3 .2 0 .2 11 .2-15 .2 21 .2-30 .2 43 .2-34 .2 17 .2 3 .2-8 .2 7 .2-8 .2-14 .2 19 .2 7 .2-15 .2-10 .2 9 .2 8 .2 0 .2 7 .2-5 .2 0 .2-23 .2 38 .2-20 .2 7 .2-11 .2 2 .2 1 .2 14 .2-1 .2-8 .2 12 .2-21 .2 8 .2-9 .2 15 .2-11 .2 8 .2 7 .2-34 .2 37 .2-16 .2-6 .2-14 .2 14 .2-18 .2 21 .2-2 .2 17 .2-19 .2 13 .2 0 .2 8 .2-20 .2 8 .2-20 .2 4 .2 7 .2 2 .2-11 .2 7 .2 10 .2-10 .2 2 .2-6 .2 20 .2 3 .2-14 .2-3 .2 16 .2-10 .2-10 .2-10 .2 10 .2 25 .2-24 .2 30 .2-25 .2-2 .2 14 .2-14 .2 6 .2-12 .2-2 .2 5 .2 9 .2-8 .2-11 .2 21 .2-5 .2-1 .2-3 .2-14 .2 34 .2-18 .2 9 .2 7 .2-2 .2-8 .2-2 .2 3 .2 5 .2-3 .2-9 .2 8 .2 0 .2 2 .2-4 .2 10 .2-10 .2 6 .2-8 .2-5 .2-3 .2 6 .2 7 .2 6 .2-12 .2-4 .2 1 .2 15 .2-10 .2-5 .2 11 .2-18 .2 13 .2-1 .2-1 .2-9 .2 19 .2 7 .2-26 .2 12 .2 5 .2 14 .2-23 .2-4 .2 8 .2 18 .2-17 .2 2 .2 13 .2-34 .2 0 .2 27 .2-2 .2-18 .2 16 .2-4 .2 2 .2-9 .2 3 .2-4 .2 8 .2-3 .2 17 .2-10 .2-19 .2 17 .2 9 .2-10 .2 7 .2-10 .2 6 .2-14 .2 15 .2-19 .2 23 .2-24 .2-5 .2 22 .2-6 .2 3 .2 3 .2-4 .2-8 .2 10 .2 1 .2 1 .2 13 .2-23 .2 7 .2 4 .2-8 .2-6 .2 5 .2 14 .2-11 .2 7 .2-11 .2 10 .2-10 .2-1 .2 8 .2 0 .2 12 .2-27 .2 19 .2 9 .2-2 .2-15 .2-2 .2 1 .2 7 .2-1 .2 2 .2 2 .2-14 .2-1 .2-1 .2-4 .2 14 .2 4 .2 18 .2-17 .2-4 .2 12 .2-18 .2 9 .2 5 .2-1 .2-4 .2-6 .2-8 .2 9 .2-4 .2 11 .2-7 .2 6 .2-18 .2 21 .2-15 .2-6 .2 1 .2 7 .2 15 .2-4 .2-16 .2 11 .2-2 .2-12 .2 5 .2-9 .2 10 .2-15 .2 16 .2-1 .2 1 .2 0 .2 17 .2-13 .2 6 .2 4 .2 2 .2-2 .2-10 .2-5 .2 3 .2 3 .2 4 .2 0 .2 10 .2-10 .2 16 .2-6 .2-13 .2 11 .2-31 .2 36 .2-8 .2-1 .2-17 .2 35 .2-23 .2 1 .2 10 .2-11 .2-6 .2 13 .2-15 .2 15 .2-5 .2 8 .2-20 .2 20 .2-8 .2 14 .2-22 .2 21 .2-10 .2 0 .2-12 .2 10 .2 1 .2-15 .2 0 .2 3 .2 18 .2-11 .2 7 .2-6 .2-1 .2 1 .2-5 .2 13 .2-9 .2 1 .2-13 .2 14 .2-8 .2 1 .2 13 .2-18 .2 8 .2 7 .2 4 .2-14 .2 7 .2 0 .2-11 .2-8 .2 1 .2 21 .2-4 .2-11 .2 6 .2 2 .2 0 .2 3 .2 18 .2-24 .2 8 .2-8 .2 2 .2-2 .2 5 .2-3 .2 8 .2-1 .2-9 .2 23 .2-25 .2 12 .2 15 .2-24 .2 17 .2 1 .2-9 .2-18 .2 27 .2-11 .2-5 .2 15 .2-17 .2 15 .2-14 .2 9 .2-13 .2 6 .2-5 .2 2 .2 7 .2-3 .2 3 .2 9 .2-12 .2-14 .2 13 .2 3 .2 8 .2 0 .2-1 .2-10 .2 8 .2-17 .2 22 .2-7 .2 1 .2-7 .2 3 .2-6 .2 10 .2-15 .2 19 .2-3 .2 12 .2-17 .2 0 .2 2 .2-1 .2-1 .2-8 .2 0 .2 4 .2 2 .2-7 .2 0 .2 7 .2 9 .2-8 .2 7 .2 2 .2-2 .2-9 .2 0 .2-12 .2 9 .2 9 .2-12 .2 19 .2 1 .2-15 .2 10 .2-19 .2 3 .2 5 .2 3 .2-1 .2-6 .2 23 .2-13 .2-1 .2 4 .2-4 .2-4 .2-2 .2-9 .2 26 .2-20 .2-6 .2 7 .2-6 .2 29 .2-13 .2 9 .2 0 .2-7 .2 1 .2-11 .2 5 .2-4 .2 6 .2-6 .2 16 .2-4 .2-8 .2-12 .2 19 .2 2 .2-8 .2-10 .2 14 .2 5 .2-25 .2 20 .2-19 .2 15 .2 14 .2-14 .2 3 .2-6 .2 2 .2 20 .2-9 .2-13 .2-1 .2 3 .2 19 .2-17 .2 8 .2-12 .2-8 .2 22 .2-11 .2-6 .2 1 .2 0 .2 1 .2-8 .2 23 .2-7 .2 5 .2-11 .2 6 .2-1 .2 8 .2-3 .2-3 .2-9 .2-4 .2 3 .2 1 .2 1 .2-6 .2 24 .2-11 .2-19 .2 7 .2-2 .2 13 .2 7 .2-17 .2 13 .2-7 .2 12 .2 2 .2-9 .2 3 .2-6 .2-3 .2-6 .2 12 .2-3 .2-3 .2 3 .2-1 .2-7 .2 4 .2 17 .2-15 .2 14 .2-22 .2-1 .2 12 .2 5 .2-12 .2 10 .2 3 .2 1 .2-10 .2 0 .2-14 .2 14 .2 2 .2 9 .2-22 .2 3 .2-2 .2 16 .2-29 .2 12 .2 27 .2-12 .2-17 .2 10 .2 8 .2-3 .2-6 .2-5 .2 14 .2-7 .2 6 .2-3 .2-7 .2 16 .2-16 .2 7 .2-8 .2 3 .2 0 .2-3 .2 7 .2 9 .2 5 .2-3 .2-14 .2 18 .2-12 .2 11 .2-25 .2 23 .2-17 .2 15 .2-14 .2 12 .2-10 .2-13 .2 8 .2 6 .2 3 .2-19 .2 9 .2 4 .2 4 .2 4 .2-9 .2-5 .2 15 .2-5 .2 10 .2-13 .2 11 .2-12 .2 10 .2-2 .2 3 .2-11 .2 7 .2-6 .2 5 .2 7 .2 20 .2-25 .2 6 .2-5 .2 9 .2-6 .2 5 .2-5 .2 17 .2-9 .2-26 .2 18 .2-2 .2-20 .2 12 .2 3 .2-4 .2 9 .2-16 .2 22 .2 0 .2-4 .2-6 .2 3 .2-4 .2 14 .2-6 .2 13 .2-20 .2 15 .2-17 .2 3 .2-8 .2 13 .2-5 .2 6 .2 7 .2-13 .2 3 .2 5 .2-9 .2-4 .2 8 .2 1 .2 2 .2 0 .2-13 .2 10 .2 10 .2-18 .2 7 .2-9 .2 7 .2 14 .2-14 .2-10 .2 12 .2-1 .2 7 .2-21 .2 4 .2 7 .2-12 .2 23 .2-27 .2 10 .2-5 .2 7 .2 13 .2-2 .2 3 .2-3 .2-22 .2 20 .2-18 .2 11 .2 1 .2-1 .2 9 .2-11 .2 22 .2-9 .2 5 .2-4 .2 1 .2-7 .2 17 .2-26 .2 13 .2-4 .2-2 .2 6 .2-10 .2 14 .2-1 .2-5 .2 5 .2-15 .2-7 .2 11 .2 3 .2 24 .2-24 .2 11 .2-1 .2 10 .2-17 .2 5 .2-8 .2-5 .2-2 .2 2 .2 19 .2-10 .2-4 .2 2 .2-5 .2 4 .2 0 .2 6 .2 2 .2-22 .2 16 .2 13 .2-24 .2 6 .2 4 .2 8 .2-4 .2-8 .2 7 .2 4 .2-5 .2 12 .2-12 .2-13 .2 2 .2 6 .2-1 .2 7 .2-2 .2 12 .2-8 .2 6 .2-20 .2 3 .2 9 .2-5 .2 5 .2-4 .2-7 .2 20 .2-5 .2-24 .2 8 .2 6 .2 5 .2-7 .2-11 .2 19 .2-9 .2 12 .2-8 .2 6 .2-2 .2 1 .2-12 .2 13 .2-7 .2-13 .2 7 .2 1 .2 7 .2 2 .2-16 .2 16 .2-7 .2-9 .2 17 .2-14 .2-4 .2 17 .2 2 .2-15 .2 16 .2 0 .2-13 .2 22 .2-18 .2 3 .2-23 .2 27 .2-11 .2 10 .2-19 .2 25 .2 3 .2 4 .2-42 .2 31 .2-2 .2-29 .2 20 .2 6 .2 13 .2-20 .2 10 .2-3 .2 4 .2-7 .2 12 .2 0 .2-20 .2 22 .2-17 .2 4 .2 16 .2-12 .2 4 .2 2 .2-2 .2-10 .2-4 .2 14 .2 1 .2-4 .2-4 .2 9 .2-8 .2-12 .2 14 .2 2 .2 2 .2-14 .2 1 .2 9 .2-7 .2 4 .2 8 .2-4 .2 12 .2-13 .2 12 .2-5 .2 13 .2-23 .2 0 .2 12 .2-16 .2 1 .2 6 .2 2 .2-16 .2 15 .2-5 .2 3 .2 2 .2-3 .2 12 .2-5 .2-6 .2 2 .2 9 .2-2 .2 5 .2-13 .2 3 .2 17 .2-18 .2 15 .2-8 .2-11 .2-8 .2 18 .2-12 .2 0 .2-9 .2 25 .2-10 .2 0 .2 3 .2-2 .2-1 .2 3 .2-7 .2-20 .2 29 .2-3 .2-4 .2 14 .2-26 .2-14 .2 39 .2-10 .2-18 .2 11 .2 11 .2-18 .2 15 .2 14 .2-2 .2-17 .2 3 .2-11 .2 9 .2-4 .2-6 .2-3 .2 29 .2-16 .2-10 .2 5 .2 17 .2 1 .2-20 .2 7 .2 6 .2-11 .2-7 .2 1 .2 9 .2-7 .2-4 .2 9 .2 10 .2-2 .2-8 .2 19 .2-24 .2 7 .2-12 .2 19 .2-8 .2-14 .2 8 .2 23 .2-9 .2-6 .2 7 .2-26 .2 11 .2-5 .2 5 .2 3 .2 8 .2 5 .2-1 .2 15 .2-28 .2 4 .2 4 .2-12 .2 5 .2 6 .2-11 .2 12 .2 6 .2-21 .2-10 .2 21 .2-10 .2 11 .2-6 .2 7 .2 7 .2-3 .2-10 .2-8 .2-11 .2 3 .2 12 .2 8 .2-7 .2 1 .2-9 .2 0 .2-1 .2 21 .2-23 .2 24 .2-14 .2 13 .2-2 .2 5 .2 4 .2-18 .2-1 .2 5 .2-3 .2 13 .2-7 .2 1 .2 4 .2-8 .2 14 .2-26 .2 19 .2 2 .2-11 .2 1 .2 14 .2-11 .2-14 .2 5 .2 21 .2-17 .2 20 .2 0 .2-14 .2 7 .2-13 .2 4 .2-3 .2 12 .2-17 .2 10 .2 2 .2 4 .2-24 .2 3 .2 8 .2 6 .2 4 .2 0 .2 17 .2-13 .2 0 .2-10 .2 12 .2-1 .2 0 .2-7 .2 6 .2 9 .2-21 .2-13 .2 27 .2 0 .2-9 .2-2 .2 29 .2-29 .2-7 .2 5 .2 11 .2-11 .2 2 .2 7 .2-7 .2 5 .2-2 .2-10 .2 11 .2-12 .2 19 .2-17 .2 6 .2-15 .2 11 .2-6 .2 25 .2-15 .2 5 .2-20 .2 4 .2 10 .2-11 .2 22 .2-14 .2 5 .2 1 .2-4 .2 8 .2-13 .2 10 .2 7 .2-9 .2-1 .2-4 .2 4 .2 6 .2-9 .2-13 .2 17 .2-2 .2 5 .2-3 .2 14 .2-25 .2 2 .2 15 .2-18 .2 16 .2-3 .2-18 .2 25 .2 6 .2-10 .2-14 .2 20 .2-17 .2 8 .2 6 .2-11 .2-8 .2 14 .2 1 .2-7 .2 1 .2 14 .2-8 .2-3 .2-1 .2 7 .2-1 .2-2 .2-11 .2 9 .2-2 .2 6 .2 10 .2-2 .2-3 .2-5 .2-4 .2 6 .2-8 .2 1 .2-7 .2 10 .2-1 .2 17 .2-12 .2-8 .2 10 .2-12 .2 13 .2-2 .2 18 .2-35 .2 8 .2 0 .2 3 .2 3 .2-15 .2 2 .2 9 .2 6 .2-19 .2-4 .2 24 .2-3 .2 2 .2-18 .2 6 .2 4 .2 2 .2-5 .2 1 .2 9 .2-13 .2-1 .2 2 .2-1 .2 6 .2-3 .2-2 .2 17 .2-10 .2-6 .2 15 .2-16 .2 5 .2-1 .2-4 .2 2 .2 4 .2-13 .2 9 .2 6 .2 0 .2 1 .2 18 .2-15 .2-7 .2 0 .2 1 .2 4 .2-6 .2 15 .2-22 .2 15 .2-1 .2-14 .2 15 .2-1 .2-10 .2 26 .2-14 .2-9 .2-1 .2-3 .2 9 .2-1 .2-13 .2 3 .2 3 .2 3 .2 0 .2-2 .2 11 .2 3 .2-8 .2-19 .2 17 .2 7 .2-6 .2 3 .2-1 .2-14 .2-8 .2 26 .2-9 .2 8 .2-6 .2 1 .2 13 .2-22 .2 10 .2-9 .2 10 .2 4 .2 1 .2-4 .2-17 .2 18 .2 5 .2 1 .2 10 .2-14 .2-13 .2 4 .2 5 .2 8 .2-18 .2 17 .2-3 .2-12 .2 12 .2-12 .2 6 .2-2 .2 4 .2-12 .2 14 .2-23 .2 15 .2-2 .2 18 .2-9 .2-8 .2-4 .2 8 .2-6 .2 24 .2-42 .2 24 .2-22 .2 30 .2-16 .2 20 .2-18 .2 14 .2-7 .2 8 .2-10 .2-25 .2 19 .2-7 .2 21 .2-3 .2-5 .2 4 .2-2 .2-6 .2 21 .2-14 .2-4 .2-10 .2 7 .2 5 .2-1 .2-3 .2 4 .2-9 .2 10 .2-13 .2 6 .2 1 .2 14 .2-3 .2-4 .2-10 .2 7 .2 10 .2 4 .2-23 .2 9 .2 5 .2 2 .2-3 .2 6 .2-18 .2 25 .2-22 .2 10 .2 4 .2 5 .2-2 .2 0 .2 3 .2-12 .2 8 .2 6 .2-19 .2-5 .2 3 .2 20 .2-1 .2-13 .2 5 .2 2 .2 4 .2-24 .2 11 .2 3 .2 5 .2-2 .2-4 .2 6 .2-24 .2 46 .2-18 .2 1 .2-13 .2 9 .2 13 .2-1 .2-15 .2-10 .2 11 .2-4 .2 10 .2-17 .2 8 .2 4 .2-6 .2 13 .2-18 .2-1 .2 7 .2 10 .2-9 .2-3 .2 12 .2-5 .2-6 .2 5 .2-3 .2 7 .2-4 .2-8 .2 3 .2 0 .2 7 .2 0 .2-10 .2 5 .2 4 .2 6 .2-6 .2 13 .2-15 .2 5 .2-8 .2-6 .2 9 .2 3 .2-1 .2-2 .2-4 .2-4 .2 4 .2 7 .2 3 .2-34 .2 31 .2 4 .2 2 .2-8 .2 3 .2-11 .2 4 .2 5 .2-13 .2 2 .2 8 .2-12 .2 11 .2-12 .2 13 .2-1 .2-5 .2-3 .2 4 .2-14 .2 14 .2 4 .2 9 .2-15 .2 4 .2 12 .2 3 .2-18 .2 13 .2 0 .2-5 .2-12 .2 0 .2 12 .2 14 .2-20 .2 14 .2 3 .2-26 .2 6 .2 17 .2-5 .2-3 .2-4 .2 5 .2-10 .2 25 .2-29 .2-5 .2 16 .2 10 .2-15 .2 4 .2-8 .2 8 .2-7 .2 0 .2-3 .2 7 .2 20 .2-15 .2 2 .2 16 .2-23 .2-3 .2 12 .2-13 .2 12 .2 6 .2-17 .2 4 .2 17 .2-22 .2 3 .2 7 .2-4 .2-5 .2 20 .2-18 .2 7 .2-6 .2 2 .2-9 .2 18 .2-11 .2 13 .2-19 .2 6 .2 7 .2-3 .2-6 .2 4 .2-9 .2 11 .2-21 .2 22 .2 9 .2-3 .2-1 .2-10 .2 7 .2-7 .2 3 .2 0 .2-26 .2 34 .2-4 .2 3 .2-14 .2 12 .2-1 .2-22 .2 4 .2 14 .2-6 .2 5 .2-5 .2 17 .2-27 .2 4 .2 3 .2-3 .2 7 .2 4 .2-10 .2 13 .2 8 .2-2 .2 7 .2-6 .2-9 .2 14 .2-8 .2 10 .2-16 .2-15 .2 8 .2 10 .2 4 .2-6 .2 10 .2-17 .2 4 .2 13 .2-7 .2 1 .2 10 .2-2 .2-16 .2 10 .2-15 .2 14 .2 3 .2-16 .2 26 .2 3 .2-11 .2 3 .2 5 .2-13 .2 9 .2-5 .2-14 .2 5 .2 2 .2 13 .2-8 .2 7 .2-11 .2-6 .2 25 .2 5 .2-18 .2-4 .2 10 .2-18 .2 7 .2-9 .2 14 .2-2 .2-5 .2-2 .2-7 .2 5 .2 16 .2-12 .2 12 .2-17 .2 6 .2-3 .2 1 .2 8 .2-22 .2 22 .2-1 .2-5 .2 0 .2-2 .2 7 .2-5 .2-7 .2 7 .2 9 .2-7 .2-2 .2 1 .2-5 .2 0 .2-11 .2 13 .2 9 .2-10 .2-4 .2 14 .2-6 .2 0 .2 2 .2 2 .2-6 .2-8 .2 22 .2-13 .2-6 .2 7 .2 10 .2-22 .2 21 .2-12 .2 17 .2-10 .2-6 .2 10 .2 0 .2-12 .2 4 .2-6 .2 11 .2-17 .2 9 .2-20 .2 26 .2-22 .2 9 .2 10 .2-5 .2 0 .2-4 .2 3 .2-10 .2 16 .2 4 .2-1 .2-6 .2 10 .2-6 .2 4 .2-4 .2-3 .2-6 .2-14 .2 25 .2-6 .2 20 .2-34 .2 21 .2-13 .2 7 .2-7 .2 10 .2-3 .2 7 .2-6 .2 3 .2 6 .2-6 .2-5 .2 10 .2-10 .2 4 .2-6 .2-3 .2-18 .2 28 .2-14 .2 14 .2 8 .2-23 .2 16 .2-7 .2 4 .2-12 .2 9 .2 1 .2 10 .2 5 .2-14 .2-5 .2 20 .2-17 .2 0 .2 1 .2 3 .2 2 .2-9 .2 3 .2 16 .2-2 .2-9 .2-1 .2-4 .2 10 .2-12 .2 5 .2-4 .2-1 .2 5 .2 0 .2-4 .2 3 .2 2 .2-4 .2-2 .2 4 .2 7 .2 3 .2-7 .2-4 .2 2 .2 15 .2-7 .2-15 .2 7 .2-3 .2 1 .2-10 .2 13 .2-10 .2 5 .2 16 .2-4 .2-14 .2-1 .2 1 .2-7 .2 6 .2 6 .2-6 .2 14 .2-6 .2-4 .2 17 .2-8 .2-4 .2 13 .2-4 .2-15 .2 8 .2-6 .2-8 .2 26 .2-3 .2-21 .2 13 .2-16 .2 21 .2-9 .2-2 .2 12 .2-9 .2-2 .2 8 .2-9 .2 9 .2-7 .2 7 .2-2 .2 1 .2-14 .2 22 .2-15 .2 14 .2-18 .2 2 .2 0 .2 11 .2-12 .2 6 .2-15 .2 8 .2 5 .2-3 .2-13 .2 18 .2-12 .2 22 .2-16 .2 19 .2-13 .2-1 .2-8 .2 3 .2 5 .2-19 .2 23 .2-17 .2 7 .2-19 .2 25 .2 2 .2-3 .2 0 .2-5 .2 4 .2 11 .2-15 .2 7 .2 2 .2-8 .2 4 .2 0 .2-5 .2 22 .2-21 .2 16 .2-5 .2-23 .2 17 .2 7 .2-2 .2-13 .2 9 .2-11 .2 2 .2 6 .2 3 .2 11 .2-9 .2 6 .2-18 .2 1 .2 5 .2 17 .2-23 .2-2 .2 12 .2 10 .2-22 .2 11 .2-9 .2 22 .2-6 .2-3 .2-3 .2-1 .2 3 .2-6 .2-2 .2-2 .2 9 .2-7 .2 13 .2-23 .2 21 .2-1 .2 6 .2-12 .2-9 .2 4 .2 16 .2-11 .2-1 .2-1 .2 4 .2-2 .2-10 .2 7 .2 13 .2 3 .2-12 .2-3 .2 14 .2-11 .2-8 .2 8 .2 6 .2 7 .2-16 .2 8 .2-7 .2 11 .2-7 .2 0 .2-9 .2 5 .2 0 .2-26 .2 35 .2-7 .2-2 .2-1 .2 3 .2 2 .2-12 .2 11 .2 0 .2-1 .2-12 .2 11 .2-9 .2 12 .2 8 .2-4 .2-9 .2-2 .2 0 .2 7 .2-7 .2 1 .2-16 .2 13 .2 1 .2 2 .2 13 .2-19 .2 0 .2 15 .2-12 .2 6 .2 3 .2-2 .2-8 .2 15 .2 5 .2-20 .2 6 .2 12 .2-11 .2-7 .2 5 .2 10 .2-15 .2 10 .2 1 .2-8 .2 9 .2 1 .2 2 .2 0 .2-19 .2 19 .2-3 .2 3 .2-14 .2 14 .2-5 .2-11 .2 18 .2-15 .2-2 .2 11 .2-8 .2 7 .2-4 .2 4 .2 4 .2-7 .2 7 .2 0 .2-13 .2 13 .2-1 .2-4 .2 8 .2 4 .2-7 .2-17 .2 15 .2-5 .2-1 .2 5 .2-5 .2 15 .2-10 .2-2 .2 6 .2 0 .2 6 .2-6 .2-6 .2 1 .2-18 .2 2 .2 25 .2-13 .2 17 .2-1 .2-23 .2 12 .2 19 .2-28 .2 9 .2-5 .2 0 .2-1 .2 2 .2 6 .2-13 .2 10 .2-9 .2 9 .2-2 .2-8 .2 7 .2-7 .2-1 .2 15 .2-23 .2 18 .2 2 .2-10 .2 13 .2-2 .2-17 .2 14 .2 0 .2-9 .2 10 .2 2 .2-11 .2-10 .2 19 .2-9 .2-8 .2 11 .2-15 .2 15 .2 15 .2-34 .2 26 .2-11 .2 4 .2-4 .2 12 .2-5 .2-6 .2-4 .2 7 .2 12 .2-19 .2 13 .2-1 .2-18 .2 24 .2-9 .2 18 .2-4 .2-16 .2 1 .2-7 .2-3 .2 17 .2-8 .2-1 .2 1 .2 7 .2 2 .2-7 .2-2 .2 2 .2 16 .2-32 .2 7 .2 13 .2-3 .2 9 .2 0 .2 6 .2-22 .2 11 .2-6 .2 10 .2-6 .2 5 .2-12 .2 7 .2-5 .2 1 .2 0 .2-5 .2 17 .2-5 .2 5 .2-16 .2-7 .2 10 .2 4 .2 7 .2 2 .2 2 .2 2 .2-6 .2-5 .2-7 .2 11 .2-9 .2-2 .2 11 .2-3 .2 5 .2-13 .2 15 .2-6 .2-5 .2-4 .2-3 .2-2 .2 21 .2-22 .2 16 .2-7 .2-2 .2 0 .2 3 .2 8 .2-3 .2-4 .2-11 .2-3 .2 29 .2-23 .2-4 .2 21 .2-21 .2 18 .2 1 .2-5 .2 6 .2-18 .2 1 .2 8 .2 2 .2-1 .2 4 .2-9 .2-11 .2 20 .2-5 .2 9 .2 9 .2-15 .2 4 .2-12 .2 14 .2-4 .2-1 .2 6 .2-16 .2 13 .2-1 .2 9 .2-27 .2 14 .2 18 .2-21 .2 0 .2 18 .2 5 .2-18 .2-7 .2 0 .2 3 .2-4 .2 1 .2 7 .2-1 .2 4 .2-4 .2-9 .2 15 .2-4 .2-7 .2 3 .2 4 .2-1 .2-2 .2 7 .2 2 .2-11 .2 2 .2-8 .2 7 .2 5 .2 3 .2-6 .2-2 .2-5 .2 7 .2-10 .2 9 .2-1 .2-7 .2 10 .2-5 .2 7 .2-9 .2 7 .2 9 .2-11 .2 5 .2-11 .2 2 .2-12 .2 14 .2-8 .2 10 .2-17 .2 9 .2 8 .2 2 .2-16 .2 10 .2 24 .2-14 .2-5 .2-22 .2 14 .2 11 .2-2 .2 2 .2 4 .2-7 .2 6 .2-20 .2 33 .2-21 .2-3 .2 17 .2-7 .2 3 .2-13 .2 7 .2 4 .2-15 .2 8 .2-1 .2 0 .2-3 .2-4 .2 13 .2-1 .2 7 .2-10 .2-4 .2-6 .2 12 .2-3 .2 18 .2 2 .2-5 .2-19 .2-4 .2 9 .2-5 .2 18 .2-10 .2-4 .2 3 .2 10 .2-17 .2 11 .2-14 .2 8 .2-3 .2 8 .2-2 .2 8 .2-4 .2-10 .2-6 .2 4 .2 3 .2 2 .2-5 .2 15 .2-2 .2-9 .2-2 .2 2 .2 1 .2 1 .2-13 .2 9 .2-11 .2 15 .2 5 .2-13 .2 9 .2-7 .2 1 .2 20 .2-8 .2-3 .2-7 .2 7 .2-5 .2 6 .2-11 .2 7 .2-3 .2-7 .2 24 .2-7 .2-12 .2-6 .2 6 .2-1 .2 2 .2-7 .2 6 .2 7 .2 2 .2-18 .2 15 .2-8 .2 0 .2 5 .2-2 .2 10 .2 0 .2-8 .2-2 .2 19 .2 0 .2-12 .2-4 .2 9 .2 3 .2-15 .2 18 .2-15 .2 9 .2-12 .2 4 .2-4 .2 4 .2 7 .2-15 .2 5 .2 6 .2-8 .2 20 .2-31 .2 35 .2-25 .2 12 .2 5 .2-8 .2-19 .2 12 .2 3 .2 5 .2 2 .2 1 .2 3 .2-19 .2 15 .2-21 .2 15 .2-10 .2-6 .2 21 .2-7 .2 8 .2-20 .2 3 .2 8 .2-4 .2 6 .2-6 .2 2 .2-6 .2 19 .2-13 .2-6 .2 14 .2-1 .2-2 .2 0 .2-5 .2 2 .2-17 .2 6 .2 2 .2 12 .2 8 .2-11 .2-1 .2 11 .2-11 .2 8 .2-1 .2-15 .2 13 .2 0 .2-11 .2 1 .2-1 .2 21 .2 6 .2-11 .2 7 .2-23 .2 22 .2 5 .2-3 .2-20 .2 16 .2-9 .2 9 .2-13 .2 5 .2-4 .2 8 .2-4 .2 9 .2-2 .2-3 .2-3 .2-3 .2 3 .2 6 .2-5 .2 1 .2-3 .2 0 .2-5 .2-9 .2 19 .2 0 .2-13 .2 23 .2-24 .2 17 .2-7 .2 1 .2 6 .2-2 .2-7 .2-9 .2-1 .2 11 .2 11 .2-6 .2-8 .2 3 .2 3 .2 8 .2-20 .2 12 .2-4 .2-8 .2-2 .2 18 .2-8 .2-4 .2 3 .2 6 .2-7 .2 12 .2-14 .2-4 .2 5 .2-6 .2 4 .2 13 .2 4 .2-8 .2-4 .2-8 .2-1 .2 11 .2-1 .2-6 .2 1 .2 16 .2-5 .2-7 .2 2 .2 8 .2-7 .2-1 .2-15 .2-1 .2-2 .2-2 .2 17 .2 3 .2-9 .2 10 .2 0 .2-4 .2-11 .2 23 .2-1 .2-15 .2 20 .2-15 .2-7 .2 4 .2-12 .2 12 .2-10 .2 22 .2-6 .2-14 .2 16 .2-18 .2 15 .2 3 .2-3 .2-10 .2 9 .2-1 .2 2 .2 12 .2 1 .2-1 .2-17 .2-1 .2 6 .2 3 .2-20 .2 12 .2 19 .2-24 .2 3 .2 0 .2 10 .2-5 .2-2 .2-10 .2 17 .2-5 .2-6 .2 6 .2 6 .2-19 .2 0 .2 4 .2 1 .2-18 .2 20 .2 13 .2-11 .2 10 .2-31 .2 22 .2 12 .2 2 .2-17 .2-2 .2 9 .2-12 .2 6 .2-10 .2 14 .2 0 .2 13 .2-10 .2-8 .2 4 .2-9 .2 11 .2-2 .2 5 .2 4 .2-23 .2 19 .2 3 .2-15 .2 25 .2-21 .2 25 .2-13 .2 2 .2-6 .2 6 .2-16 .2 2 .2-9 .2 20 .2-10 .2 11 .2-1 .2-15 .2 16 .2-3 .2-1 .2 2 .2-4 .2 0 .2 9 .2-17 .2-1 .2 3 .2 14 .2-11 .2 18 .2-40 .2 19 .2 2 .2 6 .2 8 .2-13 .2-6 .2 15 .2 6 .2-33 .2 25 .2-2 .2-9 .2 2 .2 7 .2-2 .2-3 .2-7 .2 12 .2-8 .2 6 .2-5 .2 6 .2 5 .2-4 .2 3 .2-16 .2 15 .2-2 .2-7 .2 4 .2-21 .2 22 .2-3 .2-15 .2 22 .2-9 .2 7 .2-4 .2 5 .2-3 .2-3 .2 6 .2 3 .2-25 .2 19 .2-5 .2-4 .2 19 .2-3 .2-16 .2 0 .2 15 .2-11 .2 2 .2-13 .2 15 .2 10 .2-13 .2 3 .2 15 .2-7 .2 4 .2-6 .2 5 .2-23 .2 7 .2-7 .2 31 .2-16 .2-3 .2-5 .2-2 .2-21 .2 47 .2-19 .2 1 .2-11 .2 10 .2 4 .2-4 .2 6 .2-12 .2 9 .2 5 .2-3 .2-1 .2-4 .2-7 .2 12 .2-7 .2-5 .2 14 .2-19 .2 8 .2 11 .2 1 .2-11 .2 4 .2 4 .2-5 .2-5 .2 9 .2-2 .2 0 .2 8 .2-7 .2-6 .2 5 .2 14 .2-21 .2 4 .2-5 .2 10 .2-13 .2 13 .2 3 .2-13 .2 0 .2-6 .2 12 .2-12 .2 7 .2 2 .2-3 .2 12 .2 7 .2-30 .2 10 .2 9 .2-10 .2 4 .2 6 .2 9 .2-1 .2-12 .2 3 .2-3 .2 1 .2-8 .2-4 .2 11 .2 11 .2-2 .2-21 .2 14 .2-4 .2 7 .2-11 .2 16 .2-9 .2 7 .2 2 .2-23 .2 14 .2 14 .2-12 .2 8 .2-5 .2-7 .2 6 .2 6 .2 2 .2 1 .2-20 .2 15 .2-21 .2 13 .2 0 .2 6 .2-2 .2 7 .2-14 .2 11 .2-3 .2-3 .2-10 .2 14 .2-1 .2 3 .2-6 .2-2 .2 5 .2 1 .2 2 .2 10 .2-20 .2 21 .2-40 .2 31 .2-14 .2 23 .2-23 .2 15 .2-16 .2-1 .2 16 .2 0 .2-12 .2 24 .2-21 .2 15 .2-21 .2 1 .2 8 .2-9 .2 12 .2-21 .2 18 .2-5 .2-4 .2 10 .2-4 .2-2 .2 10 .2-4 .2 0 .2 8 .2-12 .2 7 .2-10 .2 8 .2-1 .2-8 .2-8 .2 2 .2 2 .2 12 .2-5 .2-2 .2 7 .2 2 .2 5 .2-16 .2 9 .2 2 .2-13 .2 8 .2-8 .2 6 .2 5 .2-16 .2 6 .2 1 .2 7 .2-6 .2 9 .2-10 .2 3 .2 9 .2-2 .2-1 .2-2 .2 9 .2 3 .2-14 .2-3 .2-2 .2 22 .2-21 .2-4 .2 13 .2 6 .2-18 .2 9 .2-11 .2 6 .2 18 .2-11 .2-4 .2 3 .2 1 .2-3 .2-8 .2 0 .2 25 .2-22 .2 15 .2-15 .2 16 .2-5 .2-7 .2 17 .2-23 .2 5 .2-5 .2 1 .2 3 .2-7 .2 7 .2 15 .2-26 .2 4 .2 2 .2 4 .2 11 .2-2 .2-2 .2-2 .2 17 .2-27 .2-1 .2 9 .2 2 .2-3 .2-5 .2-3 .2 8 .2-3 .2 2 .2-5 .2 20 .2-7 .2 11 .2-19 .2 5 .2-2 .2 2 .2-2 .2 0 .2-14 .2 14 .2 7 .2-21 .2 13 .2 7 .2 6 .2-11 .2 4 .2 11 .2-4 .2-14 .2-1 .2 13 .2-7 .2-6 .2 3 .2 4 .2-4 .2-1 .2 0 .2-9 .2 25 .2-4 .2 2 .2-13 .2 2 .2 4 .2 2 .2-21 .2 17 .2-11 .2 8 .2-5 .2 19 .2-9 .2-5 .2 11 .2-11 .2-5 .2 4 .2-2 .2 4 .2 6 .2-8 .2 1 .2 8 .2-6 .2 6 .2-7 .2-11 .2 1 .2-4 .2 24 .2-8 .2-7 .2-4 .2 10 .2-4 .2 4 .2-10 .2-2 .2 21 .2-22 .2 10 .2 10 .2-25 .2 20 .2-5 .2-2 .2 4 .2-12 .2-8 .2 32 .2-17 .2 9 .2 2 .2-7 .2 2 .2 2 .2 6 .2-8 .2 6 .2-12 .2-2 .2 4 .2 3 .2 1 .2 11 .2-9 .2-6 .2 15 .2-13 .2 0 .2 1 .2-6 .2-6 .2 9 .2-3 .2-5 .2 8 .2-3 .2-3 .2-9 .2 13 .2 15 .2-7 .2 2 .2-9 .2 8 .2-15 .2 4 .2 7 .2-15 .2 12 .2 2 .2 11 .2-19 .2 9 .2-8 .2 1 .2-17 .2 14 .2 16 .2-5 .2-2 .2 18 .2-15 .2-14 .2 8 .2 1 .2 13 .2-19 .2 10 .2 4 .2-14 .2 7 .2-16 .2 16 .2-18 .2 14 .2 16 .2-10 .2-3 .2 1 .2 16 .2-13 .2 4 .2-11 .2-1 .2-4 .2 6 .2-4 .2 13 .2-2 .2-6 .2-3 .2-18 .2 17 .2 7 .2 5 .2-31 .2 6 .2 20 .2-10 .2 7 .2-2 .2 8 .2-18 .2 10 .2 11 .2-5 .2-8 .2 10 .2-1 .2-11 .2 14 .2 0 .2-6 .2 8 .2-16 .2 15 .2-7 .2-6 .2 3 .2 13 .2-13 .2 2 .2-3 .2-1 .2 16 .2 7 .2-7 .2-6 .2 2 .2-8 .2-2 .2-5 .2 20 .2-13 .2-3 .2 0 .2 7 .2-6 .2 4 .2 1 .2 9 .2-19 .2 11 .2-7 .2 2 .2 15 .2-7 .2-8 .2 7 .2-4 .2 9 .2-12 .2 7 .2-5 .2 1 .2-1 .2-3 .2 5 .2 7 .2-12 .2 1 .2 6 .2-8 .2 12 .2-1 .2-23 .2 12 .2-3 .2 14 .2 1 .2-16 .2 3 .2 5 .2-3 .2 9 .2 1 .2-3 .2 4 .2-1 .2-8 .2-3 .2-2 .2 11 .2 1 .2 1 .2-10 .2-1 .2 5 .2 7 .2-6 .2-1 .2-8 .2 9 .2 1 .2-11 .2 20 .2-20 .2 14 .2-9 .2 3 .2-7 .2 2 .2 9 .2-6 .2-2 .2 10 .2-2 .2-4 .2 1 .2 11 .2-14 .2 4 .2 1 .2-14 .2-4 .2 16 .2 5 .2-5 .2-5 .2-1 .2 11 .2-8 .2-10 .2 17 .2-3 .2 1 .2 5 .2 2 .2-6 .2-5 .2-14 .2 17 .2-3 .2 11 .2 0 .2-6 .2 6 .2-10 .2 0 .2-6 .2 4 .2 4 .2 6 .2-13 .2 12 .2 11 .2-27 .2 8 .2 2 .2 8 .2 7 .2-5 .2-9 .2-6 .2 6 .2 0 .2 2 .2-8 .2 18 .2-17 .2 11 .2-4 .2-9 .2 8 .2 0 .2-1 .2 7 .2-9 .2 22 .2-11 .2-15 .2-11 .2 27 .2-7 .2-1 .2-8 .2-3 .2-4 .2 33 .2-7 .2-16 .2 18 .2-28 .2 19 .2 0 .2-12 .2 2 .2-3 .2 8 .2 9 .2-3 .2-4 .2 5 .2-21 .2 28 .2-16 .2-9 .2 7 .2-2 .2 5 .2 2 .2-20 .2 26 .2 4 .2-20 .2 18 .2-2 .2-2 .2 5 .2-22 .2 15 .2-12 .2 24 .2-24 .2-2 .2 18 .2-4 .2-4 .2 1 .2 3 .2 8 .2-17 .2 1 .2 0 .2 4 .2 1 .2-10 .2 12 .2-11 .2 7 .2 0 .2 0 .2 13 .2 1 .2-4 .2 4 .2-14 .2 12 .2-10 .2 2 .2 0 .2-12 .2 5 .2 4 .2 3 .2-3 .2-6 .2-2 .2 8 .2-9 .2 0 .2 8 .2 2 .2-8 .2-7 .2 15 .2 4 .2-9 .2 0 .2-14 .2 25 .2-16 .2 13 .2-10 .2 4 .2-1 .2-11 .2 32 .2-30 .2 12 .2-7 .2 4 .2 12 .2-23 .2 12 .2 5 .2-3 .2 2 .2-8 .2-6 .2 2 .2 7 .2 8 .2-5 .2 11 .2-11 .2 1 .2 0 .2-14 .2 18 .2-13 .2 5 .2 20 .2-26 .2 10 .2 1 .2-1 .2-1 .2-4 .2 18 .2-28 .2 7 .2 17 .2-6 .2-10 .2-1 .2 5 .2 20 .2-15 .2-11 .2 9 .2-6 .2 15 .2-9 .2 7 .2-8 .2 14 .2-12 .2-1 .2-9 .2 4 .2 6 .2-6 .2 21 .2-18 .2-5 .2 12 .2-10 .2 6 .2-3 .2-5 .2 15 .2-9 .2 7 .2-11 .2-7 .2 2 .2 5 .2 2 .2 2 .2 3 .2-13 .2 11 .2-10 .2 3 .2 23 .2-9 .2-12 .2 15 .2-2 .2-4 .2 4 .2-12 .2 1 .2-5 .2 10 .2-13 .2 6 .2 7 .2-7 .2 6 .2 10 .2-19 .2 17 .2-15 .2-2 .2 9 .2 5 .2-12 .2 0 .2 2 .2-2 .2 7 .2-6 .2 3 .2 4 .2-5 .2 11 .2-13 .2-1 .2 20 .2-4 .2-10 .2 6 .2-4 .2-5 .2 8 .2-3 .2 7 .2-21 .2 18 .2-4 .2-6 .2 2 .2 0 .2-6 .2 5 .2 9 .2-15 .2 7 .2-13 .2 12 .2 7 .2-3 .2 0 .2-8 .2 12 .2-10 .2 12 .2-5 .2-4 .2 13 .2-13 .2 10 .2-7 .2-1 .2 7 .2-4 .2-3 .2-1 .2 3 .2-1 .2-3 .2-5 .2-11 .2 17 .2-1 .2 10 .2-5 .2 4 .2 4 .2-12 .2-6 .2 12 .2-10 .2 2 .2 12 .2-7 .2 4 .2-17 .2 10 .2 7 .2-17 .2 10 .2 2 .2-19 .2 27 .2-16 .2 4 .2 12 .2-23 .2 15 .2-6 .2 3 .2-6 .2 15 .2-17 .2 11 .2 1 .2-4 .2-2 .2 0 .2 9 .2-4 .2-3 .2-7 .2 9 .2 2 .2-4 .2 10 .2-22 .2 29 .2-18 .2-6 .2-4 .2 17 .2-2 .2-5 .2 1 .2 1 .2-4 .2 11 .2-4 .2-5 .2-10 .2 20 .2-12 .2-4 .2 15 .2-5 .2-17 .2 3 .2 8 .2-6 .2 8 .2 24 .2-3"/>
<path fill="none" stroke="#FF6406" stroke-width="3.6" stroke-linejoin="miter" d="M162.0,804l.2-4 .2 12 .2 0 .2 8 .2-17 .2-6 .2 14 .2 12 .2-2 .2-22 .2 6 .2 10 .2-11 .2-11 .2 20 .2-7 .2 8 .2 7 .2-17 .2-8 .2 4 .2 20 .2-9 .2 8 .2-14 .2 14 .2-15 .2-2 .2 8 .2-1 .2-2 .2 4 .2 12 .2-21 .2-13 .2 27 .2 19 .2-10 .2-28 .2 21 .2 8 .2-2 .2 12 .2-12 .2-46 .2 43 .2-17 .2-2 .2-9 .2 5 .2 12 .2 18 .2 1 .2-6 .2 8 .2-21 .2-5 .2 34 .2-17 .2-10 .2 14 .2-19 .2 29 .2-36 .2 10 .2 5 .2 0 .2-13 .2 26 .2-3 .2-7 .2 7 .2-13 .2 18 .2-19 .2-6 .2 11 .2-1 .2 7 .2 4 .2 13 .2-37 .2-4 .2 23 .2 13 .2-3 .2-14 .2-2 .2-1 .2 26 .2-24 .2 6 .2-19 .2 26 .2-12 .2-2 .2 0 .2 2 .2 34 .2-25 .2 1 .2-18 .2-8 .2-8 .2 19 .2 9 .2 1 .2-21 .2 26 .2-15 .2 21 .2-17 .2 4 .2-9 .2 0 .2 9 .2 6 .2 2 .2-17 .2-11 .2 25 .2 10 .2-21 .2 0 .2 0 .2 9 .2 8 .2-23 .2 16 .2 12 .2-10 .2-16 .2-8 .2 18 .2 15 .2-6 .2 8 .2-22 .2 5 .2-10 .2 16 .2-8 .2-7 .2 5 .2 11 .2 4 .2-1 .2 19 .2-19 .2-19 .2 24 .2-23 .2-3 .2 22 .2-15 .2 7 .2-6 .2 4 .2-24 .2 37 .2 4 .2-18 .2 18 .2-5 .2 4 .2 3 .2-31 .2 23 .2-11 .2 10 .2-12 .2 27 .2-5 .2-19 .2 5 .2-3 .2 0 .2 8 .2-22 .2-5 .2 29 .2-9 .2-9 .2-3 .2-9 .2 14 .2-17 .2 21 .2 2 .2-11 .2 20 .2-3 .2-6 .2-12 .2 2 .2-4 .2-11 .2 22 .2 9 .2-26 .2 22 .2-7 .2 4 .2 7 .2 2 .2-18 .2 16 .2-13 .2-25 .2 53 .2-23 .2-4 .2 19 .2-11 .2-11 .2 8 .2 2 .2-7 .2-25 .2 29 .2-13 .2-1 .2 13 .2 24 .2-39 .2 17 .2-20 .2-2 .2 15 .2 15 .2-8 .2 1 .2 11 .2-9 .2-12 .2-4 .2 8 .2 8 .2-8 .2 2 .2-4 .2-2 .2-5 .2 5 .2 30 .2-8 .2 4 .2-14 .2-3 .2 11 .2-13 .2 17 .2-11 .2 8 .2-18 .2 29 .2-18 .2 5 .2-16 .2 0 .2 16 .2-27 .2 33 .2-21 .2 17 .2-18 .2 6 .2 2 .2 9 .2-20 .2 16 .2-4 .2 6 .2-19 .2 10 .2-9 .2 4 .2 17 .2 1 .2-24 .2 8 .2 1 .2-13 .2 10 .2-8 .2 18 .2-17 .2 27 .2-39 .2 29 .2 0 .2-14 .2-12 .2 21 .2-16 .2 27 .2-11 .2-2 .2 2 .2 7 .2-9 .2 7 .2-2 .2-10 .2 19 .2 5 .2-5 .2-11 .2 6 .2-19 .2 3 .2-1 .2 4 .2 16 .2-19 .2 2 .2-9 .2 9 .2-11 .2 29 .2-12 .2 13 .2 5 .2-10 .2-2 .2-2 .2-6 .2-20 .2 27 .2-10 .2-3 .2 4 .2 6 .2 8 .2-19 .2-3 .2 26 .2-6 .2 3 .2-12 .2-13 .2 30 .2-1 .2-20 .2 11 .2 7 .2 16 .2-14 .2-8 .2-8 .2-3 .2 4 .2-6 .2 14 .2-5 .2-4 .2-9 .2 12 .2-4 .2 8 .2-15 .2 18 .2-9 .2 23 .2-30 .2 30 .2 11 .2-33 .2 23 .2-10 .2-26 .2 8 .2 17 .2-8 .2 7 .2-5 .2 11 .2-19 .2-9 .2 5 .2 7 .2-10 .2 10 .2-2 .2-2 .2 3 .2-3 .2 15 .2-10 .2 7 .2-24 .2 16 .2-5 .2-17 .2 45 .2-37 .2 23 .2-1 .2 5 .2-18 .2-23 .2 35 .2-8 .2 8 .2-9 .2 16 .2-8 .2-10 .2 30 .2-34 .2-16 .2 25 .2 4 .2 1 .2-13 .2 6 .2-9 .2 4 .2 12 .2-13 .2 13 .2-11 .2 4 .2-5 .2 16 .2-11 .2-10 .2 10 .2 12 .2-11 .2-14 .2 3 .2-3 .2 27 .2-13 .2 7 .2 0 .2-13 .2 16 .2-13 .2 5 .2-26 .2 21 .2-3 .2-4 .2 11 .2-16 .2 11 .2-25 .2 26 .2-5 .2 26 .2-17 .2 5 .2-38 .2 27 .2-8 .2 27 .2-4 .2-9 .2 1 .2-1 .2-2 .2 8 .2-1 .2-8 .2-6 .2 25 .2-22 .2-4 .2 33 .2-24 .2-3 .2-13 .2 4 .2 26 .2-19 .2 16 .2-24 .2 20 .2-7 .2-6 .2-15 .2 34 .2-13 .2-2 .2 10 .2-20 .2 26 .2-7 .2-2 .2 0 .2-13 .2 5 .2 7 .2-10 .2 20 .2-6 .2 7 .2-31 .2 32 .2-21 .2-3 .2 5 .2 18 .2-10 .2 0 .2 7 .2 0 .2 1 .2-2 .2-7 .2 2 .2-20 .2 13 .2-22 .2 23 .2 2 .2-9 .2 2 .2 17 .2-15 .2 3 .2 20 .2-16 .2 6 .2-5 .2 1 .2 6 .2-14 .2 10 .2-13 .2 1 .2 10 .2-12 .2-21 .2 25 .2 15 .2-24 .2 17 .2-10 .2-12 .2 13 .2-21 .2 36 .2-16 .2 8 .2-4 .2-16 .2 12 .2 16 .2-4 .2-13 .2-3 .2 6 .2-12 .2 15 .2-19 .2 9 .2 16 .2-9 .2-7 .2 9 .2-5 .2 5 .2 9 .2-12 .2-17 .2 22 .2-13 .2 20 .2-1 .2-10 .2 4 .2-19 .2-8 .2 19 .2 8 .2 10 .2-21 .2-2 .2 1 .2 1 .2 9 .2-16 .2 23 .2-21 .2 36 .2-24 .2 3 .2-18 .2 20 .2-22 .2 28 .2-15 .2 9 .2 3 .2 5 .2 4 .2-2 .2-4 .2-13 .2-5 .2 19 .2-4 .2-9 .2 5 .2 10 .2 0 .2-15 .2-8 .2-6 .2 15 .2 1 .2-10 .2 24 .2 8 .2-27 .2 15 .2-9 .2 7 .2-4 .2-3 .2 10 .2-2 .2-11 .2 8 .2-10 .2 5 .2 6 .2-1 .2-20 .2 21 .2-18 .2 14 .2 5 .2-22 .2 5 .2 21 .2-8 .2-23 .2 29 .2-15 .2-6 .2 14 .2-8 .2 6 .2 2 .2 21 .2-14 .2-7 .2-2 .2 3 .2 1 .2-11 .2 11 .2-12 .2 2 .2 4 .2 11 .2-2 .2-37 .2 41 .2-11 .2 0 .2 13 .2-21 .2-3 .2-15 .2 14 .2 19 .2-15 .2-2 .2 14 .2-14 .2 3 .2 0 .2 11 .2-10 .2 2 .2 3 .2-15 .2 15 .2-15 .2 6 .2 7 .2 6 .2-3 .2 13 .2-9 .2 4 .2-10 .2-1 .2 22 .2-32 .2 27 .2-18 .2 14 .2-19 .2 17 .2-2 .2-23 .2 14 .2 12 .2 4 .2-7 .2-9 .2 5 .2-12 .2 3 .2 12 .2-2 .2 7 .2-6 .2 4 .2-6 .2 7 .2 17 .2-33 .2 11 .2-6 .2 9 .2 0 .2-12 .2 9 .2 0 .2-3 .2 4 .2 10 .2-7 .2-9 .2 5 .2 17 .2-26 .2 17 .2-18 .2-9 .2 8 .2 10 .2-6 .2-4 .2-1 .2-2 .2-1 .2 4 .2-18 .2 28 .2-2 .2-2 .2 8 .2-14 .2 5 .2-25 .2 27 .2-6 .2 10 .2 2 .2-10 .2-11 .2 16 .2 5 .2 0 .2-14 .2-4 .2 6 .2-7 .2-11 .2 24 .2 1 .2 2 .2-15 .2 8 .2-12 .2-3 .2 19 .2-22 .2 14 .2 27 .2-8 .2-9 .2-1 .2-8 .2-3 .2 25 .2-21 .2-4 .2 12 .2-7 .2 14 .2-19 .2-2 .2 5 .2 20 .2-7 .2-6 .2-2 .2 4 .2-14 .2 15 .2-10 .2 7 .2-2 .2 3 .2-8 .2 15 .2-6 .2-11 .2 12 .2-8 .2 7 .2 5 .2-13 .2 5 .2 1 .2 0 .2 20 .2-17 .2-15 .2 13 .2-6 .2 30 .2-31 .2-4 .2 18 .2-12 .2 2 .2 1 .2-4 .2 3 .2-18 .2 22 .2 7 .2 13 .2-18 .2 7 .2-15 .2 22 .2 8 .2-20 .2-6 .2 3 .2 15 .2-28 .2 25 .2-23 .2 2 .2 11 .2 3 .2 3 .2 5 .2-26 .2 12 .2 7 .2-5 .2 8 .2-11 .2-3 .2-20 .2 4 .2 27 .2-20 .2 15 .2 3 .2-8 .2 12 .2-17 .2 13 .2-8 .2-13 .2-6 .2 19 .2 18 .2-5 .2-7 .2 4 .2 1 .2-12 .2 16 .2-11 .2-8 .2 45 .2-33 .2-8 .2 9 .2-20 .2 0 .2 32 .2-13 .2-17 .2-6 .2 16 .2-10 .2 25 .2-34 .2 33 .2-24 .2-2 .2 13 .2-13 .2 6 .2 1 .2-20 .2 13 .2 15 .2-25 .2 7 .2 4 .2 19 .2-1 .2 6 .2-26 .2 18 .2-6 .2-16 .2 18 .2-6 .2-7 .2-4 .2-6 .2 22 .2-1 .2-7 .2-1 .2-3 .2 15 .2-6 .2-21 .2 20 .2 4 .2-11 .2 2 .2-1 .2 13 .2-10 .2 4 .2 2 .2 15 .2-31 .2 40 .2-37 .2 11 .2-6 .2 10 .2 5 .2 19 .2-12 .2-20 .2 10 .2-1 .2-9 .2 13 .2-3 .2-8 .2-2 .2 14 .2-9 .2 14 .2-4 .2-22 .2-10 .2 23 .2-8 .2-5 .2 3 .2 23 .2-18 .2 22 .2-12 .2-27 .2 23 .2 10 .2-35 .2 5 .2 12 .2-5 .2 24 .2-28 .2 28 .2-34 .2 6 .2 12 .2 2 .2-4 .2 16 .2 2 .2 1 .2-22 .2 11 .2-13 .2 19 .2-41 .2 18 .2 5 .2-3 .2 23 .2-32 .2 6 .2-4 .2 12 .2-9 .2 20 .2 0 .2-33 .2 0 .2 32 .2-4 .2-22 .2 17 .2-13 .2 22 .2-23 .2 8 .2 12 .2-4 .2 11 .2-7 .2-21 .2 19 .2-15 .2 28 .2 7 .2-10 .2 12 .2-15 .2 7 .2-2 .2-4 .2 0 .2-7 .2 17 .2-35 .2-2 .2 9 .2 25 .2-20 .2-6 .2-1 .2 15 .2-6 .2 13 .2-16 .2 13 .2-20 .2 16 .2 27 .2-35 .2 0 .2 12 .2-21 .2 6 .2-1 .2 8 .2-17 .2 30 .2-14 .2 1 .2-4 .2 2 .2-25 .2 39 .2-23 .2 19 .2-11 .2 0 .2 8 .2 13 .2-20 .2-5 .2 12 .2-33 .2 18 .2-1 .2 7 .2-11 .2 24 .2-13 .2 5 .2-1 .2-4 .2-4 .2 22 .2-6 .2 8 .2-19 .2 5 .2 0 .2-8 .2 3 .2-17 .2 4 .2 3 .2-3 .2 17 .2 0 .2 0 .2-8 .2 14 .2-1 .2-4 .2-10 .2 20 .2-30 .2-5 .2 3 .2 28 .2-12 .2-8 .2-20 .2 24 .2-9 .2-12 .2 36 .2-12 .2 15 .2-15 .2 6 .2-14 .2 15 .2-11 .2 11 .2-4 .2-14 .2 12 .2 2 .2-10 .2 7 .2 15 .2 5 .2-18 .2-26 .2 34 .2 12 .2-23 .2-7 .2 13 .2-1 .2 7 .2-17 .2 26 .2-9 .2-22 .2 23 .2-14 .2 9 .2-4 .2-4 .2 3 .2-9 .2-4 .2 6 .2-1 .2 8 .2-3 .2-21 .2 28 .2-10 .2 10 .2-2 .2-4 .2 3 .2-23 .2 34 .2 5 .2-15 .2-13 .2 14 .2-12 .2 23 .2-24 .2-8 .2 4 .2 1 .2 17 .2-9 .2 4 .2-7 .2 19 .2-15 .2 2 .2 15 .2-15 .2-9 .2 3 .2 15 .2-9 .2-13 .2 22 .2-36 .2-3 .2 13 .2-11 .2 19 .2 2 .2-3 .2-4 .2-6 .2 22 .2-33 .2 31 .2-6 .2-4 .2 6 .2-24 .2 30 .2-4 .2 5 .2-37 .2 27 .2-5 .2-25 .2 23 .2 5 .2-10 .2 14 .2 2 .2-12 .2 1 .2 14 .2-21 .2 18 .2 10 .2-16 .2 5 .2-4 .2 10 .2-28 .2-2 .2 10 .2 3 .2 19 .2 5 .2-9 .2 8 .2-20 .2-1 .2-12 .2 33 .2-8 .2-7 .2-15 .2 4 .2 18 .2-6 .2 14 .2-11 .2-11 .2-6 .2 14 .2 20 .2 5 .2-34 .2 15 .2-15 .2 12 .2-38 .2 26 .2-14 .2 40 .2-23 .2 10 .2-6 .2-17 .2 24 .2 5 .2-11 .2 4 .2 7 .2-5 .2-11 .2-20 .2 10 .2 1 .2 19 .2 7 .2-17 .2 12 .2-43 .2 34 .2-19 .2 27 .2 4 .2-2 .2-4 .2 4 .2 8 .2-29 .2 32 .2-30 .2-13 .2 25 .2 2 .2-6 .2-12 .2 16 .2-11 .2 34 .2-27 .2 1 .2-12 .2 14 .2 14 .2-31 .2 5 .2-20 .2 23 .2 22 .2-37 .2 11 .2-5 .2 6 .2-7 .2 5 .2-10 .2 17 .2 10 .2-3 .2-34 .2 41 .2-5 .2 2 .2-26 .2 3 .2 17 .2 14 .2-36 .2 16 .2 2 .2-10 .2 9 .2-12 .2 24 .2-39 .2 26 .2-11 .2 6 .2-11 .2-28 .2 60 .2-11 .2-4 .2-6 .2 5 .2-8 .2 6 .2 17 .2-27 .2-3 .2 37 .2-32 .2 10 .2-5 .2 10 .2 1 .2-7 .2-18 .2 4 .2 14 .2 23 .2-48 .2 22 .2 8 .2-14 .2 11 .2-5 .2 13 .2 11 .2-26 .2 8 .2 2 .2-4 .2-2 .2-30 .2 30 .2-16 .2 9 .2 11 .2 2 .2-14 .2-1 .2 2 .2-10 .2 35 .2 2 .2-26 .2 31 .2-19 .2-26 .2 28 .2-4 .2-7 .2-29 .2 18 .2-24 .2 31 .2-4 .2-11 .2-2 .2 36 .2-40 .2 31 .2-9 .2 16 .2-40 .2 24 .2 16 .2-20 .2-17 .2-8 .2 18 .2 24 .2 8 .2-21 .2 12 .2 2 .2-6 .2-20 .2 23 .2-25 .2 16 .2 14 .2 1 .2-17 .2 18 .2 6 .2-8 .2-14 .2 5 .2-4 .2 1 .2 10 .2 5 .2-15 .2 10 .2-7 .2-1 .2-17 .2 20 .2-8 .2 6 .2 11 .2-4 .2-1 .2-18 .2-16 .2 18 .2 5 .2 3 .2 17 .2-16 .2 17 .2-27 .2-10 .2 28 .2-29 .2-6 .2 14 .2 13 .2 11 .2-16 .2 13 .2-13 .2-23 .2 7 .2-8 .2 21 .2-27 .2 9 .2 8 .2 25 .2-5 .2-14 .2 8 .2-6 .2 42 .2-63 .2-5 .2 1 .2 7 .2 15 .2 18 .2-17 .2 0 .2 1 .2 5 .2-16 .2 22 .2-10 .2 4 .2 4 .2 0 .2 3 .2-23 .2 19 .2-29 .2-7 .2 24 .2 11 .2 1 .2-2 .2 7 .2-36 .2 17 .2 4 .2-8 .2 17 .2 3 .2-3 .2-3 .2 31 .2-31 .2-1 .2 17 .2 8 .2-38 .2-1 .2 33 .2-4 .2-4 .2-15 .2 12 .2-29 .2 4 .2 37 .2-39 .2 14 .2 11 .2-5 .2-20 .2 7 .2 16 .2-15 .2 28 .2-25 .2 27 .2-26 .2 17 .2-11 .2-5 .2-20 .2 26 .2-7 .2 4 .2-13 .2-5 .2 0 .2 11 .2 14 .2-17 .2-10 .2 4 .2-5 .2-6 .2 17 .2-4 .2 4 .2 31 .2-13 .2 7 .2-19 .2 3 .2-14 .2-13 .2 2 .2 17 .2 11 .2 24 .2-32 .2-19 .2 15 .2 12 .2-22 .2 9 .2 13 .2-5 .2 4 .2-5 .2-1 .2 19 .2-6 .2-9 .2 4 .2-8 .2 0 .2 7 .2-3 .2 32 .2-31 .2 2 .2 24 .2-41 .2 14 .2 15 .2-14 .2-3 .2-10 .2 11 .2-9 .2 24 .2-7 .2-11 .2 20 .2-29 .2 2 .2 22 .2-6 .2-19 .2 6 .2 7 .2-6 .2 12 .2-4 .2 8 .2-8 .2 6 .2-10 .2 10 .2 0 .2 4 .2-4 .2-10 .2 4 .2 18 .2-21 .2 4 .2 20 .2-13 .2 0 .2-21 .2 0 .2 15 .2 24 .2-52 .2 1 .2 30 .2-5 .2-16 .2 24 .2-9 .2-9 .2 5 .2-6 .2 12 .2-15 .2-5 .2 5 .2 14 .2 10 .2-23 .2-5 .2 17 .2 10 .2-19 .2 24 .2-30 .2 34 .2-15 .2-31 .2 28 .2-10 .2 1 .2-11 .2 13 .2-9 .2 10 .2 12 .2 4 .2-4 .2-3 .2-6 .2-9 .2-12 .2 28 .2-19 .2 8 .2-20 .2 23 .2 12 .2-19 .2 13 .2-13 .2 4 .2-8 .2-28 .2 39 .2 2 .2 1 .2 15 .2-10 .2-6 .2-14 .2 46 .2-55 .2 13 .2-1 .2 21 .2-10 .2 3 .2-29 .2 16 .2 20 .2-20 .2-9 .2 19 .2-10 .2 7 .2 5 .2-17 .2 12 .2 18 .2-21 .2 0 .2-4 .2 11 .2 2 .2-18 .2 12 .2 20 .2-44 .2 35 .2-2 .2-33 .2-3 .2 14 .2 25 .2-28 .2 8 .2-1 .2-4 .2 26 .2-26 .2-24 .2 16 .2 0 .2-33 .2 11 .2-23 .2-23 .2-7 .2 16 .2-32 .2-41 .2 31 .2-30 .2-1 .2 0 .2 0 .2 0 .2 70 .2-2 .2-19 .2-6 .2 9 .2 20 .2 28 .2 25 .2-10 .2 25 .2-15 .2-24 .2 38 .2 13 .2-4 .2 9 .2-26 .2 10 .2 5 .2 6 .2 4 .2 6 .2-18 .2-8 .2 9 .2 4 .2-3 .2-6 .2 25 .2 1 .2 1 .2-2 .2-3 .2-13 .2 1 .2 9 .2-28 .2 28 .2-30 .2 52 .2-16 .2-17 .2 8 .2-7 .2 28 .2-6 .2-13 .2-8 .2 14 .2-4 .2-4 .2-7 .2-14 .2 3 .2 8 .2-12 .2 9 .2 37 .2-24 .2 9 .2-17 .2 26 .2-16 .2 9 .2 4 .2-9 .2 21 .2-39 .2 9 .2 11 .2-8 .2 8 .2 23 .2-33 .2 8 .2-11 .2-4 .2-14 .2 32 .2 12 .2-18 .2 16 .2-35 .2 16 .2 0 .2 12 .2-9 .2 6 .2 13 .2-35 .2 13 .2 7 .2-14 .2 14 .2-29 .2 10 .2 11 .2-21 .2 54 .2-4 .2-8 .2-5 .2 1 .2-15 .2 1 .2-24 .2 40 .2-15 .2-23 .2 16 .2 18 .2-28 .2 15 .2-22 .2 21 .2 8 .2-31 .2 22 .2 16 .2-10 .2 25 .2-8 .2 4 .2-32 .2 4 .2 17 .2 3 .2-15 .2 5 .2-10 .2 6 .2 12 .2 14 .2-11 .2 4 .2-11 .2 6 .2 6 .2-25 .2 26 .2-6 .2 6 .2-8 .2-15 .2 3 .2 7 .2-35 .2 23 .2 2 .2 1 .2-6 .2-6 .2 15 .2-5 .2 26 .2-18 .2-1 .2 12 .2-12 .2 0 .2 16 .2-3 .2-16 .2-15 .2 9 .2 16 .2-30 .2 18 .2 3 .2-19 .2 36 .2-19 .2-18 .2 8 .2 19 .2 13 .2-15 .2-1 .2-5 .2 25 .2-4 .2-39 .2 22 .2 8 .2-10 .2 9 .2 3 .2-20 .2 30 .2-15 .2 13 .2-11 .2-4 .2 19 .2-12 .2 16 .2-12 .2 21 .2-39 .2 12 .2-11 .2-4 .2 17 .2-22 .2 18 .2 19 .2-10 .2-14 .2 3 .2 13 .2 11 .2-24 .2 5 .2 5 .2-10 .2 7 .2-1 .2 14 .2-26 .2 9 .2 3 .2-14 .2 4 .2 4 .2-19 .2 13 .2-9 .2 8 .2-2 .2 2 .2 15 .2 7 .2-5 .2-21 .2 14 .2-20 .2 23 .2 3 .2-14 .2 5 .2 10 .2-1 .2-17 .2-2 .2-12 .2 16 .2-2 .2 8 .2 7 .2-25 .2 8 .2 6 .2-16 .2 18 .2-4 .2 11 .2 4 .2 0 .2-12 .2 6 .2 0 .2 11 .2-37 .2 20 .2-7 .2 11 .2 12 .2-10 .2-1 .2-11 .2 13 .2-1 .2-16 .2 20 .2-14 .2-21 .2 25 .2 8 .2-1 .2-4 .2-2 .2 9 .2-2 .2-30 .2 14 .2 10 .2-2 .2 11 .2 3 .2-11 .2-7 .2 26 .2-32 .2 10 .2 26 .2-15 .2-2 .2-8 .2 15 .2 22 .2-33 .2-7 .2 18 .2 17 .2-27 .2-15 .2 15 .2-14 .2 22 .2-15 .2 9 .2-5 .2 9 .2-35 .2 29 .2-1 .2 1 .2-22 .2 35 .2-25 .2 14 .2-12 .2 4 .2-3 .2-15 .2 12 .2 25 .2-31 .2 16 .2-24 .2 35 .2-31 .2 3 .2 13 .2 8 .2-23 .2 15 .2 8 .2-7 .2-10 .2 15 .2 13 .2 10 .2-13 .2-37 .2 37 .2-3 .2-10 .2 5 .2 5 .2-17 .2-13 .2 12 .2 11 .2-16 .2-2 .2-9 .2 22 .2-23 .2 9 .2-10 .2 24 .2-9 .2 12 .2-49 .2-14 .2 8 .2-37 .2 0 .2 6 .2-24 .2 2 .2-38 .2 0 .2 2 .2 20 .2 11 .2 12 .2-7 .2 0 .2 19 .2 20 .2-11 .2 20 .2-1 .2 36 .2 5 .2-10 .2 29 .2-8 .2 0 .2 12 .2-3 .2-15 .2 5 .2-8 .2 26 .2-8 .2 13 .2-18 .2-5 .2 27 .2-2 .2-27 .2 31 .2-21 .2 27 .2-11 .2-13 .2 5 .2 1 .2-31 .2 42 .2-11 .2 12 .2-41 .2 41 .2-7 .2-13 .2 35 .2-13 .2-20 .2 2 .2 16 .2 13 .2-12 .2-13 .2 25 .2-26 .2 21 .2-7 .2-9 .2-6 .2 1 .2 6 .2 15 .2-16 .2-9 .2 24 .2-3 .2-11 .2 13 .2-12 .2 18 .2-21 .2-7 .2 3 .2 6 .2 0 .2-7 .2 0 .2-8 .2 8 .2 23 .2-19 .2-9 .2 3 .2-1 .2 7 .2-7 .2 21 .2-21 .2 6 .2 18 .2-16 .2 14 .2-15 .2 10 .2 15 .2-32 .2 15 .2-17 .2 11 .2-6 .2 8 .2-13 .2-10 .2 29 .2-5 .2 12 .2-11 .2-1 .2-10 .2-5 .2 16 .2-13 .2 27 .2 0 .2-9 .2 7 .2-13 .2-4 .2 30 .2-27 .2 16 .2-21 .2 12 .2 5 .2-26 .2 2 .2 9 .2 4 .2 4 .2-8 .2 1 .2-3 .2 0 .2 15 .2-9 .2-6 .2 0 .2 4 .2-8 .2 18 .2 3 .2-18 .2 9 .2 1 .2 12 .2-15 .2 4 .2-7 .2 1 .2 3 .2 39 .2-22 .2-7 .2-1 .2-18 .2 5 .2 17 .2-7 .2 10 .2-10 .2 5 .2-5 .2 4 .2-1 .2 7 .2-16 .2 3 .2-4 .2 6 .2 5 .2-4 .2-20 .2 12 .2 2 .2 2 .2-3 .2 3 .2 12 .2-1 .2 6 .2-30 .2 6 .2-2 .2 22 .2-3 .2-13 .2 1 .2 8 .2 10 .2 2 .2-22 .2 15 .2-10 .2 17 .2 10 .2-20 .2 0 .2-31 .2 31 .2-23 .2 11 .2 15 .2-25 .2 47 .2-36 .2 13 .2-13 .2 12 .2-13 .2 5 .2-22 .2 33 .2-3 .2-11 .2 1 .2-8 .2 3 .2 10 .2 1 .2 4 .2 4 .2-2 .2-6 .2 0 .2-6 .2 15 .2-20 .2-1 .2 12 .2-18 .2 11 .2-12 .2 7 .2 55 .2-63 .2 27 .2-16 .2-6 .2-4 .2 22 .2-10 .2 4 .2 17 .2-31 .2-8 .2 24 .2 13 .2-12 .2 13 .2-3 .2-8 .2-11 .2 10 .2 10 .2-6 .2-5 .2 4 .2-4 .2 9 .2-11 .2 20 .2-13 .2-2 .2-20 .2-4 .2 21 .2-3 .2 25 .2-28 .2-3 .2 19 .2-30 .2 22 .2-15 .2-16 .2 11 .2 17 .2 1 .2-3 .2-7 .2 10 .2 3 .2-3 .2 17 .2-8 .2-20 .2 2 .2-6 .2 15 .2 9 .2 6 .2-15 .2-9 .2-5 .2-6 .2 36 .2-23 .2-1 .2 25 .2-26 .2 6 .2 5 .2-24 .2 5 .2 50 .2-31 .2-26 .2 16 .2 5 .2 7 .2-7 .2-12 .2 13 .2 12 .2-19 .2-6 .2 0 .2-13 .2 39 .2-10 .2-5 .2 3 .2 12 .2-18 .2-11 .2 27 .2-38 .2 22 .2 17 .2 4 .2-18 .2 0 .2 0 .2-2 .2 2 .2 17 .2-10 .2 14 .2-13 .2-10 .2 1 .2 28 .2-31 .2 18 .2-22 .2 17 .2-10 .2-1 .2-5 .2 2 .2 10 .2 14 .2-11 .2-15 .2 15 .2-34 .2 28 .2 27 .2-54 .2 24 .2 15 .2 10 .2-7 .2-19 .2 24 .2-1 .2-22 .2 5 .2-11 .2 6 .2 20 .2-29 .2 27 .2-9 .2 0 .2-11 .2 16 .2-10 .2-1 .2-16 .2 19 .2-5 .2 15 .2-9 .2-2 .2-5 .2-1 .2-1 .2 16 .2-24 .2-1 .2 20 .2 14 .2-13 .2-6 .2 27 .2-21 .2-10 .2 8 .2 10 .2-16 .2 14 .2-14 .2 6 .2 2 .2-32 .2 42 .2-7 .2-2 .2-3 .2-5 .2 18 .2-15 .2 10 .2-30 .2 42 .2-20 .2 1 .2-15 .2 1 .2 15 .2-42 .2 51 .2-22 .2-1 .2 9 .2 21 .2-19 .2 10 .2-27 .2 8 .2 16 .2-23 .2-16 .2 22 .2 3 .2 2 .2 12 .2-3 .2-12 .2 11 .2-7 .2 2 .2-12 .2 18 .2-11 .2 18 .2-30 .2 28 .2-25 .2 17 .2-17 .2 2 .2 18 .2-26 .2 28 .2 13 .2-15 .2-25 .2 24 .2-9 .2 3 .2-2 .2 12 .2 7 .2-15 .2 12 .2-21 .2 32 .2-37 .2-1 .2 8 .2 13 .2 2 .2-33 .2 25 .2 2 .2 24 .2-31 .2-17 .2 2 .2 16 .2 8 .2-3 .2-3 .2-8 .2 9 .2 0 .2 28 .2-29 .2-11 .2 7 .2 3 .2-21 .2 23 .2 2 .2 0 .2-12 .2 8 .2 6 .2 6 .2-5 .2-18 .2 22 .2 10 .2-19 .2-26 .2 41 .2-1 .2-10 .2-5 .2 17 .2-3 .2-9 .2-2 .2 4 .2 9 .2-10 .2-14 .2 6 .2 8 .2 2 .2-12 .2 16 .2-16 .2 17 .2 8 .2-10 .2-8 .2 5 .2-29 .2 38 .2-25 .2-2 .2 6 .2-6 .2 10 .2-3 .2 3 .2 13 .2-8 .2-10 .2 4 .2-7 .2 20 .2-22 .2 8 .2 22 .2-20 .2 5 .2 4 .2-23 .2 20 .2 9 .2-8 .2 4 .2-15 .2 10 .2-4 .2 4 .2-14 .2 8 .2 11 .2-11 .2 12 .2 11 .2-14 .2-1 .2 5 .2-16 .2 4 .2-6 .2 3 .2 27 .2-26 .2 8 .2-4 .2-1 .2 1 .2 1 .2 6 .2-7 .2 7 .2-6 .2-1 .2 1 .2 19 .2-30 .2 11 .2 8 .2-2 .2-16 .2-1 .2 10 .2 13 .2-5 .2-8 .2-3 .2 1 .2 0 .2-13 .2 0 .2 14 .2 20 .2-18 .2-20 .2 6 .2 11 .2-10 .2 13 .2-10 .2-1 .2-6 .2 19 .2-1 .2 0 .2 3 .2-8 .2 14 .2-24 .2 19 .2-13 .2-1 .2-2 .2 12 .2-4 .2 9 .2-23 .2 10 .2-14 .2 13 .2 8 .2-30 .2 19 .2-28 .2 25 .2-20 .2 1 .2-16 .2 24 .2-22 .2-2 .2 18 .2-18 .2 9 .2 2 .2 0 .2 25 .2 10 .2-27 .2 31 .2-3 .2-14 .2 12 .2 16 .2-28 .2 1 .2-4 .2 33 .2-11 .2-20 .2 7 .2 11 .2-12 .2 15 .2-12 .2 13 .2-10 .2-2 .2-8 .2 9 .2 5 .2-25 .2 22 .2 8 .2-4 .2-6 .2-6 .2-10 .2 2 .2 5 .2-7 .2 12 .2-6 .2 2 .2 16 .2-11 .2 6 .2-26 .2 25 .2-15 .2 26 .2-33 .2 8 .2 18 .2 13 .2-37 .2 14 .2-6 .2 26 .2 6 .2-19 .2 7 .2-15 .2-5 .2 18 .2-10 .2 13 .2-10 .2 17 .2-15 .2 2 .2 10 .2-8 .2 13 .2-21 .2-4 .2 20 .2-4 .2-12 .2-6 .2 5 .2 6 .2-2 .2-10 .2 3 .2 14 .2 6 .2 4 .2-25 .2-3 .2 17 .2-10 .2 11 .2 2 .2-15 .2 3 .2-16 .2 0 .2 24 .2 15 .2-41 .2-2 .2 14 .2 13 .2-28 .2 21 .2 14 .2-39 .2 12 .2 20 .2 5 .2-21 .2 18 .2 1 .2-25 .2 14 .2-5 .2 4 .2 6 .2-15 .2-8 .2 6 .2 1 .2 12 .2 13 .2-16 .2-2 .2 3 .2 14 .2-10 .2 2 .2-7 .2 7 .2-4 .2 17 .2-12 .2 13 .2-9 .2-2 .2-22 .2 17 .2-8 .2 21 .2-8 .2 1 .2-7 .2 17 .2-37 .2 30 .2-13 .2-7 .2 3 .2 7 .2 4 .2 9 .2-20 .2-1 .2 19 .2 1 .2-24 .2 3 .2 11 .2-7 .2 11 .2-16 .2 1 .2 41 .2-22 .2 6 .2-14 .2-12 .2 21 .2 3 .2-19 .2-1 .2 9 .2-8 .2-16 .2 25 .2 1 .2-29 .2 41 .2-34 .2-1 .2 3 .2 10 .2 0 .2-19 .2 21 .2 3 .2-13 .2-19 .2 14 .2 5 .2 17 .2-15 .2 11 .2 28 .2-33 .2-4 .2 14 .2 4 .2 1 .2-15 .2-15 .2-8 .2 12 .2 6 .2-10 .2-3 .2 14 .2-2 .2-1 .2 28 .2-10 .2-26 .2 26 .2-13 .2-7 .2 3 .2 39 .2-33 .2-9 .2 9 .2 11 .2-7 .2-4 .2-13 .2 4 .2-5 .2 17 .2 5 .2 0 .2-6 .2 17 .2-11 .2 2 .2-20 .2 8 .2-1 .2 18 .2-14 .2-1 .2-1 .2 21 .2-25 .2-3 .2 11 .2-4 .2 17 .2-3 .2-11 .2-6 .2 1 .2 15 .2-14 .2 1 .2-41 .2 12 .2 9 .2 5 .2-4 .2-13 .2-27 .2 15 .2-15 .2 0 .2 0 .2 0 .2 0 .2 8 .2-5 .2 2 .2-2 .2 13 .2-10 .2 30 .2-4 .2 17 .2-2 .2-9 .2 6 .2 3 .2 2 .2-30 .2 21 .2 36 .2-22 .2 17 .2-23 .2-17 .2 21 .2-1 .2-4 .2 28 .2-1 .2-25 .2 32 .2-12 .2-25 .2 27 .2-8 .2-4 .2-19 .2 25 .2-14 .2 37 .2-40 .2-5 .2 23 .2-19 .2 32 .2-28 .2 22 .2-23 .2 6 .2 8 .2-12 .2 19 .2-16 .2 25 .2-6 .2-30 .2 43 .2-20 .2-13 .2 13 .2-2 .2 9 .2 0 .2 4 .2-28 .2 18 .2-11 .2-11 .2 9 .2-3 .2 17 .2-8 .2 8 .2-6 .2 3 .2 4 .2-15 .2 8 .2-1 .2-4 .2-5 .2 15 .2 4 .2 15 .2-19 .2 0 .2-15 .2 12 .2 16 .2 9 .2-17 .2 14 .2 0 .2 6 .2-16 .2-15 .2 9 .2 12 .2-20 .2 6 .2-9 .2 3 .2-10 .2 30 .2-21 .2 9 .2 4 .2-9 .2-10 .2 6 .2-6 .2 14 .2-9 .2 20 .2-18 .2 10 .2-17 .2-10 .2 16 .2 15 .2 0 .2 2 .2-19 .2 0 .2 5 .2-6 .2 10 .2 3 .2 1 .2-21 .2 26 .2-39 .2 18 .2-3 .2 5 .2-3 .2 16 .2-22 .2 17 .2-22 .2 13 .2 4 .2 7 .2-25 .2-12 .2 45 .2-31 .2 7 .2 2 .2 18 .2-8 .2 5 .2 2 .2-10 .2-9 .2 18 .2-5 .2-9 .2-27 .2 13 .2 11 .2-14 .2 14 .2 18 .2-37 .2-1 .2 1 .2 7 .2-38 .2 0 .2 21 .2-21 .2 0 .2 9 .2-9 .2 23 .2 6 .2-13 .2-4 .2 27 .2-7 .2 5 .2 0 .2 5 .2-4 .2 24 .2 5 .2-23 .2-4 .2 25 .2 11 .2-12 .2 7 .2-4 .2-8 .2-4 .2-6 .2 8 .2-19 .2 38 .2-30 .2 16 .2 1 .2-5 .2 1 .2-9 .2 5 .2 13 .2 0 .2-23 .2 14 .2-19 .2 20 .2 2 .2-16 .2 32 .2-32 .2 30 .2-33 .2 28 .2-30 .2 16 .2-8 .2 18 .2-12 .2 7 .2 5 .2-14 .2 5 .2 10 .2-14 .2 16 .2-25 .2 43 .2-10 .2-35 .2 13 .2 5 .2 10 .2 2 .2 3 .2 1 .2-26 .2 14 .2-4 .2 9 .2-9 .2-19 .2 15 .2 34 .2-29 .2 14 .2-15 .2-2 .2 3 .2-2 .2 12 .2-15 .2-15 .2 31 .2-4 .2-11 .2 3 .2 11 .2-4 .2-16 .2 27 .2 13 .2-28 .2-12 .2 24 .2 3 .2-25 .2-13 .2 7 .2 10 .2-7 .2 7 .2 0 .2-14 .2 22 .2 12 .2-38 .2 20 .2-3 .2-3 .2 9 .2-12 .2 21 .2-13 .2-8 .2 16 .2-3 .2 15 .2-14 .2-6 .2 26 .2-19 .2 2 .2 13 .2-23 .2 6 .2-8 .2 31 .2-31 .2-3 .2 0 .2 33 .2-9 .2-19 .2-1 .2 34 .2-33 .2 8 .2-9 .2 36 .2-36 .2-9 .2 18 .2 1 .2-7 .2-5 .2-13 .2 10 .2 31 .2-40 .2 33 .2 11 .2-11 .2-11 .2 10 .2 0 .2-29 .2 21 .2-17 .2-13 .2 34 .2-19 .2 11 .2-17 .2 26 .2-5 .2-10 .2-6 .2 2 .2 10 .2-9 .2-4 .2 18 .2-2 .2 7 .2-1 .2-23 .2 15 .2-11 .2-5 .2 17 .2-4 .2 8 .2-10 .2 13 .2-9 .2 5 .2 9 .2 8 .2-23 .2-18 .2 5 .2 31 .2 6 .2-10 .2 7 .2-20 .2-2 .2 20 .2-6 .2-2 .2 0 .2-7 .2-18 .2 31 .2-10 .2-11 .2 3 .2 14 .2-17 .2-5 .2 17 .2 4 .2 1 .2-1 .2-6 .2-5 .2-19 .2 19 .2-5 .2 25 .2-23 .2 9 .2 5 .2-21 .2-4 .2 30 .2 0 .2-37 .2 25 .2 13 .2-23 .2 9 .2 1 .2-5 .2-1 .2-23 .2 16 .2 9 .2 6 .2 16 .2 8 .2-11 .2-13 .2-14 .2 10 .2 14 .2-13 .2 4 .2 11 .2-23 .2 3 .2 23 .2-10 .2 4 .2-7 .2-13 .2 25 .2-19 .2 10 .2 1 .2-2 .2-17 .2 18 .2-19 .2 17 .2-8 .2 20 .2-22 .2 4 .2 0 .2-18 .2 17 .2 2 .2-7 .2 6 .2 5 .2 1 .2 2 .2 5 .2 1 .2-15 .2 7 .2-4 .2-4 .2 0 .2-6 .2 13 .2 8 .2-14 .2 0 .2-4 .2-4 .2 2 .2 14 .2-19 .2 34 .2-9 .2-7 .2-9 .2 18 .2-13 .2 24 .2-22 .2 6 .2-13 .2 20 .2-6 .2 0 .2 12 .2-26 .2-10 .2-1 .2 13 .2 3 .2 0 .2 9 .2 6 .2-19 .2 20 .2-18 .2-4 .2 17 .2 1 .2-2 .2-17 .2 24 .2-9 .2-12 .2 8 .2 1 .2-2 .2-5 .2 22 .2-22 .2 9 .2-4 .2 3 .2-19 .2 36 .2-1 .2-20 .2 12 .2-11 .2 8 .2-10 .2-19 .2 14 .2 0 .2-1 .2-13 .2 17 .2 8 .2-2 .2-12 .2 25 .2-19 .2 5 .2-5 .2-6 .2 9 .2-11 .2-1 .2-8 .2 20 .2 4 .2-6 .2-4 .2 2 .2 10 .2-14 .2 4 .2 4 .2-6 .2 4 .2 2 .2-12 .2 21 .2-29 .2 4 .2 0 .2-7 .2-16 .2 9 .2-14 .2 5 .2 7 .2-1 .2-10 .2-3 .2 29 .2-23 .2 25 .2-25 .2 15 .2 19 .2-22 .2 0 .2 26 .2 10 .2-5 .2-2 .2-8 .2 12 .2 5 .2-11 .2-12 .2 27 .2-21 .2-2 .2 9 .2 15 .2-23 .2 13 .2 17 .2-14 .2-6 .2-6 .2-7 .2 28 .2-26 .2 14 .2 7 .2-14 .2 3 .2 11 .2-8 .2 10 .2-1 .2 4 .2-28 .2 17 .2-2 .2-3 .2-14 .2 15 .2 13 .2-2 .2-16 .2 6 .2 0 .2 9 .2-13 .2 0 .2-6 .2 20 .2 11 .2-14 .2 3 .2 2 .2-18 .2 17 .2 8 .2-4 .2-11 .2-5 .2 1 .2 17 .2-16 .2 7 .2 1 .2-5 .2-6 .2 13 .2-11 .2 3 .2 14 .2-4 .2-26 .2 10 .2 17 .2-16 .2 16 .2 2 .2 0 .2 6 .2-27 .2 3 .2 4 .2 0 .2 13 .2-5 .2-12 .2 4 .2-7 .2 7 .2-8 .2 29 .2-10 .2-11 .2 2 .2 9 .2-8 .2 12 .2-10 .2 19 .2-14 .2-16 .2 1 .2 4 .2 21 .2-19 .2 12 .2-22 .2 18 .2-14 .2 5 .2 5 .2-13 .2 34 .2-31 .2 6 .2 20 .2-7 .2-31 .2 26 .2 6 .2-19 .2 10 .2-7 .2 0 .2 23 .2-7 .2-16 .2-4 .2 19 .2-5 .2-5 .2 5 .2-14 .2 5 .2 1 .2 18 .2-12 .2-9 .2 3 .2 16 .2-6 .2-8 .2 1 .2 10 .2-9 .2 0 .2-4 .2-16 .2 27 .2-7 .2 9 .2 21 .2-32 .2 9 .2-9 .2-4 .2-1 .2 4 .2 4 .2 15 .2-12 .2-9 .2 14 .2-17 .2 15 .2-4 .2-7 .2 9 .2 6 .2-4 .2-23 .2 1 .2 16 .2-2 .2-10 .2 20 .2-2 .2 7 .2-8 .2 13 .2-22 .2 3 .2 10 .2-3 .2-17 .2 7 .2 12 .2-4 .2-8 .2 4 .2 1 .2 0 .2 6 .2 1 .2-13 .2 28 .2-19 .2-4 .2 18 .2-17 .2-11 .2-2 .2 6 .2 0 .2-11 .2 12 .2-5 .2 20 .2-8 .2-12 .2 17 .2-12 .2-16 .2 18 .2 13 .2-13 .2-6 .2 6 .2-6 .2 11 .2-3 .2-5 .2 10 .2 9 .2-13 .2 9 .2-4 .2-9 .2 3 .2 13 .2-10 .2 6 .2-23 .2 21 .2-23 .2 35 .2-15 .2 5 .2-14 .2 6 .2-9 .2 1 .2 11 .2-5 .2 0 .2 1 .2 15 .2-4 .2 8 .2-19 .2-4 .2 8 .2 4 .2-20 .2 19 .2-9 .2 7 .2-2 .2-5 .2-5 .2 4 .2 13 .2-26 .2 17 .2-3 .2 0 .2 3 .2 2 .2-4 .2 13 .2-15 .2 23 .2-38 .2 33 .2-18 .2-8 .2 3 .2 4 .2 7 .2-2 .2 13 .2-13 .2-1 .2 0 .2 8 .2-4 .2 14 .2-19 .2 2 .2 0 .2-3 .2 3 .2-4 .2-12 .2 5 .2 5 .2-13 .2 16 .2 13 .2-3 .2-17 .2 0 .2 9 .2-2 .2 12 .2-4 .2 1 .2-5 .2 11 .2-7 .2 22 .2-17 .2-5 .2-3 .2-4 .2-4 .2 11 .2 3 .2 9 .2-11 .2 5 .2-5 .2-5 .2 6 .2 1 .2-8 .2 0 .2 1 .2-18 .2 21 .2-15 .2 33 .2-22 .2 4 .2 0 .2-19 .2 30 .2-20 .2 16 .2 2 .2-4 .2-35 .2 16 .2 5 .2-7 .2 10 .2 14 .2-3 .2-16 .2-8 .2 16 .2-2 .2-11 .2-10 .2 23 .2-1 .2-7 .2-8 .2-14 .2 4 .2-10 .2 19 .2-19 .2 0 .2 0 .2 3 .2 18 .2-4 .2-13 .2 14 .2 2 .2 14 .2-27 .2 13 .2-3 .2 13 .2 8 .2-9 .2 22 .2-27 .2 10 .2-7 .2-6 .2 9 .2 5 .2-7 .2 1 .2 5 .2-5 .2 14 .2-3 .2-4 .2 8 .2-28 .2 11 .2 20 .2-19 .2 16 .2-5 .2-2 .2-3 .2-8 .2-3 .2-2 .2 19 .2-4 .2 3 .2-13 .2 11 .2 9 .2-16 .2 2 .2 2 .2 20 .2-7 .2 7 .2 6 .2-25 .2 5 .2-23 .2 21 .2-5 .2 5 .2 0 .2-19 .2 22 .2-7 .2-7 .2 5 .2 12 .2-13 .2 18 .2-8 .2-4 .2-8 .2 0 .2 17 .2-10 .2 2 .2 0 .2 5 .2-1 .2-9 .2 5 .2-4 .2 6 .2-17 .2 11 .2 13 .2-22 .2 5 .2 8 .2-12 .2 10 .2 2 .2 4 .2-5 .2 1 .2-6 .2 6 .2 0 .2 2 .2 3 .2 0 .2 1 .2-5 .2-2 .2-4 .2 9 .2 5 .2-14 .2 9 .2-6 .2 0 .2-7 .2 6 .2 7 .2-1 .2 3 .2-12 .2-13 .2 24 .2-6 .2 5 .2 10 .2-6 .2-26 .2 13 .2 2 .2 15 .2-19 .2 4 .2 11 .2-23 .2 10 .2-6 .2 2 .2 13 .2-4 .2-1 .2 1 .2-3 .2 3 .2 4 .2-10 .2 8 .2-5 .2 11 .2 2 .2-4 .2 3 .2-12 .2 1 .2 4 .2-3 .2 7 .2-6 .2-9 .2 2 .2 10 .2 17 .2-18 .2-13 .2 14 .2-7 .2-5 .2 37 .2-8 .2-19 .2 1 .2-2 .2 8 .2 1 .2 2 .2-17 .2 6 .2 9 .2-5 .2-13 .2 12 .2 8 .2-24 .2 32 .2-17 .2 16 .2-7 .2-5 .2-3 .2-1 .2-4 .2 7 .2 1 .2-14 .2 7 .2-13 .2 6 .2 6 .2 11 .2-5 .2 1 .2-4 .2-5 .2 15 .2-1 .2-14 .2 5 .2 6 .2-11 .2 2 .2 10 .2-2 .2 6 .2-10 .2 8 .2-1 .2 10 .2-20 .2 6 .2-7 .2 12 .2 1 .2 7 .2-14 .2 8 .2-5 .2 11 .2-12 .2-2 .2 7 .2-7 .2-4 .2-8 .2 16 .2 6 .2-9 .2 7 .2-11 .2 8 .2 1 .2-9 .2-11 .2 11 .2 2 .2 5 .2-19 .2 25 .2-7 .2-6 .2-6 .2 3 .2 7 .2 0 .2 0 .2-14 .2 8 .2 3 .2-1 .2-3 .2 6 .2 7 .2-18 .2 19 .2-16 .2 0 .2 0 .2 13 .2-2 .2 4 .2-13 .2-3 .2 24 .2-11 .2-22 .2 10 .2 8 .2 11 .2 3 .2-22 .2 13 .2-6 .2-1 .2-1 .2-6 .2 2 .2 4 .2 6 .2-14 .2 21 .2-13 .2 8 .2-13 .2-2 .2 17 .2-4 .2-18 .2 18 .2-16 .2 15 .2 3 .2-6 .2-3 .2 2 .2 0 .2-5 .2 9 .2-7 .2-9 .2 16 .2 11 .2-6 .2-9 .2-4 .2 2 .2 14 .2-4 .2-12 .2 8 .2 9 .2-10 .2 0 .2-5 .2-8 .2 19 .2-2 .2 0 .2 4 .2-10 .2-3 .2 6 .2-13 .2-6 .2 12 .2-3 .2-2 .2 6 .2 4 .2-12 .2-12 .2 1 .2 3 .2 3 .2-2 .2 0 .2 9 .2-30 .2 12 .2-14 .2-2 .2-8 .2 10 .2-2 .2 6 .2 7 .2-21 .2 10 .2 13 .2 5 .2 1 .2-6 .2 25 .2-20 .2 17 .2-8 .2 3 .2 10 .2-12 .2 13 .2-5 .2-8 .2 8 .2 3 .2 3 .2 4 .2-19 .2 5 .2 0 .2-5 .2 26 .2-18 .2 1 .2-1 .2-3 .2 14 .2-6 .2-6 .2 3 .2 6 .2-1 .2 5 .2 3 .2-13 .2-3 .2 4 .2 4 .2-5 .2 7 .2-11 .2 8 .2 3 .2-8 .2 11 .2 7 .2-35 .2 17 .2 4 .2 7 .2-13 .2 9 .2 9 .2-9 .2-6 .2 0 .2 6 .2 1 .2 0 .2-3 .2-16 .2 9 .2 4 .2 4 .2 2 .2-8 .2 10 .2 6 .2-8 .2 3 .2-9 .2-4 .2 11 .2-1 .2 5 .2-10 .2-5 .2 0 .2 9 .2-16 .2 24 .2-12 .2 3 .2-2 .2 14 .2-22 .2 15 .2-2 .2 6 .2-3 .2-14 .2-4 .2-4 .2 13 .2 6 .2-2 .2-5 .2 7 .2-14 .2 20 .2 1 .2-2 .2-3 .2 7 .2-23 .2 3 .2 8 .2 0 .2-3 .2 7 .2-6 .2 15 .2-12 .2-23 .2 20 .2-2 .2-6 .2 19 .2-15 .2-6 .2 11 .2 17 .2-14 .2 14 .2-9 .2 9 .2-9 .2-1 .2-27 .2 12 .2 0 .2 8 .2 9 .2-2 .2-1 .2-19 .2 7 .2 6 .2 5 .2-3 .2-8 .2-4 .2 18 .2-15 .2 6 .2 1 .2 4 .2-9 .2-4 .2 8 .2-6 .2 8 .2-12 .2 8 .2-7 .2 26 .2-30 .2 10 .2 1 .2-2 .2-5 .2 3 .2 5 .2 13 .2-1 .2 4 .2-17 .2 5 .2 9 .2-5 .2-3 .2 0 .2 5 .2-10 .2 7 .2-9 .2 12 .2-1 .2-5 .2-9 .2 9 .2 13 .2-17 .2 7 .2-16 .2 5 .2 8 .2 7 .2 0 .2-11 .2 19 .2-36 .2 10 .2 19 .2 2 .2 3 .2-22 .2-2 .2 0 .2 3 .2 11 .2-6 .2 0 .2 8 .2-7 .2 4 .2 13 .2-20 .2 6 .2-6 .2 11 .2-14 .2 2 .2 12 .2-20 .2 29 .2-9 .2-6 .2-1 .2 6 .2-1 .2-10 .2 8 .2-7 .2 2 .2 4 .2 1 .2-3 .2 1 .2-2 .2 1 .2 14 .2-1 .2-18 .2-10 .2 23 .2 8 .2-16 .2 5 .2-3 .2 3 .2-7 .2 4 .2-2 .2 0 .2 4 .2-12 .2 19 .2-8 .2 1 .2-7 .2-10 .2 15 .2-3 .2-15 .2 27 .2 3 .2-14 .2 6 .2 8 .2-6 .2-27 .2 31 .2-23 .2 11 .2 15 .2-18 .2-5 .2 10 .2-1 .2-14 .2 28 .2-12 .2-1 .2 2 .2 1 .2 9 .2-12 .2-3 .2 8 .2-1 .2 3 .2-12 .2 10 .2 1 .2-12 .2 11 .2-4 .2 11 .2 1 .2-10 .2-11 .2 8 .2-7 .2 0 .2 16 .2-6 .2-6 .2-6 .2 9 .2 9 .2-6 .2-3 .2 0 .2 8 .2-4 .2-5 .2-17 .2 21 .2-4 .2-2 .2 9 .2-15 .2 8 .2-1 .2-12 .2 9 .2 2 .2 8 .2-5 .2-4 .2 6 .2-22 .2 12 .2-3 .2 10 .2 9 .2-8 .2 1 .2-2 .2 4 .2-23 .2 11 .2-13 .2 0 .2 7 .2-2 .2-11 .2 8 .2-12 .2-2 .2 1 .2 1 .2 10 .2 2 .2-9 .2 5 .2 0 .2 12 .2 1 .2 3 .2-10 .2 13 .2-6 .2-2 .2 9 .2-2 .2 7 .2 0 .2-3 .2 4 .2-1 .2-3 .2-5 .2 13 .2 0 .2 1 .2-15 .2-2 .2 11 .2 5 .2-6 .2 8 .2-16 .2 12 .2-18 .2 8 .2-2 .2 12 .2-10 .2 6 .2 7 .2-11 .2 11 .2-14 .2 17 .2-17 .2-2 .2 12 .2 8 .2-24 .2 21 .2 1 .2-6 .2-13 .2 3 .2 11 .2-19 .2 24 .2 5 .2-22 .2 1 .2 14 .2-10 .2 10 .2-8 .2-1 .2 3 .2 6 .2 0 .2-5 .2 11 .2 1 .2-5 .2-17 .2 6 .2 3 .2 5 .2 6 .2-14 .2 14 .2-19 .2 12 .2-6 .2 1 .2 11 .2-12 .2 4 .2 12 .2-11 .2-13 .2 2 .2 5 .2 5 .2 0 .2-15 .2 4 .2-1 .2 10 .2 2 .2-4 .2 5 .2-5 .2 2 .2 10 .2-5 .2-10 .2 1 .2 11 .2-9 .2-4 .2 8 .2-13 .2 11 .2-5 .2 6 .2 14 .2-14 .2-10 .2-5 .2 14 .2-3 .2-8 .2 6 .2 4 .2-8 .2 7 .2 5 .2-9 .2 15 .2-16 .2-2 .2 16 .2-11 .2-2 .2-1 .2 10 .2-8 .2 1 .2-10 .2 3 .2 8 .2-8 .2 7 .2 12 .2-8 .2 8 .2-16 .2 12 .2-8 .2 9 .2-14 .2 10 .2 6 .2-6 .2 1 .2-4 .2-16 .2 12 .2 0 .2 13 .2-6 .2-8 .2 14 .2-4 .2-15 .2 22 .2-6 .2 18 .2-13 .2-20 .2 20 .2-6 .2-5 .2 5 .2 3 .2-8 .2-4 .2 12 .2-2 .2-12 .2 19 .2-12 .2 16 .2-3 .2-12 .2 7 .2-14 .2 9 .2-16 .2 6 .2 8 .2 5 .2 2 .2 2 .2-1 .2-11 .2 2 .2-4 .2 5 .2-13 .2 7 .2 17 .2-10 .2-6 .2 10 .2-3 .2-2 .2-3 .2-5 .2 8 .2 1 .2-1 .2 11 .2-11 .2 2 .2 8 .2-3 .2-22 .2 15 .2-8 .2 2 .2 13 .2 5 .2-9 .2-20 .2 12 .2 3 .2-3 .2 17 .2-8 .2 2 .2-5 .2 6 .2-8 .2-8 .2 10 .2-5 .2-7 .2-3 .2 11 .2 2 .2 16 .2-18 .2-1 .2 5 .2 7 .2-16 .2 8 .2 12 .2 3 .2-18 .2-8 .2 12 .2 0 .2 10 .2-2 .2-6 .2-7 .2 9 .2-9 .2 0 .2 6 .2 16 .2-2 .2-2 .2-24 .2 19 .2-12 .2 9 .2 3 .2-1 .2-11 .2-3 .2 13 .2 4 .2-15 .2-1 .2 6 .2-4 .2 12 .2 0 .2-1 .2-11 .2-2 .2 4 .2 3 .2 6 .2-4 .2-6 .2 7 .2 2 .2-7 .2-7 .2 11 .2 4 .2-3 .2-13 .2 11 .2-2 .2-3 .2 1 .2-3 .2-1 .2 7 .2-3 .2 1 .2-9 .2 10 .2 10 .2-20 .2 9 .2-1 .2 3 .2 3 .2-10 .2 14 .2-4 .2-7 .2 7 .2 5 .2 2 .2-12 .2 8 .2-6 .2-5 .2 23 .2-9 .2-2 .2-7 .2 4 .2-5 .2 18 .2-19 .2 5 .2 6 .2-7 .2 8 .2-5 .2-2 .2 0 .2-15 .2 22 .2-3 .2-1 .2-2 .2-9 .2 8 .2-7 .2 2 .2-5 .2 6 .2 10 .2-4 .2-10 .2 0 .2 14 .2-10 .2 8 .2 6 .2-5 .2-15 .2-9 .2 28 .2-22 .2 0 .2 6 .2 1 .2 9 .2-11 .2-2 .2 13 .2-14 .2 27 .2-30 .2 11 .2 8 .2-8 .2-13 .2 12 .2 8 .2-13 .2-6 .2 11 .2-15 .2 19 .2 2 .2-4 .2-10 .2 17 .2 2 .2-2 .2-11 .2 6 .2-8 .2 14 .2-12 .2-6 .2 7 .2 6 .2-5 .2 0 .2-6 .2 8 .2-2 .2 2 .2-2 .2 0 .2-5 .2 19 .2-25 .2 14 .2 7 .2-21 .2 0 .2 18 .2 13 .2-10 .2-11 .2-1 .2 0 .2-5 .2 4 .2 12 .2-9 .2 5 .2 3 .2-11 .2 3 .2 4 .2-7 .2 6 .2 4 .2-4 .2-13 .2 15 .2-4 .2 1 .2-8 .2 9 .2-1 .2-4 .2-1 .2 4 .2-12 .2 15 .2-5 .2 11 .2-21 .2 10 .2 5 .2 0 .2-5 .2 10 .2-10 .2 7 .2-4 .2-2 .2-4 .2 1 .2 1 .2 6 .2-6 .2-4 .2 12 .2-3 .2 3 .2-4 .2 12 .2-5 .2-4 .2 0 .2 4 .2-6 .2 4 .2-7 .2 13 .2-12 .2-22 .2 28 .2-7 .2 1 .2 6 .2-25 .2 7 .2 12 .2-8 .2 14 .2-1 .2-6 .2 9 .2-20 .2 13 .2 7 .2 4 .2-6 .2 7 .2-7 .2-4 .2 3 .2 15 .2-1 .2-13 .2 1 .2 0 .2-14 .2 7 .2 5 .2-7 .2 4 .2-7 .2 8 .2 7 .2-6 .2 5 .2-7 .2-4 .2 6 .2-14 .2 7 .2 3 .2-2 .2 7 .2-8 .2 11 .2-1 .2-5 .2-5 .2-4 .2 12 .2-6 .2 21 .2-13 .2 4 .2-17 .2 6 .2-3 .2-13 .2 18 .2-5 .2 1 .2 5 .2 4 .2-3 .2 9 .2-17 .2 10 .2-11 .2 4 .2 9 .2-3 .2-2 .2 0 .2 3 .2 4 .2-4 .2-7 .2 8 .2-6 .2 3 .2-1 .2 5 .2-5 .2-4 .2-7 .2 1 .2 11 .2-7 .2 11 .2-6 .2 2 .2-2 .2 18 .2-11 .2-3 .2 1 .2-21 .2 10 .2 15 .2 0 .2-14 .2-9 .2 6 .2 13 .2-5 .2 9 .2-9 .2 4 .2 2 .2-5 .2-2 .2-1 .2 4 .2 1 .2 7 .2-6 .2-4 .2-4 .2 2 .2 9 .2-2 .2 8 .2-10 .2-2 .2 13 .2-3 .2 1 .2-16 .2 8 .2 1 .2 0 .2-17 .2 16 .2-1 .2 8 .2-10 .2 2 .2-2 .2-6 .2 12 .2 8 .2-20 .2 17 .2 1 .2-21 .2 0 .2 4 .2-2 .2 2 .2-2 .2 4 .2 6 .2 2 .2-7 .2-5 .2 10 .2 1 .2-10 .2 9 .2-13 .2 5 .2 6 .2-2 .2 9 .2-9 .2 3 .2 6 .2-18 .2 15 .2 4 .2-10 .2 9 .2-15 .2 2 .2-3 .2 20 .2-17 .2 9 .2-15 .2 18 .2-16 .2 2 .2-11 .2 9 .2 15 .2-16 .2 20 .2 4 .2-16 .2-9 .2 7 .2 4 .2-16 .2 10 .2 6 .2 1 .2-16 .2 13 .2 1 .2 9 .2-7 .2 5 .2-3 .2-10 .2 25 .2-14 .2-3 .2-5 .2 14 .2-10 .2 3 .2-2 .2-3 .2-10 .2 7 .2 17 .2-11 .2-6 .2-2 .2 0 .2 3 .2 2 .2 11 .2-7 .2 9 .2-24 .2 11 .2-13 .2-1 .2 16 .2-14 .2 13 .2-7 .2 15 .2 0 .2-20 .2 17 .2-6 .2 4 .2-7 .2 12 .2-2 .2-7 .2-10 .2-6 .2 24 .2-6 .2-11 .2 3 .2 25 .2-25 .2 10 .2 7 .2 7 .2-14 .2 1 .2-11 .2 12 .2-4 .2-7 .2 0 .2 17 .2-2 .2 12 .2-21 .2-12 .2 29 .2-10 .2 8 .2-17 .2 2 .2 13 .2-16 .2 6 .2 0 .2 6 .2 2 .2-13 .2 12 .2-8 .2 1 .2 2 .2 5 .2-7 .2 4 .2-9 .2-4 .2 2 .2 10 .2-1 .2 0 .2-10 .2 4 .2 5 .2 5 .2-1 .2-6 .2-3 .2-6 .2 7 .2 12 .2-10 .2-3 .2 6 .2 17 .2-23 .2-3 .2-9 .2 1 .2 17 .2-1 .2-7 .2 7 .2 1 .2-9 .2 7 .2 4 .2-17 .2 10 .2 1 .2-13 .2 29 .2-9 .2 6 .2-24 .2 10 .2 9 .2-12 .2 18 .2-22 .2 8 .2-3 .2-9 .2 10 .2 2 .2-7 .2 4 .2 10 .2-1 .2-2 .2 2 .2 4 .2-10 .2-4 .2 6 .2 0 .2-6 .2 7 .2 0 .2 6 .2-14 .2 15 .2-10 .2-8 .2 17 .2-4 .2-2 .2-9 .2 14 .2-13 .2 0 .2 7 .2 7 .2-6 .2 1 .2-7 .2 13 .2-9 .2 7 .2 16 .2-18 .2-8 .2-3 .2 3 .2 0 .2 9 .2 8 .2-9 .2-3 .2 7 .2-10 .2 4 .2 8 .2 1 .2-11 .2 0 .2-1 .2 5 .2 9 .2-11 .2-8 .2 15 .2 0 .2 0 .2-2 .2-9 .2-5 .2 11 .2-6 .2 3 .2 8 .2-22 .2 1 .2 1 .2 5 .2 4 .2 3 .2-8 .2 14 .2-10 .2 7 .2 6 .2-3 .2-10 .2 2 .2 4 .2 2 .2-14 .2 1 .2 3 .2 12 .2-6 .2-2 .2-9 .2 0 .2 12 .2-10 .2 14 .2-12 .2 7 .2 4 .2-1 .2-4 .2 15 .2-15 .2 3 .2-5 .2 9 .2 2 .2-1 .2-6 .2 5 .2-14 .2 5 .2 7 .2-20 .2 4 .2 16 .2-4 .2-4 .2 1 .2 12 .2-7 .2-6 .2-8 .2 11 .2-11 .2 9 .2-4 .2 14 .2-14 .2 5 .2 10 .2-25 .2 12 .2-7 .2 21 .2-7 .2-4 .2 2 .2 5 .2-2 .2-2 .2 5 .2-3 .2 11 .2-21 .2 5 .2 8 .2 1 .2-9 .2 12 .2-2 .2 5 .2-13 .2 10 .2-9 .2 3 .2 3 .2-8 .2 1 .2 14 .2-18 .2 10 .2 5 .2 2 .2-12 .2-5 .2 14 .2-11 .2 3 .2-5 .2-4 .2 5 .2 3 .2-11 .2 22 .2-11 .2 12 .2-3 .2-11 .2 3 .2-3 .2 3 .2 1 .2 2 .2 0 .2-1 .2-6 .2-6 .2 12 .2-3 .2 6 .2-9 .2 6 .2-8 .2 9 .2-4 .2 4 .2 15 .2-12 .2-6 .2 2 .2-2 .2 0 .2 1 .2-1 .2 0 .2 6 .2 0 .2 5 .2-8 .2 0 .2 12 .2-26 .2 11 .2 2 .2 1 .2-9 .2 2 .2-8 .2 6 .2-9 .2 19 .2-8 .2-5 .2 15 .2-9 .2-6 .2 9 .2-6 .2-10 .2 13 .2 10 .2-22 .2 9 .2 7 .2-2 .2 4 .2-8 .2 11 .2-9 .2 0 .2 3 .2-4 .2 0 .2-1 .2-2 .2 1 .2-4 .2 13 .2-2 .2-14 .2 10 .2 3 .2-6 .2 9 .2-6 .2 4 .2-6 .2 7 .2 0 .2 14 .2-5 .2-9 .2-1 .2 0 .2 2 .2-16 .2 14 .2 4 .2-4 .2-8 .2-2 .2-2 .2 22 .2-6 .2 4 .2-11 .2-3 .2-6 .2 13 .2-12 .2 4 .2 12 .2 2 .2-11 .2 7 .2-5 .2 2 .2-11 .2 10 .2-1 .2 1 .2 0 .2-2 .2 4 .2-10 .2 7 .2-8 .2 7 .2-4 .2-2 .2 1 .2 0 .2 9 .2-10 .2 7 .2 1 .2 10 .2-7 .2-13 .2-1 .2 8 .2 2 .2-7 .2 11 .2-19 .2 0 .2 8 .2 9 .2 2 .2-5 .2 9 .2-7 .2-3 .2 10 .2-7 .2-7 .2 7 .2-9 .2 14 .2-8 .2-10 .2 20 .2-6 .2-5 .2 4 .2 3 .2-4 .2 2 .2 5 .2-9 .2 2 .2 12 .2-13 .2-3 .2 5 .2 6 .2-12 .2 4 .2-2 .2 15 .2-4 .2-5 .2 5 .2-16 .2 3 .2 7 .2 6 .2-17 .2 11 .2-4 .2 0 .2 2 .2-9 .2 18 .2-13 .2 6 .2-12 .2 5 .2-7 .2 20 .2 8 .2-17 .2 2 .2 11 .2-17 .2 6 .2-6 .2 9 .2-2 .2 4 .2 0 .2-14 .2 3 .2 6 .2 2 .2-4 .2 5 .2 1 .2-8 .2 3 .2-2 .2-5 .2 14 .2 5 .2-12 .2 12 .2-1 .2-13 .2 1 .2-1 .2 10 .2 2 .2-11 .2-7 .2 10 .2 8 .2-5 .2-3 .2-10 .2 14 .2-6 .2 2 .2 1 .2-4 .2-3 .2 7 .2 3 .2 7 .2-13 .2-4 .2 18 .2-5 .2-12 .2 3 .2 2 .2 9 .2-9 .2 9 .2-8 .2-6 .2 6 .2-12 .2 6 .2 8 .2-9 .2 3 .2-6 .2 8 .2-10 .2 8 .2 7 .2-8 .2 9 .2-3 .2 1 .2-8 .2 4 .2-6 .2 2 .2 1 .2 6 .2 7 .2-18 .2 17 .2-23 .2 1 .2 24 .2-4 .2-6 .2 0 .2-1 .2-14 .2 18 .2-7 .2-11 .2 17 .2 1 .2 4 .2-2 .2-8 .2 6 .2-5 .2 1 .2 11 .2-13 .2-14 .2 13 .2-7 .2 4 .2 15 .2-6 .2-8 .2 4 .2 8 .2-5 .2 9 .2-17 .2 8 .2 0 .2-7 .2 8 .2 2 .2 3 .2-19 .2 13 .2 3 .2 4 .2-5 .2-3 .2-4 .2 13 .2-9 .2 10 .2-9 .2 1 .2-7 .2-3 .2 10 .2-3 .2 9 .2-16 .2 0 .2 15 .2-13 .2-3 .2-4 .2 7 .2 9 .2 2 .2-17 .2 14 .2-8 .2 1 .2 8 .2-4 .2 2 .2 2 .2 0 .2-1 .2 3 .2-8 .2-3 .2 1 .2 5 .2-5 .2 6 .2-2 .2 10 .2-15 .2 14 .2-3 .2 10 .2-18 .2 7 .2-6 .2 1 .2 4 .2 4 .2 3 .2-11 .2-2 .2 5 .2 6 .2-3 .2 1 .2 1 .2-5 .2 3 .2 9 .2-9 .2-7 .2 1 .2 1 .2 3 .2 2 .2-13 .2 5 .2 1 .2-3 .2-6 .2 4 .2 14 .2-16 .2 20 .2-10 .2 1 .2 10 .2 1 .2-19 .2 13 .2-2 .2-8 .2 2 .2-3 .2 16 .2 5 .2-24 .2 4 .2 4 .2-5 .2 12 .2-4 .2-4 .2-9 .2 1 .2 10 .2-12 .2 16 .2-7 .2 8 .2-4 .2 2 .2-1 .2-7 .2 0 .2 1 .2 3 .2 4 .2-6 .2 10 .2-11 .2-5 .2 3 .2 0 .2 13 .2-4 .2-3 .2-3 .2 2 .2-9 .2 22 .2-11 .2 3 .2 1 .2-8 .2 0 .2-5 .2 5 .2-1 .2-10 .2 13 .2-9 .2 6 .2 15 .2-3 .2-20 .2 10 .2 1 .2 8 .2 2 .2-12 .2-3 .2 5 .2 1 .2-14 .2 13 .2-4 .2 12 .2-6 .2-2 .2 3 .2-6 .2 2 .2 1 .2-13 .2 17 .2 0 .2-1 .2 2 .2-13 .2 8 .2-2 .2 0 .2-6 .2 2 .2 5 .2-6 .2 5 .2-5 .2 10 .2 9 .2-9 .2-3 .2-8 .2 4 .2 8 .2-2 .2-3 .2-13 .2 8 .2 9 .2-9 .2 11 .2-4 .2-7 .2 17 .2-26 .2 12 .2-6 .2 7 .2 5 .2 5 .2-6 .2-4 .2 3 .2-9 .2 7 .2 5 .2-3 .2 2 .2-6 .2 6 .2-5 .2-5 .2-4 .2-5 .2 8 .2 2 .2 3 .2-6 .2-4 .2 8 .2-1 .2-2 .2-3 .2-10 .2 4 .2-3 .2-2 .2-11 .2-8 .2 10 .2-2 .2-8 .2 0 .2 0 .2 14 .2-10 .2 5 .2 14 .2-2 .2 2 .2-1 .2 9 .2 1 .2 5 .2-14 .2 20 .2 5 .2-8 .2-5 .2 10 .2 1 .2-11 .2 4 .2 2 .2-7 .2 5 .2 7 .2 7 .2-23 .2 14 .2-12 .2 5 .2 8 .2-10 .2 8 .2-5 .2 7 .2-12 .2 20 .2-17 .2 1 .2-3 .2 15 .2-5 .2-2 .2 8 .2-16 .2 2 .2 7 .2-6 .2 3 .2 0 .2 0 .2 3 .2-8 .2 13 .2-6 .2-4 .2 0 .2 6 .2-3 .2 4 .2 6 .2-9 .2-9 .2 11 .2-1 .2 0 .2-1 .2-9 .2 8 .2 3 .2-2 .2 10 .2 1 .2-22 .2 23 .2-19 .2 5 .2 19 .2-7 .2-4 .2-12 .2 7 .2 2 .2-10 .2 9 .2-10 .2 16 .2-9 .2-5 .2 13 .2-3 .2 4 .2-17 .2 4 .2 3 .2-9 .2 10 .2 0 .2-2 .2 1 .2-8 .2 12 .2 5 .2-16 .2 1 .2 7 .2-7 .2 2 .2 3 .2-6 .2-2 .2 16 .2-12 .2 11 .2-10 .2 9 .2-7 .2-6 .2 12 .2-4 .2-3 .2 17 .2-2 .2-17 .2 6 .2-2 .2-3 .2 8 .2 2 .2 2 .2-13 .2 10 .2 4 .2-20 .2 10 .2-2 .2 9 .2-13 .2 8 .2 0 .2-4 .2 5 .2-9 .2 2 .2 1 .2 11 .2 4 .2-10 .2-1 .2-7 .2 1 .2 10 .2 5 .2-8 .2-2 .2 1 .2 7 .2 4 .2-8 .2-2 .2 4 .2-5 .2 3 .2 7 .2-4 .2-11 .2 20 .2 6 .2-26 .2 6 .2 6 .2 4 .2-18 .2 20 .2-2 .2-4 .2-4 .2-11 .2 12 .2-5 .2 7 .2-5 .2-5 .2 20 .2 3 .2-24 .2 10 .2-7 .2 10 .2-9 .2 8 .2-6 .2 7 .2-14 .2 13 .2-1 .2 2 .2-2 .2 7 .2 0 .2-12 .2 4 .2-5 .2 2 .2 14 .2-18 .2 12 .2 5 .2-6 .2 3 .2-13 .2 4 .2-3 .2 13 .2-9 .2-4 .2 4 .2 7 .2-14 .2 12 .2-4 .2-2 .2 4 .2-7 .2-2 .2-2 .2 10 .2-10 .2 5 .2-1 .2 10 .2-21 .2 13 .2 3 .2 1 .2-2 .2 6 .2-6 .2-2 .2 4 .2 1 .2 0 .2 0 .2 5 .2 1 .2-14 .2 1 .2 18 .2-15 .2-10 .2 11 .2 3 .2 5 .2-5 .2 2 .2-3 .2 5 .2-15 .2 9 .2 2 .2-1 .2 6 .2-15 .2 15 .2-2 .2-12 .2 6 .2 0 .2-12 .2 13 .2-4 .2 0 .2-8 .2 13 .2 6 .2 0 .2-1 .2-4 .2 2 .2-13 .2 5 .2 2 .2 1 .2-3 .2 2 .2 6 .2-13 .2 11 .2-4 .2 3 .2-1 .2 1 .2-4 .2 8 .2 0 .2-2 .2-9 .2 3 .2 3 .2 10 .2-7 .2-1 .2 4 .2-15 .2 11 .2-20 .2 14 .2 4 .2-10 .2-5 .2 5 .2 11 .2 0 .2 0 .2-3 .2 7 .2-3 .2-7 .2 3 .2 12 .2-15 .2-4 .2-1 .2-3 .2 3 .2 16 .2-4 .2-1 .2 2 .2-9 .2 1 .2 3 .2 8 .2-11 .2-6 .2 3 .2 14 .2-9 .2-7 .2 9 .2 3 .2-9 .2 1 .2-2 .2-4 .2 8 .2 6 .2 0 .2-4 .2-8 .2 9 .2 6 .2 0 .2-9 .2-2 .2 11 .2-4 .2 8 .2-3 .2 1 .2-6 .2-7 .2 10 .2-4 .2 5 .2-4 .2 4 .2-7 .2 4 .2 6 .2 2 .2-15 .2 9 .2-1 .2 0 .2-1 .2 1 .2-4 .2 6 .2 5 .2-18 .2 18 .2-16 .2 5 .2-3 .2 9 .2-6 .2 5 .2-15 .2 11 .2 5 .2-5 .2-6 .2 7 .2 9 .2-4 .2 2 .2-13 .2 5 .2-3 .2 2 .2-4 .2 1 .2 12 .2-15 .2 11 .2-5 .2-2 .2 8 .2-3 .2 6 .2 5 .2-9 .2-5 .2-2 .2-6 .2 10 .2-4 .2 17 .2-16 .2-1 .2-1 .2 5 .2-3 .2-7 .2 17 .2-4 .2 7 .2-5 .2-4 .2 5 .2-6 .2 7 .2-6 .2 1 .2-12 .2 8 .2 4 .2-1 .2-1 .2 7 .2 0 .2-15 .2 8 .2 2 .2 10 .2-11 .2-5 .2 2 .2 8 .2-22 .2 20 .2 1 .2-8 .2 8 .2-11 .2-2 .2-3 .2 8 .2 3 .2-1 .2-9 .2 8 .2 3 .2-1 .2 6 .2-15 .2 9 .2-3 .2 1 .2-4 .2 4 .2-9 .2 5 .2 9 .2-9 .2 1 .2 4 .2 1 .2 4 .2-11 .2 3 .2-6 .2 10 .2-2 .2 1 .2-8 .2 11 .2-11 .2-1 .2 5 .2-2 .2 8 .2-2 .2-5 .2 10 .2-2 .2-5 .2-3 .2-2 .2 8 .2-2 .2 2 .2 1 .2-1 .2-5 .2 6 .2-2 .2-13 .2 10 .2 10 .2-5 .2-4 .2-1 .2 6 .2-5 .2-6 .2 1 .2 21 .2-15 .2 2 .2 1 .2 1 .2 2 .2-4 .2-3 .2 2 .2 0 .2 10 .2 1 .2-6 .2 6 .2-14 .2-1 .2-9 .2 18 .2-3 .2-11 .2 12 .2-5 .2 3 .2 4 .2-2 .2-4 .2-2 .2 8 .2-12 .2 8 .2 4 .2 2 .2-17 .2 12 .2-4 .2 0 .2 7 .2-4 .2-17 .2 20 .2-10 .2 9 .2-6 .2-1 .2 4 .2 4 .2-9 .2 13 .2-11 .2 6 .2 8 .2-12 .2 4 .2 2 .2 1 .2 1 .2-5 .2 0 .2 1 .2-4 .2-8 .2 13 .2-2 .2 15 .2-18 .2-4 .2 3 .2 1 .2 6 .2-6 .2 6 .2-7 .2 1 .2 4 .2-1 .2-9 .2 11 .2-4 .2 13 .2-13 .2 3 .2-7 .2 8 .2-6 .2 4 .2 4 .2-12 .2-5 .2 11 .2 2 .2 3 .2 4 .2-10 .2 1 .2-4 .2 8 .2 4 .2-6 .2 5 .2-8 .2 0 .2 11 .2-1 .2-6 .2-7 .2 7 .2-8 .2 10 .2-6 .2-3 .2 5 .2 15 .2-12 .2 0 .2-10 .2 11 .2-13 .2 5 .2 5 .2 11 .2-17 .2 8 .2-5 .2-10 .2 15 .2 10 .2-9 .2-9 .2 4 .2 3 .2-9 .2 7 .2-4 .2 3 .2-2 .2 3 .2 2 .2-7 .2 13 .2-15 .2 10 .2 8 .2-3 .2-9 .2 4 .2-10 .2 9 .2-8 .2 13 .2-5 .2-6 .2 9 .2-8 .2 5 .2-6 .2 1 .2 8 .2 6 .2-1 .2-3 .2-6 .2 4 .2-5 .2 0 .2-1 .2 7 .2-4 .2-10 .2 10 .2 5 .2-4 .2-7 .2 4 .2 0 .2 5 .2-2 .2-5 .2 7 .2-16 .2-1 .2 15 .2-15 .2 20 .2-7 .2-1 .2 6 .2 5 .2-12 .2 2 .2-8 .2-1 .2-1 .2 16 .2-11 .2 12 .2-16 .2 2 .2 6 .2 5 .2-12 .2 3 .2-2 .2 15 .2-8 .2 0 .2-6 .2 3 .2-4 .2 18 .2-14 .2-11 .2 5 .2-6 .2 5 .2-2 .2 17 .2-8 .2-6 .2 19 .2-14 .2 13 .2-12 .2 2 .2 4 .2 5 .2-9 .2 10 .2-15 .2 18 .2-10 .2-2 .2-2 .2 3 .2 2 .2-2 .2-10 .2 20 .2-15 .2-2 .2 0 .2 10 .2-9 .2 3 .2 11 .2-4 .2-5 .2-6 .2 5 .2 4 .2-9 .2 1 .2 8 .2-5 .2 10 .2-16 .2 4 .2-1 .2 6 .2-6 .2 10 .2 5 .2-11 .2 3 .2-6 .2 9 .2-11 .2 4 .2 3 .2-8 .2 9 .2-5 .2 3 .2-4 .2-5 .2 11 .2-3 .2 0 .2-3 .2 5 .2-6 .2 4 .2 8 .2-11 .2 5 .2-5 .2 4 .2-3 .2 6 .2-8 .2 1 .2 12 .2-9 .2 10 .2-12 .2-5 .2 6 .2 3 .2-4 .2-7 .2-2 .2 21 .2-16 .2 8 .2 3 .2-1 .2-24 .2 9 .2 2 .2 11 .2-7 .2-4 .2 11 .2 0 .2-4 .2-11 .2 13 .2-7 .2 4 .2 2 .2 0 .2-2 .2 0 .2 5 .2-3 .2-16 .2 11 .2 4 .2 6 .2-9 .2 0 .2 6 .2-9 .2 11 .2-8 .2 5 .2 1 .2 1 .2 4 .2-8 .2-3 .2 5 .2 12 .2-6 .2-12 .2-1 .2 6 .2-7 .2 1 .2 14 .2-1 .2 0 .2 4 .2-22 .2 13 .2-5 .2 10 .2-12 .2 8 .2 3 .2 1 .2 3 .2 0 .2-9 .2-9 .2 11 .2 6 .2-2 .2-19 .2 7 .2 9 .2-1 .2-3 .2 0 .2-5 .2 8 .2 7 .2-10 .2-10 .2 5 .2 7 .2 1 .2-8 .2-1 .2 6 .2 1 .2-1 .2-1 .2 0 .2-3 .2-7 .2 4 .2 5 .2 6 .2-9 .2 17 .2-13 .2-3 .2 9 .2 2 .2 2 .2-4 .2 0 .2-7 .2 3 .2 2 .2-7 .2 7 .2-14 .2 7 .2 1 .2 3 .2 2 .2 0 .2-1 .2-10 .2 21 .2-16 .2 10 .2-6 .2 0 .2-3 .2 1 .2-9 .2 7 .2 15 .2-9 .2-8 .2 1 .2 0 .2 2 .2 8 .2-5 .2-6 .2-9 .2 22 .2-3 .2-7 .2 2 .2-4 .2-2 .2 19 .2-28 .2 12 .2 4 .2 1 .2-3 .2-2 .2 4 .2-9 .2 0 .2 10 .2-8 .2 9 .2 3 .2 2 .2-2 .2-13 .2 7 .2 0 .2 6 .2-8 .2 10 .2-7 .2 7 .2-7 .2 0 .2-7 .2 4 .2 12 .2 0 .2-23 .2 28 .2-4 .2-14 .2 8 .2 2 .2-20 .2 13 .2 2 .2-2 .2-6 .2 7 .2 4 .2-1 .2-8 .2 20 .2-20 .2 3 .2 6 .2-6 .2 0 .2 0 .2 3 .2 15 .2-16 .2-2 .2-3 .2 8 .2 2 .2-8 .2 2 .2 5 .2-6 .2-1 .2 8 .2 4 .2-10 .2-10 .2 15 .2-12 .2 20 .2-10 .2 2 .2-2 .2 4 .2-1 .2-1 .2-2 .2-11 .2 13 .2-5 .2 3 .2 4 .2-11 .2 1 .2 9 .2-9 .2 1 .2 1 .2 6 .2-5 .2 2 .2 7 .2-5 .2 0 .2-3 .2-2 .2-6 .2 7 .2 8 .2 4 .2-14 .2 3 .2 3 .2-1 .2-4 .2-11 .2 11 .2-1 .2 2 .2 0 .2-3 .2 6 .2-5 .2-5 .2 11 .2-3 .2 3 .2 3 .2-14 .2 7 .2-6 .2 9 .2-9 .2-7 .2 22 .2-14 .2 3 .2 6 .2 3 .2-5 .2-3 .2 13 .2-12 .2-4 .2 7 .2-5 .2 5 .2-7 .2 8 .2-12 .2 10 .2 3 .2-3 .2-1 .2 13 .2-12 .2-5 .2 5 .2 7 .2-10 .2-7 .2 8 .2-5 .2 5 .2-7 .2 17 .2-8 .2 4 .2-4 .2 4 .2-6 .2 0 .2-3 .2 2 .2 8 .2 1 .2-9 .2-6 .2 14 .2-10 .2 1 .2 3 .2 7 .2-4 .2-3 .2-7 .2 9 .2 6 .2-5 .2 3 .2-4 .2-1 .2 2 .2-1 .2 14 .2-12 .2-2 .2 0 .2 2 .2 0 .2 3 .2 0 .2-3 .2-13 .2 16 .2-3 .2 6 .2-21 .2 17 .2-17 .2 13 .2-3 .2 7 .2-17 .2 16 .2-14 .2 7 .2-1 .2 6 .2-5 .2 3 .2-7 .2 3 .2-2 .2 7 .2-6 .2-2 .2 9 .2-1 .2 6 .2-9 .2 5 .2-8 .2 9 .2 3 .2 0 .2-18 .2 3 .2-4 .2 17 .2 1 .2-9 .2-3 .2 1 .2-1 .2 2 .2-3 .2 10 .2 7 .2-12 .2 5 .2 5 .2-1 .2-9 .2 4 .2 4 .2-1 .2 2 .2-11 .2 3 .2 7 .2-8 .2 13 .2 2 .2-18 .2 1 .2 3 .2 2 .2 5 .2 4 .2-14 .2 3 .2 5 .2-7 .2 6 .2-11 .2 10 .2-3 .2 3 .2-8 .2 2 .2 1 .2-4 .2-3 .2 4 .2 9 .2-4 .2 3 .2-2 .2 10 .2-12 .2 2 .2 5 .2-3 .2 1 .2 1 .2-8 .2-1 .2 3 .2 9 .2 9 .2-20 .2 8 .2-13 .2 10 .2 3 .2-1 .2-7 .2 5 .2 11 .2-8 .2-5 .2 5 .2-5 .2 2 .2 1 .2 1 .2-2 .2 5 .2-10 .2 1 .2 11 .2-7 .2 1 .2-2 .2 0 .2-3 .2 6 .2-1 .2-5 .2 6 .2 5 .2-16 .2 15 .2-9 .2 1 .2 4 .2 2 .2-3 .2 2 .2-10 .2 0 .2 1 .2 4 .2-4 .2 0 .2 10 .2-5 .2-6 .2 13 .2 0 .2 0 .2-19 .2 6 .2 1 .2 7 .2 2 .2 0 .2-6 .2 9 .2 5 .2-10 .2 5 .2-5 .2-14 .2 10 .2 2 .2 5 .2 1 .2-8 .2-2 .2 1 .2 4 .2-1 .2 2 .2 5 .2-11 .2 16 .2-12 .2 8 .2-6 .2 3 .2-7 .2 8 .2-5 .2-7 .2 6 .2-3 .2 8 .2-7 .2 8 .2-1 .2-1 .2-6 .2 9 .2-7 .2 0 .2 6 .2-8 .2 9 .2-2 .2-1 .2-4 .2-3 .2 6 .2-9 .2 8 .2-7 .2 11 .2-5 .2 5 .2-11 .2 5 .2-3 .2 2 .2-5 .2 11 .2-9 .2 7 .2 0 .2 5 .2-4 .2-12 .2 4 .2-2 .2 0 .2 1 .2 9 .2 0 .2-2 .2-7 .2 3 .2 6 .2-2 .2-8 .2 7 .2 0 .2 7 .2-9 .2-12 .2 15 .2 4 .2-14 .2 13 .2 1 .2-5 .2-3 .2 3 .2-2 .2 3 .2 5 .2-5 .2-4 .2 6 .2-5 .2-6 .2 9 .2 8 .2-11 .2 3 .2-9 .2 7 .2-1 .2 3 .2-1 .2-1 .2 5 .2-8 .2-2 .2 11 .2-2 .2-8 .2-2 .2 1 .2 17 .2-8 .2-2 .2 2 .2 0 .2 9 .2-9 .2-1 .2-4 .2 6 .2-2 .2-1 .2-15 .2 13 .2-4 .2 8 .2-14 .2 8 .2-3 .2 6 .2 1 .2 1 .2-5 .2 1 .2-4 .2 7 .2-4 .2 9 .2 5 .2-19 .2 8 .2-6 .2 0 .2 7 .2 2 .2-4 .2 6 .2-4 .2-4 .2 12 .2-6 .2-3 .2 4 .2 0 .2-5 .2 6 .2-13 .2 1 .2 7 .2-7 .2 17 .2-11 .2 5 .2-5 .2-3 .2 2 .2 6 .2-7 .2-9 .2 17 .2-9 .2 1 .2 0 .2-4 .2-8 .2 10 .2 0 .2 4 .2 0 .2-3 .2-2 .2 12 .2-6 .2-2 .2-7 .2 4 .2 3 .2-5 .2 1 .2-1 .2 4 .2 3 .2-3 .2 0 .2 3 .2 3 .2-19 .2 9 .2 4 .2 3 .2-13 .2 10 .2 8 .2-6 .2 1 .2 4 .2-2 .2-6 .2 4 .2-4 .2 6 .2 1 .2 1 .2-2 .2-15 .2 12 .2-3 .2 8 .2 2 .2-4 .2-4 .2 5 .2 1 .2 2 .2 0 .2-7 .2 3 .2-1 .2 6 .2-14 .2 0 .2 13 .2 0 .2-2 .2-4 .2 5 .2-5 .2-3 .2 7 .2-9 .2 7 .2-3 .2 2 .2 8 .2-16 .2 9 .2 4 .2-2 .2-2"/>
<path fill="none" stroke="#E05A02" stroke-width="3.3" stroke-linejoin="miter" d="M162.0,1148l.2 15 .2 22 .2 2 .2-23 .2-4 .2-12 .2 15 .2 0 .2-20 .2 12 .2 12 .2 2 .2-22 .2 9 .2-6 .2 22 .2-19 .2 16 .2-7 .2 10 .2 19 .2-40 .2 15 .2-6 .2 23 .2-11 .2-11 .2-2 .2 25 .2 7 .2-48 .2 17 .2-13 .2 13 .2 1 .2-8 .2 25 .2-25 .2 19 .2-33 .2 13 .2 13 .2 9 .2-22 .2 23 .2-8 .2-23 .2 45 .2-40 .2 37 .2-47 .2 37 .2 0 .2-2 .2-15 .2 13 .2-42 .2 33 .2-3 .2-4 .2 27 .2-13 .2-1 .2-3 .2 1 .2 1 .2-28 .2 19 .2 21 .2-20 .2-10 .2 8 .2 2 .2 1 .2 3 .2 1 .2 5 .2-23 .2 6 .2-9 .2 13 .2 16 .2-5 .2-21 .2-6 .2 6 .2 25 .2 2 .2 5 .2-42 .2-5 .2 50 .2-23 .2 3 .2 1 .2-7 .2 11 .2-26 .2-2 .2 11 .2 0 .2 15 .2-10 .2-11 .2 24 .2-25 .2 26 .2 10 .2-4 .2-21 .2 21 .2-32 .2 24 .2-19 .2 12 .2-12 .2 21 .2-9 .2-4 .2 9 .2-6 .2 9 .2-18 .2 28 .2-29 .2 13 .2 21 .2-16 .2-22 .2 7 .2 13 .2-14 .2 6 .2 6 .2 2 .2-8 .2 12 .2-4 .2 14 .2-31 .2 1 .2 1 .2-3 .2 7 .2-4 .2 10 .2-10 .2 43 .2-37 .2 18 .2-15 .2-4 .2-4 .2 14 .2-4 .2-11 .2 17 .2-1 .2-2 .2-13 .2 15 .2 9 .2-13 .2-9 .2 2 .2 38 .2-29 .2-1 .2 6 .2-11 .2-7 .2 16 .2 3 .2 5 .2-7 .2-1 .2 2 .2 6 .2-10 .2-15 .2 11 .2 17 .2-5 .2-1 .2-12 .2 6 .2-2 .2-2 .2 7 .2-9 .2 9 .2-4 .2-7 .2 5 .2-8 .2-2 .2 10 .2 10 .2-36 .2 22 .2 22 .2-20 .2 9 .2-22 .2 7 .2 16 .2 2 .2-19 .2-14 .2 16 .2-2 .2 4 .2-15 .2 6 .2 33 .2-39 .2 21 .2 5 .2-6 .2-10 .2-9 .2 0 .2 20 .2-7 .2-9 .2 12 .2 12 .2-20 .2 8 .2-4 .2 5 .2-5 .2 9 .2-31 .2 13 .2 8 .2-31 .2 26 .2-27 .2 23 .2 6 .2-29 .2 30 .2-30 .2 17 .2-17 .2 0 .2 0 .2 0 .2 3 .2-2 .2 33 .2-34 .2 0 .2 11 .2-11 .2 11 .2-11 .2 0 .2 0 .2 22 .2-19 .2 5 .2 6 .2-7 .2 2 .2-9 .2 37 .2-24 .2 29 .2-15 .2 7 .2-1 .2 11 .2-35 .2 48 .2-19 .2-18 .2 21 .2-16 .2 20 .2-15 .2 9 .2 4 .2-32 .2 37 .2-10 .2 6 .2-6 .2 6 .2-2 .2-7 .2 3 .2 20 .2-18 .2-8 .2 15 .2-15 .2-13 .2 61 .2-36 .2-4 .2 18 .2 9 .2-30 .2 9 .2 6 .2-20 .2 14 .2 13 .2 0 .2-6 .2-3 .2 0 .2-10 .2 1 .2-16 .2 26 .2-10 .2 1 .2-3 .2 10 .2 11 .2-21 .2-11 .2 10 .2-7 .2-1 .2 17 .2 6 .2-23 .2 24 .2-12 .2 17 .2-6 .2 5 .2 5 .2-24 .2 20 .2-1 .2-1 .2-16 .2-1 .2 11 .2-2 .2 14 .2-12 .2-12 .2 16 .2-3 .2-3 .2 7 .2-4 .2-1 .2-10 .2 29 .2-13 .2-7 .2-9 .2 17 .2-3 .2-11 .2 10 .2-6 .2 11 .2-32 .2 26 .2 0 .2-16 .2 19 .2-12 .2-1 .2 11 .2 0 .2-6 .2 12 .2-4 .2-10 .2 16 .2-14 .2-20 .2 52 .2-37 .2 15 .2-11 .2 7 .2 0 .2 10 .2 3 .2-27 .2 31 .2-14 .2 5 .2-17 .2 3 .2 4 .2 7 .2-13 .2 10 .2 6 .2-6 .2-8 .2-1 .2-4 .2 16 .2-8 .2-5 .2 10 .2 0 .2 5 .2-30 .2 35 .2-4 .2-4 .2-14 .2 2 .2-4 .2 5 .2 7 .2-28 .2 22 .2 20 .2-23 .2 4 .2 17 .2-16 .2 10 .2-10 .2 9 .2-15 .2 10 .2 11 .2-14 .2 19 .2-19 .2 7 .2 8 .2 1 .2-11 .2 0 .2-10 .2 15 .2 23 .2-33 .2 2 .2 3 .2 3 .2-13 .2 1 .2 26 .2-1 .2-7 .2-16 .2 6 .2 12 .2-13 .2 15 .2-20 .2 5 .2 7 .2 12 .2-28 .2 23 .2-28 .2 8 .2-5 .2 11 .2 3 .2-8 .2 13 .2-21 .2 8 .2 10 .2 1 .2-3 .2 5 .2 9 .2-11 .2 12 .2-2 .2-19 .2 4 .2-7 .2 5 .2 6 .2-10 .2-9 .2 12 .2 7 .2-16 .2 19 .2-12 .2 3 .2 2 .2-5 .2-2 .2 17 .2-6 .2 6 .2-2 .2-13 .2 19 .2-12 .2 5 .2 14 .2-13 .2-3 .2-1 .2 1 .2 2 .2-16 .2 11 .2-7 .2-5 .2 30 .2-11 .2-11 .2 0 .2-6 .2 15 .2-28 .2 5 .2 15 .2 9 .2-6 .2-10 .2 9 .2-3 .2 2 .2 13 .2-3 .2-5 .2-3 .2 1 .2 3 .2-4 .2 13 .2-25 .2 10 .2-12 .2 27 .2-24 .2 19 .2-1 .2-12 .2 11 .2-5 .2 2 .2-2 .2-3 .2-9 .2 28 .2-25 .2 15 .2 10 .2-21 .2 11 .2 7 .2-16 .2 11 .2-11 .2 6 .2-6 .2-1 .2 4 .2 2 .2 1 .2 5 .2 3 .2-16 .2-2 .2 7 .2-3 .2 13 .2-19 .2 19 .2-12 .2 1 .2 1 .2 6 .2-5 .2 1 .2-2 .2-4 .2 4 .2-1 .2-5 .2 32 .2-21 .2 8 .2-9 .2 8 .2-6 .2-13 .2 21 .2-29 .2 27 .2 0 .2-8 .2-2 .2 8 .2-4 .2-7 .2-12 .2 19 .2 0 .2-16 .2 5 .2-1 .2 2 .2 2 .2-2 .2 16 .2-6 .2-6 .2-4 .2-1 .2 8 .2 15 .2-8 .2-14 .2 12 .2-1 .2-4 .2 1 .2-14 .2 6 .2 17 .2-15 .2 13 .2 0 .2 5 .2-7 .2-13 .2 5 .2 7 .2-2 .2 1 .2-1 .2-5 .2 1 .2-8 .2-4 .2 17 .2 3 .2 5 .2-23 .2 13 .2-16 .2 11 .2-17 .2 30 .2-7 .2-9 .2 3 .2-2 .2 14 .2-10 .2-2 .2 8 .2-16 .2 14 .2-6 .2-1 .2 4 .2-7 .2 3 .2 12 .2-4 .2-24 .2 13 .2 17 .2-13 .2 7 .2 4 .2 0 .2-1 .2-5 .2-6 .2 2 .2 22 .2-10 .2 2 .2-18 .2 4 .2-1 .2-3 .2-4 .2 15 .2-8 .2-7 .2 6 .2 11 .2-8 .2 1 .2-13 .2 12 .2 11 .2-8 .2 3 .2-26 .2 20 .2-11 .2 9 .2-3 .2-3 .2 4 .2 1 .2 12 .2-8 .2-6 .2-6 .2 17 .2-12 .2 26 .2-5 .2 6 .2-17 .2 7 .2-23 .2 18 .2-5 .2 0 .2-7 .2 8 .2 16 .2-9 .2-5 .2 4 .2-2 .2-11 .2 11 .2 6 .2-29 .2 9 .2 29 .2-10 .2-11 .2-7 .2 12 .2-2 .2 15 .2-28 .2 9 .2 18 .2 1 .2-13 .2-6 .2 6 .2-1 .2 3 .2-5 .2 4 .2-5 .2 8 .2 3 .2-5 .2 0 .2 5 .2-7 .2 9 .2-21 .2 4 .2 17 .2-2 .2-2 .2 2 .2-9 .2 10 .2-3 .2-19 .2 8 .2 6 .2-26 .2 31 .2-4 .2-7 .2 2 .2 8 .2 2 .2-18 .2 17 .2-8 .2 1 .2-7 .2 11 .2-16 .2 12 .2 3 .2-18 .2 21 .2 5 .2 4 .2-11 .2-8 .2-4 .2 5 .2 6 .2-11 .2 9 .2 5 .2-7 .2 1 .2 0 .2 5 .2-1 .2-4 .2-9 .2 12 .2-4 .2 4 .2 6 .2-19 .2 2 .2 11 .2-9 .2-1 .2 9 .2-16 .2-1 .2 0 .2 17 .2-17 .2 7 .2-2 .2-9 .2 18 .2-7 .2 4 .2-11 .2 5 .2-8 .2-19 .2 23 .2-11 .2-2 .2 0 .2-2 .2 10 .2-19 .2 4 .2 11 .2-19 .2 4 .2 1 .2-8 .2 16 .2-16 .2 0 .2 4 .2 7 .2 3 .2-14 .2 18 .2 18 .2-11 .2-4 .2 8 .2 6 .2-1 .2-6 .2 24 .2-13 .2 0 .2 13 .2-12 .2 2 .2 1 .2-10 .2 7 .2-7 .2 4 .2-6 .2 8 .2 18 .2-24 .2 16 .2 0 .2-7 .2-12 .2 18 .2-10 .2 11 .2-12 .2-3 .2-10 .2 19 .2 5 .2 1 .2-1 .2-17 .2 13 .2 14 .2-6 .2-10 .2 11 .2 3 .2-11 .2-13 .2 1 .2 17 .2-10 .2 6 .2-12 .2 8 .2-3 .2-9 .2 19 .2 1 .2-9 .2-6 .2 3 .2 11 .2-18 .2 21 .2-11 .2 0 .2 0 .2 13 .2 1 .2-7 .2-15 .2 16 .2-9 .2-8 .2 8 .2-6 .2 15 .2 8 .2-8 .2 14 .2-18 .2 6 .2-10 .2 4 .2 8 .2 5 .2-20 .2 10 .2 6 .2-12 .2 12 .2-13 .2 9 .2 6 .2-11 .2-9 .2 14 .2-18 .2-5 .2 21 .2-4 .2 0 .2 9 .2 4 .2 13 .2-17 .2-8 .2-5 .2 10 .2-10 .2 20 .2-13 .2 8 .2-8 .2-4 .2-11 .2 8 .2 4 .2 8 .2-22 .2 32 .2-6 .2 5 .2-24 .2 10 .2-6 .2 6 .2 2 .2 4 .2 7 .2-39 .2 34 .2-8 .2-9 .2 14 .2 0 .2-1 .2-16 .2 30 .2-10 .2-25 .2 17 .2 3 .2 13 .2-8 .2 3 .2-1 .2-9 .2-22 .2 26 .2-16 .2 23 .2-12 .2-10 .2 12 .2 4 .2-19 .2 4 .2 21 .2-8 .2-21 .2 13 .2 10 .2-20 .2 2 .2 12 .2-2 .2-15 .2 8 .2 8 .2-1 .2-1 .2 9 .2-4 .2 4 .2-11 .2 4 .2 6 .2-3 .2-3 .2 10 .2 8 .2-33 .2 11 .2 2 .2 1 .2 13 .2-4 .2-5 .2 7 .2-8 .2 5 .2 0 .2-17 .2-10 .2 21 .2-1 .2 4 .2 0 .2-7 .2 18 .2-22 .2 5 .2 0 .2-8 .2 20 .2-18 .2 27 .2-27 .2 7 .2-4 .2 8 .2 7 .2-12 .2 5 .2-3 .2 1 .2-4 .2 7 .2-12 .2 21 .2-6 .2-5 .2 11 .2-15 .2-2 .2 4 .2 14 .2-20 .2 6 .2-11 .2 5 .2-1 .2-16 .2 24 .2-8 .2 8 .2 7 .2 7 .2-17 .2-4 .2 8 .2 2 .2-9 .2 7 .2-3 .2-4 .2 5 .2 17 .2-17 .2 9 .2-11 .2-7 .2 1 .2 2 .2 8 .2-5 .2 5 .2-3 .2-6 .2 11 .2 1 .2-14 .2 8 .2 1 .2 5 .2-3 .2-4 .2 0 .2 14 .2-17 .2-1 .2 8 .2-5 .2 7 .2 0 .2 4 .2-14 .2 12 .2-13 .2 9 .2 5 .2-14 .2 10 .2-12 .2 4 .2 6 .2 5 .2-13 .2 9 .2-1 .2-7 .2-5 .2 13 .2-4 .2 0 .2-2 .2 1 .2 11 .2-19 .2 16 .2 4 .2-4 .2-5 .2 17 .2-15 .2-7 .2 12 .2-13 .2 10 .2-14 .2 24 .2-25 .2 12 .2 21 .2-19 .2-17 .2 9 .2 17 .2-14 .2 20 .2-41 .2 15 .2 6 .2 6 .2 1 .2-10 .2 7 .2 13 .2-8 .2-10 .2 16 .2-13 .2 8 .2-12 .2 6 .2 3 .2-22 .2 25 .2-9 .2 16 .2-11 .2-12 .2 0 .2 15 .2-2 .2 7 .2 0 .2-21 .2 11 .2-6 .2-5 .2 6 .2 8 .2-1 .2-4 .2-7 .2 10 .2-6 .2-7 .2 4 .2-1 .2 10 .2-3 .2 2 .2-8 .2 18 .2 0 .2-22 .2 0 .2 8 .2-12 .2 8 .2-7 .2 23 .2-17 .2 7 .2 5 .2 0 .2-2 .2 8 .2 21 .2-25 .2-9 .2 5 .2-5 .2 8 .2-14 .2 17 .2 1 .2-8 .2 2 .2-6 .2-3 .2 13 .2-12 .2 17 .2-9 .2 0 .2-3 .2 7 .2-6 .2 7 .2-1 .2-3 .2-9 .2 0 .2 8 .2 7 .2-10 .2-5 .2 19 .2-16 .2 25 .2-20 .2 0 .2 7 .2-18 .2 6 .2 7 .2 6 .2 3 .2-8 .2-7 .2 9 .2-18 .2 3 .2 6 .2 13 .2-10 .2-12 .2 5 .2 19 .2-17 .2-2 .2 14 .2-8 .2 16 .2-21 .2 11 .2-13 .2 8 .2-3 .2 8 .2-2 .2-7 .2 14 .2-19 .2 12 .2-2 .2-8 .2 1 .2-2 .2 3 .2 4 .2-4 .2 3 .2 0 .2 12 .2-12 .2-7 .2 0 .2 7 .2-4 .2 8 .2-15 .2 12 .2 7 .2-2 .2-11 .2 16 .2 4 .2-8 .2-1 .2-7 .2-5 .2-1 .2 10 .2-16 .2 6 .2 10 .2 2 .2 4 .2 5 .2-10 .2-11 .2 1 .2 4 .2-12 .2-4 .2 18 .2 8 .2-13 .2-1 .2 3 .2 14 .2-4 .2 3 .2-16 .2-12 .2 19 .2-1 .2-5 .2 5 .2-5 .2 0 .2 12 .2-19 .2 26 .2-14 .2-8 .2 10 .2-5 .2 1 .2-7 .2 12 .2-11 .2 6 .2 11 .2-2 .2-1 .2-12 .2 9 .2-27 .2 8 .2 17 .2-4 .2 2 .2-20 .2 7 .2 14 .2-3 .2 2 .2 4 .2-12 .2 8 .2-10 .2-11 .2 20 .2-5 .2 3 .2-3 .2 2 .2-8 .2 12 .2-18 .2 1 .2 7 .2 3 .2-5 .2-7 .2 6 .2 6 .2-2 .2-11 .2-1 .2 5 .2 1 .2-3 .2 0 .2 4 .2 4 .2 4 .2-26 .2 5 .2 10 .2-3 .2 0 .2-3 .2-14 .2 15 .2-6 .2-10 .2 15 .2-8 .2-20 .2-9 .2 27 .2-18 .2-1 .2-3 .2-1 .2-5 .2-14 .2-8 .2 13 .2-16 .2 14 .2-20 .2-5 .2-6 .2 0 .2-14 .2-4 .2 6 .2-6 .2 9 .2-9 .2 0 .2 7 .2-4 .2 8 .2-11 .2 0 .2 4 .2 16 .2-5 .2 13 .2-1 .2 27 .2-27 .2 26 .2-20 .2 26 .2-1 .2 13 .2-22 .2 25 .2-5 .2-7 .2 11 .2 23 .2-5 .2-5 .2-8 .2 10 .2 11 .2 4 .2 6 .2-2 .2-7 .2 9 .2-9 .2 0 .2 7 .2-20 .2 11 .2 14 .2-16 .2 14 .2-4 .2 4 .2-19 .2 6 .2 11 .2-3 .2 6 .2 1 .2 5 .2-9 .2 7 .2-2 .2 6 .2 0 .2 5 .2-24 .2 13 .2 9 .2-20 .2 9 .2 0 .2 8 .2-6 .2-10 .2 4 .2-4 .2 9 .2 2 .2-8 .2-6 .2 25 .2-11 .2 5 .2-11 .2-3 .2 4 .2 8 .2 1 .2-1 .2-13 .2 2 .2 0 .2 15 .2-17 .2 7 .2 9 .2-14 .2-3 .2 15 .2-2 .2 13 .2-14 .2 16 .2-22 .2 13 .2-18 .2 8 .2 5 .2 9 .2-4 .2-7 .2-8 .2-4 .2 15 .2-8 .2 19 .2-29 .2 15 .2 1 .2-2 .2-13 .2 16 .2 0 .2 1 .2-3 .2 6 .2 3 .2-7 .2-6 .2 2 .2 8 .2-9 .2 7 .2 15 .2-24 .2 0 .2 6 .2-12 .2 11 .2 13 .2-12 .2-13 .2 24 .2-9 .2-7 .2 5 .2-2 .2 0 .2-5 .2-5 .2 26 .2-16 .2 1 .2 4 .2-4 .2 12 .2-8 .2-15 .2 3 .2-3 .2 17 .2-16 .2 10 .2 7 .2-10 .2-6 .2 10 .2 0 .2 4 .2-1 .2-10 .2 13 .2-21 .2 6 .2 8 .2-6 .2 3 .2-7 .2 3 .2 10 .2-7 .2-15 .2 7 .2 7 .2 1 .2-1 .2 0 .2 10 .2-9 .2-12 .2 16 .2-6 .2 1 .2 3 .2-12 .2 6 .2-8 .2 18 .2-15 .2 7 .2 2 .2 10 .2-11 .2-9 .2 23 .2-14 .2-12 .2 16 .2-10 .2 3 .2-5 .2 7 .2-13 .2 9 .2 12 .2 1 .2-4 .2 4 .2 1 .2-27 .2 12 .2 3 .2-21 .2 5 .2 21 .2-7 .2 1 .2 5 .2 4 .2-18 .2-6 .2 16 .2-1 .2-8 .2 2 .2 9 .2-2 .2 0 .2-21 .2 8 .2 0 .2 17 .2-5 .2-21 .2 14 .2-20 .2 12 .2-4 .2-1 .2-13 .2 11 .2-7 .2 9 .2 0 .2 16 .2-35 .2 13 .2-18 .2 7 .2 14 .2-7 .2 7 .2-27 .2 23 .2-23 .2 25 .2-10 .2-11 .2-19 .2 0 .2 20 .2-10 .2-21 .2-1 .2-6 .2 24 .2-17 .2-16 .2 3 .2-14 .2 24 .2-26 .2-13 .2 23 .2-36 .2-23 .2 3 .2-4 .2-10 .2-1 .2-47 .2 26 .2-30 .2-25 .2 7 .2-31 .2 9 .2-9 .2 0 .2 0 .2 0 .2 0 .2 0 .2 0 .2 0 .2 0 .2 0 .2 0 .2 0 .2 0 .2 0 .2 0 .2 0 .2 0 .2 0 .2 0 .2 0 .2 0 .2 0 .2 0 .2 3 .2-3 .2 0 .2 5 .2 9 .2 3 .2 14 .2 19 .2 54 .2-21 .2 27 .2 6 .2 1 .2 36 .2-7 .2 0 .2 18 .2-2 .2 6 .2-5 .2 31 .2-9 .2 15 .2 4 .2-2 .2 7 .2 7 .2-4 .2 13 .2 9 .2-24 .2 7 .2 13 .2-13 .2 14 .2-13 .2 18 .2-20 .2-2 .2 17 .2 19 .2-16 .2 24 .2-14 .2 13 .2-10 .2-17 .2 34 .2-22 .2 19 .2-16 .2-6 .2 10 .2-6 .2 20 .2-18 .2 4 .2 3 .2 11 .2-8 .2 14 .2-15 .2 3 .2 8 .2 2 .2-13 .2 4 .2 11 .2 4 .2-4 .2 7 .2-30 .2 13 .2-6 .2 4 .2 15 .2 7 .2-11 .2 3 .2 6 .2-1 .2-7 .2-9 .2 14 .2-11 .2 0 .2-13 .2 16 .2 19 .2-18 .2 4 .2 8 .2-15 .2 0 .2 7 .2 6 .2-12 .2-9 .2 16 .2-3 .2-11 .2 7 .2 4 .2 4 .2-8 .2 10 .2-4 .2-11 .2 14 .2-5 .2 9 .2 6 .2-8 .2-4 .2-5 .2 12 .2 1 .2-2 .2-7 .2 6 .2 5 .2 5 .2 7 .2-28 .2 13 .2-20 .2 20 .2-2 .2-5 .2 10 .2-7 .2 10 .2-16 .2 10 .2-11 .2-1 .2 11 .2 1 .2 14 .2-32 .2-1 .2 36 .2-25 .2 8 .2 1 .2-16 .2 5 .2 8 .2 7 .2-20 .2 20 .2-14 .2 11 .2-14 .2 22 .2-9 .2 5 .2-13 .2 19 .2-14 .2 2 .2 7 .2-11 .2-2 .2-11 .2 9 .2-1 .2 4 .2-3 .2 11 .2-12 .2 4 .2 15 .2-11 .2 9 .2-12 .2 8 .2-14 .2 15 .2 10 .2-36 .2 36 .2-6 .2-11 .2-14 .2 16 .2 4 .2-1 .2-11 .2 12 .2-23 .2 20 .2 16 .2-23 .2-2 .2 3 .2 5 .2-9 .2-1 .2 12 .2-8 .2 1 .2-2 .2 5 .2 12 .2-20 .2 14 .2-7 .2 2 .2 3 .2 8 .2-9 .2-7 .2 1 .2 7 .2-7 .2 17 .2-13 .2-13 .2 11 .2 16 .2-10 .2 1 .2-14 .2 5 .2-5 .2 17 .2-12 .2 2 .2-5 .2 16 .2-10 .2-1 .2 1 .2 8 .2-20 .2 7 .2 1 .2 17 .2-16 .2 11 .2-9 .2 11 .2-10 .2 1 .2-1 .2 6 .2-14 .2 25 .2-15 .2 0 .2-12 .2 2 .2 8 .2 9 .2-9 .2-9 .2 13 .2 3 .2-13 .2 4 .2 23 .2-17 .2-1 .2 3 .2-12 .2-18 .2 33 .2-15 .2 6 .2 11 .2-4 .2-8 .2 0 .2 1 .2 7 .2-5 .2-3 .2 6 .2 19 .2-11 .2-10 .2 0 .2-12 .2 9 .2-1 .2-7 .2 17 .2-10 .2-4 .2 1 .2 13 .2-4 .2-1 .2-9 .2 5 .2-10 .2 6 .2 2 .2 9 .2-3 .2 4 .2-12 .2-5 .2 3 .2 0 .2 10 .2-15 .2 4 .2-6 .2-4 .2-3 .2-10 .2 13 .2-1 .2 6 .2-10 .2-2 .2 17 .2-18 .2-6 .2 27 .2-7 .2-12 .2-1 .2-16 .2 27 .2-17 .2 13 .2-19 .2-6 .2 21 .2 6 .2-3 .2 7 .2-18 .2-7 .2-3 .2 2 .2 20 .2-15 .2-22 .2 28 .2-26 .2-13 .2 11 .2-23 .2 5 .2 1 .2 2 .2-20 .2 12 .2-24 .2-17 .2 1 .2-25 .2 0 .2-7 .2-18 .2-9 .2-36 .2 0 .2-38 .2 35 .2-38 .2 9 .2-17 .2 0 .2 12 .2-12 .2 0 .2 24 .2 24 .2-12 .2-19 .2 26 .2-2 .2 24 .2 25 .2 3 .2 28 .2-2 .2 11 .2 15 .2-10 .2 22 .2 25 .2 0 .2-21 .2 22 .2 7 .2 6 .2-4 .2-4 .2 23 .2-26 .2 33 .2 6 .2-9 .2 10 .2 4 .2 5 .2-6 .2-2 .2-7 .2 34 .2-27 .2 1 .2 9 .2-1 .2 7 .2 7 .2 0 .2-3 .2-12 .2 4 .2-15 .2 21 .2 4 .2-8 .2 16 .2-20 .2 12 .2-17 .2 24 .2-10 .2-5 .2 19 .2-3 .2 8 .2-18 .2 12 .2-11 .2 8 .2-5 .2-6 .2-4 .2 19 .2-19 .2 6 .2 13 .2 0 .2-1 .2 4 .2-2 .2-3 .2-1 .2 0 .2 9 .2 2 .2-17 .2 19 .2-13 .2 14 .2 4 .2-10 .2-2 .2-5 .2 4 .2 1 .2-13 .2 6 .2-7 .2 8 .2 8 .2-11 .2 21 .2-9 .2 6 .2-3 .2-8 .2-3 .2 20 .2-8 .2-13 .2 6 .2 18 .2-7 .2-9 .2 7 .2-11 .2 12 .2-7 .2-8 .2 4 .2 5 .2-10 .2 23 .2-5 .2-28 .2 7 .2 12 .2 10 .2-7 .2-5 .2 1 .2-9 .2 13 .2 1 .2-6 .2 11 .2 3 .2-7 .2-13 .2 2 .2 11 .2-2 .2 11 .2-11 .2 3 .2-8 .2 10 .2-9 .2-3 .2 10 .2-8 .2-2 .2-4 .2-2 .2 27 .2-5 .2-17 .2 10 .2-13 .2 16 .2-2 .2-14 .2 19 .2-8 .2-14 .2 12 .2 11 .2-9 .2 0 .2-8 .2 10 .2-16 .2 0 .2 6 .2 4 .2-9 .2 20 .2-13 .2 8 .2-8 .2 14 .2-20 .2 16 .2 3 .2-10 .2-1 .2 10 .2-16 .2 7 .2 3 .2-2 .2 2 .2 1 .2 3 .2-1 .2-3 .2-5 .2 7 .2 3 .2-16 .2 14 .2-3 .2 6 .2 11 .2-14 .2-10 .2 17 .2-20 .2 10 .2 1 .2-10 .2 18 .2-18 .2 25 .2-24 .2 10 .2-7 .2-6 .2 4 .2 9 .2-12 .2 14 .2 0 .2-11 .2-6 .2 12 .2-5 .2 17 .2-12 .2-5 .2-3 .2 4 .2 2 .2-6 .2 7 .2 4 .2-12 .2-2 .2 9 .2 5 .2 5 .2-7 .2 4 .2-18 .2 1 .2 12 .2-5 .2 13 .2-7 .2 11 .2-23 .2 15 .2-1 .2 4 .2 0 .2-12 .2 11 .2-2 .2-13 .2 11 .2-5 .2 2 .2-4 .2 16 .2-19 .2 5 .2-8 .2 16 .2-8 .2 0 .2 2 .2-8 .2 13 .2-10 .2 0 .2 4 .2-1 .2-6 .2 13 .2 2 .2-11 .2-1 .2 0 .2 8 .2-5 .2 2 .2 2 .2 6 .2-23 .2 22 .2-7 .2-19 .2 9 .2 5 .2 2 .2 1 .2-12 .2 6 .2-3 .2 1 .2 2 .2-3 .2-1 .2 22 .2-19 .2 2 .2-14 .2-5 .2 12 .2-4 .2-5 .2-4 .2-10 .2 0 .2 20 .2-18 .2 0 .2-2 .2 5 .2 3 .2 3 .2 6 .2-16 .2 8 .2 0 .2 4 .2-1 .2 12 .2 2 .2-14 .2 17 .2-8 .2 5 .2 7 .2-5 .2 10 .2-11 .2 14 .2 2 .2-16 .2 15 .2-11 .2 17 .2-26 .2-5 .2 24 .2-16 .2 2 .2 14 .2 10 .2-15 .2 2 .2-13 .2 21 .2-15 .2 3 .2 9 .2 11 .2-18 .2 12 .2-6 .2 8 .2-21 .2 6 .2 8 .2 3 .2 4 .2-19 .2 13 .2-16 .2 11 .2 7 .2-2 .2 7 .2-27 .2 15 .2-6 .2-2 .2 17 .2-16 .2 5 .2 7 .2-20 .2 26 .2-6 .2 3 .2 5 .2-14 .2-4 .2-2 .2 8 .2-4 .2-7 .2 13 .2-7 .2 5 .2 1 .2-9 .2 4 .2 5 .2-1 .2-3 .2-7 .2 5 .2-7 .2 22 .2 3 .2-9 .2 1 .2-5 .2-12 .2 6 .2 8 .2 2 .2-15 .2 6 .2 2 .2 15 .2-11 .2-4 .2 2 .2 2 .2 20 .2-34 .2-5 .2 19 .2-4 .2-1 .2 3 .2 1 .2 0 .2-9 .2 5 .2-6 .2 4 .2 7 .2-18 .2 8 .2 9 .2-16 .2 2 .2 5 .2-2 .2 11 .2-3 .2 7 .2-12 .2-3 .2 12 .2-10 .2 5 .2-5 .2 16 .2-19 .2-1 .2 14 .2-10 .2 5 .2-4 .2-2 .2 9 .2 1 .2-10 .2-1 .2 11 .2-14 .2-4 .2 6 .2 11 .2-6 .2 14 .2-7 .2-8 .2-6 .2 23 .2-23 .2 3 .2 9 .2-2 .2-2 .2-4 .2 9 .2-9 .2 13 .2-17 .2 16 .2-5 .2-5 .2-9 .2 13 .2-7 .2 6 .2-1 .2 0 .2 10 .2-13 .2 11 .2-16 .2-2 .2 8 .2 2 .2 8 .2-31 .2 22 .2-6 .2-7 .2 11 .2-6 .2 5 .2-2 .2-5 .2-7 .2 14 .2 3 .2-20 .2 6 .2 7 .2-5 .2 7 .2-2 .2-7 .2-4 .2 21 .2-5 .2-1 .2-15 .2 11 .2-7 .2 11 .2-8 .2 5 .2 2 .2-9 .2 23 .2-14 .2-16 .2 7 .2-5 .2 12 .2-18 .2 19 .2-19 .2 14 .2-1 .2-4 .2 3 .2 2 .2 4 .2-9 .2-3 .2 10 .2-1 .2-8 .2 11 .2-22 .2 10 .2 8 .2-2 .2-5 .2-2 .2 0 .2-10 .2 6 .2 3 .2 0 .2 7 .2-10 .2-8 .2 4 .2-12 .2 16 .2-2 .2-12 .2 5 .2-16 .2 21 .2 10 .2-31 .2 14 .2-4 .2 2 .2-3 .2 6 .2-7 .2-3 .2 15 .2-14 .2 13 .2-31 .2 5 .2-7 .2 15 .2-1 .2-6 .2-8 .2 7 .2-5 .2-2 .2 7 .2-16 .2-13 .2-12 .2 12 .2-4 .2-10 .2-7 .2 0 .2-19 .2-5 .2 25 .2-34 .2 0 .2-15 .2-19 .2 1 .2-3 .2 8 .2-41 .2-27 .2 9 .2 3 .2-35 .2-21 .2 0 .2 0 .2 0 .2 0 .2 0 .2 0 .2 0 .2 0 .2 0 .2 0 .2 0 .2 0 .2 0 .2 0 .2 0 .2 0 .2 0 .2 0 .2 0 .2 0 .2 0 .2 0 .2 0 .2 0 .2 0 .2 0 .2 0 .2 0 .2 0 .2 0 .2 0 .2 37 .2-21 .2 39 .2-1 .2 25 .2 15 .2-15 .2 27 .2 5 .2 31 .2-12 .2 25 .2-11 .2 11 .2-6 .2 21 .2 18 .2-18 .2 32 .2-20 .2 5 .2-1 .2 14 .2 3 .2-4 .2 27 .2-27 .2 15 .2 16 .2-19 .2 12 .2 4 .2 12 .2 6 .2-16 .2 2 .2-17 .2 26 .2-8 .2 11 .2-4 .2-5 .2 18 .2-13 .2 1 .2 3 .2 11 .2-1 .2-6 .2-6 .2 9 .2 2 .2-9 .2 10 .2 6 .2-14 .2 6 .2 19 .2-14 .2-2 .2-3 .2 3 .2-11 .2 20 .2 7 .2-4 .2-20 .2 22 .2-9 .2 12 .2 1 .2-17 .2 11 .2-6 .2 4 .2 14 .2-12 .2-3 .2-7 .2-3 .2 21 .2-2 .2-15 .2 14 .2-21 .2 19 .2-5 .2 9 .2-6 .2 7 .2 12 .2-10 .2 9 .2-25 .2 12 .2 2 .2 16 .2-19 .2 8 .2-4 .2-5 .2-7 .2 7 .2-4 .2 30 .2-29 .2-17 .2 33 .2-15 .2 11 .2 0 .2-9 .2-4 .2 14 .2-2 .2-20 .2 20 .2-4 .2-14 .2 13 .2 10 .2-21 .2 12 .2 4 .2-7 .2 2 .2 2 .2 5 .2-12 .2-3 .2 11 .2 3 .2-8 .2 3 .2 1 .2-3 .2 11 .2 4 .2-19 .2 0 .2 2 .2 6 .2 2 .2-12 .2 3 .2 7 .2 6 .2-3 .2 7 .2-4 .2-6 .2-11 .2 0 .2 5 .2 8 .2-1 .2-19 .2 12 .2-2 .2-7 .2 18 .2-3 .2-8 .2 10 .2-2 .2-3 .2-11 .2-8 .2 11 .2 10 .2-7 .2 9 .2-9 .2-3 .2-7 .2 16 .2 1 .2-7 .2 5 .2 2 .2 2 .2 0 .2-10 .2-1 .2 11 .2 0 .2-25 .2 11 .2 9 .2-13 .2 9 .2-10 .2-1 .2-5 .2 5 .2-10 .2-15 .2 31 .2-18 .2 4 .2 6 .2-8 .2-10 .2 3 .2-12 .2 12 .2-3 .2-20 .2 2 .2 1 .2 6 .2-15 .2-12 .2 4 .2 7 .2-15 .2-7 .2-1 .2 0 .2 4 .2-5 .2-1 .2 3 .2-3 .2 0 .2 0 .2 16 .2-13 .2 23 .2 2 .2 19 .2-16 .2-8 .2 23 .2 3 .2 12 .2-21 .2 23 .2-4 .2-2 .2-1 .2 0 .2 13 .2-3 .2-9 .2 17 .2 1 .2 7 .2-10 .2 7 .2 0 .2-2 .2 2 .2 0 .2 11 .2-16 .2 12 .2-6 .2 6 .2 4 .2 5 .2 5 .2-24 .2 2 .2 13 .2-13 .2 6 .2 5 .2-6 .2 2 .2 12 .2-18 .2 8 .2 10 .2-12 .2 15 .2-6 .2-4 .2-4 .2-1 .2 14 .2-4 .2-9 .2 2 .2 2 .2 12 .2-15 .2 7 .2 11 .2-12 .2-4 .2 3 .2 13 .2-26 .2 9 .2-10 .2 18 .2-16 .2-2 .2 12 .2 14 .2-20 .2 13 .2 14 .2-22 .2-4 .2 7 .2 10 .2-8 .2-8 .2 17 .2-10 .2 2 .2 8 .2 0 .2-13 .2 6 .2-2 .2-5 .2 8 .2-5 .2-7 .2-1 .2 16 .2-11 .2-5 .2 14 .2 2 .2-1 .2-3 .2 8 .2-16 .2 8 .2-6 .2 10 .2-9 .2-2 .2 14 .2-10 .2 8 .2-1 .2-2 .2-9 .2 15 .2-16 .2 7 .2 4 .2-19 .2 19 .2-19 .2 9 .2 3 .2-5 .2 9 .2 0 .2-12 .2-1 .2 9 .2-3 .2 9 .2-24 .2 3 .2-8 .2 10 .2 14 .2-1 .2-22 .2 13 .2 5 .2-9 .2-5 .2 11 .2 1 .2-2 .2 0 .2-5 .2 0 .2 12 .2-4 .2 4 .2-15 .2 11 .2-8 .2-11 .2 11 .2 10 .2-14 .2-6 .2 12 .2-18 .2 20 .2-19 .2 6 .2 11 .2-3 .2-12 .2-10 .2 15 .2-25 .2 16 .2 1 .2-9 .2-10 .2 13 .2-14 .2 8 .2-33 .2 4 .2 1 .2 4 .2-10 .2-12 .2-24 .2 22 .2-30 .2-8 .2 17 .2 1 .2-7 .2-13 .2-7 .2-5 .2 8 .2-8 .2 18 .2 5 .2-23 .2 14 .2-9 .2 9 .2 6 .2 31 .2-5 .2 21 .2 3 .2-4 .2-7 .2 25 .2-6 .2 17 .2 1 .2-14 .2 8 .2 13 .2 8 .2-17 .2 14 .2-14 .2 18 .2 6 .2 7 .2 3 .2 5 .2-9 .2 12 .2-19 .2 21 .2 6 .2-12 .2-9 .2 23 .2-11 .2-13 .2 8 .2-4 .2 17 .2-4 .2-25 .2 23 .2 0 .2-4 .2 8 .2-4 .2 7 .2-5 .2-10 .2 14 .2 4 .2-22 .2 0 .2 10 .2 2 .2-3 .2 3 .2-1 .2 10 .2-1 .2-14 .2 17 .2-26 .2 21 .2-4 .2 2 .2-1 .2 4 .2-1 .2 2 .2-2 .2-1 .2-16 .2 17 .2 0 .2-16 .2 27 .2-18 .2-1 .2-1 .2-2 .2 18 .2-5 .2-8 .2-2 .2 24 .2-9 .2-23 .2 25 .2-11 .2 1 .2 8 .2-13 .2 2 .2 6 .2 18 .2-18 .2-4 .2 5 .2 7 .2-7 .2 14 .2 6 .2-25 .2 9 .2 6 .2-14 .2 17 .2-24 .2 12 .2-4 .2 15 .2-23 .2 8 .2 3 .2-18 .2 18 .2-4 .2-4 .2-8 .2 14 .2 2 .2 0 .2 10 .2-13 .2-5 .2-1 .2 2 .2 15 .2-10 .2 2 .2-5 .2 0 .2 0 .2 6 .2 7 .2-10 .2 1 .2-1 .2-5 .2 1 .2 13 .2-10 .2 7 .2-6 .2 3 .2 6 .2-12 .2 11 .2-16 .2 0 .2-2 .2 3 .2 9 .2-5 .2 3 .2-8 .2 12 .2-4 .2-7 .2 18 .2-18 .2 3 .2-3 .2 5 .2-1 .2 5 .2-16 .2 6 .2-5 .2 4 .2 11 .2-6 .2 7 .2 1 .2-4 .2-8 .2 14 .2-9 .2 1 .2-2 .2 2 .2-9 .2 1 .2 16 .2-12 .2 8 .2-8 .2 3 .2 1 .2-2 .2 0 .2-2 .2-6 .2 11 .2 1 .2-12 .2 9 .2-5 .2 9 .2-18 .2 7 .2 8 .2 0 .2 11 .2 2 .2-12 .2 3 .2 3 .2-31 .2 17 .2 12 .2-12 .2 18 .2 3 .2-12 .2 3 .2-14 .2 24 .2-8 .2-18 .2-2 .2 23 .2-28 .2 17 .2 12 .2 0 .2-16 .2 6 .2-6 .2-2 .2 9 .2-24 .2 28 .2 2 .2-12 .2-3 .2 13 .2 0 .2 5 .2-15 .2 0 .2 7 .2 1 .2 2 .2-10 .2 11 .2-10 .2 10 .2-6 .2 5 .2 2 .2-8 .2 1 .2 3 .2-7 .2 1 .2 0 .2 0 .2-2 .2 8 .2-1 .2-15 .2 5 .2 2 .2 11 .2-10 .2 6 .2-10 .2 14 .2-9 .2-3 .2-2 .2 5 .2-13 .2 2 .2-2 .2 7 .2-3 .2 17 .2-21 .2 8 .2-1 .2-2 .2-8 .2 7 .2 11 .2-14 .2-6 .2 12 .2 0 .2-7 .2 3 .2 8 .2-11 .2 24 .2-19 .2-5 .2 8 .2-11 .2-16 .2 15 .2 4 .2 3 .2-3 .2-9 .2 9 .2-2 .2 4 .2-11 .2 12 .2-19 .2 17 .2-12 .2-15 .2 28 .2-7 .2 5 .2-8 .2-2 .2-4 .2 3 .2 6 .2-4 .2 10 .2-20 .2 0 .2-6 .2 5 .2-4 .2 5 .2-14 .2 4 .2 6 .2-4 .2 11 .2-24 .2 1 .2 4 .2-10 .2-7 .2 21 .2-16 .2-19 .2 8 .2 1 .2 9 .2-34 .2 14 .2-12 .2-3 .2 8 .2-8 .2-6 .2-8 .2-29 .2 7 .2-21 .2-15 .2 8 .2 1 .2-22 .2-12 .2-4 .2-34 .2 0 .2-38 .2 0 .2 0 .2 0 .2 0 .2 0 .2 0 .2 0 .2 0 .2 0 .2 0 .2 0 .2 0 .2 0 .2 0 .2 0 .2 0 .2 0 .2 0 .2 0 .2 0 .2 0 .2 0 .2 0 .2 0 .2 0 .2 0 .2 0 .2 0 .2 14 .2 34 .2-4 .2 14 .2 1 .2 10 .2 32 .2 10 .2-11 .2 30 .2 4 .2 15 .2-1 .2-1 .2 18 .2 26 .2-21 .2 25 .2 1 .2 5 .2-19 .2 27 .2 6 .2-23 .2 22 .2-17 .2 11 .2 8 .2 3 .2 10 .2-7 .2 3 .2 15 .2-16 .2 8 .2-1 .2 8 .2 1 .2-5 .2-8 .2 10 .2 10 .2-7 .2-7 .2-5 .2 14 .2-6 .2 17 .2-14 .2 1 .2-3 .2 10 .2-11 .2 9 .2 7 .2-6 .2 4 .2-5 .2 14 .2-4 .2 2 .2 8 .2-2 .2 7 .2-16 .2 1 .2 3 .2 7 .2 1 .2-2 .2 2 .2-4 .2 14 .2-1 .2-11 .2-5 .2 5 .2-9 .2 6 .2-9 .2 3 .2 2 .2 1 .2-2 .2 16 .2-10 .2-13 .2 18 .2 13 .2-11 .2-7 .2 12 .2-3 .2 6 .2 5 .2-21 .2-4 .2 13 .2-6 .2 1 .2 11 .2-4 .2-9 .2-11 .2 23 .2-10 .2 5 .2 2 .2-6 .2-4 .2 4 .2-7 .2 12 .2 0 .2-2 .2-16 .2 12 .2 9 .2 8 .2-11 .2-14 .2 9 .2-6 .2-6 .2 18 .2-5 .2 2 .2 20 .2-13 .2-13 .2 0 .2 14 .2-9 .2 10 .2-16 .2 7 .2 8 .2-13 .2 1 .2 16 .2 7 .2-12 .2-8 .2 4 .2-3 .2 12 .2-14 .2 17 .2-13 .2 14 .2-9 .2 0 .2-5 .2-6 .2 22 .2-11 .2 1 .2 9 .2 0 .2-6 .2 2 .2 3 .2-9 .2 16 .2-20 .2 5 .2-7 .2 18 .2 1 .2-4 .2-8 .2 8 .2-9 .2 5 .2 11 .2-19 .2 4 .2 5 .2 0 .2-17 .2 12 .2-8 .2 26 .2-15 .2 0 .2-1 .2-5 .2-6 .2 9 .2 10 .2-15 .2-5 .2 4 .2 8 .2 2 .2-2 .2-7 .2 13 .2-9 .2 7 .2 3 .2-1 .2-2 .2 1 .2-13 .2 12 .2-1 .2-9 .2-7 .2 13 .2-2 .2-4 .2 4 .2-7 .2 8 .2-3 .2-13 .2 14 .2 13 .2-12 .2 4 .2 1 .2 3 .2 1 .2-12 .2-1 .2 10 .2 5 .2-20 .2-7 .2 6 .2 15 .2-10 .2-7 .2 15 .2-11 .2 13 .2-13 .2 15 .2-15 .2 1 .2-4 .2 12 .2-4 .2-7 .2 3 .2 7 .2-7 .2 22 .2-6 .2 7 .2-18 .2 18 .2-14 .2 0 .2-2 .2 7 .2 5 .2-8 .2-8 .2-2 .2 8 .2 2 .2 7 .2-9 .2-4 .2 23 .2-14 .2 14 .2-14 .2-15 .2 24 .2-26 .2 28 .2-12 .2-10 .2 10 .2 5 .2-1 .2 5 .2-19 .2 4 .2 13 .2-19 .2-5 .2 15 .2-2 .2-10 .2 11 .2 3 .2 6 .2-9 .2-14 .2 30 .2-12 .2-1 .2-12 .2 9 .2-13 .2 11 .2 6 .2-9 .2 2 .2 12 .2-15 .2 3 .2-8 .2 12 .2 2 .2-10 .2-14 .2 32 .2-22 .2-2 .2-11 .2-6 .2 31 .2-24 .2 9 .2-7 .2 11 .2-8 .2-4 .2 19 .2-13 .2 9 .2-9 .2 2 .2 0 .2-3 .2 0 .2 7 .2-8 .2 4 .2-10 .2 10 .2-4 .2-5 .2-4 .2 10 .2-6 .2-7 .2-1 .2 5 .2-5 .2 9 .2-21 .2 0 .2 3 .2-11 .2-14 .2-3 .2 0 .2 6 .2-16 .2-17 .2 1 .2-8 .2 9 .2-21 .2 0 .2 12 .2-38 .2 1 .2-1 .2 0 .2 1 .2-1 .2 6 .2 17 .2 2 .2-1 .2 0 .2 2 .2 0 .2 9 .2-1 .2 24 .2-14 .2 25 .2 2 .2-1 .2 10 .2 5 .2 2 .2-5 .2 5 .2 18 .2 0 .2 13 .2 2 .2-15 .2 0 .2 14 .2 4 .2-6 .2-6 .2-4 .2-1 .2 10 .2 9 .2 7 .2 5 .2 5 .2-22 .2 6 .2 9 .2-5 .2-10 .2 20 .2-15 .2 1 .2 6 .2 13 .2-11 .2 0 .2 0 .2-7 .2 20 .2-7 .2-3 .2-8 .2 8 .2 7 .2-14 .2 2 .2 10 .2 4 .2-1 .2-11 .2 1 .2 0 .2 6 .2 0 .2 4 .2-9 .2 13 .2-12 .2 0 .2 13 .2-13 .2 1 .2 12 .2-3 .2 3 .2 0 .2-5 .2-4 .2 6 .2-2 .2 4 .2-10 .2-6 .2 4 .2 2 .2-3 .2 8 .2-6 .2 11 .2-12 .2 11 .2-17 .2 4 .2 7 .2-1 .2 8 .2-19 .2 10 .2 4 .2-8 .2 5 .2-2 .2-5 .2 10 .2-12 .2 15 .2-4 .2 0 .2-3 .2 21 .2-32 .2 10 .2-6 .2 10 .2 1 .2-8 .2 8 .2-4 .2-6 .2 12 .2-7 .2-13 .2 18 .2-1 .2-10 .2 10 .2-2 .2 1 .2-3 .2-2 .2 3 .2-16 .2 22 .2-18 .2 17 .2-5 .2 5 .2 0 .2-1 .2-8 .2 5 .2 11 .2-3 .2 3 .2-17 .2 10 .2 5 .2-9 .2 3 .2 5 .2-11 .2 5 .2 5 .2-13 .2-8 .2 16 .2-2 .2-5 .2 32 .2-20 .2-10 .2-8 .2 16 .2 3 .2-8 .2-1 .2 10 .2-7 .2 4 .2-13 .2 3 .2-8 .2 0 .2 11 .2-13 .2 1 .2 0 .2 5 .2-8 .2-1 .2 1 .2 0 .2 0 .2 2 .2-7 .2 11 .2-11 .2 0 .2 0 .2 8 .2-8 .2 7 .2 3 .2-10 .2 2 .2 3 .2 8 .2-12 .2 0 .2 6 .2 9 .2-2 .2-9 .2 10 .2-3 .2-6 .2 18 .2-8 .2 1 .2 6 .2-10 .2 3 .2 7 .2 6 .2-13 .2 16 .2-19 .2 6 .2 6 .2-8 .2 0 .2 9 .2-2 .2 0 .2 7 .2-11 .2 2 .2 5 .2-4 .2-9 .2 10 .2-6 .2 0 .2 7 .2 2 .2-3 .2 3 .2-14 .2 22 .2-13 .2 2 .2 8 .2-3 .2-13 .2-1 .2 14 .2-8 .2 3 .2-3 .2-1 .2 0 .2 0 .2 4 .2 8 .2-9 .2-11 .2 5 .2 5 .2-3 .2 13 .2-23 .2 18 .2-12 .2 11 .2-16 .2 10 .2 3 .2 0 .2 1 .2-8 .2 17 .2-13 .2 14 .2-12 .2-9 .2 3 .2 7 .2 0 .2-12 .2 6 .2-12 .2 7 .2 8 .2 5 .2-12 .2 15 .2-6 .2-12 .2 1 .2 14 .2-7 .2-2 .2 3 .2-8 .2 14 .2-11 .2 3 .2-6 .2 3 .2 1 .2 4 .2-2 .2 0 .2 2 .2-4 .2-4 .2 4 .2 1 .2-1 .2-6 .2-3 .2 10 .2 5 .2-1 .2 2 .2-1 .2-7 .2 2 .2-8 .2 2 .2-3 .2-5 .2 5 .2 3 .2-2 .2 9 .2-16 .2-5 .2 21 .2-14 .2-7 .2-2 .2-4 .2-13 .2 10 .2-3 .2-2 .2-1 .2-9 .2 13 .2-10 .2-7 .2 2 .2 0 .2 1 .2-11 .2-8 .2-5 .2 12 .2-9 .2 4 .2-5 .2 1 .2 1 .2 2 .2-7 .2 3 .2 25 .2-22 .2 11 .2-6 .2 12 .2 5 .2-10 .2 6 .2 16 .2-4 .2 4 .2 8 .2 9 .2-12 .2-4 .2 14 .2-4 .2 2 .2-1 .2-6 .2 18 .2-10 .2 10 .2 3 .2-15 .2 12 .2 5 .2-2 .2 1 .2 7 .2-7 .2-4 .2 0 .2-2 .2 5 .2-1 .2-2 .2 13 .2-9 .2 6 .2-2 .2-1 .2 5 .2-10 .2 3 .2 4 .2-2 .2 0 .2 7 .2-2 .2 0 .2-12 .2 11 .2 0 .2 10 .2-12 .2 1 .2 0 .2-2 .2-4 .2 13 .2-2 .2-17 .2 7 .2 12 .2-6 .2 2 .2 3 .2-1 .2-5 .2 11 .2-13 .2-5 .2 6 .2 13 .2-12 .2 0 .2 3 .2 1 .2 1 .2-5 .2 4 .2 9 .2-6 .2-1 .2-13 .2 11 .2 4 .2-3 .2 12 .2-11 .2-5 .2 4 .2 11 .2-19 .2 7 .2 7 .2-3 .2 3 .2-15 .2 8 .2 7 .2-10 .2 1 .2 17 .2-15 .2 4 .2 8 .2-5 .2-3 .2-1 .2 1 .2-6 .2 3 .2 0 .2 7 .2-11 .2-10 .2 20 .2 3 .2-16 .2 0 .2 8 .2-4 .2 4 .2 6 .2-1 .2-3 .2-8 .2 4 .2-2 .2 8 .2 4 .2-10 .2 8 .2 0 .2-2 .2-10 .2 0 .2 5 .2 4 .2-7 .2 0 .2 15 .2-11 .2 13 .2-16 .2 0 .2 5 .2-3 .2-10 .2 24 .2-14 .2 17 .2-27 .2 12 .2 1 .2 8 .2-1 .2-13 .2-2 .2 6 .2 0 .2 2 .2-21 .2 18 .2 3 .2-10 .2 7 .2-3 .2-4 .2 3 .2 2 .2 3 .2 0 .2-2 .2 1 .2 1 .2-1 .2-3 .2 7 .2-14 .2 19 .2-8 .2-11 .2 9 .2 3 .2-1 .2-1 .2-1 .2-1 .2-4 .2-3 .2 14 .2-2 .2-5 .2 10 .2-14 .2 18 .2-17 .2 12 .2-4 .2-13 .2 9 .2-2 .2-7 .2-1 .2-5 .2 11 .2 0 .2 0 .2-14 .2 9 .2-1 .2-1 .2-13 .2 5 .2-5 .2-10 .2 15 .2-6 .2-6 .2 3 .2-6 .2 6 .2-8 .2 3 .2-3 .2 0 .2 4 .2 8 .2-12 .2 5 .2 6 .2 0 .2-11 .2 16 .2 6 .2-13 .2 14 .2 0 .2-10 .2 14 .2 2 .2-3 .2-10 .2 15 .2-3 .2 2 .2-11 .2 6 .2 1 .2 0 .2 9 .2-2 .2-10 .2 4 .2-10 .2 0 .2 8 .2 10 .2-10 .2-6 .2 13 .2 0 .2 4 .2-12 .2 10 .2-6 .2-3 .2 7 .2-1 .2 2 .2 17 .2-17 .2 6 .2-7 .2-10 .2 16 .2-6 .2 1 .2 1 .2-11 .2 7 .2 5 .2-6 .2-8 .2 20 .2-7 .2-8 .2 14 .2-10 .2-10 .2 7 .2 5 .2-4 .2 15 .2-19 .2 9 .2-8 .2-2 .2 6 .2-5 .2-3 .2 6 .2-9 .2 7 .2-17 .2 9 .2-3 .2-5 .2 13 .2-9 .2-2 .2-24 .2 12 .2 9 .2-20 .2-2 .2 6 .2-14 .2 7 .2-1 .2-11 .2-11 .2 12 .2 6 .2-12 .2-2 .2-8 .2 0 .2 0 .2 4 .2-4 .2 18 .2-8 .2-6 .2 19 .2-9 .2 25 .2-8 .2-4 .2 19 .2-9 .2 5 .2 10 .2 5 .2-9 .2 9 .2 2 .2-6 .2 11 .2-4 .2 0 .2 6 .2-7 .2 9 .2 2 .2-4 .2 16 .2-8 .2 6 .2-5 .2-2 .2-10 .2 18 .2-7 .2 3 .2-1 .2 7 .2-15 .2 9 .2 4 .2-3 .2 2 .2-9 .2 7 .2-5 .2 12 .2-5 .2 3 .2-2 .2-2 .2 0 .2-2 .2 9 .2-18 .2 7 .2 22 .2-17 .2 7 .2-16 .2 13 .2-1 .2-11 .2 10 .2-4 .2-6 .2 12 .2-5 .2-10 .2 23 .2-9 .2-5 .2-1 .2-5 .2 4 .2 13 .2-3 .2-15 .2 7 .2 0 .2 2 .2 9 .2-9 .2-3 .2 3 .2 12 .2-13 .2 4 .2 8 .2-13 .2 4 .2 3 .2-7 .2 5 .2-10 .2 17 .2-14 .2-1 .2 3 .2 10 .2-6 .2-4 .2 6 .2-4 .2 11 .2-6 .2 6 .2-8 .2 5 .2-6 .2-3 .2 7 .2-7 .2 9 .2-8 .2-4 .2 14 .2-7 .2 1 .2-4 .2 0 .2-6 .2 13 .2 1 .2-3 .2 0 .2-7 .2-5 .2 8 .2-9 .2 17 .2 0 .2-6 .2-4 .2 10 .2-5 .2-8 .2 21 .2-32 .2 19 .2 0 .2 3 .2 4 .2 2 .2-7 .2-11 .2 18 .2-10 .2 5 .2-4 .2 0 .2-11 .2 9 .2-2 .2 13 .2-4 .2 0 .2-6 .2 1 .2-1 .2 2 .2 3 .2-4 .2-5 .2-1 .2 9 .2-5 .2 5 .2-7 .2-1 .2 15 .2-6 .2 0 .2-1 .2 1 .2-4 .2 4 .2-1 .2 0 .2-7 .2 0 .2 9 .2-4 .2-6 .2 1 .2 16 .2-19 .2 4 .2 2 .2 4 .2 1 .2 4 .2 1 .2-5 .2-6 .2-2 .2-3 .2 9 .2-3 .2-2 .2 1 .2 3 .2 11 .2-7 .2-1 .2 2 .2-11 .2 8 .2 1 .2-25 .2 24 .2-1 .2-12 .2 10 .2-7 .2 8 .2 0 .2 3 .2-3 .2-7 .2-9 .2 9 .2 5 .2 2 .2-3 .2 5 .2-1 .2 0 .2-9 .2 4 .2 1 .2 5 .2-10 .2-1 .2-1 .2 22 .2-16 .2 2 .2 20 .2-20 .2 2 .2 0 .2-3 .2 0 .2 4 .2-9 .2 2 .2 12 .2-19 .2 9 .2 3 .2 6 .2-3 .2 4 .2-13 .2 2 .2 14 .2-12 .2 2 .2-4 .2-1 .2 4 .2 1 .2-2 .2 1 .2 0 .2 3 .2-3 .2 6 .2-7 .2 6 .2-12 .2 3 .2 13 .2-13 .2 7 .2 3 .2-17 .2 2 .2 6 .2 7 .2-5 .2 0 .2 4 .2 8 .2 2 .2-5 .2-4 .2-3 .2 3 .2 7 .2-17 .2 10 .2 6 .2-7 .2-2 .2 3 .2-9 .2 1 .2 2 .2 9 .2-8 .2-1 .2 2 .2-4 .2 5 .2 5 .2-8 .2 7 .2-6 .2-7 .2 4 .2-4 .2 4 .2 6 .2 8 .2-7 .2-9 .2 7 .2 2 .2 1 .2-5 .2 8 .2 1 .2-7 .2 4 .2 3 .2-1 .2-10 .2 1 .2-5 .2 6 .2-3 .2 5 .2-4 .2 2 .2-4 .2 4 .2 7 .2-4 .2 2 .2-5 .2 1 .2-5 .2 0 .2 13 .2-5 .2 5 .2-10 .2 2 .2-6 .2 6 .2-6 .2 3 .2-2 .2-9 .2 1 .2 12 .2-1 .2-3 .2 10 .2-17 .2 17 .2 8 .2-13 .2-4 .2 4 .2 5 .2-13 .2 4 .2-2 .2 16 .2-14 .2 7 .2-7 .2 14 .2-12 .2-4 .2 14 .2 1 .2-10 .2 0 .2-10 .2 5 .2-10 .2 19 .2-13 .2 5 .2 4 .2-5 .2 9 .2 0 .2-9 .2 16 .2-15 .2 9 .2 7 .2-12 .2-9 .2 6 .2 0 .2-5 .2-4 .2 19 .2-1 .2-5 .2-14 .2 11 .2-7 .2 3 .2 2 .2 4 .2 13 .2-19 .2 1 .2-7 .2 17 .2-6 .2 2 .2-11 .2 6 .2 18 .2-20 .2 5 .2-1 .2-2 .2-14 .2 8 .2 10 .2 9 .2 2 .2 3 .2-12 .2 13 .2-11 .2 3 .2 4 .2-7 .2 3 .2 0 .2 1 .2-5 .2-7 .2-3 .2 1 .2 2 .2 1 .2-3 .2 6 .2 6 .2 4 .2-7 .2-3 .2 7 .2-6 .2-7 .2 8 .2 11 .2-14 .2-1 .2 1 .2-3 .2 3 .2 1 .2 5 .2 2 .2 3 .2-6 .2-7 .2 1 .2 14 .2-15 .2 4 .2 5 .2 9 .2-22 .2 4 .2 4 .2-10 .2 11 .2 0 .2 2 .2-11 .2 6 .2 3 .2 2 .2-10 .2 0 .2 14 .2-4 .2-2 .2 0 .2 0 .2-4 .2 4 .2 3 .2 2 .2-14 .2 4 .2 4 .2-5 .2 0 .2 14 .2-3 .2-6 .2 5 .2-7 .2-1 .2 3 .2-1 .2-5 .2 10 .2-1 .2 0 .2 1 .2 4 .2-14 .2-3 .2 3 .2-5 .2 8 .2 8 .2 4 .2-15 .2 13 .2-5 .2-7 .2 7 .2-11 .2 9 .2-2 .2 0 .2-1 .2-1 .2 2 .2 10 .2-6 .2 3 .2-10 .2-7 .2 14 .2-6 .2 9 .2 1 .2 2 .2-8 .2-3 .2 6 .2 2 .2-5 .2-3 .2 0 .2-3 .2 1 .2 2 .2 11 .2-1 .2 3 .2-10 .2 2 .2-2 .2-9 .2 7 .2 11 .2-12 .2-8 .2 14 .2-7 .2 7 .2-9 .2 10 .2 0 .2-15 .2 12 .2-7 .2-1 .2 8 .2-10 .2 15 .2-20 .2 1 .2 3 .2 14 .2-13 .2-3 .2 2 .2-5 .2 1 .2 5 .2 8 .2-14 .2 8 .2 9 .2 2 .2-15 .2 5 .2-2 .2 3 .2-4 .2 2 .2-10 .2 20 .2-3 .2 5 .2-12 .2 2 .2-4 .2-6 .2-10 .2 16 .2-4 .2 0 .2 13 .2-19 .2 3 .2 3 .2 4 .2-8 .2 5 .2 18 .2-14 .2 4 .2-12 .2-1 .2-5 .2 5 .2 2 .2-8 .2 7 .2-18 .2 2 .2 4 .2 12 .2-10 .2 4 .2-11 .2 6 .2 3 .2 9 .2-7 .2-13 .2-4 .2-3 .2-2 .2 5 .2-9 .2 5 .2-13 .2 8 .2-6 .2-16 .2 3 .2-5 .2 12 .2-25 .2 8 .2 1 .2-12 .2-12 .2 14 .2 5 .2-14 .2-20 .2 1 .2-1 .2 0 .2 0 .2 10 .2-10 .2 8 .2-8 .2 0 .2 7 .2 0 .2-7 .2 5 .2 8 .2 4 .2-4 .2 5 .2 16 .2 5 .2-6 .2 11 .2-1 .2 13 .2-8 .2 13 .2 12 .2 3 .2-28 .2 22 .2-6 .2 10 .2 8 .2-1 .2 6 .2-8 .2-5 .2 14 .2 7 .2-9 .2 11 .2 2 .2-8 .2 4 .2 4 .2-1 .2 2 .2-3 .2 3 .2-1 .2 4 .2-10 .2-2 .2 13 .2-6 .2 10 .2-12 .2 11 .2 9 .2-5 .2-3 .2 0 .2-10 .2 9 .2 7 .2-8 .2-1 .2-7 .2 11 .2-3 .2 2 .2 3 .2-3 .2-3 .2-6 .2-3 .2 16 .2 2 .2 11 .2-15 .2-11 .2 8 .2-10 .2 11 .2 1 .2-5 .2 9 .2-6 .2 4 .2-2 .2 1 .2-8 .2 6 .2 3 .2-2 .2 3 .2 10 .2-18 .2 4 .2 3 .2-2 .2-12 .2 13 .2 1 .2-4 .2 14 .2-6 .2-9 .2 10 .2-4 .2 7 .2-16 .2-6 .2 9 .2-3 .2 2 .2 3 .2-8 .2 9 .2 2 .2 2 .2-5 .2 0 .2 3 .2-1 .2-7 .2-6 .2 18 .2-21 .2 9 .2 10 .2-15 .2 11 .2 5 .2-11 .2 9 .2-11 .2 1 .2 16 .2-4 .2-15 .2 3 .2-3 .2-11 .2 12 .2-4 .2 6 .2-5 .2 0 .2-16 .2 14 .2 3 .2-8 .2-6 .2 6 .2 3 .2-4 .2-12 .2 8 .2-12 .2 16 .2-18 .2-10 .2 2 .2-1 .2-1 .2-15 .2 8 .2-12 .2 1 .2 4 .2-3 .2-14 .2 0 .2 0 .2 0 .2 0 .2 0 .2 3 .2-3 .2 23 .2-23 .2 1 .2 7 .2 1 .2-8 .2 3 .2-4 .2 22 .2 4 .2-6 .2 9 .2-5 .2 14 .2-6 .2 3 .2 3 .2 10 .2-13 .2 28 .2-9 .2-2 .2 5 .2 12 .2-6 .2-6 .2 14 .2-14 .2 4 .2-2 .2 6 .2-16 .2 18 .2-4 .2 6 .2-12 .2 10 .2 7 .2-10 .2-6 .2 7 .2 6 .2 4 .2-11 .2 12 .2-14 .2 13 .2 0 .2-3 .2 10 .2-6 .2-7 .2 2 .2 9 .2-22 .2 17 .2-9 .2 4 .2 0 .2-3 .2 14 .2-11 .2 0 .2-3 .2 5 .2-4 .2 0 .2-2 .2 6 .2-1 .2-14 .2 3 .2 10 .2-6 .2 1 .2-6 .2 5 .2-6 .2-2 .2-13 .2-1 .2 11 .2 13 .2-12 .2-5 .2 1 .2 1 .2-9 .2-6 .2-4 .2 0 .2-6 .2-5 .2 8 .2-22 .2-1 .2 11 .2-5 .2-3 .2 0 .2-2 .2 4 .2-11 .2 1 .2-1 .2 9 .2-1 .2 1 .2-9 .2 15 .2-15 .2 18 .2-3 .2-4 .2 5 .2 21 .2-13 .2 9 .2 2 .2 19 .2-11 .2-8 .2 7 .2 3 .2 9 .2-2 .2 17 .2-14 .2 2 .2 5 .2 0 .2 3 .2-2 .2-9 .2 3 .2 15 .2-5 .2-13 .2 28 .2-14 .2 14 .2-6 .2 3 .2-8 .2 0 .2 0 .2 7 .2-3 .2 2 .2 6 .2-10 .2 2 .2-1 .2 3 .2-11 .2 12 .2-5 .2 6 .2 1 .2-4 .2 3 .2-7 .2-5 .2 19 .2-3 .2 1 .2 0 .2-12 .2 14 .2-11 .2 4 .2-4 .2 6 .2-3 .2 11 .2-11 .2 2 .2 7 .2-14 .2 8 .2-14 .2 14 .2 0 .2 2 .2-10 .2 10 .2 1 .2-9 .2 6 .2 4 .2 1 .2-2 .2 9 .2-9 .2 0 .2 1 .2-9 .2 2 .2-1 .2 1 .2 10 .2-2 .2 1 .2 8 .2-8 .2-12 .2 7 .2 2 .2-5 .2 10 .2-8 .2 9 .2-1 .2-11 .2 8 .2-2 .2 10 .2-12 .2-1 .2 11 .2-3 .2 0 .2-15 .2 12 .2 2 .2-16 .2 9 .2-1 .2-6 .2 6 .2-4 .2 4 .2 2 .2-1 .2 3 .2-3 .2-1 .2 1 .2 3 .2-2 .2 0 .2 2 .2-1 .2-8 .2 10 .2-3 .2-7 .2 8 .2-5 .2 12 .2-11 .2 13 .2-6 .2-2 .2 0 .2 5 .2-2 .2-9 .2-7 .2-2 .2 15 .2 2 .2 4 .2 1 .2-2 .2-3 .2 0 .2-1 .2 4 .2-7 .2 8 .2 2 .2-12 .2 8 .2-6 .2 7 .2-12 .2 12 .2-7 .2 0 .2-2 .2-1 .2 18 .2-15 .2 9 .2-17 .2 11 .2-2 .2 6 .2-11 .2 14 .2-16 .2 13 .2-2 .2-6 .2 3 .2 20 .2-27 .2 12 .2-14 .2 14 .2-4 .2 2 .2 0 .2 7 .2-11 .2 10 .2-6 .2 5 .2 2 .2 0 .2-3 .2-22 .2 28 .2-12 .2 5 .2 2 .2-8 .2 2 .2-9 .2 5 .2 2 .2 3 .2-9 .2 14 .2-1 .2-14 .2 2 .2 16 .2-8 .2 1 .2 1 .2-2 .2-12 .2 13 .2-4 .2 3 .2 7 .2-12 .2-3 .2 18 .2-19 .2-10 .2 16 .2 4 .2-1 .2 2 .2 3 .2 4 .2-6 .2-1 .2-10 .2 0 .2-4 .2 3 .2 2 .2-4 .2 13 .2-7 .2 7 .2 7 .2-10 .2-2 .2-4 .2-2 .2-6 .2 6 .2 4 .2-1 .2 9 .2-8 .2 2 .2-11 .2 7 .2-6 .2-6 .2-7 .2 6 .2 16 .2-5 .2-13 .2 7 .2-4 .2 1 .2-1 .2-3 .2-7 .2 2 .2-4 .2 10 .2-8 .2-4 .2 1 .2 6 .2-7 .2 1 .2 0 .2 4 .2-5 .2 13 .2-10 .2 2 .2 1 .2 8 .2-14 .2 17 .2-13 .2-3 .2 10 .2-4 .2 16 .2-11 .2 11 .2-1 .2-4 .2-3 .2 5 .2 0 .2 5 .2-2 .2-6 .2 16 .2-8 .2 0 .2-2 .2-1 .2 1 .2 10 .2-9 .2 12 .2-3 .2 0 .2-12 .2 22 .2-16 .2 7 .2-5 .2 6 .2 4 .2-10 .2-4 .2-2 .2 2 .2 10 .2-6 .2-7 .2 3 .2 4 .2 6 .2-7 .2 4 .2-10 .2 11 .2-4 .2 12 .2-13 .2 8 .2-5 .2 9 .2-8 .2-1 .2 1 .2 2 .2 0 .2-7 .2 4 .2 14 .2-15 .2 5 .2 2 .2-2 .2-2 .2 3 .2-6 .2 15 .2-12 .2 4 .2-4 .2-4 .2 9 .2 10 .2-10 .2-3 .2 9 .2-4 .2-5 .2-7 .2 5 .2 1 .2 8 .2-8 .2-4 .2 8 .2-5 .2-3 .2 5 .2 6 .2-5 .2 2 .2 2 .2 5 .2-4 .2-16 .2 8 .2 7 .2-13 .2-5 .2 19 .2-4 .2 0 .2-4 .2 11 .2-21 .2 13 .2 0 .2 0 .2-7 .2 2 .2 5 .2 3 .2-1 .2-9 .2-5 .2 7 .2 3 .2 6 .2-3 .2-11 .2 18 .2-15 .2 1 .2 6 .2 4 .2-1 .2-7 .2 2 .2-5 .2 3 .2-1 .2 0 .2 8 .2-5 .2 4 .2-14 .2 6 .2-5 .2 5 .2 8 .2-6 .2 6 .2-4 .2 3 .2 10 .2-13 .2-8 .2 9 .2 0 .2-7 .2 3 .2 4 .2-2 .2-6 .2-5 .2 12 .2-3 .2 3 .2-13 .2 9 .2 5 .2-6 .2 3 .2-3 .2 2 .2 0 .2-12 .2 30 .2-21 .2 11 .2 5 .2-5 .2 1 .2-1 .2 4 .2-10 .2 0 .2-2 .2-10 .2 7 .2 10 .2-1 .2-2 .2-8 .2 13 .2-5 .2-5 .2 6 .2-5 .2 4 .2-4 .2 5 .2 0 .2-9 .2 11 .2-1 .2-2 .2-4 .2 8 .2-1 .2 3 .2 2 .2-5 .2 6 .2-1 .2-4 .2-5 .2 4 .2-3 .2-6 .2 8 .2 7 .2-18 .2 6 .2 9 .2-3 .2 8 .2-11 .2-1 .2-6 .2 21 .2-10 .2-3 .2-2 .2 7 .2-2 .2-1 .2 4 .2-7 .2 1 .2-7 .2 9 .2 5 .2-15 .2-5 .2 18 .2-13 .2 1 .2 10 .2-16 .2 14 .2-9 .2 16 .2-12 .2 2 .2 3 .2-6 .2-6 .2 14 .2-11 .2 0 .2-2 .2 5 .2 0 .2 3 .2-6 .2 3 .2 2 .2 2 .2 2 .2-15 .2 6 .2 5 .2 0 .2-14 .2 18 .2-10 .2 13 .2-6 .2-12 .2 0 .2-1 .2 9 .2-5 .2-10 .2 17 .2-12 .2 12 .2-3 .2 7 .2-22 .2 14 .2-11 .2 8 .2-6 .2 1 .2-4 .2 7 .2-14 .2 6 .2-10 .2 7 .2-3 .2-6 .2 3 .2-9 .2 0 .2 1 .2-4 .2 9 .2-4 .2-4 .2-3 .2-7 .2-2 .2 11 .2-4 .2 0 .2-10 .2 1 .2 14 .2-15 .2 1 .2 2 .2 10 .2-13 .2 2 .2 6 .2 4 .2 0 .2 5 .2 1 .2-6 .2 6 .2-9 .2 6 .2-5 .2 13 .2-5 .2 12 .2-3 .2 9 .2-5 .2-6 .2 10 .2-4 .2 2 .2 7 .2-6 .2 9 .2-16 .2 3 .2 1 .2 3 .2 13 .2 5 .2-7 .2-3 .2 6 .2-8 .2-9 .2 6 .2 1 .2 10 .2-2 .2-3 .2 2 .2 7 .2-1 .2 3 .2-13 .2 3 .2-7 .2 6 .2 13 .2-12 .2 5 .2-16 .2 8 .2 21 .2-28 .2 1 .2 12 .2-2 .2 15 .2-1 .2-11 .2-12 .2 12 .2 8 .2-15 .2 7 .2-6 .2 17 .2-11 .2-3 .2 8 .2 0 .2-5 .2 2 .2-2 .2-2 .2 3 .2 2 .2-10 .2-4 .2 16 .2-11 .2 9 .2-4 .2-4 .2 14 .2-15 .2 7 .2 1 .2 1 .2-18 .2 19 .2-8 .2 9 .2-10 .2-1 .2 14 .2-10 .2 1 .2-3 .2-7 .2-1 .2 12 .2-7 .2 5 .2-1 .2 1 .2 2 .2-2 .2 3 .2 0 .2-1 .2-9 .2-4 .2 7 .2 3 .2-8 .2 13 .2-11 .2-9 .2 6 .2 7 .2-18 .2 2 .2-2 .2 4 .2 10 .2-17 .2 9 .2-16 .2 4 .2 4 .2-1 .2-8 .2-7 .2 9 .2-11 .2-4 .2 2 .2 10 .2-33 .2 15 .2-9 .2 3 .2-6 .2-9 .2 7 .2-15 .2 5 .2-21 .2 19 .2-4 .2-20 .2 10 .2-9 .2-6 .2-8 .2 4 .2 3 .2 1 .2-8 .2 0 .2 0 .2 0 .2 0 .2 5 .2 11 .2 4 .2 2 .2-9 .2-5 .2 11 .2 17 .2-2 .2-4 .2 11 .2 6 .2-9 .2 16 .2-1 .2 15 .2 3 .2-6 .2 4 .2 0 .2 3 .2-1 .2 19 .2-9 .2 15 .2-7 .2 14 .2-5 .2-7 .2 5 .2 1 .2-1 .2-2 .2 10 .2 5 .2 2 .2 5 .2-15 .2 19 .2-11 .2 8 .2-6 .2 4 .2-12 .2 11 .2-3 .2-5 .2 8 .2 12 .2-18 .2 6 .2-10 .2 18 .2-7 .2 8 .2-6 .2 3 .2-7 .2 12 .2-8 .2 6 .2-6 .2-2 .2-2 .2-6 .2 8 .2 9 .2 6 .2-10 .2-4 .2 10 .2-3 .2-4 .2 9 .2-11 .2 5 .2-3 .2-8 .2-3 .2 9 .2-11 .2 19 .2-6 .2 7 .2-6 .2 9 .2-8 .2-4 .2 9 .2 6 .2-5 .2-6 .2 8 .2-5 .2 6 .2-16 .2 14 .2-5 .2 6 .2-10 .2 7 .2-1 .2 1 .2 3 .2-4 .2-1 .2 3 .2-5 .2 7 .2-12 .2 10 .2 1 .2 4 .2-9 .2-5 .2 12 .2 6 .2-14 .2-1 .2 14 .2-14 .2 9 .2-3 .2-7 .2 3 .2 5 .2-3 .2-6 .2-3 .2 11 .2-9 .2 8 .2 2 .2-5 .2 8 .2 0 .2-9 .2 11 .2 3 .2-18 .2 7 .2-1 .2-1 .2 2 .2 3 .2-3 .2-6 .2 1 .2 13 .2-12 .2-1 .2 2 .2-5 .2 0 .2-1 .2 14 .2-8 .2-4 .2 5 .2 5 .2-4 .2 5 .2-8 .2 8 .2-5 .2 1 .2-5 .2 13 .2-10 .2 9 .2-8 .2-2 .2-1 .2 3 .2-4 .2 8 .2 4 .2-11 .2 10 .2-8 .2 8 .2-2 .2-8 .2 3 .2 18 .2-19 .2-2 .2 10 .2-5 .2-3 .2 2 .2 0 .2 4 .2-7 .2 5 .2-1 .2 10 .2-7 .2-8 .2 10 .2-2 .2-7 .2 1 .2 6 .2 1 .2-1 .2-10 .2 8 .2 0 .2 2 .2-12 .2 5 .2 5 .2 4 .2 3 .2-8 .2 0 .2-3 .2-6 .2 6 .2 4 .2-8 .2 15 .2-9 .2-3 .2 4 .2-9 .2 12 .2 3 .2-7 .2 1 .2 4 .2 1 .2-3 .2 1 .2-6 .2 3 .2 4 .2-2 .2-5 .2 4 .2 7 .2-17 .2 18 .2-3 .2-13 .2 12 .2-4 .2-7 .2 11 .2-5 .2-1 .2-3 .2 9 .2-13 .2 14 .2-4 .2-2 .2-2 .2 3 .2-5 .2 6 .2-8 .2 5 .2-2 .2 10 .2-10 .2 4 .2 10 .2-8 .2 2 .2 9 .2-14 .2-7 .2 10 .2 0 .2-2 .2 4 .2-11 .2 11 .2 1 .2-4 .2-3 .2 1 .2 1 .2-3 .2 0 .2 5 .2-6 .2-6 .2-3 .2 12 .2-3 .2 2 .2 3 .2-3 .2 2 .2-1 .2 2 .2 0 .2-5 .2 7 .2 1 .2-3 .2 14 .2-15 .2 5 .2-8 .2 0 .2 13 .2-10 .2-4 .2-2 .2 4 .2-2 .2 5 .2-3 .2 2 .2-6 .2 3 .2 2 .2-10 .2 13 .2 0 .2-13 .2 13 .2-12 .2 8 .2 5 .2-5 .2-3 .2 7 .2-10 .2-3 .2 18 .2-8 .2-2 .2-2 .2-1 .2 6 .2-5 .2-3 .2 3 .2-1 .2 7 .2-4 .2-6 .2 16 .2-14 .2-1 .2 0 .2 0 .2-6 .2 9 .2-2 .2 2 .2-10 .2 6 .2-9 .2 6 .2-9 .2 9 .2-3 .2 3 .2-5 .2-4 .2 7 .2 1 .2-7 .2-3 .2 10 .2-16 .2 9 .2-3 .2-6 .2 5 .2-3 .2 2 .2-5 .2 0 .2 2 .2-5 .2-3 .2 2 .2-2 .2 2 .2 0 .2-2 .2 0 .2 0 .2 0 .2 0 .2 7 .2-7 .2 10 .2-10 .2 3 .2 9 .2-7 .2 10 .2 0 .2-7 .2 8 .2 0 .2-6 .2 17 .2-8 .2 6 .2 3 .2-4 .2 11 .2-1 .2-7 .2-3 .2 1 .2-4 .2 2 .2-1 .2 0 .2 9 .2 6 .2-3 .2-6 .2 11 .2-4 .2-16 .2 26 .2-21 .2-5 .2 13 .2 11 .2-13 .2 4 .2-7 .2-5 .2 2 .2-3 .2 13 .2-7 .2 3 .2 6 .2-11 .2 8 .2-2 .2-8 .2 5 .2 0 .2 7 .2-2 .2 5 .2-4 .2-1 .2-2 .2-6 .2 10 .2-7 .2 16 .2-5 .2-2 .2-5 .2-11 .2 3 .2 8 .2 4 .2 8 .2-10 .2-2 .2 1 .2-4 .2 8 .2-5 .2 4 .2-3 .2 6 .2-6 .2 3 .2-2 .2-1 .2 4 .2-5 .2 12 .2-5 .2-1 .2 6 .2-10 .2 6 .2 7 .2-7 .2-2 .2-11 .2-2 .2 11 .2 0 .2 0 .2 0 .2-9 .2 8 .2-8 .2 12 .2-1 .2-1 .2-1 .2 4 .2-8 .2 5 .2-3 .2-1 .2 0 .2 14 .2-9 .2 2 .2-17 .2 16 .2-3 .2-2 .2 11 .2-11 .2 0 .2 14 .2-12 .2 6 .2 0 .2 1 .2-8 .2 2 .2 7 .2-5 .2 7 .2-10 .2-3 .2-5 .2 4 .2 3 .2 8 .2-3 .2-17 .2 16 .2-3 .2-5 .2 15 .2-16 .2 11 .2-6 .2 12 .2-6 .2 7 .2-12 .2-10 .2 13 .2-1 .2-4 .2 4 .2-10 .2 1 .2-2 .2 14 .2-8 .2-7 .2 3 .2 7 .2 4 .2-6 .2 5 .2-4 .2 9 .2-9 .2 1 .2-6 .2 7 .2-3 .2-2 .2 11 .2-3 .2-10 .2 11 .2-4 .2 0 .2 5 .2 3 .2-12 .2 3 .2-13 .2 1 .2 10 .2 3 .2-8 .2 11 .2-3 .2-3 .2-1 .2-5 .2 6 .2 0 .2-5 .2 3 .2 0 .2-2 .2 3 .2-1 .2 10 .2-6 .2-3 .2 0 .2 6 .2-2 .2-8 .2 7 .2-9 .2 15 .2-2 .2-12 .2 9 .2 0 .2 1 .2 1 .2-13 .2 12 .2 1 .2-7 .2 2 .2 2 .2-6 .2 6 .2-3 .2-1 .2 4 .2-4 .2-5 .2 11 .2 0 .2-7 .2 11 .2-13 .2 6 .2-12 .2 4 .2 10 .2 2 .2 1 .2 1 .2-12 .2-5 .2 12 .2 2 .2-7 .2-4 .2 7 .2 1 .2 4 .2-7 .2 10 .2-17 .2 3 .2 10 .2-13 .2 4 .2-7 .2 8 .2-4 .2 4 .2 3 .2 0 .2-1 .2-4 .2-4 .2 5 .2-1 .2-2 .2 0 .2-3 .2 4 .2 4 .2-4 .2-7 .2 3 .2 3 .2 0 .2-7 .2 10 .2-13 .2 12 .2-15 .2 3 .2-5 .2-1 .2-1 .2-4 .2 0 .2-1 .2-2 .2 4 .2-11 .2 2 .2-9 .2-4 .2 8 .2-11 .2 8 .2-2 .2-5 .2-1 .2 5 .2-5 .2 0 .2 0 .2 6 .2 0 .2-6 .2 2 .2 4 .2-3 .2-3 .2 21 .2-2 .2-4 .2-7 .2 9 .2 2 .2 7 .2-8 .2 3 .2 10 .2 3 .2 1 .2-6 .2 4 .2 5 .2-8 .2 9 .2-5 .2 1 .2 9 .2-3 .2-1 .2 4 .2 3 .2-10 .2 6 .2-1 .2 9 .2-16 .2 4 .2 9 .2 1 .2 2 .2 0 .2-5 .2 5 .2-7 .2-5 .2 8 .2-7 .2 18 .2-8 .2 0 .2 6 .2-7 .2 0 .2-5 .2 7 .2-2 .2 0 .2-5 .2 8 .2-10 .2 5 .2 4 .2-5 .2 8 .2 5 .2-4 .2-4 .2 3 .2-3 .2-1 .2 3 .2 3 .2-3 .2 5 .2-9 .2 0 .2 2 .2-2 .2-2 .2 12 .2-13 .2 7 .2-1 .2-3 .2 1 .2 0 .2-2 .2 3 .2-1 .2 0 .2 0 .2-4 .2 4 .2 3 .2-7 .2 6 .2 4 .2-5 .2 0 .2-3 .2 9 .2-4 .2-13 .2 1 .2 13 .2 2 .2-5 .2-3 .2 10 .2-10 .2 11 .2-5 .2-10 .2 9 .2-5 .2 3 .2-2 .2 4 .2-1 .2 4 .2-9 .2 6 .2 2 .2-6 .2-5 .2 6 .2 12 .2 3 .2-13 .2 5 .2-3 .2-1 .2-2 .2-5 .2 8 .2 5 .2 0 .2-6 .2 0 .2 5 .2-11 .2 6 .2 8 .2-5 .2-3 .2-11 .2 21 .2-14 .2 6 .2 3 .2-8 .2 8 .2-2 .2-4 .2 0 .2-6 .2 1 .2 3 .2 15 .2-7 .2 4 .2-12 .2 4 .2-3 .2-5 .2-1 .2 14 .2-2 .2 2 .2 1 .2-13 .2 10 .2-8 .2-1 .2-1 .2 5 .2-7 .2 7 .2 6 .2-6 .2 1 .2-2 .2-4 .2 3 .2 4 .2 4 .2-3 .2 1 .2-9 .2 15 .2-10 .2 0 .2-2 .2 7 .2-7 .2 0 .2 7 .2-9 .2-6 .2 6 .2 1 .2-2 .2 13 .2-12 .2 2 .2-9 .2 0 .2 7 .2 8 .2-9 .2 2 .2-13 .2 9 .2 7 .2-4 .2-1 .2 0 .2-14 .2 10 .2 1 .2-12 .2-3 .2 8 .2 3 .2-6 .2-6 .2 11 .2-14 .2-1 .2-3 .2 1 .2-5 .2 6 .2-4 .2 2 .2-2 .2 0 .2 1 .2-6 .2 0 .2 0 .2 0 .2 8 .2-8 .2 6 .2-5 .2 11 .2-5 .2 7 .2 0 .2 2 .2 8 .2-14 .2 13 .2-9 .2 7 .2 4 .2-5 .2 5 .2-1 .2-8 .2 15 .2 6 .2-2 .2-3 .2-3 .2 11 .2-9 .2 9 .2-4 .2 2 .2 0 .2-9 .2 7 .2 5 .2-10 .2-1 .2 1 .2 11 .2-6 .2 3 .2-8 .2 7 .2 4 .2-5 .2 0 .2 0 .2 1 .2-4 .2-3 .2 16 .2-9 .2-1 .2-4 .2 3 .2-3 .2 0 .2 13 .2-7 .2 3 .2 12 .2-19 .2 4 .2 2 .2-8 .2 5 .2 3 .2-7 .2 5 .2 2 .2 0 .2 3 .2-6 .2 4 .2-11 .2 17 .2-8 .2 2 .2 2 .2-8 .2-6 .2 18 .2-6 .2 2 .2-6 .2 1 .2 3 .2-3 .2 9 .2-12 .2 11 .2-7 .2-2 .2 2 .2 8 .2-1 .2-1 .2-8 .2 10 .2 2 .2-6 .2 4 .2-5 .2-2 .2-9 .2 12 .2 3 .2-1 .2 1 .2-1 .2 3 .2 5 .2-20 .2 6 .2-8 .2 10 .2 1 .2 6 .2-3 .2-10 .2 10 .2-4 .2 5 .2 2 .2-11 .2 1 .2 7 .2-7 .2-5 .2 6 .2-5 .2 5 .2 1 .2-6 .2 11 .2 1 .2-11 .2 1 .2 3 .2 1 .2-1 .2 2 .2 10 .2-9 .2-6 .2 2 .2 7 .2-9 .2 6 .2-1 .2-6 .2 7 .2-3 .2 0 .2-3 .2 14 .2-1 .2-18 .2 15 .2 0 .2-6 .2 6 .2-7 .2-1 .2 5 .2 7 .2-10 .2-1 .2-2 .2 5 .2 2 .2 12 .2-17 .2 1 .2 3 .2-4 .2 0 .2 2 .2-4 .2 0 .2 5 .2-3 .2-4 .2 8 .2 2 .2-5 .2 18 .2-18 .2 7 .2-13 .2-2 .2 15 .2 0 .2-2 .2 0 .2-13 .2 5 .2 4 .2-4 .2 5 .2 5 .2-2 .2-9 .2-6 .2 12 .2 5 .2-15 .2 15 .2-3 .2 4 .2-9 .2-1 .2-4 .2 6 .2-1 .2 2 .2-1 .2 1 .2 8 .2-8 .2-6 .2 11 .2 0 .2-6 .2 2 .2-12 .2 10 .2 1 .2 0 .2-2 .2-4 .2 7 .2-1 .2 4 .2-5 .2 3 .2-11 .2 18 .2-1 .2-4 .2 1 .2-2 .2 5 .2-16 .2 9 .2 0 .2-1 .2-5 .2 3 .2 3 .2 3 .2-12 .2 9 .2 5 .2-3 .2 2 .2-6 .2 4 .2 2 .2-3 .2-6 .2 2 .2-1 .2 5 .2 0 .2 4 .2-8 .2 0 .2 4 .2-7 .2 5 .2 6 .2-8 .2 2 .2-3 .2 5 .2 0 .2 4 .2-6 .2-4 .2 1 .2 2 .2 0 .2 3 .2 6 .2-12 .2 3 .2 4 .2-7 .2 3 .2 4 .2-4 .2 9 .2-12 .2 3 .2 4 .2-9 .2 2 .2 10 .2-3 .2 1 .2 0 .2-8 .2 1 .2 1 .2 3 .2 4 .2-12 .2 9 .2 3 .2-8 .2-6 .2 16 .2 2 .2-2 .2-4 .2-6 .2 6 .2-1 .2 3 .2 4 .2-11 .2-3 .2 0 .2 0 .2 7 .2-7 .2 8 .2-11 .2 8 .2 5 .2-13 .2 12 .2-7 .2 2 .2-6 .2 10 .2-8 .2-6 .2 10 .2 3 .2-3 .2 6 .2 1 .2-12 .2 3 .2 15 .2-18 .2 0 .2 8 .2-1 .2-3 .2-5 .2 4 .2-7 .2 4 .2 13 .2-7 .2 2 .2-3 .2 5 .2-1 .2-2 .2 2 .2-7 .2 1 .2 4 .2 0 .2-9 .2 13 .2 5 .2-3 .2-3 .2 2 .2-16 .2 14 .2-2 .2-2 .2 5 .2-10 .2 11 .2-7 .2-1 .2-2 .2 4 .2 0 .2-4 .2 5 .2-9 .2 8 .2 0 .2 6 .2-6 .2-2 .2 11 .2 2 .2-10 .2 0 .2-2 .2 4 .2 8 .2-12 .2 12 .2-12 .2 3 .2-5 .2 2 .2 6 .2-6 .2 6 .2-1 .2-9 .2 5 .2 2 .2-6 .2 3 .2 2 .2 5 .2 6 .2-11"/>
<path fill="none" stroke="#8A6E02" stroke-width="3.3" stroke-linejoin="miter" d="M162.0,1491l.2 34 .2-24 .2 2 .2-1 .2 23 .2-20 .2-14 .2-6 .2 0 .2 28 .2-4 .2-3 .2 11 .2 10 .2-47 .2 22 .2-31 .2 22 .2 19 .2 7 .2-15 .2 8 .2-19 .2 6 .2 12 .2-15 .2 1 .2 19 .2 7 .2-43 .2 23 .2-3 .2-9 .2 27 .2-11 .2-14 .2 14 .2-19 .2 17 .2-3 .2-2 .2 2 .2-6 .2 7 .2 8 .2-28 .2 39 .2-25 .2-3 .2 6 .2-3 .2-9 .2 15 .2-10 .2-7 .2 41 .2-26 .2 16 .2-10 .2-7 .2 7 .2-9 .2 12 .2-37 .2 31 .2-15 .2 13 .2-16 .2 10 .2 22 .2-7 .2-21 .2-1 .2 18 .2-13 .2 23 .2-21 .2 4 .2-12 .2 34 .2 9 .2-29 .2 6 .2-13 .2 20 .2-16 .2-6 .2 29 .2-3 .2-7 .2-1 .2-3 .2-1 .2 7 .2 8 .2-6 .2 10 .2-18 .2 17 .2-34 .2 4 .2 13 .2-12 .2 1 .2 4 .2 24 .2 7 .2-41 .2-4 .2 20 .2 4 .2-12 .2 2 .2-1 .2-6 .2 21 .2 1 .2-13 .2-10 .2 12 .2-19 .2 2 .2 15 .2-7 .2 20 .2-13 .2-9 .2 10 .2 3 .2 16 .2-13 .2 14 .2-40 .2 44 .2-24 .2 0 .2-8 .2 17 .2-5 .2 7 .2-24 .2 11 .2 8 .2-10 .2-5 .2-7 .2 10 .2-12 .2 31 .2 6 .2-30 .2 5 .2-2 .2 6 .2-8 .2 7 .2-10 .2 25 .2-31 .2 21 .2-4 .2-3 .2-3 .2 18 .2-36 .2 29 .2-10 .2 7 .2-4 .2-4 .2 14 .2-2 .2-11 .2 11 .2 8 .2-8 .2-15 .2 6 .2 14 .2-6 .2 2 .2 5 .2 10 .2-14 .2 0 .2-3 .2 16 .2 1 .2-16 .2-7 .2 5 .2-10 .2 13 .2-12 .2-7 .2 5 .2 14 .2-6 .2-2 .2-6 .2 9 .2-8 .2 9 .2-5 .2 5 .2-21 .2 34 .2-16 .2 10 .2-16 .2 2 .2 0 .2-4 .2 10 .2 3 .2 2 .2 4 .2-9 .2-8 .2-5 .2 9 .2-7 .2-4 .2 31 .2-11 .2 14 .2-16 .2-11 .2-5 .2 14 .2 4 .2-20 .2 25 .2-22 .2-2 .2 32 .2-24 .2 9 .2-19 .2 12 .2 6 .2 8 .2 1 .2-14 .2 9 .2-14 .2 20 .2 3 .2-19 .2 5 .2-12 .2 23 .2-16 .2-1 .2 11 .2 1 .2-9 .2 24 .2-22 .2-9 .2 5 .2 14 .2-17 .2 6 .2 5 .2 3 .2-10 .2 1 .2 17 .2-16 .2 23 .2-3 .2-26 .2 4 .2-6 .2 20 .2-12 .2 11 .2-19 .2 11 .2 9 .2-13 .2-11 .2 13 .2 14 .2-27 .2 31 .2-7 .2-2 .2-17 .2 7 .2 6 .2-20 .2 8 .2-1 .2 16 .2-6 .2 4 .2-4 .2-15 .2-4 .2 33 .2-12 .2-19 .2 14 .2-16 .2 23 .2-6 .2 7 .2 0 .2-2 .2 9 .2-14 .2 19 .2-27 .2 6 .2-6 .2 17 .2-7 .2-11 .2-15 .2 27 .2-7 .2-1 .2 1 .2 6 .2-11 .2 14 .2-20 .2 12 .2 8 .2-21 .2 27 .2-7 .2-16 .2 25 .2-4 .2 10 .2-7 .2 8 .2-17 .2 13 .2 3 .2 4 .2-24 .2 11 .2 9 .2-1 .2-14 .2 0 .2 2 .2 2 .2 2 .2-1 .2-8 .2-1 .2 17 .2-7 .2 7 .2-2 .2 0 .2 5 .2-1 .2-13 .2 9 .2-9 .2-6 .2 3 .2 19 .2-23 .2 7 .2-1 .2 20 .2-12 .2-16 .2 15 .2 2 .2 7 .2-36 .2 12 .2 23 .2-13 .2 6 .2 5 .2-7 .2-4 .2-4 .2-4 .2 1 .2 19 .2-12 .2 6 .2-13 .2-12 .2 22 .2 5 .2 10 .2-2 .2-31 .2 10 .2 7 .2 15 .2-24 .2-6 .2 3 .2 11 .2-7 .2 14 .2-2 .2 0 .2-14 .2 11 .2-17 .2 15 .2-1 .2-1 .2 4 .2-9 .2-1 .2 9 .2 6 .2-8 .2 1 .2 10 .2-25 .2 17 .2-17 .2 19 .2-7 .2-7 .2 2 .2 16 .2-13 .2 2 .2 1 .2-9 .2 3 .2 7 .2-38 .2 53 .2-4 .2-20 .2 1 .2 18 .2 0 .2-4 .2-12 .2 9 .2-2 .2-12 .2-1 .2 30 .2-14 .2-20 .2-3 .2 8 .2 13 .2 21 .2-27 .2 6 .2-15 .2 18 .2-11 .2 5 .2 10 .2-33 .2 9 .2 25 .2-20 .2 16 .2-11 .2 15 .2-8 .2-17 .2 22 .2-7 .2-9 .2-7 .2 12 .2 9 .2-13 .2 15 .2-7 .2 6 .2-13 .2-5 .2 24 .2-2 .2 2 .2-15 .2 15 .2-6 .2-13 .2 8 .2-18 .2 9 .2 1 .2 12 .2 2 .2-20 .2 6 .2 11 .2-31 .2 9 .2 11 .2 4 .2-11 .2 15 .2 7 .2-11 .2 5 .2-1 .2-16 .2 27 .2-25 .2 19 .2-7 .2-10 .2 28 .2-11 .2 3 .2-5 .2-2 .2 3 .2 0 .2 14 .2-31 .2 7 .2 9 .2-10 .2 20 .2-29 .2 23 .2 1 .2-19 .2 3 .2 12 .2 3 .2 0 .2-13 .2 13 .2 10 .2-16 .2 0 .2 14 .2-9 .2 5 .2-6 .2-16 .2-2 .2 16 .2-14 .2 19 .2-2 .2 10 .2-25 .2 32 .2-21 .2-2 .2 9 .2-34 .2 33 .2-4 .2-19 .2 22 .2 7 .2 2 .2-17 .2 14 .2-18 .2 20 .2-11 .2 4 .2-21 .2 1 .2 20 .2-9 .2 5 .2 11 .2-22 .2-5 .2 21 .2-10 .2 4 .2 17 .2-13 .2-2 .2-2 .2-23 .2 25 .2-12 .2 20 .2-19 .2 5 .2-1 .2 4 .2-9 .2 7 .2 10 .2-8 .2 1 .2 0 .2-1 .2 7 .2-2 .2 14 .2-8 .2-18 .2 21 .2-11 .2-8 .2 3 .2 12 .2-3 .2 12 .2-9 .2-4 .2-3 .2-26 .2 21 .2 6 .2-9 .2 15 .2-10 .2-1 .2-1 .2 14 .2-1 .2 0 .2-3 .2-21 .2 17 .2-9 .2 11 .2-22 .2 35 .2-19 .2 1 .2 0 .2 4 .2-4 .2-13 .2 22 .2-4 .2-13 .2 14 .2-14 .2 9 .2 4 .2-5 .2-21 .2 28 .2-12 .2 1 .2 8 .2 4 .2 8 .2 2 .2-20 .2 9 .2-17 .2 19 .2 2 .2-10 .2 8 .2 3 .2-13 .2 17 .2-13 .2-10 .2 28 .2-16 .2 0 .2 9 .2-12 .2-12 .2-5 .2 32 .2-3 .2-8 .2 3 .2-5 .2 9 .2 6 .2-27 .2 16 .2-4 .2 13 .2-21 .2 23 .2-2 .2 3 .2 0 .2-15 .2-7 .2 3 .2-2 .2 5 .2-3 .2-2 .2 12 .2-28 .2 21 .2 4 .2-7 .2 19 .2-8 .2-26 .2 26 .2 1 .2 0 .2 8 .2-26 .2 0 .2 8 .2 23 .2-15 .2-6 .2-7 .2 16 .2-15 .2 16 .2-6 .2 9 .2-11 .2-4 .2 6 .2 2 .2-5 .2 2 .2-18 .2 19 .2 3 .2-14 .2 20 .2-7 .2-3 .2 0 .2 3 .2 0 .2-19 .2 33 .2 6 .2-28 .2-1 .2 3 .2-14 .2 19 .2-9 .2 1 .2-6 .2 31 .2-26 .2 25 .2-13 .2 1 .2 0 .2-17 .2 10 .2 5 .2-2 .2-5 .2 5 .2-10 .2 23 .2-25 .2 19 .2-19 .2 6 .2 19 .2-9 .2-5 .2-6 .2 10 .2-18 .2 12 .2 3 .2 13 .2-25 .2 13 .2-7 .2 4 .2 9 .2-23 .2 19 .2-30 .2 15 .2 15 .2 9 .2-26 .2 15 .2-7 .2 5 .2 6 .2-3 .2 0 .2-7 .2-1 .2 9 .2-11 .2 10 .2-16 .2 12 .2-5 .2-6 .2 14 .2 22 .2-28 .2 0 .2-17 .2 14 .2-13 .2 7 .2 13 .2 5 .2-26 .2 29 .2-11 .2 12 .2-13 .2 20 .2-22 .2 5 .2-26 .2-3 .2 21 .2-21 .2 22 .2-5 .2 5 .2-4 .2 8 .2-11 .2-24 .2 14 .2-7 .2 15 .2-18 .2-2 .2 0 .2 10 .2-7 .2-12 .2-13 .2 6 .2 10 .2-1 .2-18 .2 0 .2 0 .2 0 .2 5 .2-5 .2 0 .2 10 .2 4 .2-1 .2 9 .2-5 .2 17 .2-18 .2 25 .2-12 .2 21 .2 2 .2-7 .2-11 .2-2 .2 23 .2-26 .2 19 .2-8 .2-11 .2 18 .2 8 .2-1 .2-23 .2 5 .2 20 .2 6 .2-16 .2 25 .2-16 .2 11 .2 5 .2-11 .2-17 .2 26 .2-31 .2 21 .2-22 .2 7 .2 6 .2-19 .2 15 .2-5 .2 9 .2 6 .2 17 .2-10 .2 8 .2-16 .2 12 .2-12 .2 17 .2-30 .2 7 .2 13 .2-9 .2-13 .2 35 .2-19 .2 5 .2-3 .2-13 .2 21 .2 8 .2-12 .2 8 .2-14 .2 19 .2-12 .2-3 .2-16 .2 12 .2 0 .2 10 .2-9 .2 16 .2-7 .2-23 .2-6 .2 30 .2-14 .2-5 .2 9 .2-1 .2-5 .2-8 .2 17 .2-16 .2 4 .2 2 .2-11 .2-3 .2 13 .2-3 .2-3 .2 7 .2-1 .2-9 .2-9 .2 1 .2 31 .2-43 .2 29 .2 6 .2-9 .2-18 .2-8 .2 11 .2-7 .2 6 .2-9 .2-21 .2 1 .2 10 .2-4 .2 11 .2-18 .2-9 .2 15 .2-52 .2 1 .2 2 .2-29 .2 11 .2-15 .2-41 .2-6 .2 1 .2-31 .2 16 .2-16 .2 0 .2 0 .2 20 .2 9 .2 2 .2 21 .2 6 .2 0 .2-8 .2 42 .2 19 .2 7 .2 33 .2-12 .2 10 .2 31 .2-23 .2-5 .2 30 .2-10 .2 9 .2-14 .2 22 .2-2 .2-1 .2-30 .2 36 .2-25 .2 30 .2-11 .2-4 .2 4 .2-22 .2 7 .2 33 .2-25 .2 28 .2-24 .2 12 .2-24 .2 41 .2-38 .2-14 .2 36 .2 5 .2-19 .2-4 .2-7 .2 11 .2 12 .2 0 .2-20 .2 7 .2-5 .2-2 .2 16 .2-21 .2 13 .2-21 .2-4 .2-3 .2 22 .2-43 .2 22 .2-30 .2-5 .2-32 .2 18 .2 2 .2-4 .2-16 .2 22 .2-22 .2 0 .2 6 .2 38 .2-30 .2 23 .2-12 .2 26 .2 9 .2-24 .2 26 .2 21 .2-10 .2 27 .2-8 .2 5 .2-9 .2 9 .2-8 .2 6 .2 22 .2-11 .2 30 .2-38 .2 12 .2 15 .2-20 .2-1 .2 7 .2 3 .2 6 .2-6 .2 8 .2-14 .2 0 .2 17 .2-10 .2 12 .2-20 .2 14 .2 10 .2-17 .2-5 .2 6 .2 0 .2 8 .2-9 .2 2 .2-3 .2 7 .2 1 .2-12 .2 12 .2 4 .2-3 .2-9 .2-3 .2 1 .2 16 .2 3 .2-21 .2 22 .2-10 .2 5 .2 2 .2 5 .2-4 .2-5 .2-10 .2-1 .2 21 .2-25 .2 17 .2-9 .2 6 .2-2 .2-2 .2 11 .2-6 .2 1 .2-6 .2-8 .2 0 .2 5 .2 5 .2-1 .2 1 .2-9 .2 11 .2 6 .2-8 .2-7 .2 18 .2-7 .2-6 .2-4 .2 5 .2-13 .2 30 .2 8 .2-13 .2 3 .2-2 .2-10 .2-9 .2 2 .2-1 .2-6 .2 14 .2-9 .2 21 .2-13 .2-6 .2 9 .2 4 .2-14 .2-3 .2 25 .2-36 .2 32 .2-3 .2-5 .2-2 .2 1 .2 8 .2-21 .2-3 .2 9 .2 5 .2 7 .2-2 .2-11 .2-3 .2 15 .2 11 .2 8 .2-35 .2 23 .2-24 .2 10 .2-2 .2-5 .2 12 .2-6 .2-3 .2-6 .2 6 .2 19 .2-5 .2 0 .2-26 .2 25 .2-15 .2-1 .2 4 .2-14 .2 31 .2-14 .2-16 .2 20 .2-17 .2 10 .2-7 .2 39 .2-38 .2 8 .2-19 .2 23 .2-7 .2-1 .2 5 .2-2 .2-5 .2-2 .2-17 .2 6 .2-8 .2 30 .2 2 .2-17 .2 10 .2-16 .2 7 .2-6 .2 4 .2 30 .2-24 .2-3 .2-3 .2-22 .2 24 .2-3 .2 8 .2-17 .2-26 .2 3 .2 35 .2-20 .2-18 .2 29 .2-29 .2 0 .2 0 .2 0 .2 0 .2 0 .2 0 .2 0 .2 41 .2-27 .2-7 .2 14 .2 18 .2-26 .2 6 .2-3 .2 27 .2 7 .2-17 .2 5 .2-10 .2 11 .2-14 .2 19 .2 11 .2-9 .2 2 .2-15 .2-6 .2 29 .2-26 .2 16 .2 4 .2-12 .2 5 .2-8 .2 17 .2-4 .2-3 .2 16 .2-25 .2 4 .2-11 .2 22 .2 9 .2-19 .2 3 .2 2 .2-4 .2 4 .2-7 .2 17 .2-16 .2 2 .2-10 .2 8 .2-22 .2 59 .2-34 .2 5 .2-2 .2-9 .2-2 .2-4 .2 17 .2-17 .2-6 .2 12 .2-18 .2 4 .2 16 .2-5 .2-1 .2 7 .2-28 .2-3 .2 25 .2-18 .2 6 .2-11 .2-8 .2-6 .2 2 .2-21 .2 16 .2-6 .2-10 .2-36 .2 13 .2 13 .2-16 .2 4 .2-15 .2 0 .2 0 .2 0 .2 6 .2 2 .2 11 .2-3 .2 4 .2 8 .2-26 .2 33 .2 6 .2 22 .2-12 .2 22 .2 1 .2-18 .2 24 .2 4 .2 1 .2-8 .2 23 .2-32 .2 32 .2-8 .2-1 .2 7 .2-9 .2-17 .2 13 .2 9 .2-6 .2 3 .2 5 .2-15 .2 23 .2-12 .2 2 .2 2 .2 8 .2-29 .2 33 .2 1 .2-26 .2 34 .2-15 .2-4 .2-5 .2-4 .2 12 .2-15 .2 8 .2-12 .2 7 .2 18 .2-4 .2-9 .2 4 .2 16 .2-20 .2 7 .2-3 .2 4 .2 1 .2-45 .2 31 .2 32 .2-27 .2-16 .2 22 .2-6 .2-2 .2-8 .2 27 .2-24 .2 3 .2-9 .2 11 .2 5 .2 8 .2-4 .2-25 .2-12 .2 31 .2-25 .2 32 .2-14 .2-6 .2-5 .2 9 .2-14 .2 7 .2 2 .2-19 .2 23 .2 0 .2-23 .2 37 .2-21 .2 7 .2-15 .2 13 .2-8 .2 27 .2-39 .2 3 .2-29 .2 13 .2-22 .2 24 .2-11 .2-9 .2-2 .2-9 .2-9 .2-8 .2-11 .2-7 .2-16 .2-7 .2-12 .2-14 .2 0 .2 0 .2 5 .2-5 .2 9 .2 4 .2 2 .2 24 .2 7 .2-22 .2 18 .2 6 .2 18 .2-5 .2 30 .2-5 .2 27 .2-13 .2 17 .2-4 .2 2 .2 8 .2 2 .2-16 .2 18 .2-2 .2 2 .2 5 .2 10 .2 1 .2-1 .2 11 .2 11 .2-18 .2 7 .2 2 .2-14 .2 4 .2 15 .2-20 .2 2 .2 2 .2 10 .2 11 .2 7 .2-4 .2-16 .2-2 .2-9 .2-5 .2 17 .2-14 .2 18 .2 3 .2-6 .2 21 .2-14 .2-8 .2 10 .2-22 .2 13 .2 6 .2-9 .2 10 .2 5 .2-8 .2-4 .2 9 .2 2 .2 10 .2-29 .2 40 .2-21 .2-18 .2 22 .2 3 .2-18 .2 6 .2-7 .2 5 .2 9 .2 1 .2-6 .2-7 .2 5 .2 5 .2-13 .2 0 .2 17 .2-1 .2 4 .2-28 .2 36 .2-4 .2-28 .2 13 .2-6 .2-2 .2 7 .2-19 .2 11 .2 18 .2-14 .2-8 .2 3 .2-9 .2 31 .2-29 .2 9 .2 0 .2-2 .2-10 .2-9 .2 19 .2-7 .2-18 .2 21 .2 1 .2 4 .2-25 .2-14 .2 10 .2 6 .2 6 .2-2 .2-11 .2-13 .2 18 .2-1 .2 2 .2-21 .2 1 .2-3 .2 21 .2-59 .2 23 .2-51 .2 25 .2-13 .2 8 .2-9 .2-42 .2 20 .2-17 .2-40 .2-28 .2-10 .2-41 .2 25 .2-51 .2 21 .2 1 .2-9 .2-6 .2-5 .2 6 .2 24 .2 8 .2 17 .2 59 .2-7 .2 30 .2 12 .2 28 .2-15 .2 5 .2 19 .2 33 .2-23 .2 6 .2 20 .2 3 .2 1 .2 26 .2-5 .2-3 .2 22 .2-7 .2-7 .2 0 .2-2 .2 20 .2-19 .2 0 .2 19 .2 0 .2-19 .2 31 .2-21 .2 22 .2-33 .2 10 .2-11 .2 12 .2 11 .2 5 .2 4 .2-6 .2 3 .2-11 .2 18 .2-9 .2-6 .2 5 .2-11 .2 3 .2 3 .2-5 .2 30 .2-24 .2 22 .2 3 .2-22 .2 0 .2 23 .2 3 .2-18 .2 11 .2-23 .2 20 .2-27 .2 4 .2 23 .2-32 .2 32 .2-21 .2 5 .2 7 .2-7 .2-8 .2-4 .2 23 .2 3 .2-19 .2-2 .2-15 .2 29 .2-8 .2 1 .2 1 .2-20 .2 11 .2-8 .2 18 .2-16 .2 12 .2-4 .2-5 .2-18 .2 4 .2 14 .2-4 .2-7 .2-18 .2 8 .2-5 .2-2 .2-6 .2 4 .2-22 .2 7 .2-14 .2-19 .2-16 .2 14 .2-36 .2-7 .2 10 .2-53 .2 11 .2-45 .2-15 .2-24 .2 1 .2-41 .2-2 .2 19 .2 27 .2-44 .2-2 .2 31 .2 3 .2 41 .2 15 .2-32 .2 67 .2-3 .2 37 .2 10 .2 29 .2-8 .2 26 .2 9 .2 8 .2 0 .2-3 .2 8 .2 7 .2 0 .2 1 .2-5 .2 20 .2 8 .2-29 .2 22 .2 6 .2-7 .2-1 .2 13 .2-3 .2-13 .2-12 .2 4 .2 0 .2 23 .2-6 .2 2 .2 0 .2-1 .2-7 .2-3 .2 26 .2-9 .2-7 .2 10 .2-27 .2 23 .2-10 .2-17 .2 11 .2 10 .2-1 .2 0 .2-25 .2 12 .2 4 .2-6 .2 6 .2-19 .2 2 .2 18 .2-7 .2-5 .2-5 .2 11 .2-24 .2 24 .2-29 .2 9 .2 12 .2-13 .2-15 .2 14 .2 21 .2-25 .2-28 .2-6 .2-6 .2 5 .2-12 .2-45 .2 30 .2-12 .2-11 .2 4 .2-8 .2-7 .2-42 .2-25 .2 10 .2-30 .2 3 .2-14 .2 0 .2 0 .2 0 .2 0 .2 0 .2 0 .2 0 .2 0 .2 0 .2 0 .2 0 .2 0 .2 0 .2 0 .2 0 .2 0 .2 0 .2 0 .2 0 .2 0 .2 0 .2 0 .2 0 .2 0 .2 26 .2 41 .2-11 .2-1 .2 22 .2 38 .2-22 .2 32 .2 22 .2 31 .2-15 .2 2 .2-3 .2-3 .2 14 .2 0 .2 21 .2-18 .2 20 .2 2 .2 4 .2 6 .2 11 .2-25 .2 2 .2 26 .2 6 .2-4 .2-11 .2 11 .2-11 .2 10 .2-14 .2 24 .2-10 .2 15 .2-20 .2 12 .2 7 .2-12 .2 3 .2 11 .2 1 .2-1 .2 2 .2-2 .2-6 .2 5 .2 1 .2 6 .2-12 .2 18 .2-7 .2 0 .2 16 .2-1 .2-1 .2-17 .2 13 .2 3 .2-14 .2-5 .2-4 .2-12 .2 24 .2 2 .2-5 .2-3 .2 20 .2-29 .2 15 .2-2 .2-7 .2-1 .2 2 .2 6 .2-8 .2-1 .2-20 .2 0 .2 15 .2 2 .2-9 .2 3 .2-20 .2 17 .2-8 .2 6 .2-24 .2-5 .2-24 .2-8 .2-21 .2-18 .2 28 .2-55 .2 17 .2-23 .2-21 .2-33 .2 3 .2-4 .2-33 .2 6 .2-6 .2 0 .2 23 .2 32 .2 9 .2-34 .2 14 .2 51 .2 25 .2-22 .2 47 .2-8 .2 23 .2 10 .2 13 .2 34 .2-19 .2 15 .2 12 .2-7 .2 17 .2-13 .2 1 .2 23 .2-17 .2 14 .2-14 .2 15 .2 8 .2-17 .2 20 .2 8 .2-18 .2 10 .2-17 .2 27 .2 16 .2-25 .2 2 .2-16 .2 41 .2 2 .2-25 .2 1 .2 8 .2 7 .2-6 .2-4 .2 10 .2 4 .2 2 .2-16 .2 20 .2-10 .2 10 .2 16 .2-33 .2 9 .2 6 .2-17 .2-5 .2 32 .2-29 .2 16 .2-3 .2-3 .2 10 .2-9 .2 7 .2 1 .2-28 .2 25 .2-4 .2-6 .2 9 .2-10 .2 19 .2 6 .2-9 .2-2 .2 2 .2-17 .2 26 .2-16 .2-27 .2 28 .2-5 .2 7 .2 9 .2-18 .2 7 .2 4 .2-5 .2-8 .2-11 .2 12 .2 13 .2-3 .2-2 .2 0 .2-14 .2 24 .2-4 .2-9 .2-9 .2 3 .2-9 .2 14 .2 3 .2-19 .2 6 .2 10 .2 6 .2-10 .2-15 .2 13 .2-11 .2 11 .2 1 .2 17 .2-43 .2-7 .2 8 .2-3 .2-11 .2 6 .2-3 .2 21 .2-16 .2-13 .2 16 .2-28 .2 21 .2-15 .2 10 .2-28 .2 24 .2-15 .2-27 .2 2 .2-32 .2-12 .2-5 .2 6 .2 8 .2-64 .2-1 .2-24 .2-37 .2-4 .2 18 .2-8 .2-10 .2 0 .2 8 .2 7 .2 4 .2 24 .2 34 .2-7 .2 19 .2 27 .2 23 .2 2 .2 3 .2 11 .2-1 .2 8 .2 37 .2 14 .2-5 .2-11 .2 3 .2 5 .2 11 .2-2 .2 1 .2 18 .2-14 .2 3 .2 5 .2-4 .2 27 .2-8 .2 0 .2-8 .2-9 .2 15 .2 9 .2-10 .2 18 .2-5 .2-1 .2-9 .2-5 .2-5 .2 33 .2-7 .2 10 .2-19 .2 13 .2-9 .2 0 .2 15 .2-3 .2-6 .2 3 .2-16 .2 27 .2-1 .2-24 .2 3 .2 25 .2-5 .2-5 .2-14 .2 7 .2-2 .2 17 .2-19 .2 4 .2 12 .2-16 .2-13 .2 16 .2 1 .2-8 .2 6 .2 20 .2 0 .2-1 .2-22 .2 26 .2-17 .2-4 .2-8 .2 11 .2 0 .2 5 .2-4 .2-1 .2 3 .2 1 .2 15 .2-18 .2-11 .2 15 .2 1 .2-7 .2 4 .2 7 .2 2 .2-1 .2-10 .2 4 .2 1 .2 0 .2-12 .2 13 .2-19 .2 16 .2-5 .2 8 .2-14 .2 37 .2-17 .2-19 .2 2 .2 3 .2 13 .2-5 .2 9 .2 7 .2-18 .2-7 .2 27 .2-20 .2 3 .2-7 .2 9 .2-8 .2 28 .2-10 .2-8 .2-4 .2 0 .2 2 .2-18 .2 13 .2-8 .2 9 .2 0 .2-18 .2 18 .2 3 .2 18 .2-24 .2 6 .2-19 .2 13 .2-8 .2 0 .2 27 .2-24 .2-1 .2 32 .2-16 .2 11 .2-32 .2 3 .2 1 .2 5 .2 0 .2 0 .2 15 .2-32 .2 12 .2-4 .2-5 .2 0 .2 10 .2 10 .2-10 .2 2 .2-1 .2-7 .2-9 .2-2 .2-6 .2 12 .2-13 .2-7 .2 0 .2 6 .2 1 .2 2 .2-9 .2 0 .2 0 .2 11 .2-11 .2 20 .2-17 .2 6 .2 4 .2-11 .2 12 .2-4 .2 10 .2 15 .2-14 .2 10 .2-27 .2 23 .2-3 .2 2 .2-21 .2 21 .2-1 .2 20 .2-17 .2 14 .2-8 .2-8 .2 14 .2-21 .2 1 .2-2 .2 13 .2 7 .2-11 .2 19 .2-16 .2 13 .2 3 .2-20 .2 3 .2 8 .2 2 .2 8 .2-4 .2 1 .2 10 .2-12 .2 7 .2-3 .2 5 .2 6 .2-18 .2 1 .2 0 .2 9 .2-8 .2-2 .2 13 .2 0 .2-11 .2-9 .2 9 .2 4 .2-12 .2 11 .2-8 .2 2 .2 6 .2-13 .2 4 .2 17 .2-25 .2 9 .2 5 .2 7 .2-9 .2-1 .2-2 .2 3 .2 9 .2-11 .2-1 .2 12 .2 3 .2-3 .2 0 .2-1 .2-1 .2-3 .2 1 .2-19 .2 14 .2 33 .2-31 .2 0 .2 1 .2 15 .2 6 .2-32 .2 13 .2-6 .2 6 .2-7 .2 12 .2-12 .2 4 .2 1 .2 0 .2 5 .2-8 .2 5 .2-1 .2-5 .2-3 .2 2 .2 0 .2 3 .2 13 .2-10 .2 4 .2 8 .2-9 .2-8 .2 18 .2-25 .2 8 .2 6 .2-3 .2-1 .2 7 .2-1 .2 4 .2-3 .2-28 .2 16 .2-10 .2 14 .2 0 .2 6 .2-9 .2 8 .2-3 .2 3 .2-11 .2 5 .2 4 .2 0 .2-5 .2 10 .2-3 .2-4 .2-5 .2 3 .2 6 .2 12 .2-24 .2 6 .2 4 .2 23 .2-30 .2 6 .2-3 .2-13 .2 15 .2 12 .2-24 .2 13 .2-1 .2 11 .2-16 .2 0 .2 5 .2 1 .2 5 .2 11 .2-10 .2-11 .2 13 .2 3 .2 1 .2 13 .2-7 .2-5 .2-2 .2-18 .2 23 .2-16 .2 7 .2 11 .2 5 .2-27 .2-2 .2 13 .2 4 .2-8 .2 11 .2-13 .2 0 .2 10 .2-14 .2 0 .2 6 .2 10 .2 3 .2-22 .2 11 .2 2 .2-20 .2 14 .2 15 .2-22 .2 19 .2-31 .2 32 .2-22 .2-6 .2 16 .2-15 .2 23 .2-13 .2 8 .2-12 .2 1 .2 2 .2 8 .2-11 .2 24 .2-20 .2 7 .2 7 .2 8 .2-16 .2-32 .2 41 .2-21 .2 11 .2-9 .2 7 .2-3 .2 14 .2-17 .2 3 .2-19 .2 22 .2 1 .2-11 .2-1 .2 9 .2-11 .2 21 .2-32 .2 20 .2 3 .2-11 .2 10 .2 1 .2-31 .2 11 .2 19 .2-20 .2 7 .2-20 .2 16 .2-3 .2 9 .2-25 .2 5 .2 10 .2-26 .2 23 .2-34 .2 1 .2 9 .2-13 .2-19 .2 2 .2-3 .2-15 .2-2 .2 9 .2-7 .2 3 .2 2 .2 1 .2 11 .2-10 .2 1 .2 11 .2 8 .2 5 .2 4 .2 4 .2 16 .2-7 .2 8 .2 7 .2-3 .2 14 .2-6 .2 1 .2 2 .2 6 .2-3 .2-8 .2 28 .2-2 .2-1 .2-12 .2 18 .2-1 .2-25 .2 5 .2 6 .2 14 .2-9 .2 8 .2-8 .2 10 .2-13 .2 2 .2-5 .2 17 .2-1 .2 9 .2-6 .2-16 .2 21 .2-9 .2-8 .2 25 .2-21 .2 5 .2-4 .2 21 .2-21 .2 16 .2-6 .2-6 .2 1 .2 1 .2 7 .2 2 .2-10 .2 3 .2-4 .2 7 .2 14 .2-19 .2-3 .2 13 .2-18 .2 6 .2-7 .2 11 .2 12 .2-29 .2 21 .2 6 .2-9 .2-2 .2-5 .2 19 .2-11 .2 0 .2-20 .2 12 .2 1 .2-6 .2 6 .2-9 .2 6 .2 0 .2 3 .2 8 .2-4 .2 4 .2-11 .2 16 .2-9 .2-8 .2-12 .2 15 .2-4 .2 7 .2-7 .2 7 .2 14 .2-18 .2 6 .2-5 .2-2 .2 8 .2-3 .2-6 .2 4 .2-2 .2 7 .2-7 .2 12 .2-15 .2 6 .2-3 .2 13 .2-31 .2 20 .2-15 .2 10 .2 7 .2-8 .2 10 .2-6 .2 7 .2-3 .2-11 .2-4 .2 8 .2-26 .2 20 .2 5 .2-11 .2 4 .2-3 .2 12 .2-13 .2 15 .2-13 .2 5 .2-4 .2-5 .2 16 .2-21 .2-6 .2 4 .2 8 .2 12 .2-38 .2-5 .2 17 .2-10 .2-5 .2-14 .2-11 .2 16 .2-33 .2 19 .2 13 .2-32 .2 15 .2-14 .2 2 .2-5 .2 0 .2 0 .2 0 .2 0 .2 29 .2-23 .2 21 .2 1 .2 8 .2-28 .2 41 .2 17 .2-9 .2-8 .2 11 .2 3 .2-13 .2 30 .2-13 .2-1 .2 3 .2 12 .2-7 .2-11 .2-1 .2 20 .2 3 .2-4 .2 3 .2-5 .2 7 .2-11 .2 11 .2 2 .2 11 .2-34 .2 8 .2 2 .2 22 .2 2 .2-1 .2-17 .2 10 .2 7 .2 8 .2-19 .2 0 .2-10 .2 17 .2 4 .2-3 .2-5 .2 6 .2-25 .2 18 .2-14 .2 21 .2-14 .2-3 .2 9 .2 5 .2-20 .2 2 .2 13 .2 5 .2-1 .2 9 .2-13 .2 4 .2-2 .2 9 .2-3 .2-5 .2-9 .2 17 .2 0 .2-11 .2 13 .2-7 .2 25 .2-8 .2-10 .2 7 .2-5 .2-5 .2 3 .2-13 .2 2 .2 30 .2-17 .2-7 .2 15 .2-3 .2-7 .2-8 .2 4 .2 3 .2-14 .2-10 .2 29 .2-25 .2 3 .2 20 .2-22 .2 6 .2 15 .2-7 .2-8 .2 19 .2-21 .2 16 .2-11 .2 3 .2-1 .2 0 .2-11 .2 3 .2 5 .2-7 .2 5 .2 8 .2 7 .2-8 .2-3 .2 11 .2-13 .2 5 .2 10 .2-7 .2 4 .2-15 .2 3 .2 6 .2 0 .2 9 .2-18 .2 15 .2-2 .2-2 .2-6 .2 7 .2-17 .2 32 .2-5 .2 1 .2-20 .2 9 .2-16 .2 5 .2 6 .2 3 .2 0 .2 2 .2-4 .2-1 .2-2 .2 2 .2-18 .2 19 .2 2 .2-16 .2 19 .2-21 .2 7 .2 7 .2 21 .2-26 .2 15 .2-4 .2-10 .2 4 .2 7 .2 1 .2-19 .2 9 .2 8 .2 3 .2-6 .2-3 .2 8 .2-10 .2 2 .2 0 .2-3 .2-13 .2 15 .2-7 .2-3 .2 4 .2-1 .2 2 .2 9 .2 0 .2-13 .2 2 .2-3 .2 11 .2-23 .2 14 .2-30 .2 29 .2 4 .2-6 .2-16 .2 28 .2 4 .2-15 .2-7 .2 15 .2-11 .2 2 .2-21 .2-7 .2 23 .2-12 .2 10 .2-5 .2 16 .2-10 .2-7 .2-18 .2 9 .2-8 .2-21 .2-9 .2 27 .2-12 .2-26 .2 12 .2-13 .2-16 .2-3 .2-5 .2-4 .2 8 .2-9 .2-3 .2-8 .2 8 .2-1 .2-7 .2 22 .2 11 .2 0 .2 1 .2 16 .2 26 .2-12 .2 1 .2 0 .2 20 .2 0 .2 1 .2 13 .2-1 .2 6 .2 9 .2-12 .2 4 .2-8 .2 6 .2 0 .2 3 .2 12 .2-19 .2 10 .2 8 .2-13 .2 11 .2-12 .2 4 .2 13 .2 2 .2-10 .2 3 .2 23 .2-12 .2-16 .2 10 .2-20 .2 28 .2-10 .2-1 .2-2 .2 19 .2-11 .2-9 .2 18 .2-2 .2-4 .2-13 .2 7 .2 15 .2-23 .2 16 .2-19 .2 18 .2-8 .2 22 .2-30 .2 25 .2-24 .2 5 .2 6 .2-1 .2 10 .2 3 .2-8 .2-1 .2 21 .2-23 .2 4 .2 5 .2 11 .2-22 .2 2 .2 1 .2-2 .2 0 .2 10 .2 3 .2-25 .2 10 .2 4 .2-9 .2-5 .2 4 .2 0 .2 26 .2-23 .2 3 .2-26 .2 31 .2-13 .2 14 .2-14 .2 7 .2 3 .2 16 .2-22 .2-11 .2 12 .2 2 .2 5 .2-6 .2 6 .2-15 .2 5 .2 5 .2-1 .2-20 .2 21 .2-5 .2 4 .2-2 .2-3 .2-17 .2-4 .2 0 .2-2 .2 9 .2 4 .2 10 .2 0 .2-8 .2 8 .2-19 .2 15 .2-29 .2 12 .2 13 .2-5 .2-11 .2 5 .2-12 .2-8 .2 3 .2-1 .2 2 .2-18 .2-15 .2-1 .2 9 .2-1 .2-37 .2 18 .2-32 .2 1 .2-7 .2-45 .2 12 .2 20 .2-21 .2-18 .2 0 .2 0 .2 4 .2-4 .2 29 .2 3 .2-11 .2 11 .2 12 .2 6 .2 28 .2-10 .2 17 .2 8 .2 10 .2 12 .2 14 .2-45 .2 36 .2 1 .2 10 .2-9 .2-6 .2 2 .2 5 .2 6 .2-9 .2 2 .2 9 .2-22 .2 13 .2-17 .2 10 .2-9 .2-13 .2 5 .2 2 .2-5 .2-2 .2 0 .2 2 .2-2 .2 6 .2-6 .2 0 .2 14 .2 0 .2 4 .2 12 .2-25 .2 22 .2-10 .2 7 .2-1 .2 22 .2 5 .2-14 .2 10 .2-6 .2 10 .2-14 .2 20 .2 3 .2 9 .2-5 .2-4 .2 9 .2 5 .2 2 .2-2 .2 3 .2 4 .2-9 .2-4 .2-8 .2-2 .2 13 .2 5 .2-5 .2-4 .2 13 .2-22 .2 19 .2-5 .2-11 .2 14 .2-10 .2-17 .2 23 .2-1 .2-3 .2 16 .2-22 .2-9 .2 17 .2-4 .2-1 .2 20 .2-11 .2 0 .2-4 .2-4 .2-7 .2 6 .2-13 .2-6 .2-11 .2 12 .2-16 .2 12 .2-9 .2-26 .2 18 .2-22 .2 5 .2 4 .2-16 .2 1 .2-9 .2 4 .2-10 .2 12 .2-12 .2 8 .2 14 .2 0 .2-18 .2 13 .2 21 .2-14 .2 36 .2 18 .2-9 .2-21 .2 21 .2 13 .2-15 .2 15 .2-27 .2 39 .2-17 .2 6 .2 21 .2-16 .2 14 .2-9 .2-5 .2 7 .2-13 .2 11 .2 5 .2-7 .2 1 .2 7 .2-24 .2 16 .2 12 .2-5 .2-1 .2-21 .2 2 .2 20 .2 2 .2-3 .2-13 .2 19 .2-4 .2 14 .2-4 .2-12 .2 11 .2 1 .2 13 .2-38 .2 2 .2-8 .2 1 .2-1 .2 20 .2-2 .2-1 .2 9 .2-2 .2-15 .2 14 .2-4 .2-10 .2 5 .2 5 .2-2 .2-1 .2 2 .2-4 .2 6 .2-3 .2 1 .2-24 .2 15 .2 7 .2 0 .2-18 .2-3 .2-4 .2 3 .2 11 .2-8 .2-4 .2-8 .2 1 .2-16 .2 11 .2-10 .2 3 .2-5 .2-11 .2-8 .2-2 .2-6 .2-4 .2 10 .2-10 .2 0 .2 0 .2 0 .2 18 .2-18 .2 15 .2 15 .2-23 .2 9 .2 14 .2-27 .2 36 .2 16 .2-16 .2 2 .2-2 .2 1 .2 24 .2 13 .2-17 .2-11 .2 24 .2-7 .2 20 .2-27 .2 27 .2-22 .2 39 .2-35 .2 17 .2 0 .2-16 .2 4 .2 6 .2 3 .2-12 .2 4 .2 23 .2-15 .2 1 .2-26 .2 24 .2-4 .2 6 .2-16 .2 13 .2-8 .2 8 .2 7 .2 10 .2-10 .2-11 .2 13 .2-19 .2 18 .2-2 .2-10 .2-10 .2 34 .2 0 .2-17 .2-1 .2 6 .2-5 .2 10 .2 6 .2-11 .2 13 .2-15 .2 15 .2-19 .2 4 .2 7 .2 2 .2 2 .2-10 .2 8 .2-16 .2 2 .2 4 .2 2 .2 4 .2 9 .2-18 .2 11 .2-3 .2 0 .2-24 .2 19 .2 1 .2-1 .2-5 .2-14 .2 36 .2-16 .2-20 .2 28 .2-16 .2 4 .2 2 .2 14 .2-22 .2-6 .2 41 .2-25 .2-13 .2-6 .2-4 .2 16 .2 1 .2-10 .2 3 .2 1 .2-15 .2 14 .2-2 .2-17 .2 18 .2 0 .2-8 .2 2 .2 11 .2-5 .2-1 .2-13 .2 19 .2-11 .2 12 .2-6 .2-27 .2 8 .2 7 .2-4 .2 3 .2-29 .2 16 .2-19 .2 2 .2 10 .2-15 .2-21 .2-20 .2 9 .2-8 .2 6 .2 15 .2-40 .2-20 .2-5 .2-10 .2 5 .2 1 .2 10 .2-9 .2-13 .2 0 .2 0 .2 51 .2-33 .2 33 .2-27 .2 31 .2-10 .2 8 .2-3 .2 40 .2-14 .2 32 .2 0 .2-8 .2 22 .2-6 .2-8 .2-4 .2 20 .2-2 .2-21 .2 22 .2 23 .2-32 .2 23 .2-7 .2 10 .2-16 .2-24 .2 3 .2 14 .2 22 .2 1 .2-8 .2-3 .2-15 .2 14 .2-11 .2 13 .2-12 .2-4 .2 18 .2-24 .2 0 .2 8 .2 12 .2-23 .2-6 .2 36 .2-32 .2 14 .2-8 .2-7 .2 4 .2 2 .2-9 .2-1 .2-4 .2-14 .2 16 .2-12 .2 1 .2 9 .2-47 .2 10 .2-3 .2-26 .2 30 .2-50 .2-17 .2-10 .2-10 .2-40 .2 18 .2-5 .2-10 .2-4 .2 0 .2 16 .2 8 .2-24 .2 76 .2 0 .2 0 .2 0 .2 0 .2 0 .2 0 .2 0 .2 6 .2 33 .2-29 .2 28 .2-31 .2 0 .2 6 .2-9 .2 31 .2-19 .2-13 .2-3 .2 0 .2 26 .2-12 .2 34 .2-17 .2-17 .2 14 .2 11 .2 20 .2-9 .2 6 .2 16 .2-13 .2 3 .2 2 .2 25 .2 11 .2 4 .2 2 .2-17 .2 12 .2-9 .2 15 .2 22 .2 10 .2-23 .2 10 .2-11 .2 0 .2 40 .2-21 .2-3 .2 9 .2-11 .2-5 .2 28 .2-35 .2 22 .2-7 .2 13 .2-6 .2 23 .2-36 .2 24 .2-5 .2-10 .2 32 .2-35 .2 3 .2 11 .2-7 .2 11 .2-8 .2 0 .2 5 .2 7 .2-17 .2 7 .2-12 .2 28 .2 2 .2-21 .2 22 .2-16 .2 13 .2-11 .2-2 .2 1 .2-6 .2 1 .2 1 .2 15 .2-7 .2 5 .2-2 .2 2 .2-2 .2 15 .2-19 .2 7 .2 7 .2 2 .2-4 .2 10 .2-3 .2-3 .2-6 .2-15 .2-2 .2 7 .2 2 .2 20 .2-7 .2-17 .2 23 .2-14 .2-4 .2 0 .2 23 .2-25 .2-1 .2-5 .2 14 .2 5 .2-28 .2 37 .2-18 .2 9 .2-16 .2 4 .2 19 .2-11 .2-2 .2 17 .2 6 .2-31 .2 11 .2 11 .2-2 .2-15 .2 19 .2-1 .2 6 .2-14 .2-16 .2 32 .2-33 .2 16 .2-4 .2 0 .2 17 .2-24 .2-4 .2 10 .2-3 .2 6 .2 3 .2-2 .2 5 .2-1 .2-5 .2 7 .2 10 .2-18 .2-1 .2 7 .2-18 .2 16 .2 1 .2-8 .2-12 .2 26 .2 1 .2-19 .2 26 .2-29 .2 32 .2-8 .2-15 .2-7 .2 30 .2-23 .2-10 .2 34 .2-14 .2-3 .2 7 .2-6 .2-1 .2-20 .2 13 .2-1 .2 6 .2 0 .2 6 .2-2 .2-10 .2-5 .2 22 .2-3 .2 2 .2 3 .2-20 .2-2 .2 20 .2-8 .2 4 .2-14 .2 3 .2-9 .2 9 .2 7 .2-9 .2 7 .2 14 .2-18 .2 2 .2-17 .2 24 .2 14 .2-27 .2 5 .2 14 .2-4 .2 2 .2-9 .2 15 .2-13 .2-8 .2 14 .2 11 .2-27 .2 2 .2 31 .2-4 .2-19 .2 15 .2-21 .2-11 .2 15 .2 11 .2-13 .2 11 .2-21 .2 18 .2-10 .2 21 .2 2 .2-25 .2 10 .2-8 .2 11 .2-3 .2 0 .2 0 .2-9 .2 16 .2-22 .2-4 .2-13 .2 23 .2 18 .2-24 .2 10 .2-7 .2 11 .2 9 .2-8 .2-2 .2-6 .2 11 .2 7 .2-9 .2-14 .2 12 .2 1 .2-8 .2 2 .2-13 .2 15 .2-30 .2 29 .2 7 .2-7 .2 17 .2-22 .2 26 .2-12 .2-20 .2-9 .2 26 .2-16 .2-1 .2 19 .2 0 .2-9 .2-2 .2 9 .2 11 .2-30 .2 25 .2-12 .2 19 .2-29 .2 18 .2-17 .2 24 .2-11 .2-15 .2 23 .2 6 .2-25 .2 7 .2-13 .2 16 .2 1 .2 6 .2-7 .2-1 .2-12 .2-7 .2 24 .2 4 .2-15 .2-7 .2 14 .2-26 .2 32 .2-18 .2 6 .2-2 .2 5 .2-16 .2-12 .2 2 .2-2 .2 19 .2-16 .2 7 .2-10 .2 0 .2 16 .2-9 .2-7 .2 15 .2-15 .2 6 .2 5 .2 12 .2-23 .2 0 .2 2 .2 23 .2-13 .2 10 .2-12 .2 12 .2 14 .2-18 .2 16 .2-6 .2-26 .2 35 .2-17 .2 0 .2-1 .2 13 .2-12 .2 24 .2-19 .2 1 .2 4 .2-8 .2 4 .2 6 .2 6 .2 8 .2-9 .2-9 .2-7 .2 11 .2 7 .2-21 .2 22 .2-11 .2 1 .2-4 .2-2 .2 8 .2-1 .2-9 .2 17 .2-24 .2 36 .2-26 .2 4 .2 16 .2-2 .2 1 .2 6 .2-19 .2-3 .2 7 .2 17 .2-25 .2 7 .2-4 .2 11 .2 2 .2 4 .2-36 .2 30 .2 7 .2-3 .2-12 .2 1 .2 4 .2-5 .2-1 .2 7 .2-14 .2 19 .2 4 .2-1 .2-10 .2 10 .2-18 .2 19 .2 0 .2 3 .2-21 .2 5 .2 16 .2-19 .2-3 .2 12 .2-7 .2 5 .2 17 .2-11 .2-14 .2 12 .2-11 .2 21 .2-13 .2-6 .2 10 .2 0 .2-30 .2 18 .2-2 .2 1 .2 12 .2-25 .2 33 .2 2 .2 6 .2-21 .2 11 .2-12 .2-9 .2 34 .2-22 .2 2 .2-4 .2 14 .2-29 .2 27 .2-5 .2-15 .2-2 .2-4 .2 20 .2-4 .2 0 .2-10 .2 12 .2-4 .2-8 .2 34 .2-17 .2-1 .2-9 .2-8 .2 20 .2-19 .2 20 .2-10 .2 1 .2-10 .2 8 .2 9 .2-25 .2 17 .2-11 .2 11 .2 4 .2-1 .2-1 .2 7 .2-30 .2 17 .2-1 .2-5 .2 2 .2-14 .2 21 .2 4 .2-9 .2-13 .2 29 .2-17 .2-12 .2 15 .2-27 .2 20 .2-4 .2 15 .2-14 .2 24 .2-10 .2-9 .2 2 .2 16 .2-25 .2 12 .2 1 .2-7 .2 5 .2 3 .2-18 .2 20 .2 13 .2-12 .2-12 .2 15 .2 2 .2-10 .2-22 .2 25 .2 13 .2-22 .2 13 .2-9 .2 10 .2-5 .2-2 .2-3 .2 0 .2 27 .2-17 .2 12 .2-13 .2-12 .2-15 .2 16 .2 26 .2-18 .2 1 .2-2 .2-1 .2-2 .2-19 .2 17 .2 11 .2-12 .2-11 .2 40 .2-18 .2-13 .2 0 .2 4 .2 23 .2-29 .2 5 .2-6 .2 8 .2-24 .2 27 .2-7 .2-7 .2 19 .2-16 .2 5 .2 7 .2-1 .2 0 .2-8 .2 19 .2 3 .2-17 .2 12 .2-12 .2-3 .2 0 .2 26 .2-10 .2-21 .2 15 .2-9 .2-1 .2 11 .2 1 .2-19 .2 18 .2-11 .2-1 .2 15 .2-11 .2 14 .2-24 .2 14 .2 22 .2-21 .2-6 .2 11 .2-11 .2 10 .2-23 .2 9 .2 8 .2 4 .2-10 .2 0 .2 5 .2-4 .2-2 .2 14 .2-17 .2 25 .2-1 .2-23 .2 24 .2-12 .2-4 .2 1 .2 9 .2 0 .2-8 .2-13 .2-5 .2 14 .2 0 .2 17 .2-34 .2 9 .2 3 .2 13 .2-6 .2-1 .2 13 .2-21 .2 16 .2-20 .2 26 .2-19 .2-1 .2 9 .2 8 .2-17 .2 2 .2-5 .2-7 .2-4 .2 42 .2-15 .2-2 .2-10 .2-7 .2-4 .2 11 .2 18 .2-28 .2-2 .2 27 .2-8 .2-22 .2 6 .2-1 .2 9 .2-10 .2-20 .2 26 .2-6 .2 4 .2-7 .2-8 .2-2 .2-6 .2 14 .2-1 .2-9 .2-3 .2 5 .2-4 .2-8 .2-6 .2 9 .2-13 .2 6 .2-6 .2 0 .2 21 .2 3 .2-24 .2 0 .2 0 .2 17 .2-8 .2 9 .2-12 .2-5 .2 12 .2 23 .2-10 .2-18 .2 34 .2 5 .2-40 .2 14 .2 7 .2 7 .2-2 .2-5 .2 13 .2-13 .2-11 .2 14 .2-11 .2 18 .2 8 .2-5 .2-2 .2 5 .2 8 .2-11 .2-6 .2 13 .2-11 .2-7 .2-8 .2-10 .2 15 .2-3 .2 5 .2 1 .2 14 .2-32 .2 7 .2 8 .2-14 .2 5 .2 11 .2-4 .2-13 .2 0 .2 14 .2 2 .2 6 .2-22 .2 0 .2 1 .2 2 .2 21 .2-24 .2 12 .2-5 .2 3 .2-8 .2 20 .2 1 .2-21 .2 7 .2-1 .2 7 .2 9 .2-24 .2 8 .2 26 .2 9 .2-23 .2 8 .2 19 .2-21 .2-16 .2 23 .2 2 .2 4 .2-17 .2 24 .2-29 .2 13 .2 22 .2-28 .2 3 .2 12 .2 14 .2-11 .2-14 .2 1 .2 0 .2 16 .2-13 .2 3 .2 18 .2-19 .2 1 .2 17 .2-48 .2 29 .2-13 .2 5 .2 4 .2 5 .2 10 .2-21 .2 16 .2 6 .2-12 .2 2 .2-10 .2 14 .2-25 .2 29 .2-6 .2 7 .2-13 .2-13 .2 7 .2 2 .2-9 .2 21 .2 1 .2 7 .2-32 .2 21 .2 0 .2 1 .2 10 .2 5 .2-26 .2-8 .2 27 .2-11 .2-10 .2 10 .2-1 .2 17 .2-23 .2 32 .2-17 .2-11 .2-2 .2 2 .2 7 .2-1 .2-3 .2 1 .2 2 .2 6 .2 5 .2-20 .2 2 .2 2 .2 10 .2 6 .2-5 .2-11 .2 13 .2 2 .2-9 .2 7 .2 9 .2-29 .2 20 .2-23 .2 13 .2 11 .2-21 .2 25 .2 3 .2-25 .2-1 .2 8 .2 21 .2-32 .2 14 .2 10 .2-8 .2-2 .2 12 .2-15 .2 2 .2 6 .2 7 .2-9 .2-11 .2 20 .2-17 .2 5 .2 9 .2 12 .2-37 .2 10 .2-1 .2-8 .2 19 .2-8 .2 10 .2-1 .2-12 .2-6 .2 17 .2-5 .2-3 .2 3 .2-22 .2 33 .2 3 .2-17 .2-2 .2-1 .2-13 .2 28 .2-20 .2 10 .2-2 .2-22 .2 5 .2-4 .2-3 .2 9 .2 6 .2 1 .2-12 .2-1 .2 7 .2-25 .2 6 .2-7 .2-15 .2-2 .2 17 .2-8 .2 13 .2-22 .2 5 .2 2 .2 6 .2-13 .2 0 .2 0 .2 0 .2 9 .2-9 .2 13 .2-13 .2 9 .2-8 .2 12 .2 12 .2-7 .2 8 .2 0 .2-8 .2 20 .2 2 .2-26 .2 21 .2 11 .2-1 .2 6 .2-23 .2 15 .2-2 .2 1 .2 26 .2-18 .2-6 .2 10 .2-2 .2 13 .2-2 .2-11 .2-3 .2 9 .2-9 .2-4 .2-5 .2 13 .2-7 .2 6 .2-9 .2 10 .2 15 .2-28 .2 10 .2 3 .2 1 .2 0 .2-10 .2 14 .2-18 .2 0 .2 12 .2 12 .2-15 .2 22 .2-20 .2 15 .2-27 .2 9 .2-2 .2 8 .2 16 .2-18 .2 0 .2-1 .2 7 .2-15 .2 1 .2-2 .2 7 .2-27 .2 9 .2 0 .2-2 .2 7 .2-9 .2 11 .2-11 .2 13 .2-24 .2 7 .2 9 .2-16 .2 0 .2 0 .2 0 .2 7 .2-7 .2 0 .2 9 .2 2 .2-2 .2-1 .2 25 .2-18 .2 11 .2-11 .2 7 .2-3 .2 19 .2-4 .2-5 .2 1 .2 12 .2-2 .2 3 .2-8 .2 3 .2-13 .2 15 .2-10 .2 11 .2 2 .2-5 .2 8 .2 0 .2-16 .2 9 .2 1 .2-12 .2 6 .2 24 .2-12 .2 0 .2-7 .2-7 .2 11 .2-14 .2 13 .2 2 .2 1 .2-5 .2-1 .2 6 .2-2 .2 13 .2-4 .2-12 .2-1 .2 10 .2-14 .2 14 .2-12 .2-3 .2 6 .2 26 .2-16 .2-6 .2 0 .2 13 .2-10 .2 7 .2-9 .2 9 .2-14 .2 12 .2-1 .2 7 .2-17 .2 11 .2 1 .2 1 .2 1 .2-13 .2-15 .2 22 .2-1 .2 8 .2-7 .2-6 .2-6 .2 14 .2-9 .2-1 .2 16 .2-26 .2 6 .2-3 .2 16 .2-11 .2-4 .2 18 .2-14 .2-3 .2 11 .2 0 .2-9 .2-5 .2 19 .2-14 .2 6 .2 8 .2-14 .2 5 .2-11 .2 6 .2-7 .2 13 .2 12 .2-8 .2-10 .2-3 .2 12 .2-2 .2 1 .2-17 .2 9 .2 7 .2 6 .2-10 .2-13 .2 11 .2-28 .2 28 .2-5 .2 9 .2-10 .2 12 .2 1 .2-20 .2 2 .2-4 .2-6 .2 10 .2-27 .2 17 .2 12 .2-14 .2 2 .2-24 .2-7 .2 14 .2-4 .2-5 .2-4 .2 17 .2-24 .2 0 .2-4 .2-3 .2 0 .2 6 .2 20 .2-26 .2 8 .2 5 .2 2 .2 10 .2 16 .2-10 .2 22 .2-8 .2-15 .2 4 .2 9 .2 13 .2-24 .2 25 .2 2 .2-5 .2 4 .2 5 .2-18 .2 21 .2 1 .2-11 .2 4 .2-10 .2 5 .2 18 .2-3 .2-5 .2-3 .2 1 .2-7 .2-8 .2 4 .2 8 .2 7 .2 6 .2-2 .2 14 .2-27 .2 6 .2 4 .2 6 .2-19 .2 22 .2-10 .2 1 .2 10 .2-17 .2 10 .2 2 .2 0 .2-9 .2-6 .2 9 .2 4 .2 16 .2-18 .2-3 .2 9 .2-2 .2 3 .2 8 .2-10 .2 4 .2-12 .2 14 .2 1 .2-10 .2-2 .2 7 .2-4 .2-4 .2-13 .2 29 .2-1 .2 8 .2-15 .2-4 .2-14 .2 5 .2 14 .2-1 .2 9 .2-1 .2-8 .2 11 .2-11 .2 3 .2-13 .2 12 .2 1 .2-17 .2 16 .2-2 .2 2 .2-14 .2 12 .2-1 .2-15 .2 16 .2-9 .2-1 .2-2 .2 5 .2 9 .2 1 .2-15 .2 10 .2 4 .2-2 .2-3 .2 2 .2-4 .2 5 .2-8 .2-9 .2 1 .2 4 .2 4 .2-2 .2 25 .2-16 .2-4 .2 4 .2-11 .2 10 .2 0 .2 4 .2-14 .2 22 .2-12 .2-8 .2 8 .2 5 .2-18 .2 13 .2 0 .2 0 .2 12 .2-4 .2-2 .2-13 .2 1 .2-10 .2 8 .2 5 .2-9 .2 21 .2-6 .2 6 .2-6 .2-15 .2 24 .2-20 .2 11 .2-18 .2 14 .2-9 .2 10 .2-13 .2 8 .2 16 .2-6 .2-3 .2-6 .2 24 .2-29 .2 3 .2-1 .2 5 .2 2 .2-1 .2 9 .2-14 .2 7 .2-4 .2 12 .2-3 .2-2 .2 15 .2-24 .2 6 .2 5 .2-1 .2-23 .2 14 .2 13 .2 4 .2-20 .2 16 .2-9 .2-5 .2 14 .2-9 .2 7 .2 12 .2-12 .2-10 .2 8 .2-6 .2 5 .2-8 .2-3 .2-7 .2 18 .2-9 .2 8 .2-8 .2 18 .2-23 .2 21 .2-8 .2 1 .2-4 .2-3 .2-4 .2-4 .2 6 .2 7 .2 3 .2 10 .2-12 .2-4 .2-7 .2 1 .2 24 .2-1 .2 1 .2-5 .2-19 .2 15 .2-26 .2 27 .2-19 .2 18 .2-9 .2 1 .2 5 .2-6 .2-17 .2 27 .2-20 .2 21 .2-14 .2-2 .2 8 .2 3 .2 6 .2-2 .2-13 .2-13 .2 27 .2-8 .2-10 .2 24 .2-8 .2-7 .2-1 .2-8 .2 3 .2 18 .2-12 .2-10 .2-1 .2 1 .2 20 .2-17 .2 12 .2 6 .2-6 .2-6 .2 10 .2-20 .2 1 .2 5 .2 12 .2-11 .2-18 .2 25 .2-5 .2-1 .2-5 .2 17 .2-25 .2 14 .2-4 .2 11 .2 1 .2 5 .2-13 .2-10 .2 9 .2 5 .2 10 .2-9 .2 2 .2-7 .2-6 .2 15 .2 0 .2-16 .2 12 .2-3 .2 6 .2 5 .2-19 .2 13 .2-17 .2 12 .2-2 .2 13 .2-13 .2-8 .2-2 .2 2 .2 19 .2-7 .2 11 .2-14 .2-9 .2 13 .2 1 .2-4 .2-7 .2 8 .2 6 .2 13 .2-1 .2-26 .2-3 .2 2 .2 11 .2-5 .2-4 .2 6 .2 9 .2-19 .2-12 .2 18 .2 13 .2 3 .2-7 .2-10 .2 5 .2-3 .2 0 .2 7 .2-5 .2 13 .2-8 .2-2 .2 5 .2 9 .2-9 .2-10 .2 1 .2-7 .2 3 .2 11 .2-11 .2-6 .2 7 .2 3 .2-1 .2-14 .2 20 .2 3 .2-18 .2 10 .2 12 .2-10 .2 15 .2-26 .2 21 .2-17 .2 7 .2 0 .2 8 .2-12 .2-11 .2 19 .2 8 .2-5 .2-23 .2 33 .2-14 .2 19 .2-22 .2 10 .2-8 .2-5 .2-5 .2 7 .2-4 .2-8 .2 16 .2 10 .2-20 .2-6 .2 3 .2 6 .2 25 .2-24 .2-6 .2 25 .2-37 .2 21 .2-8 .2 10 .2 10 .2-20 .2 1 .2-1 .2 10 .2 5 .2-11 .2 1 .2 25 .2-47 .2 24 .2 12 .2-17 .2-3 .2 9 .2-8 .2 6 .2 4 .2 1 .2-24 .2 9 .2 13 .2 8 .2 7 .2-13 .2-6 .2 10 .2 0 .2 3 .2-17 .2 14 .2-7 .2 12 .2-20 .2 18 .2-21 .2 9 .2 12 .2-7 .2-20 .2 26 .2-20 .2-8 .2 22 .2-9 .2 12 .2 13 .2-27 .2-8 .2 1 .2 30 .2-3 .2-6 .2-6 .2-6 .2 10 .2-3 .2-17 .2-2 .2 19 .2-2 .2 13 .2-5 .2-9 .2 6 .2 3 .2-3 .2-4 .2 9 .2-5 .2-19 .2 14 .2-8 .2 4 .2 12 .2-8 .2 6 .2-15 .2-6 .2 18 .2-4 .2 2 .2-7 .2-1 .2-2 .2 6 .2-2 .2 18 .2-5 .2-11 .2-12 .2 20 .2-6 .2 2 .2 14 .2-18 .2 2 .2 10 .2-12 .2-2 .2 3 .2-6 .2-6 .2 3 .2 12 .2-14 .2 16 .2 11 .2-28 .2 3 .2-10 .2 35 .2-16 .2-4 .2-7 .2-9 .2 15 .2 21 .2-25 .2 8 .2 1 .2-6 .2 23 .2-12 .2 11 .2-22 .2 21 .2-10 .2 14 .2-11 .2-19 .2 7 .2 2 .2 5 .2 0 .2-13 .2 10 .2-1 .2-3 .2-7 .2 13 .2 1 .2-2 .2 1 .2-6 .2-5 .2 23 .2-7 .2-11 .2-1 .2 10 .2-13 .2 2 .2 0 .2 16 .2-18 .2 11 .2 0 .2 3 .2-20 .2 19 .2-9 .2 10 .2-20 .2 30 .2-20 .2 9 .2-1 .2-7 .2 2 .2 2 .2 1 .2-22 .2 6 .2 18 .2 5 .2-8 .2 0 .2-4 .2-9 .2 25 .2-18 .2-7 .2-2 .2 19 .2-12 .2-6 .2 4 .2 11 .2 5 .2 5 .2-17 .2-3 .2 18 .2-23 .2 31 .2-17 .2-6 .2 8 .2-3 .2 11 .2-6 .2-2 .2-8 .2-7 .2 19 .2 2 .2-1 .2-24 .2 13 .2 6 .2-5 .2-30 .2 28 .2 11 .2-10 .2-5 .2 17 .2-21 .2 9 .2 22 .2-47 .2 21 .2-7 .2-8 .2 17 .2-6 .2 20 .2-14 .2-12 .2 32 .2-20 .2-4 .2 14 .2-23 .2 7 .2 20 .2-14 .2 5 .2 9 .2-25 .2-11 .2 23 .2 11 .2 3 .2 5 .2-19 .2-13 .2 8 .2-4 .2 0 .2 23 .2 2 .2-14 .2-15 .2 15 .2-13 .2 19 .2-22 .2 16 .2-7 .2-4 .2 9 .2-8 .2 14 .2-11 .2 12 .2-5 .2-2 .2 6 .2-24 .2 15 .2-6 .2-2 .2 11 .2 18 .2-22 .2 3 .2-10 .2-16 .2 16 .2 8 .2-9 .2 6 .2-12 .2 14 .2-15 .2 26 .2-43 .2-2 .2 6 .2-15 .2 1 .2 5 .2 9 .2 13 .2-3 .2-18 .2-7 .2 17 .2-17 .2 1 .2-1 .2 0 .2 0 .2 3 .2-3 .2 10 .2 5 .2-1 .2 15 .2-6 .2-3 .2-3 .2 6 .2-10 .2 31 .2-12 .2 13 .2-10 .2-20 .2 25 .2-10 .2 13 .2-3 .2 9 .2 1 .2-14 .2 13 .2-16 .2 3 .2-4 .2 25 .2-6 .2 2 .2-20 .2 2 .2 10 .2-7 .2 31 .2-33 .2 13 .2 10 .2-4 .2-8 .2 8 .2-26 .2 10 .2 16 .2-18 .2 1 .2 8 .2 15 .2-31 .2 14 .2 3 .2-4 .2 28 .2-27 .2 24 .2-18 .2 1 .2 4 .2-15 .2 9 .2-13 .2 6 .2 15 .2 0 .2 5 .2-21 .2 1 .2 17 .2-28 .2 28 .2-14 .2 4 .2 17 .2-8 .2-18 .2 10 .2-20 .2 18 .2-13 .2 13 .2-1 .2 7 .2-1 .2-11 .2 9 .2-10 .2-13 .2 9 .2 4 .2 3 .2 12 .2-24 .2 17 .2-6 .2-4 .2-7 .2 10 .2 8 .2-11 .2-32 .2 41 .2-30 .2 8 .2 5 .2 11 .2-18 .2 1 .2 10 .2-7 .2-14 .2 23 .2-30 .2 0 .2 22 .2-22 .2 2 .2 5 .2-7 .2 0 .2 0 .2 0 .2 2 .2 14 .2-5 .2 5 .2-12 .2 13 .2-3 .2 13 .2-3 .2-10 .2-6 .2 12 .2 8 .2-9 .2 1 .2 17 .2-4 .2-8 .2 42 .2-33 .2-6 .2 20 .2 4 .2-17 .2 13 .2-23 .2-4 .2 30 .2-44 .2 38 .2-15 .2 13 .2 5 .2 17 .2-45 .2 12 .2 28 .2-27 .2 12 .2-4 .2-2 .2 0 .2-3 .2-11 .2 1 .2-2 .2 27 .2-36 .2 15 .2 31 .2-14 .2 8 .2-20 .2-8 .2 15 .2-9 .2 0 .2-5 .2 24 .2 2 .2-6 .2 4 .2 13 .2-37 .2 9 .2 3 .2-4 .2 5 .2 3 .2-10 .2 13 .2-8 .2-20 .2 24 .2 7 .2-15 .2-2 .2-7 .2 18 .2-11 .2 10 .2-5 .2-6 .2 12 .2 24 .2-28 .2-2 .2 0 .2 11 .2 0 .2-34 .2 13 .2 17 .2 2 .2 0 .2-11 .2 8 .2-18 .2 24 .2-7 .2 4 .2-2 .2-7 .2 10 .2-21 .2 14 .2 0 .2 5 .2 3 .2-9 .2 20 .2-20 .2-15 .2 23 .2-4 .2-2 .2 6 .2-11 .2-15 .2 36 .2-11 .2 2 .2 2 .2-12 .2 13 .2-10 .2 19 .2-24 .2 3 .2-9 .2 28 .2-9 .2 14 .2-19 .2 2 .2-13 .2 9 .2 12 .2 2 .2-20 .2 9 .2 2 .2 2 .2 24 .2-28 .2 5 .2 6 .2-12 .2 5 .2 1 .2 20 .2-17 .2-19 .2 3 .2 6 .2 6 .2-7 .2 5 .2 2 .2-4 .2-10 .2 1 .2-1 .2 10 .2 4 .2-6 .2-6 .2-2 .2 23 .2-17 .2-11 .2 21 .2-12 .2 24 .2-18 .2 22 .2-20 .2-12 .2 8 .2-9 .2 9 .2-16 .2-14 .2 21 .2-1 .2 3 .2 22 .2-25 .2 20 .2-7 .2 6 .2-8 .2 7 .2-22 .2 10 .2 2 .2-7 .2-8 .2 25 .2-3 .2-9 .2 0 .2 20 .2-23 .2 25 .2 7 .2-10 .2-12 .2-21 .2 8 .2 7 .2 3 .2 7 .2 8 .2-17 .2 8 .2-5 .2 2 .2 2 .2-14 .2-11 .2 27 .2-6 .2 4 .2 0 .2 14 .2-14 .2-5 .2 8 .2-14 .2-6 .2 18 .2-2 .2-11 .2-5 .2 7 .2-6 .2 20 .2-6 .2-29 .2 40 .2 2 .2-4 .2 4 .2-20 .2-13 .2 15 .2 14 .2-31 .2 24 .2-4 .2 5 .2-15 .2-9 .2 15 .2 0 .2 17 .2-14 .2-27 .2 26 .2-20 .2-6 .2 9 .2-29 .2 38 .2-36 .2 20 .2-3 .2-26 .2 8 .2-9 .2 7 .2-5 .2-2 .2 15 .2 11 .2-15 .2-11 .2 24 .2-24 .2 0 .2 11 .2 12 .2-6 .2 9 .2-5 .2-16 .2 40 .2-24 .2 19 .2-16 .2 1 .2-9 .2 18 .2 3 .2 1 .2 7 .2-20 .2 13 .2-10 .2 23 .2-18 .2 9 .2-4 .2 15 .2-5 .2-16 .2 12 .2 3 .2 4 .2 4 .2-4 .2 11 .2-20 .2-8 .2-2 .2 14 .2 6 .2-13 .2 19 .2 7 .2-26 .2-8 .2 36 .2-24 .2 13 .2-11 .2-18 .2 27 .2-14 .2 1 .2 30 .2-25 .2 4 .2 13 .2-24 .2 20 .2 11 .2-11 .2 3 .2 5 .2-35 .2 2 .2 26 .2-12 .2 9 .2 14 .2-18 .2 15 .2-17 .2-10 .2-3 .2 22 .2-20 .2 25 .2-13 .2 2 .2-5 .2-10 .2 15 .2 5 .2-12 .2 0 .2 7 .2 14 .2-3 .2-9 .2-8 .2 12 .2 7 .2-10 .2-25 .2 10 .2 34 .2 1 .2-14 .2-5 .2 25 .2-22 .2 11 .2-33 .2 23 .2 20 .2-17 .2 18 .2-35 .2 24 .2-13 .2-1 .2 19 .2-16 .2 7 .2 11 .2-2 .2-20 .2-2 .2 9 .2 11 .2-8 .2 17 .2-44 .2 14 .2-2 .2 16 .2-5 .2-5 .2 15 .2-8 .2 7 .2-15 .2-1 .2 2 .2 13 .2-14 .2 31 .2-6 .2-21 .2-24 .2 42 .2-26 .2 8 .2-5 .2 21 .2-24 .2-6 .2 29 .2 3 .2-17 .2 9 .2-28 .2 17 .2 1 .2 18 .2-34 .2 23 .2-5 .2-11 .2 30 .2-29 .2 4 .2 10 .2 0 .2 5 .2-15 .2 1 .2 10 .2 6 .2 12 .2-21 .2 23 .2-33 .2 6 .2-2 .2 3 .2 2 .2-9 .2 24 .2 12 .2-12 .2 2 .2 3 .2-18 .2 8 .2-15 .2 4 .2 6 .2-6 .2 6 .2-10 .2 26 .2-20 .2 2 .2-7 .2 2 .2 5 .2 10 .2-32 .2 18 .2 14 .2-14 .2 4 .2 0 .2 5 .2-8 .2 30 .2-6 .2-31 .2 30 .2-37 .2 22 .2 2 .2-25 .2 21 .2 6 .2-1 .2-10 .2 7 .2-8 .2 5 .2-7 .2-10 .2 22 .2-16 .2 8 .2-10 .2 17 .2-11 .2 26 .2-17 .2 2 .2-17 .2 10 .2-6 .2 15 .2-2 .2-27 .2 36 .2-22 .2 4 .2 1 .2-1 .2 4 .2-5 .2-1 .2 20 .2-20 .2 1 .2 25 .2-12 .2-16 .2 11 .2 4 .2 6 .2 17 .2-22 .2-15 .2 11 .2-7 .2 26 .2-33 .2 11 .2-19 .2 26 .2-21 .2 8 .2 15 .2-26 .2 16 .2 2 .2-7 .2-2 .2-17 .2 18 .2-12 .2 16 .2 5 .2-23 .2 20 .2-9 .2 1 .2 2 .2 3 .2-2 .2-6 .2 16 .2 8 .2-39 .2 31 .2 1 .2-10 .2-24 .2 42 .2-7 .2-19 .2-12 .2 4 .2 37 .2-10 .2-18 .2 14 .2-11 .2-1 .2 4 .2-10 .2 2 .2 19 .2-6 .2-12 .2 19 .2 2 .2-13 .2 2 .2-11 .2 2 .2-5 .2 9 .2-2 .2-24 .2 24 .2 7 .2 10 .2 7 .2-12 .2-7 .2 4 .2-18 .2 16 .2-23 .2 6 .2-9 .2 18 .2-14 .2 17 .2-4 .2-12 .2 1 .2-12 .2 29 .2-22 .2 0 .2 15 .2 0 .2-16 .2 2 .2 7 .2 7 .2-18 .2 5 .2 5 .2-14 .2 1 .2 18 .2-19 .2 19 .2-12 .2 10 .2 0 .2-17 .2 29 .2-5 .2 28 .2-46 .2 17 .2-17 .2 25 .2-13 .2 9 .2 0 .2-4 .2 16 .2-6 .2-20 .2 0 .2-6 .2 5 .2 19 .2 8 .2-38 .2 24 .2-20 .2 20 .2-3 .2 9 .2-16 .2 13 .2-1 .2 10 .2-25 .2 29 .2 4 .2-6 .2-1 .2-14 .2-9 .2 27 .2-10 .2 7 .2-33 .2 34 .2-27 .2 10 .2 16 .2-11 .2-12 .2 10 .2-3 .2 13 .2-9 .2 6 .2-5 .2 3 .2 3 .2-4 .2 6 .2-3 .2 1 .2 6 .2-2 .2-21 .2 21 .2-6 .2 11 .2-5 .2-4 .2-16 .2 6 .2 8 .2-7 .2 24 .2 0 .2-26 .2 7 .2-3 .2 1 .2-9 .2 9 .2 6 .2-14 .2 14 .2 15 .2-12 .2 2 .2 21 .2-37 .2 16 .2-17 .2 13 .2-5 .2 2 .2 19 .2-12 .2-8 .2 11 .2 0 .2-6 .2-21 .2 19 .2-4 .2 12 .2-24 .2 4 .2 14 .2-3 .2 30 .2-44 .2 5 .2 24 .2-19 .2-3 .2-7 .2 9 .2 25 .2-4 .2-20 .2 9 .2-9 .2-2 .2 13 .2 0 .2-6 .2-13 .2 27 .2-21 .2 12 .2 4 .2-14 .2 6 .2-18 .2 2 .2 33 .2-26 .2 12 .2-1 .2-2 .2 14 .2-10 .2 2 .2-4 .2-11 .2 11 .2 12 .2-25 .2 7 .2-3 .2 2 .2 1 .2 6 .2-16 .2 12 .2-3 .2-22 .2 37 .2-14 .2 20 .2-22 .2 10 .2-2 .2-4 .2 23 .2-26 .2 1 .2 2 .2 15 .2-12 .2-2 .2 9 .2-20 .2 15 .2-14 .2 21 .2-16 .2 4 .2 4 .2 14 .2-23 .2 3 .2 12 .2-22 .2 12 .2 6 .2-13 .2 8 .2-16 .2 20 .2 4 .2-3 .2-8 .2 21 .2-30 .2-4 .2 14 .2-4 .2 5 .2-3 .2-4 .2-3 .2 20 .2-24 .2 32 .2-5 .2-20 .2 26 .2-3 .2-29 .2 18 .2-25 .2 17 .2-1 .2-5 .2 7 .2 20 .2-4 .2-15 .2 12 .2-26 .2 14 .2 4 .2-9 .2 3 .2-2 .2 16 .2 2 .2-4 .2-1 .2-9 .2 27 .2-33 .2 29 .2-18 .2-4 .2-9 .2-11 .2 25 .2-12 .2-5 .2 13 .2 3 .2 0 .2-14 .2 29 .2-3 .2 0 .2-16 .2 2 .2 30 .2-32 .2-5 .2-6 .2 20 .2 4 .2 9 .2-16 .2 7 .2-14 .2-2 .2-7 .2 0 .2 9 .2 21 .2-7 .2-5 .2 6 .2-7 .2-12 .2-1 .2-8 .2 26 .2-6 .2 4 .2-6 .2-13 .2 3 .2 8 .2-2 .2-14 .2 16 .2 17 .2-17 .2-16 .2 26 .2-1 .2 2 .2-19 .2-3 .2 4 .2 1 .2-5 .2 11 .2 2 .2 6 .2-10 .2-10 .2 11 .2 12 .2-7 .2 15 .2-20 .2 13 .2-7 .2-8 .2 15 .2 8 .2-6 .2 4 .2-6 .2-11 .2 7 .2-7 .2-2 .2 15 .2-16 .2-3 .2 32 .2-37 .2 6 .2 17 .2 7 .2 1 .2-6 .2-13 .2 18 .2-9 .2 5 .2 8 .2-9 .2-10 .2 0 .2 28 .2-30 .2-8 .2 21 .2 5 .2-7 .2-10 .2 4 .2 3 .2 11 .2-18 .2-11 .2 12 .2 4 .2 6 .2-21 .2 9 .2-6 .2 14 .2-24 .2 15 .2-15 .2 25 .2-10 .2 17 .2-40 .2 15 .2 18 .2-2 .2-4 .2 0 .2 4 .2-9 .2 0 .2-10 .2 3 .2 32 .2-15 .2-3 .2-6 .2-3 .2 0 .2 0 .2 14 .2-20 .2 4 .2 18 .2-8 .2-1 .2 11 .2-9 .2-10 .2 0 .2 9 .2-15 .2 21 .2-13 .2-12 .2 19 .2-16 .2 35 .2-13 .2 7 .2-26 .2 14 .2 18 .2-35 .2 12 .2 9 .2-5 .2-17 .2 24 .2-12 .2 9 .2-6 .2-3 .2 16 .2-14 .2-8 .2 24 .2-25 .2 10 .2 4 .2 2 .2-24 .2 8 .2 21 .2-14 .2 0 .2-15 .2 34 .2-27 .2-14 .2 34 .2-9 .2 1 .2-13 .2 25 .2-20 .2 4 .2-1 .2 19 .2-22 .2-4 .2-5 .2 11 .2 2 .2-4 .2 11 .2-8 .2-9 .2 0 .2-6 .2 30 .2-12 .2-11 .2 7 .2 5 .2-19 .2 13 .2-18 .2 16 .2 1 .2-8 .2-2 .2-1 .2 10 .2 8 .2 3 .2-13 .2 14 .2 5 .2-33 .2 20 .2-6 .2 18 .2-12 .2-18 .2 18 .2 7 .2-8 .2-8 .2 2 .2-6 .2 6 .2-3 .2 11 .2-12 .2-9 .2 5 .2-5 .2 6 .2 0 .2 0 .2 10 .2-12 .2-6 .2 1 .2-1 .2 8 .2-11 .2 14 .2-25 .2 17 .2-17 .2 18 .2 3 .2-11 .2 6 .2-16 .2 2 .2-2 .2 22 .2-22 .2 20 .2-20 .2 12 .2-12 .2 17 .2 0 .2-14 .2 20 .2-21 .2 1 .2-1 .2-2 .2 19 .2 0 .2 3 .2-6 .2 14 .2-3 .2-3 .2-11 .2-1 .2 27 .2-24 .2 18 .2-19 .2 12 .2 11 .2-20 .2 4 .2 6 .2 9 .2-24 .2 9 .2 27 .2-12 .2-12 .2-10 .2 11 .2 7 .2-9 .2 9 .2-8 .2-5 .2 5 .2 6 .2-2 .2 6 .2 2 .2 0 .2-5 .2-6 .2 5 .2-10 .2-8 .2 14 .2 4 .2 10 .2-11 .2 10 .2 0 .2 3 .2-7 .2 0 .2-5 .2 7 .2 18 .2-19 .2-12 .2 29 .2-23 .2 13 .2-16 .2 12 .2-14 .2 22 .2-4 .2-21 .2 2 .2 1 .2 2 .2-1 .2 13 .2-3 .2 3 .2 11 .2-24 .2-7 .2 28 .2 9 .2-34 .2 13 .2 0 .2 6 .2-9 .2 3 .2 5 .2 3 .2-13 .2 15 .2 3 .2-3 .2-11 .2 10 .2 2 .2-5 .2 4 .2 5 .2 1 .2-3 .2-12 .2-18 .2 31 .2-5 .2-6 .2-5 .2 10 .2-11 .2 2 .2 10 .2 2 .2 4 .2-10 .2 4 .2-13 .2 16 .2-7 .2-6 .2 1 .2 6 .2-14 .2 13 .2 2 .2 3 .2-5 .2 10 .2-12 .2-11 .2 12 .2-1 .2-10 .2 8 .2-6 .2 14 .2-23 .2 22 .2 1 .2-6 .2-3 .2 18 .2-31 .2 11 .2 6 .2 7 .2 1 .2-4 .2-17 .2 12 .2-2 .2 7 .2 0 .2-9 .2 6 .2-13 .2 16 .2-6 .2 1 .2-12 .2 8 .2 10 .2 9 .2-25 .2 17 .2-13 .2 16 .2-19 .2 5 .2 2 .2 3 .2-3 .2 4 .2 0 .2 0 .2-10 .2 8 .2 4 .2 8 .2-11 .2-8 .2 25 .2-7 .2-22 .2 14 .2-4 .2 5 .2-12 .2 8 .2 8 .2-4 .2-9 .2 16 .2 1 .2-13 .2-3 .2 3 .2 4 .2-24 .2 19 .2 11 .2-22 .2 8 .2-6 .2 12 .2 4 .2-6 .2-2 .2 2 .2-5 .2 9 .2 1 .2-8 .2-4 .2 2 .2 4 .2-5 .2 11 .2-1 .2-21 .2 2 .2-11 .2 21 .2-13 .2 14 .2-20 .2 9 .2-14 .2 5 .2 6 .2-3 .2 3 .2-15 .2-2 .2 5 .2 1 .2-6 .2 0 .2 0 .2 5 .2-1 .2-4 .2 9 .2-8 .2 10 .2-6 .2 1 .2-6 .2 7 .2 5 .2-12 .2 17 .2 1 .2-2 .2 7 .2-16 .2 15 .2-7 .2 4 .2 2 .2-5 .2 18 .2-5 .2-6 .2 21 .2-6 .2-6 .2 1 .2-9 .2 26 .2-23 .2-8 .2 21 .2-14 .2 8 .2 5 .2-3 .2-4 .2 7 .2-11 .2 6 .2 7 .2-5 .2 9 .2 3 .2-24 .2 15 .2-1 .2 5 .2-9 .2 15 .2-13 .2 13 .2-13 .2 4 .2-5 .2 10 .2-17 .2 6 .2-2 .2 0 .2-5 .2 13 .2 0 .2 0 .2-2 .2-4 .2 0 .2 3 .2 1 .2 5 .2-16 .2 11 .2-1 .2 2 .2-7 .2 17 .2-10 .2-1 .2-2 .2 8 .2 1 .2 4 .2-15 .2-2 .2 3 .2 11 .2-10 .2-3 .2-5 .2-2 .2 18 .2 0 .2 6 .2 0 .2-3 .2-15 .2 21 .2-8 .2 8 .2-2 .2-10 .2 2 .2-4 .2 16 .2-8 .2-7 .2 0 .2 2 .2 5 .2 0 .2 3 .2-9 .2-5 .2 6 .2-7 .2 6 .2 10 .2-10 .2-18 .2 30 .2-18 .2 4 .2 8 .2-4 .2 11 .2-3 .2-13 .2-1 .2-2 .2 6 .2 9 .2 0 .2 3 .2-11 .2 10 .2 0 .2-13 .2-8 .2 15 .2-6 .2 0 .2 8 .2-3 .2 3 .2-7 .2 9 .2-14 .2-4 .2 13 .2-1 .2-6 .2 9 .2-4 .2 7 .2-10 .2 3 .2-5 .2 0 .2 9 .2-9 .2 9 .2 1 .2-4 .2-1 .2 1 .2-6 .2 9 .2 0 .2 3 .2-4 .2-8 .2-2 .2 19 .2-21 .2 15 .2-5 .2-2 .2-1 .2 1 .2 4 .2-14 .2 13 .2-7 .2 6 .2 11 .2-8 .2-12 .2 16 .2-6 .2 0 .2 1 .2 0 .2 1 .2-6 .2 8 .2-2 .2-9 .2 13 .2-22 .2 16 .2 16 .2-14 .2-7 .2-1 .2-1 .2 17 .2-5 .2-4 .2-5 .2-2 .2 11 .2-6 .2-10 .2 14 .2-4 .2-4 .2-1 .2-4 .2 12 .2-10 .2 9 .2 2 .2-10 .2 19 .2-13 .2 5 .2-2 .2-3 .2-9 .2-7 .2 16 .2 0 .2 3 .2-11 .2 2 .2 3 .2-10 .2 17 .2 3 .2-6 .2-8 .2 3 .2 0 .2-6 .2 18 .2-17 .2-1 .2-5 .2 8 .2 11 .2 5 .2-5 .2-4 .2-2 .2-7 .2 4 .2-8 .2 18 .2-16 .2 7 .2 2 .2-5 .2 6 .2-3 .2 1 .2-16 .2 9 .2 6 .2-10 .2-1 .2 10 .2 0 .2-6 .2-12 .2 17 .2 1 .2 5 .2-3 .2 4 .2-17 .2 1 .2 4 .2 2 .2-5 .2 4 .2-9 .2-1 .2 8 .2 2 .2-3 .2-4 .2-8 .2-3 .2 2 .2-6 .2 3 .2 2 .2-5 .2 8 .2-7 .2 10 .2-1 .2-5 .2-5 .2 6 .2-6 .2 0 .2 2 .2-2 .2 6 .2-6 .2 8 .2 5 .2-7 .2 3 .2 0 .2 0 .2 16 .2-13 .2-4 .2-5 .2 21 .2 3 .2-1 .2 0 .2-10 .2 8 .2 10 .2-24 .2 13 .2 2 .2-5 .2 16 .2-7 .2 5 .2-7 .2 7 .2-16 .2-6 .2 18 .2-5 .2 2 .2 2 .2-1 .2 10 .2-8 .2 10 .2-13 .2 9 .2-14 .2 4 .2-5 .2 10 .2-7 .2 9 .2-13 .2 8 .2-14 .2 23 .2-10 .2 5 .2 2 .2 5 .2-17 .2 11 .2 0 .2 2 .2-3 .2-5 .2 4 .2-1 .2 6 .2-16 .2-2 .2 17 .2-7 .2-2 .2 5 .2-8 .2 3 .2 5 .2 11 .2 0 .2-12 .2-5 .2 7 .2 14 .2-13 .2 6 .2-3 .2-1 .2-16 .2 11 .2 9 .2 3 .2-16 .2 18 .2-9 .2-4 .2-2 .2-9 .2 22 .2-22 .2 12 .2-10 .2 4 .2 3 .2 7 .2-2 .2 3 .2-21 .2 25 .2 3 .2-8 .2-11 .2-5 .2 11 .2 1 .2-8 .2 10 .2-13 .2 11 .2-2 .2-8 .2 14 .2 2 .2 11 .2-23 .2 23 .2-12 .2-23 .2 20 .2-17 .2 9 .2 14 .2-7 .2 2 .2 11 .2-10 .2 1 .2-3 .2-4 .2 8 .2 2 .2-7 .2 8 .2 0 .2 4 .2-1 .2-18 .2 2 .2 6 .2-12 .2 15 .2 0 .2-7 .2 4 .2-1 .2 8 .2 0 .2-11 .2 18 .2-7 .2-9 .2-6 .2 8 .2 2 .2 4 .2-3 .2 2 .2-2 .2 3 .2-10 .2 5 .2-9 .2 13 .2 6 .2-32 .2 10 .2 19 .2 5 .2-13 .2-4 .2 0 .2 2 .2-8 .2 4 .2 5 .2 4 .2-7 .2 1 .2 0 .2 7 .2-3 .2 4 .2-5 .2-2 .2-2 .2 10 .2-5 .2-6 .2 6 .2-16 .2 7 .2 22 .2-25 .2 4 .2 7 .2 12 .2-20 .2 8 .2-5 .2-6 .2 10 .2 5 .2 4 .2-28 .2 5 .2 5 .2 7 .2 10 .2-10 .2-3 .2-1 .2 8 .2-4 .2 1 .2-4 .2 16 .2-14 .2 8 .2-14 .2 5 .2 12 .2-8 .2 6 .2 0 .2-11 .2-1 .2 20 .2-13 .2-11 .2 6 .2-4 .2 13 .2-2 .2-6 .2 7 .2 6 .2-5 .2-3 .2-3 .2-1 .2 6 .2-10 .2 7 .2 4 .2 5 .2 0 .2-9 .2 0 .2 0 .2 6 .2-7 .2 10 .2-8 .2 7 .2-27 .2 12 .2 11 .2 3 .2 1 .2-7 .2 3 .2 5 .2-7 .2-8 .2 12 .2-11 .2 10 .2 1 .2-12 .2 6 .2 0 .2 7 .2-4 .2 1 .2-3 .2-4 .2 2 .2 14 .2-8 .2-2 .2 4 .2-11 .2 0 .2 5 .2 6 .2-7 .2 8 .2-9 .2 1 .2 8 .2-20 .2 20 .2-8 .2 3 .2 11 .2-13 .2-11 .2 6 .2-9 .2 21 .2-17 .2-5 .2 20 .2-13 .2 11 .2-7 .2 0 .2 10 .2 12 .2-24 .2 7 .2-3 .2 3 .2 1 .2 7 .2 1 .2-7 .2 4 .2 3 .2-8 .2-2 .2-4 .2 8 .2 1 .2-17 .2 8 .2 2 .2 0 .2 13 .2-17 .2-2 .2 9 .2-6 .2-2 .2 9 .2-2 .2-4 .2-4 .2 15 .2-2 .2-3 .2-6 .2-1 .2 15 .2-22 .2 14 .2 2 .2 2 .2 2 .2-8 .2-11 .2 11 .2 9 .2-7 .2-3 .2 4 .2 1 .2 0 .2-7 .2-10 .2 15 .2 8 .2-1 .2-1 .2-9 .2-3 .2 8 .2-1 .2-2 .2-7 .2 7 .2-3 .2-1 .2 7 .2 5 .2-15 .2 16 .2-13 .2-1 .2-6 .2 14 .2-12 .2 6 .2-3 .2 10 .2-12 .2 12 .2 2 .2-5 .2-6 .2 11 .2-15 .2 12 .2 8 .2-14 .2-1 .2 11 .2-4 .2-2 .2 1 .2 4 .2-10 .2-2 .2 3 .2 3 .2-4 .2 11 .2-9 .2-16 .2 16 .2 4"/>
<g fill="#000">
<circle cx="530.3" cy="684.5" r="10.6"/>
<circle cx="608.0" cy="701.5" r="10.6"/>
<circle cx="715.5" cy="753.6" r="10.6"/>
<circle cx="767.2" cy="731.7" r="10.6"/>
<circle cx="801.6" cy="740.7" r="10.6"/>
<circle cx="883.6" cy="766.5" r="10.6"/>
<circle cx="956.9" cy="787.9" r="10.6"/>
<circle cx="1025.8" cy="774.7" r="10.6"/>
<circle cx="1095.1" cy="796.7" r="10.6"/>
<circle cx="1401.0" cy="797.0" r="10.6"/>
<circle cx="215.5" cy="1106.5" r="10.6"/>
<circle cx="332.0" cy="1120.0" r="10.6"/>
<circle cx="452.6" cy="1055.0" r="10.6"/>
<circle cx="530.3" cy="1020.4" r="10.6"/>
<circle cx="603.9" cy="1025.0" r="10.6"/>
<circle cx="646.5" cy="1132.5" r="10.6"/>
<circle cx="733.0" cy="1025.0" r="10.6"/>
<circle cx="763.0" cy="1072.5" r="10.6"/>
<circle cx="802.0" cy="1020.4" r="10.6"/>
<circle cx="900.8" cy="1042.0" r="10.6"/>
<circle cx="957.0" cy="1042.3" r="10.6"/>
<circle cx="995.9" cy="1159.0" r="10.6"/>
<circle cx="1034.4" cy="1103.0" r="10.6"/>
<circle cx="1077.4" cy="1146.5" r="10.6"/>
<circle cx="1094.4" cy="1103.0" r="10.6"/>
<circle cx="1224.6" cy="1076.0" r="10.6"/>
<circle cx="1258.2" cy="1103.0" r="10.6"/>
<circle cx="1284.2" cy="1094.4" r="10.6"/>
<circle cx="1344.7" cy="1154.4" r="10.6"/>
<circle cx="1405.4" cy="1128.7" r="10.6"/>
<circle cx="1439.8" cy="1059.5" r="10.6"/>
<circle cx="1517.6" cy="1154.4" r="10.6"/>
<circle cx="1586.0" cy="1137.0" r="10.6"/>
<circle cx="1629.4" cy="1154.4" r="10.6"/>
<circle cx="327.8" cy="1443.0" r="10.6"/>
<circle cx="456.9" cy="1335.4" r="10.6"/>
<circle cx="499.6" cy="1291.6" r="10.6"/>
<circle cx="603.9" cy="1378.5" r="10.6"/>
<circle cx="681.2" cy="1404.0" r="10.6"/>
<circle cx="715.7" cy="1412.9" r="10.6"/>
<circle cx="759.3" cy="1383.0" r="10.6"/>
<circle cx="818.8" cy="1403.7" r="10.6"/>
<circle cx="896.8" cy="1331.5" r="10.6"/>
<circle cx="948.6" cy="1482.0" r="10.6"/>
<circle cx="1025.8" cy="1464.6" r="10.6"/>
<circle cx="1069.5" cy="1455.5" r="10.6"/>
<circle cx="1094.4" cy="1473.0" r="10.6"/>
<circle cx="1262.5" cy="1469.0" r="10.6"/>
<circle cx="1289.2" cy="1477.7" r="10.6"/>
<circle cx="1345.2" cy="1468.8" r="10.6"/>
<circle cx="1413.7" cy="1499.0" r="10.6"/>
<circle cx="1517.6" cy="1491.0" r="10.6"/>
<circle cx="1568.7" cy="1499.7" r="10.6"/>
<circle cx="1629.4" cy="1512.3" r="10.6"/>
<path d="M342.2,1339.7l14.3,24.3h-28.6z"/>
<path d="M377.0,1356.8l14.3,24.3h-28.6z"/>
<path d="M411.2,1439.4l14.3,24.3h-28.6z"/>
<path d="M432.7,1374.0l14.3,24.3h-28.6z"/>
<path d="M471.4,1279.6l14.3,24.3h-28.6z"/>
<path d="M544.8,1292.0l14.3,24.3h-28.6z"/>
<path d="M570.9,1326.6l14.3,24.3h-28.6z"/>
<path d="M626.3,1447.7l14.3,24.3h-28.6z"/>
<path d="M790.5,1305.7l14.3,24.3h-28.6z"/>
<path d="M846.2,1400.4l14.3,24.3h-28.6z"/>
<path d="M863.6,1326.5l14.3,24.3h-28.6z"/>
<path d="M1122.4,1429.6l14.3,24.3h-28.6z"/>
<path d="M1321.0,1483.0l14.3,24.3h-28.6z"/>
</g>
<rect x="162" y="31.2" width="1551.4" height="1552.8" fill="none" stroke="#000" stroke-width="9"/>
<path fill="none" stroke="#000" stroke-width="7" d="M200.8,35.5v12.5M200.8,1579.5v-12.5M239.6,35.5v12.5M239.6,1579.5v-12.5M278.4,35.5v12.5M278.4,1579.5v-12.5M317.1,35.5v12.5M317.1,1579.5v-12.5M355.9,35.5v24.5M355.9,1579.5v-24.5M394.7,35.5v12.5M394.7,1579.5v-12.5M433.5,35.5v12.5M433.5,1579.5v-12.5M472.3,35.5v12.5M472.3,1579.5v-12.5M511.1,35.5v12.5M511.1,1579.5v-12.5M549.9,35.5v24.5M549.9,1579.5v-24.5M588.6,35.5v12.5M588.6,1579.5v-12.5M627.4,35.5v12.5M627.4,1579.5v-12.5M666.2,35.5v12.5M666.2,1579.5v-12.5M705.0,35.5v12.5M705.0,1579.5v-12.5M743.8,35.5v24.5M743.8,1579.5v-24.5M782.6,35.5v12.5M782.6,1579.5v-12.5M821.3,35.5v12.5M821.3,1579.5v-12.5M860.1,35.5v12.5M860.1,1579.5v-12.5M898.9,35.5v12.5M898.9,1579.5v-12.5M937.7,35.5v24.5M937.7,1579.5v-24.5M976.5,35.5v12.5M976.5,1579.5v-12.5M1015.3,35.5v12.5M1015.3,1579.5v-12.5M1054.1,35.5v12.5M1054.1,1579.5v-12.5M1092.8,35.5v12.5M1092.8,1579.5v-12.5M1131.6,35.5v24.5M1131.6,1579.5v-24.5M1170.4,35.5v12.5M1170.4,1579.5v-12.5M1209.2,35.5v12.5M1209.2,1579.5v-12.5M1248.0,35.5v12.5M1248.0,1579.5v-12.5M1286.8,35.5v12.5M1286.8,1579.5v-12.5M1325.5,35.5v24.5M1325.5,1579.5v-24.5M1364.3,35.5v12.5M1364.3,1579.5v-12.5M1403.1,35.5v12.5M1403.1,1579.5v-12.5M1441.9,35.5v12.5M1441.9,1579.5v-12.5M1480.7,35.5v12.5M1480.7,1579.5v-12.5M1519.5,35.5v24.5M1519.5,1579.5v-24.5M1558.3,35.5v12.5M1558.3,1579.5v-12.5M1597.0,35.5v12.5M1597.0,1579.5v-12.5M1635.8,35.5v12.5M1635.8,1579.5v-12.5M1674.6,35.5v12.5M1674.6,1579.5v-12.5"/>
<g font-family="'Liberation Serif', 'Times New Roman', serif" font-size="64" text-anchor="middle" fill="#000">
<text x="162.0" y="1675">10</text>
<text x="355.9" y="1675">20</text>
<text x="549.9" y="1675">30</text>
<text x="743.8" y="1675">40</text>
<text x="937.7" y="1675">50</text>
<text x="1131.6" y="1675">60</text>
<text x="1325.5" y="1675">70</text>
<text x="1519.5" y="1675">80</text>
<text x="1713.4" y="1675">90</text>
</g>
<g font-family="'Liberation Serif', 'Times New Roman', serif" font-size="61" font-weight="bold" fill="#000" text-anchor="end">
<text x="1633" y="165.0">300 mmol/dm</text>
<text x="1653" y="133.0" font-size="38" font-weight="bold">3</text>
<text x="1633" y="363.7">200 mmol/dm</text>
<text x="1653" y="331.7" font-size="38" font-weight="bold">3</text>
<text x="1633" y="566.3">150 mmol/dm</text>
<text x="1653" y="534.3" font-size="38" font-weight="bold">3</text>
<text x="1633" y="747.8">100 mmol/dm</text>
<text x="1653" y="715.8" font-size="38" font-weight="bold">3</text>
<text x="1633" y="1002.0">50 mmol/dm</text>
<text x="1653" y="970.0" font-size="38" font-weight="bold">3</text>
<text x="1633" y="1335.0">25 mmol/dm</text>
<text x="1653" y="1303.0" font-size="38" font-weight="bold">3</text>
</g>
<g font-family="'Liberation Serif', 'Times New Roman', serif" font-weight="bold" font-size="104" fill="#000">
<text transform="translate(106,1426.1) rotate(-90)">Intensity</text>
<text transform="translate(106,1010.3) rotate(-90) scale(1.18,1)">(</text>
<text transform="translate(106,948.2) rotate(-90)">Arbitrary</text>
<text transform="translate(106,486.1) rotate(-90)">Units</text>
<text transform="translate(106,227) rotate(-90) scale(1.18,1)">)</text>
</g>
<g font-family="'Liberation Serif', 'Times New Roman', serif" font-weight="bold" font-size="105" fill="#000">
<text x="469" y="1773">2</text>
<text transform="translate(544,1773) scale(1.2,1)" font-weight="normal">θ</text>
<text x="625" y="1773">Degrees</text>
<text x="1005" y="1773">(</text>
<text x="1064" y="1773">Cu</text>
<text x="1221" y="1773">K</text>
<text transform="translate(1303,1826) scale(1.2,1)" font-weight="normal" font-size="72">α</text>
<text x="1370" y="1773">)</text>
</g>
</svg>
</body></html>
